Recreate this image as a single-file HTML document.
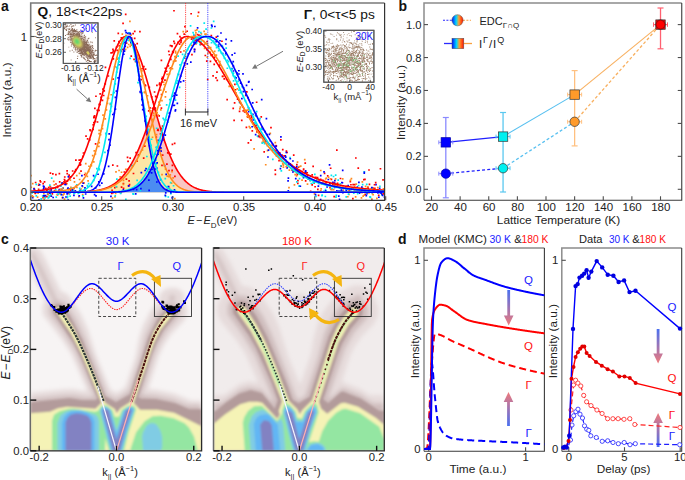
<!DOCTYPE html>
<html><head><meta charset="utf-8"><style>
html,body{margin:0;padding:0;background:#fff;width:685px;height:480px;overflow:hidden}
svg{display:block}
text{font-family:"Liberation Sans", sans-serif}
</style></head><body>
<svg width="685" height="480" viewBox="0 0 685 480">
<defs>
<filter id="b1" x="-20%" y="-20%" width="140%" height="140%"><feGaussianBlur stdDeviation="1"/></filter>
<filter id="b2" x="-20%" y="-20%" width="140%" height="140%"><feGaussianBlur stdDeviation="2"/></filter>
<filter id="b3" x="-30%" y="-30%" width="160%" height="160%"><feGaussianBlur stdDeviation="3"/></filter>
<filter id="b5" x="-30%" y="-30%" width="160%" height="160%"><feGaussianBlur stdDeviation="5"/></filter>
<filter id="b8" x="-40%" y="-40%" width="180%" height="180%"><feGaussianBlur stdDeviation="8"/></filter>
<clipPath id="clipA"><rect x="30.7" y="3" width="354.5" height="197.3"/></clipPath>
<clipPath id="clipCL"><rect x="30.3" y="248" width="171.3" height="202.8"/></clipPath>
<clipPath id="clipCR"><rect x="213.5" y="248" width="170.8" height="202.8"/></clipPath>
<linearGradient id="gDown" x1="0" y1="0" x2="0" y2="1"><stop offset="0" stop-color="#4a70f0"/><stop offset="1" stop-color="#f07a7a"/></linearGradient>
<linearGradient id="gUp" x1="0" y1="1" x2="0" y2="0"><stop offset="0" stop-color="#4a70f0"/><stop offset="1" stop-color="#f07a7a"/></linearGradient>
<linearGradient id="gLeg" x1="0" y1="0" x2="1" y2="0"><stop offset="0" stop-color="#0010ff"/><stop offset="0.38" stop-color="#00d8ff"/><stop offset="0.62" stop-color="#ffa030"/><stop offset="1" stop-color="#ff1000"/></linearGradient>
</defs>
<rect x="0" y="0" width="685" height="480" fill="#fff"/>
<text x="1" y="10.5" font-size="14" text-anchor="start" fill="#111" font-weight="bold">a</text>
<text x="398.5" y="10.5" font-size="14" text-anchor="start" fill="#111" font-weight="bold">b</text>
<text x="1" y="243.5" font-size="14" text-anchor="start" fill="#111" font-weight="bold">c</text>
<text x="398" y="243.5" font-size="14" text-anchor="start" fill="#111" font-weight="bold">d</text>
<g clip-path="url(#clipA)">
<path d="M90.2 192.3 L90.2 191.42 L90.7 191.37 L91.2 191.32 L91.7 191.26 L92.2 191.21 L92.7 191.15 L93.2 191.09 L93.7 191.02 L94.2 190.96 L94.7 190.89 L95.2 190.81 L95.7 190.73 L96.2 190.65 L96.7 190.57 L97.2 190.48 L97.7 190.39 L98.2 190.29 L98.7 190.19 L99.2 190.09 L99.7 189.98 L100.2 189.86 L100.7 189.74 L101.2 189.62 L101.7 189.49 L102.2 189.35 L102.7 189.21 L103.2 189.06 L103.7 188.91 L104.2 188.75 L104.7 188.58 L105.2 188.41 L105.7 188.23 L106.2 188.04 L106.7 187.85 L107.2 187.65 L107.7 187.44 L108.2 187.22 L108.7 187 L109.2 186.76 L109.7 186.52 L110.2 186.27 L110.7 186.01 L111.2 185.73 L111.7 185.45 L112.2 185.16 L112.7 184.86 L113.2 184.55 L113.7 184.23 L114.2 183.9 L114.7 183.55 L115.2 183.2 L115.7 182.83 L116.2 182.45 L116.7 182.06 L117.2 181.65 L117.7 181.24 L118.2 180.81 L118.7 180.36 L119.2 179.9 L119.7 179.43 L120.2 178.95 L120.7 178.45 L121.2 177.93 L121.7 177.4 L122.2 176.85 L122.7 176.29 L123.2 175.72 L123.7 175.12 L124.2 174.51 L124.7 173.89 L125.2 173.25 L125.7 172.59 L126.2 171.91 L126.7 171.21 L127.2 170.5 L127.7 169.77 L128.2 169.03 L128.7 168.26 L129.2 167.48 L129.7 166.67 L130.2 165.85 L130.7 165.01 L131.2 164.16 L131.7 163.28 L132.2 162.38 L132.7 161.47 L133.2 160.53 L133.7 159.58 L134.2 158.61 L134.7 157.61 L135.2 156.6 L135.7 155.57 L136.2 154.52 L136.7 153.45 L137.2 152.36 L137.7 151.25 L138.2 150.13 L138.7 148.98 L139.2 147.82 L139.7 146.63 L140.2 145.43 L140.7 144.21 L141.2 142.97 L141.7 141.72 L142.2 140.45 L142.7 139.16 L143.2 137.85 L143.7 136.52 L144.2 135.18 L144.7 133.83 L145.2 132.45 L145.7 131.07 L146.2 129.67 L146.7 128.25 L147.2 126.82 L147.7 125.37 L148.2 123.92 L148.7 122.45 L149.2 120.97 L149.7 119.48 L150.2 117.98 L150.7 116.46 L151.2 114.94 L151.7 113.41 L152.2 111.88 L152.7 110.33 L153.2 108.78 L153.7 107.22 L154.2 106.5 L154.7 108.3 L155.2 110.09 L155.7 111.88 L156.2 113.65 L156.7 115.41 L157.2 117.16 L157.7 118.9 L158.2 120.63 L158.7 122.34 L159.2 124.03 L159.7 125.71 L160.2 127.37 L160.7 129.01 L161.2 130.64 L161.7 132.24 L162.2 133.83 L162.7 135.39 L163.2 136.93 L163.7 138.45 L164.2 139.95 L164.7 141.43 L165.2 142.88 L165.7 144.31 L166.2 145.71 L166.7 147.09 L167.2 148.45 L167.7 149.78 L168.2 151.08 L168.7 152.36 L169.2 153.62 L169.7 154.85 L170.2 156.05 L170.7 157.23 L171.2 158.38 L171.7 159.5 L172.2 160.61 L172.7 161.68 L173.2 162.73 L173.7 163.75 L174.2 164.75 L174.7 165.73 L175.2 166.67 L175.7 167.6 L176.2 168.5 L176.7 169.37 L177.2 170.22 L177.7 171.05 L178.2 171.86 L178.7 172.64 L179.2 173.39 L179.7 174.13 L180.2 174.84 L180.7 175.54 L181.2 176.21 L181.7 176.85 L182.2 177.48 L182.7 178.09 L183.2 178.68 L183.7 179.25 L184.2 179.8 L184.7 180.33 L185.2 180.84 L185.7 181.33 L186.2 181.81 L186.7 182.27 L187.2 182.72 L187.7 183.14 L188.2 183.55 L188.7 183.95 L189.2 184.33 L189.7 184.7 L190.2 185.05 L190.7 185.39 L191.2 185.71 L191.7 186.03 L192.2 186.33 L192.7 186.61 L193.2 186.89 L193.7 187.15 L194.2 187.41 L194.7 187.65 L195.2 187.88 L195.7 188.1 L196.2 188.31 L196.7 188.52 L197.2 188.71 L197.7 188.9 L198.2 189.07 L198.7 189.24 L199.2 189.4 L199.7 189.56 L200.2 189.7 L200.7 189.84 L201.2 189.98 L201.7 190.1 L202.2 190.22 L202.7 190.34 L203.2 190.45 L203.7 190.55 L204.2 190.65 L204.7 190.74 L205.2 190.83 L205.7 190.91 L206.2 190.99 L206.7 191.07 L207.2 191.14 L207.7 191.21 L208.2 191.27 L208.7 191.33 L209.2 191.39 L209.7 191.45 L210.2 191.5 L210.7 191.55 L211.2 191.59 L211.7 191.64 L212.2 191.68 L212.7 191.72 L213.2 191.75 L213.7 191.79 L214.2 191.82 L214.7 191.85 L215.2 191.88 L215.7 191.91 L216.2 191.93 L216.7 191.95 L217.2 191.98 L217.7 192 L218.2 192.02 L218.7 192.04 L219.2 192.05 L219.7 192.07 L220.2 192.09 L220.7 192.1 L221.2 192.11 L221.7 192.13 L222.2 192.14 L222.7 192.15 L223.2 192.16 L223.7 192.17 L224.2 192.18 L224.7 192.19 L225.2 192.2 L225.7 192.2 L226.2 192.21 L226.7 192.22 L227.2 192.22 L227.7 192.23 L228.2 192.23 L228.7 192.24 L229.2 192.24 L229.7 192.25 L230.2 192.25 L230.7 192.25 L231.2 192.26 L231.7 192.26 L232.2 192.26 L232.7 192.27 L233.2 192.27 L233.7 192.27 L234.2 192.27 L234.7 192.28 L235.2 192.28 L235.7 192.28 L236.2 192.28 L236.7 192.28 L237.2 192.28 L237.7 192.29 L238.2 192.29 L238.7 192.29 L239.2 192.29 L239.7 192.29 L240.2 192.29 L240.7 192.29 L241.2 192.29 L241.7 192.29 L242.2 192.29 L242.7 192.29 L243.2 192.29 L243.7 192.29 L244.2 192.3 L244.7 192.3 L245.2 192.3 L245.7 192.3 L246.2 192.3 L246.7 192.3 L247.2 192.3 L247.7 192.3 L248.2 192.3 L248.7 192.3 L249.2 192.3 L249.7 192.3 L250.2 192.3 L250.7 192.3 L251.2 192.3 L251.7 192.3 L252.2 192.3 L252.7 192.3 L253.2 192.3 L253.7 192.3 L254.2 192.3 L254.7 192.3 L255.2 192.3 L255.7 192.3 L256.2 192.3 L256.7 192.3 L257.2 192.3 L257.7 192.3 L258.2 192.3 L258.7 192.3 L259.2 192.3 L259.7 192.3 L260.2 192.3 L260.7 192.3 L261.2 192.3 L261.7 192.3 L262.2 192.3 L262.7 192.3 L263.2 192.3 L263.7 192.3 L264.2 192.3 L264.7 192.3 L265.2 192.3 L265.7 192.3 L266.2 192.3 L266.7 192.3 L267.2 192.3 L267.7 192.3 L268.2 192.3 L268.7 192.3 L269.2 192.3 L269.7 192.3 L270.2 192.3 L270.7 192.3 L271.2 192.3 L271.7 192.3 L272.2 192.3 L272.7 192.3 L273.2 192.3 L273.7 192.3 L274.2 192.3 L274.7 192.3 L275.2 192.3 L275.7 192.3 L276.2 192.3 L276.7 192.3 L277.2 192.3 L277.7 192.3 L278.2 192.3 L278.7 192.3 L279.2 192.3 L279.7 192.3 L280.2 192.3 L280.7 192.3 L281.2 192.3 L281.7 192.3 L282.2 192.3 L282.7 192.3 L283.2 192.3 L283.7 192.3 L284.2 192.3 L284.7 192.3 L285.2 192.3 L285.7 192.3 L286.2 192.3 L286.7 192.3 L287.2 192.3 L287.7 192.3 L288.2 192.3 L288.7 192.3 L289.2 192.3 L289.7 192.3 L290.2 192.3 L290.7 192.3 L291.2 192.3 L291.7 192.3 L292.2 192.3 L292.7 192.3 L293.2 192.3 L293.7 192.3 L294.2 192.3 L294.7 192.3 L295.2 192.3 L295.7 192.3 L296.2 192.3 L296.7 192.3 L297.2 192.3 L297.7 192.3 L298.2 192.3 L298.7 192.3 L299.2 192.3 L299.7 192.3 L299.7 192.3 Z" fill="#f9c6c4" stroke="none"/>
<path d="M90.2 192.3 L90.2 191.51 L90.7 191.47 L91.2 191.42 L91.7 191.38 L92.2 191.33 L92.7 191.28 L93.2 191.23 L93.7 191.17 L94.2 191.12 L94.7 191.06 L95.2 190.99 L95.7 190.93 L96.2 190.86 L96.7 190.79 L97.2 190.71 L97.7 190.63 L98.2 190.55 L98.7 190.47 L99.2 190.38 L99.7 190.29 L100.2 190.19 L100.7 190.09 L101.2 189.99 L101.7 189.88 L102.2 189.76 L102.7 189.65 L103.2 189.52 L103.7 189.4 L104.2 189.26 L104.7 189.13 L105.2 188.98 L105.7 188.83 L106.2 188.68 L106.7 188.52 L107.2 188.35 L107.7 188.18 L108.2 188 L108.7 187.81 L109.2 187.62 L109.7 187.42 L110.2 187.21 L110.7 187 L111.2 186.77 L111.7 186.54 L112.2 186.3 L112.7 186.06 L113.2 185.8 L113.7 185.54 L114.2 185.26 L114.7 184.98 L115.2 184.69 L115.7 184.39 L116.2 184.07 L116.7 183.75 L117.2 183.42 L117.7 183.08 L118.2 182.72 L118.7 182.36 L119.2 181.98 L119.7 181.6 L120.2 181.2 L120.7 180.79 L121.2 180.36 L121.7 179.93 L122.2 179.48 L122.7 179.02 L123.2 178.54 L123.7 178.05 L124.2 177.55 L124.7 177.04 L125.2 176.51 L125.7 175.97 L126.2 175.41 L126.7 174.83 L127.2 174.25 L127.7 173.64 L128.2 173.03 L128.7 172.39 L129.2 171.75 L129.7 171.08 L130.2 170.4 L130.7 169.7 L131.2 168.99 L131.7 168.26 L132.2 167.51 L132.7 166.75 L133.2 165.97 L133.7 165.18 L134.2 164.36 L134.7 163.53 L135.2 162.68 L135.7 161.82 L136.2 160.94 L136.7 160.04 L137.2 159.12 L137.7 158.18 L138.2 157.23 L138.7 156.26 L139.2 155.27 L139.7 154.27 L140.2 153.25 L140.7 152.21 L141.2 151.15 L141.7 150.07 L142.2 148.98 L142.7 147.87 L143.2 146.75 L143.7 145.61 L144.2 144.45 L144.7 143.27 L145.2 142.08 L145.7 140.87 L146.2 139.65 L146.7 138.41 L147.2 137.16 L147.7 135.89 L148.2 134.6 L148.7 133.31 L149.2 131.99 L149.7 130.67 L150.2 129.33 L150.7 127.98 L151.2 126.61 L151.7 125.24 L152.2 123.85 L152.7 124.06 L153.2 126.24 L153.7 128.39 L154.2 130.51 L154.7 132.59 L155.2 134.64 L155.7 136.66 L156.2 138.63 L156.7 140.57 L157.2 142.47 L157.7 144.34 L158.2 146.16 L158.7 147.93 L159.2 149.67 L159.7 151.37 L160.2 153.02 L160.7 154.63 L161.2 156.19 L161.7 157.71 L162.2 159.19 L162.7 160.63 L163.2 162.02 L163.7 163.37 L164.2 164.67 L164.7 165.94 L165.2 167.16 L165.7 168.34 L166.2 169.48 L166.7 170.58 L167.2 171.63 L167.7 172.65 L168.2 173.63 L168.7 174.58 L169.2 175.48 L169.7 176.35 L170.2 177.18 L170.7 177.98 L171.2 178.75 L171.7 179.48 L172.2 180.18 L172.7 180.85 L173.2 181.49 L173.7 182.1 L174.2 182.68 L174.7 183.23 L175.2 183.76 L175.7 184.26 L176.2 184.74 L176.7 185.19 L177.2 185.62 L177.7 186.03 L178.2 186.42 L178.7 186.79 L179.2 187.13 L179.7 187.46 L180.2 187.77 L180.7 188.06 L181.2 188.34 L181.7 188.6 L182.2 188.85 L182.7 189.08 L183.2 189.29 L183.7 189.5 L184.2 189.69 L184.7 189.87 L185.2 190.04 L185.7 190.2 L186.2 190.35 L186.7 190.49 L187.2 190.62 L187.7 190.74 L188.2 190.86 L188.7 190.96 L189.2 191.06 L189.7 191.16 L190.2 191.24 L190.7 191.32 L191.2 191.4 L191.7 191.47 L192.2 191.53 L192.7 191.59 L193.2 191.65 L193.7 191.7 L194.2 191.75 L194.7 191.79 L195.2 191.83 L195.7 191.87 L196.2 191.91 L196.7 191.94 L197.2 191.97 L197.7 192 L198.2 192.02 L198.7 192.05 L199.2 192.07 L199.7 192.09 L200.2 192.11 L200.7 192.12 L201.2 192.14 L201.7 192.15 L202.2 192.17 L202.7 192.18 L203.2 192.19 L203.7 192.2 L204.2 192.21 L204.7 192.22 L205.2 192.23 L205.7 192.23 L206.2 192.24 L206.7 192.24 L207.2 192.25 L207.7 192.25 L208.2 192.26 L208.7 192.26 L209.2 192.27 L209.7 192.27 L210.2 192.27 L210.7 192.28 L211.2 192.28 L211.7 192.28 L212.2 192.28 L212.7 192.28 L213.2 192.29 L213.7 192.29 L214.2 192.29 L214.7 192.29 L215.2 192.29 L215.7 192.29 L216.2 192.29 L216.7 192.29 L217.2 192.29 L217.7 192.29 L218.2 192.3 L218.7 192.3 L219.2 192.3 L219.7 192.3 L220.2 192.3 L220.7 192.3 L221.2 192.3 L221.7 192.3 L222.2 192.3 L222.7 192.3 L223.2 192.3 L223.7 192.3 L224.2 192.3 L224.7 192.3 L225.2 192.3 L225.7 192.3 L226.2 192.3 L226.7 192.3 L227.2 192.3 L227.7 192.3 L228.2 192.3 L228.7 192.3 L229.2 192.3 L229.7 192.3 L230.2 192.3 L230.7 192.3 L231.2 192.3 L231.7 192.3 L232.2 192.3 L232.7 192.3 L233.2 192.3 L233.7 192.3 L234.2 192.3 L234.7 192.3 L235.2 192.3 L235.7 192.3 L236.2 192.3 L236.7 192.3 L237.2 192.3 L237.7 192.3 L238.2 192.3 L238.7 192.3 L239.2 192.3 L239.7 192.3 L240.2 192.3 L240.7 192.3 L241.2 192.3 L241.7 192.3 L242.2 192.3 L242.7 192.3 L243.2 192.3 L243.7 192.3 L244.2 192.3 L244.7 192.3 L245.2 192.3 L245.7 192.3 L246.2 192.3 L246.7 192.3 L247.2 192.3 L247.7 192.3 L248.2 192.3 L248.7 192.3 L249.2 192.3 L249.7 192.3 L250.2 192.3 L250.7 192.3 L251.2 192.3 L251.7 192.3 L252.2 192.3 L252.7 192.3 L253.2 192.3 L253.7 192.3 L254.2 192.3 L254.7 192.3 L255.2 192.3 L255.7 192.3 L256.2 192.3 L256.7 192.3 L257.2 192.3 L257.7 192.3 L258.2 192.3 L258.7 192.3 L259.2 192.3 L259.7 192.3 L260.2 192.3 L260.7 192.3 L261.2 192.3 L261.7 192.3 L262.2 192.3 L262.7 192.3 L263.2 192.3 L263.7 192.3 L264.2 192.3 L264.7 192.3 L265.2 192.3 L265.7 192.3 L266.2 192.3 L266.7 192.3 L267.2 192.3 L267.7 192.3 L268.2 192.3 L268.7 192.3 L269.2 192.3 L269.7 192.3 L270.2 192.3 L270.7 192.3 L271.2 192.3 L271.7 192.3 L272.2 192.3 L272.7 192.3 L273.2 192.3 L273.7 192.3 L274.2 192.3 L274.7 192.3 L275.2 192.3 L275.7 192.3 L276.2 192.3 L276.7 192.3 L277.2 192.3 L277.7 192.3 L278.2 192.3 L278.7 192.3 L279.2 192.3 L279.7 192.3 L280.2 192.3 L280.7 192.3 L281.2 192.3 L281.7 192.3 L282.2 192.3 L282.7 192.3 L283.2 192.3 L283.7 192.3 L284.2 192.3 L284.7 192.3 L285.2 192.3 L285.7 192.3 L286.2 192.3 L286.7 192.3 L287.2 192.3 L287.7 192.3 L288.2 192.3 L288.7 192.3 L289.2 192.3 L289.7 192.3 L290.2 192.3 L290.7 192.3 L291.2 192.3 L291.7 192.3 L292.2 192.3 L292.7 192.3 L293.2 192.3 L293.7 192.3 L294.2 192.3 L294.7 192.3 L295.2 192.3 L295.7 192.3 L296.2 192.3 L296.7 192.3 L297.2 192.3 L297.7 192.3 L298.2 192.3 L298.7 192.3 L299.2 192.3 L299.7 192.3 L299.7 192.3 Z" fill="#fde6a6" stroke="none"/>
<path d="M90.2 192.3 L90.2 192.3 L90.7 192.3 L91.2 192.3 L91.7 192.3 L92.2 192.3 L92.7 192.3 L93.2 192.3 L93.7 192.3 L94.2 192.29 L94.7 192.29 L95.2 192.29 L95.7 192.29 L96.2 192.29 L96.7 192.29 L97.2 192.29 L97.7 192.29 L98.2 192.29 L98.7 192.29 L99.2 192.28 L99.7 192.28 L100.2 192.28 L100.7 192.28 L101.2 192.28 L101.7 192.27 L102.2 192.27 L102.7 192.27 L103.2 192.26 L103.7 192.26 L104.2 192.25 L104.7 192.25 L105.2 192.24 L105.7 192.24 L106.2 192.23 L106.7 192.22 L107.2 192.22 L107.7 192.21 L108.2 192.2 L108.7 192.19 L109.2 192.18 L109.7 192.17 L110.2 192.15 L110.7 192.14 L111.2 192.13 L111.7 192.11 L112.2 192.09 L112.7 192.07 L113.2 192.05 L113.7 192.03 L114.2 192 L114.7 191.98 L115.2 191.95 L115.7 191.92 L116.2 191.88 L116.7 191.85 L117.2 191.81 L117.7 191.76 L118.2 191.72 L118.7 191.67 L119.2 191.62 L119.7 191.56 L120.2 191.5 L120.7 191.44 L121.2 191.37 L121.7 191.3 L122.2 191.22 L122.7 191.13 L123.2 191.04 L123.7 190.95 L124.2 190.84 L124.7 190.73 L125.2 190.62 L125.7 190.49 L126.2 190.36 L126.7 190.22 L127.2 190.07 L127.7 189.92 L128.2 189.75 L128.7 189.57 L129.2 189.39 L129.7 189.19 L130.2 188.98 L130.7 188.76 L131.2 188.52 L131.7 188.28 L132.2 188.02 L132.7 187.75 L133.2 187.46 L133.7 187.16 L134.2 186.84 L134.7 186.5 L135.2 186.15 L135.7 185.79 L136.2 185.4 L136.7 185 L137.2 184.57 L137.7 184.13 L138.2 183.67 L138.7 183.19 L139.2 182.68 L139.7 182.16 L140.2 181.61 L140.7 181.04 L141.2 180.45 L141.7 179.83 L142.2 179.19 L142.7 178.52 L143.2 177.83 L143.7 177.11 L144.2 176.37 L144.7 175.6 L145.2 174.8 L145.7 173.98 L146.2 173.13 L146.7 172.25 L147.2 171.34 L147.7 170.4 L148.2 169.43 L148.7 168.44 L149.2 167.41 L149.7 166.36 L150.2 165.28 L150.7 164.16 L151.2 163.02 L151.7 161.85 L152.2 160.65 L152.7 159.41 L153.2 158.15 L153.7 158.41 L154.2 160.34 L154.7 162.2 L155.2 163.98 L155.7 165.69 L156.2 167.32 L156.7 168.87 L157.2 170.36 L157.7 171.77 L158.2 173.11 L158.7 174.39 L159.2 175.6 L159.7 176.74 L160.2 177.83 L160.7 178.85 L161.2 179.81 L161.7 180.72 L162.2 181.57 L162.7 182.37 L163.2 183.13 L163.7 183.83 L164.2 184.49 L164.7 185.11 L165.2 185.68 L165.7 186.22 L166.2 186.71 L166.7 187.18 L167.2 187.61 L167.7 188.01 L168.2 188.37 L168.7 188.72 L169.2 189.03 L169.7 189.32 L170.2 189.59 L170.7 189.84 L171.2 190.06 L171.7 190.27 L172.2 190.46 L172.7 190.64 L173.2 190.8 L173.7 190.94 L174.2 191.08 L174.7 191.2 L175.2 191.31 L175.7 191.41 L176.2 191.5 L176.7 191.58 L177.2 191.66 L177.7 191.72 L178.2 191.79 L178.7 191.84 L179.2 191.89 L179.7 191.93 L180.2 191.97 L180.7 192.01 L181.2 192.04 L181.7 192.07 L182.2 192.1 L182.7 192.12 L183.2 192.14 L183.7 192.16 L184.2 192.18 L184.7 192.19 L185.2 192.2 L185.7 192.22 L186.2 192.23 L186.7 192.24 L187.2 192.24 L187.7 192.25 L188.2 192.26 L188.7 192.26 L189.2 192.27 L189.7 192.27 L190.2 192.27 L190.7 192.28 L191.2 192.28 L191.7 192.28 L192.2 192.29 L192.7 192.29 L193.2 192.29 L193.7 192.29 L194.2 192.29 L194.7 192.29 L195.2 192.29 L195.7 192.29 L196.2 192.3 L196.7 192.3 L197.2 192.3 L197.7 192.3 L198.2 192.3 L198.7 192.3 L199.2 192.3 L199.7 192.3 L200.2 192.3 L200.7 192.3 L201.2 192.3 L201.7 192.3 L202.2 192.3 L202.7 192.3 L203.2 192.3 L203.7 192.3 L204.2 192.3 L204.7 192.3 L205.2 192.3 L205.7 192.3 L206.2 192.3 L206.7 192.3 L207.2 192.3 L207.7 192.3 L208.2 192.3 L208.7 192.3 L209.2 192.3 L209.7 192.3 L210.2 192.3 L210.7 192.3 L211.2 192.3 L211.7 192.3 L212.2 192.3 L212.7 192.3 L213.2 192.3 L213.7 192.3 L214.2 192.3 L214.7 192.3 L215.2 192.3 L215.7 192.3 L216.2 192.3 L216.7 192.3 L217.2 192.3 L217.7 192.3 L218.2 192.3 L218.7 192.3 L219.2 192.3 L219.7 192.3 L220.2 192.3 L220.7 192.3 L221.2 192.3 L221.7 192.3 L222.2 192.3 L222.7 192.3 L223.2 192.3 L223.7 192.3 L224.2 192.3 L224.7 192.3 L225.2 192.3 L225.7 192.3 L226.2 192.3 L226.7 192.3 L227.2 192.3 L227.7 192.3 L228.2 192.3 L228.7 192.3 L229.2 192.3 L229.7 192.3 L230.2 192.3 L230.7 192.3 L231.2 192.3 L231.7 192.3 L232.2 192.3 L232.7 192.3 L233.2 192.3 L233.7 192.3 L234.2 192.3 L234.7 192.3 L235.2 192.3 L235.7 192.3 L236.2 192.3 L236.7 192.3 L237.2 192.3 L237.7 192.3 L238.2 192.3 L238.7 192.3 L239.2 192.3 L239.7 192.3 L240.2 192.3 L240.7 192.3 L241.2 192.3 L241.7 192.3 L242.2 192.3 L242.7 192.3 L243.2 192.3 L243.7 192.3 L244.2 192.3 L244.7 192.3 L245.2 192.3 L245.7 192.3 L246.2 192.3 L246.7 192.3 L247.2 192.3 L247.7 192.3 L248.2 192.3 L248.7 192.3 L249.2 192.3 L249.7 192.3 L250.2 192.3 L250.7 192.3 L251.2 192.3 L251.7 192.3 L252.2 192.3 L252.7 192.3 L253.2 192.3 L253.7 192.3 L254.2 192.3 L254.7 192.3 L255.2 192.3 L255.7 192.3 L256.2 192.3 L256.7 192.3 L257.2 192.3 L257.7 192.3 L258.2 192.3 L258.7 192.3 L259.2 192.3 L259.7 192.3 L260.2 192.3 L260.7 192.3 L261.2 192.3 L261.7 192.3 L262.2 192.3 L262.7 192.3 L263.2 192.3 L263.7 192.3 L264.2 192.3 L264.7 192.3 L265.2 192.3 L265.7 192.3 L266.2 192.3 L266.7 192.3 L267.2 192.3 L267.7 192.3 L268.2 192.3 L268.7 192.3 L269.2 192.3 L269.7 192.3 L270.2 192.3 L270.7 192.3 L271.2 192.3 L271.7 192.3 L272.2 192.3 L272.7 192.3 L273.2 192.3 L273.7 192.3 L274.2 192.3 L274.7 192.3 L275.2 192.3 L275.7 192.3 L276.2 192.3 L276.7 192.3 L277.2 192.3 L277.7 192.3 L278.2 192.3 L278.7 192.3 L279.2 192.3 L279.7 192.3 L280.2 192.3 L280.7 192.3 L281.2 192.3 L281.7 192.3 L282.2 192.3 L282.7 192.3 L283.2 192.3 L283.7 192.3 L284.2 192.3 L284.7 192.3 L285.2 192.3 L285.7 192.3 L286.2 192.3 L286.7 192.3 L287.2 192.3 L287.7 192.3 L288.2 192.3 L288.7 192.3 L289.2 192.3 L289.7 192.3 L290.2 192.3 L290.7 192.3 L291.2 192.3 L291.7 192.3 L292.2 192.3 L292.7 192.3 L293.2 192.3 L293.7 192.3 L294.2 192.3 L294.7 192.3 L295.2 192.3 L295.7 192.3 L296.2 192.3 L296.7 192.3 L297.2 192.3 L297.7 192.3 L298.2 192.3 L298.7 192.3 L299.2 192.3 L299.7 192.3 L299.7 192.3 Z" fill="#fde6a6" stroke="none"/>
<path d="M90.2 192.3 L90.2 192.3 L90.7 192.3 L91.2 192.3 L91.7 192.3 L92.2 192.3 L92.7 192.3 L93.2 192.3 L93.7 192.3 L94.2 192.3 L94.7 192.3 L95.2 192.3 L95.7 192.3 L96.2 192.3 L96.7 192.3 L97.2 192.3 L97.7 192.29 L98.2 192.29 L98.7 192.29 L99.2 192.29 L99.7 192.29 L100.2 192.29 L100.7 192.29 L101.2 192.29 L101.7 192.29 L102.2 192.28 L102.7 192.28 L103.2 192.28 L103.7 192.28 L104.2 192.28 L104.7 192.27 L105.2 192.27 L105.7 192.27 L106.2 192.26 L106.7 192.26 L107.2 192.26 L107.7 192.25 L108.2 192.25 L108.7 192.24 L109.2 192.23 L109.7 192.23 L110.2 192.22 L110.7 192.21 L111.2 192.2 L111.7 192.19 L112.2 192.18 L112.7 192.17 L113.2 192.16 L113.7 192.14 L114.2 192.13 L114.7 192.11 L115.2 192.09 L115.7 192.07 L116.2 192.05 L116.7 192.03 L117.2 192 L117.7 191.98 L118.2 191.95 L118.7 191.91 L119.2 191.88 L119.7 191.84 L120.2 191.8 L120.7 191.76 L121.2 191.71 L121.7 191.66 L122.2 191.61 L122.7 191.55 L123.2 191.49 L123.7 191.43 L124.2 191.36 L124.7 191.28 L125.2 191.2 L125.7 191.11 L126.2 191.02 L126.7 190.92 L127.2 190.81 L127.7 190.7 L128.2 190.58 L128.7 190.45 L129.2 190.32 L129.7 190.18 L130.2 190.02 L130.7 189.86 L131.2 189.69 L131.7 189.51 L132.2 189.31 L132.7 189.11 L133.2 188.89 L133.7 188.67 L134.2 188.42 L134.7 188.17 L135.2 187.9 L135.7 187.62 L136.2 187.33 L136.7 187.01 L137.2 186.69 L137.7 186.34 L138.2 185.98 L138.7 185.6 L139.2 185.21 L139.7 184.79 L140.2 184.36 L140.7 183.9 L141.2 183.43 L141.7 182.93 L142.2 182.42 L142.7 181.88 L143.2 181.32 L143.7 180.73 L144.2 180.13 L144.7 179.49 L145.2 178.84 L145.7 178.16 L146.2 177.45 L146.7 176.72 L147.2 175.96 L147.7 175.17 L148.2 174.36 L148.7 173.52 L149.2 172.65 L149.7 171.76 L150.2 170.83 L150.7 169.88 L151.2 168.9 L151.7 167.89 L152.2 166.85 L152.7 165.78 L153.2 165.04 L153.7 166.98 L154.2 168.81 L154.7 170.55 L155.2 172.19 L155.7 173.73 L156.2 175.18 L156.7 176.54 L157.2 177.82 L157.7 179.01 L158.2 180.12 L158.7 181.16 L159.2 182.12 L159.7 183.02 L160.2 183.85 L160.7 184.61 L161.2 185.32 L161.7 185.97 L162.2 186.57 L162.7 187.12 L163.2 187.63 L163.7 188.09 L164.2 188.51 L164.7 188.9 L165.2 189.25 L165.7 189.57 L166.2 189.86 L166.7 190.12 L167.2 190.36 L167.7 190.57 L168.2 190.76 L168.7 190.94 L169.2 191.09 L169.7 191.23 L170.2 191.35 L170.7 191.47 L171.2 191.57 L171.7 191.65 L172.2 191.73 L172.7 191.8 L173.2 191.87 L173.7 191.92 L174.2 191.97 L174.7 192.01 L175.2 192.05 L175.7 192.08 L176.2 192.11 L176.7 192.14 L177.2 192.16 L177.7 192.18 L178.2 192.19 L178.7 192.21 L179.2 192.22 L179.7 192.23 L180.2 192.24 L180.7 192.25 L181.2 192.26 L181.7 192.26 L182.2 192.27 L182.7 192.27 L183.2 192.28 L183.7 192.28 L184.2 192.28 L184.7 192.29 L185.2 192.29 L185.7 192.29 L186.2 192.29 L186.7 192.29 L187.2 192.29 L187.7 192.3 L188.2 192.3 L188.7 192.3 L189.2 192.3 L189.7 192.3 L190.2 192.3 L190.7 192.3 L191.2 192.3 L191.7 192.3 L192.2 192.3 L192.7 192.3 L193.2 192.3 L193.7 192.3 L194.2 192.3 L194.7 192.3 L195.2 192.3 L195.7 192.3 L196.2 192.3 L196.7 192.3 L197.2 192.3 L197.7 192.3 L198.2 192.3 L198.7 192.3 L199.2 192.3 L199.7 192.3 L200.2 192.3 L200.7 192.3 L201.2 192.3 L201.7 192.3 L202.2 192.3 L202.7 192.3 L203.2 192.3 L203.7 192.3 L204.2 192.3 L204.7 192.3 L205.2 192.3 L205.7 192.3 L206.2 192.3 L206.7 192.3 L207.2 192.3 L207.7 192.3 L208.2 192.3 L208.7 192.3 L209.2 192.3 L209.7 192.3 L210.2 192.3 L210.7 192.3 L211.2 192.3 L211.7 192.3 L212.2 192.3 L212.7 192.3 L213.2 192.3 L213.7 192.3 L214.2 192.3 L214.7 192.3 L215.2 192.3 L215.7 192.3 L216.2 192.3 L216.7 192.3 L217.2 192.3 L217.7 192.3 L218.2 192.3 L218.7 192.3 L219.2 192.3 L219.7 192.3 L220.2 192.3 L220.7 192.3 L221.2 192.3 L221.7 192.3 L222.2 192.3 L222.7 192.3 L223.2 192.3 L223.7 192.3 L224.2 192.3 L224.7 192.3 L225.2 192.3 L225.7 192.3 L226.2 192.3 L226.7 192.3 L227.2 192.3 L227.7 192.3 L228.2 192.3 L228.7 192.3 L229.2 192.3 L229.7 192.3 L230.2 192.3 L230.7 192.3 L231.2 192.3 L231.7 192.3 L232.2 192.3 L232.7 192.3 L233.2 192.3 L233.7 192.3 L234.2 192.3 L234.7 192.3 L235.2 192.3 L235.7 192.3 L236.2 192.3 L236.7 192.3 L237.2 192.3 L237.7 192.3 L238.2 192.3 L238.7 192.3 L239.2 192.3 L239.7 192.3 L240.2 192.3 L240.7 192.3 L241.2 192.3 L241.7 192.3 L242.2 192.3 L242.7 192.3 L243.2 192.3 L243.7 192.3 L244.2 192.3 L244.7 192.3 L245.2 192.3 L245.7 192.3 L246.2 192.3 L246.7 192.3 L247.2 192.3 L247.7 192.3 L248.2 192.3 L248.7 192.3 L249.2 192.3 L249.7 192.3 L250.2 192.3 L250.7 192.3 L251.2 192.3 L251.7 192.3 L252.2 192.3 L252.7 192.3 L253.2 192.3 L253.7 192.3 L254.2 192.3 L254.7 192.3 L255.2 192.3 L255.7 192.3 L256.2 192.3 L256.7 192.3 L257.2 192.3 L257.7 192.3 L258.2 192.3 L258.7 192.3 L259.2 192.3 L259.7 192.3 L260.2 192.3 L260.7 192.3 L261.2 192.3 L261.7 192.3 L262.2 192.3 L262.7 192.3 L263.2 192.3 L263.7 192.3 L264.2 192.3 L264.7 192.3 L265.2 192.3 L265.7 192.3 L266.2 192.3 L266.7 192.3 L267.2 192.3 L267.7 192.3 L268.2 192.3 L268.7 192.3 L269.2 192.3 L269.7 192.3 L270.2 192.3 L270.7 192.3 L271.2 192.3 L271.7 192.3 L272.2 192.3 L272.7 192.3 L273.2 192.3 L273.7 192.3 L274.2 192.3 L274.7 192.3 L275.2 192.3 L275.7 192.3 L276.2 192.3 L276.7 192.3 L277.2 192.3 L277.7 192.3 L278.2 192.3 L278.7 192.3 L279.2 192.3 L279.7 192.3 L280.2 192.3 L280.7 192.3 L281.2 192.3 L281.7 192.3 L282.2 192.3 L282.7 192.3 L283.2 192.3 L283.7 192.3 L284.2 192.3 L284.7 192.3 L285.2 192.3 L285.7 192.3 L286.2 192.3 L286.7 192.3 L287.2 192.3 L287.7 192.3 L288.2 192.3 L288.7 192.3 L289.2 192.3 L289.7 192.3 L290.2 192.3 L290.7 192.3 L291.2 192.3 L291.7 192.3 L292.2 192.3 L292.7 192.3 L293.2 192.3 L293.7 192.3 L294.2 192.3 L294.7 192.3 L295.2 192.3 L295.7 192.3 L296.2 192.3 L296.7 192.3 L297.2 192.3 L297.7 192.3 L298.2 192.3 L298.7 192.3 L299.2 192.3 L299.7 192.3 L299.7 192.3 Z" fill="#4b8cf2" stroke="none"/>
<path d="M94.75 143.11h1.7v1.7h-1.7zM96.67 121.16h1.7v1.7h-1.7zM102.79 94.67h1.7v1.7h-1.7zM103.38 89.96h1.7v1.7h-1.7zM120.48 36.88h1.7v1.7h-1.7zM73.14 177.4h1.7v1.7h-1.7zM42.3 182.68h1.7v1.7h-1.7zM35.22 206.71h1.7v1.7h-1.7zM171.57 143.62h1.7v1.7h-1.7zM118.41 44.95h1.7v1.7h-1.7zM51.99 173.1h1.7v1.7h-1.7zM37.78 188.42h1.7v1.7h-1.7zM56.73 185.6h1.7v1.7h-1.7zM96.42 109.45h1.7v1.7h-1.7zM93.03 116.69h1.7v1.7h-1.7zM121.99 48.62h1.7v1.7h-1.7zM101.62 99.5h1.7v1.7h-1.7zM69.48 187.88h1.7v1.7h-1.7zM173.81 142.43h1.7v1.7h-1.7zM131.78 41.54h1.7v1.7h-1.7zM74.87 168.65h1.7v1.7h-1.7zM39.33 180.04h1.7v1.7h-1.7zM140.26 78.79h1.7v1.7h-1.7zM85.19 135.19h1.7v1.7h-1.7zM168.07 151.84h1.7v1.7h-1.7zM59.56 184.77h1.7v1.7h-1.7zM161.14 164.49h1.7v1.7h-1.7zM86.78 137.97h1.7v1.7h-1.7zM39.74 203.5h1.7v1.7h-1.7zM68.27 192.86h1.7v1.7h-1.7zM41.79 204.27h1.7v1.7h-1.7zM139.07 30.83h1.7v1.7h-1.7zM46.26 188.53h1.7v1.7h-1.7zM37.83 184.37h1.7v1.7h-1.7zM144.72 68.19h1.7v1.7h-1.7zM94.03 107.52h1.7v1.7h-1.7zM56.8 186.43h1.7v1.7h-1.7zM122.49 42.6h1.7v1.7h-1.7zM46.04 195.79h1.7v1.7h-1.7zM68.27 174.25h1.7v1.7h-1.7zM169.93 153.3h1.7v1.7h-1.7zM157.46 129.53h1.7v1.7h-1.7zM59.7 202.44h1.7v1.7h-1.7zM122.22 22.49h1.7v1.7h-1.7zM43.7 180.99h1.7v1.7h-1.7zM66.6 180.21h1.7v1.7h-1.7zM141.19 67.92h1.7v1.7h-1.7zM39.79 180.94h1.7v1.7h-1.7zM42.22 196.83h1.7v1.7h-1.7zM116.34 49.48h1.7v1.7h-1.7zM83.05 182.15h1.7v1.7h-1.7zM99.29 93.04h1.7v1.7h-1.7zM112.46 49.95h1.7v1.7h-1.7zM51.5 193.02h1.7v1.7h-1.7zM160.87 127.8h1.7v1.7h-1.7zM56.67 193.84h1.7v1.7h-1.7zM136.37 42.77h1.7v1.7h-1.7zM166.92 151.94h1.7v1.7h-1.7zM157.07 128.53h1.7v1.7h-1.7zM44.21 196.39h1.7v1.7h-1.7zM34.76 181.64h1.7v1.7h-1.7zM131.31 42.25h1.7v1.7h-1.7zM66.41 172.8h1.7v1.7h-1.7zM71.7 188.37h1.7v1.7h-1.7zM54.59 187.37h1.7v1.7h-1.7zM62.27 187.25h1.7v1.7h-1.7zM110.26 51.95h1.7v1.7h-1.7zM69.78 189.44h1.7v1.7h-1.7zM162.17 134.91h1.7v1.7h-1.7zM68.18 176.15h1.7v1.7h-1.7zM93.78 115.08h1.7v1.7h-1.7zM82.62 152.17h1.7v1.7h-1.7zM112.11 48.42h1.7v1.7h-1.7zM158.34 114.98h1.7v1.7h-1.7zM171.32 169.58h1.7v1.7h-1.7zM113.89 65.91h1.7v1.7h-1.7zM49.5 185.82h1.7v1.7h-1.7zM161.13 131.8h1.7v1.7h-1.7zM130.79 37.18h1.7v1.7h-1.7zM121.4 37.87h1.7v1.7h-1.7zM99.07 103.67h1.7v1.7h-1.7zM174.06 175.44h1.7v1.7h-1.7zM40.06 207.83h1.7v1.7h-1.7zM159.68 133.06h1.7v1.7h-1.7zM136.03 55.12h1.7v1.7h-1.7zM161.83 154.34h1.7v1.7h-1.7zM80.17 170.28h1.7v1.7h-1.7zM155.46 136.25h1.7v1.7h-1.7zM89.64 129.72h1.7v1.7h-1.7zM112.21 78.22h1.7v1.7h-1.7zM119.77 50.57h1.7v1.7h-1.7zM117.44 32.53h1.7v1.7h-1.7zM40.78 213.13h1.7v1.7h-1.7zM156.72 146.01h1.7v1.7h-1.7zM134.74 60.87h1.7v1.7h-1.7zM113.39 40.04h1.7v1.7h-1.7zM93.03 121.87h1.7v1.7h-1.7zM137.93 58.06h1.7v1.7h-1.7zM33.47 200.89h1.7v1.7h-1.7zM62.53 190.7h1.7v1.7h-1.7zM130.41 55.18h1.7v1.7h-1.7zM162.62 136.62h1.7v1.7h-1.7zM66.25 170.11h1.7v1.7h-1.7zM127.48 35.68h1.7v1.7h-1.7zM58.52 172.68h1.7v1.7h-1.7zM124.85 13.43h1.7v1.7h-1.7zM93.23 115.66h1.7v1.7h-1.7zM125.71 42.26h1.7v1.7h-1.7zM57.93 204.43h1.7v1.7h-1.7zM161.71 125.21h1.7v1.7h-1.7zM156.79 129.4h1.7v1.7h-1.7zM75.04 159.35h1.7v1.7h-1.7zM48.9 210.38h1.7v1.7h-1.7zM152.21 101.05h1.7v1.7h-1.7zM132.28 32.77h1.7v1.7h-1.7zM53.67 189.76h1.7v1.7h-1.7zM94.49 120.59h1.7v1.7h-1.7zM89.18 129.02h1.7v1.7h-1.7zM119.88 49.17h1.7v1.7h-1.7zM150.82 96.1h1.7v1.7h-1.7zM171.55 164.58h1.7v1.7h-1.7zM33.72 188.75h1.7v1.7h-1.7zM155.71 96.34h1.7v1.7h-1.7zM111.88 51.87h1.7v1.7h-1.7zM73.96 170.64h1.7v1.7h-1.7zM48.85 190.35h1.7v1.7h-1.7zM95.1 95.42h1.7v1.7h-1.7zM63.57 178.64h1.7v1.7h-1.7zM49.58 172.23h1.7v1.7h-1.7zM93.89 116.66h1.7v1.7h-1.7zM120.49 50.17h1.7v1.7h-1.7zM168.13 169.75h1.7v1.7h-1.7zM128.4 32.86h1.7v1.7h-1.7zM55.06 173.79h1.7v1.7h-1.7zM30.71 208.52h1.7v1.7h-1.7zM55.12 183.15h1.7v1.7h-1.7zM68.64 187.97h1.7v1.7h-1.7zM104.61 66.54h1.7v1.7h-1.7zM118.24 41.03h1.7v1.7h-1.7zM143.98 83.94h1.7v1.7h-1.7zM160.55 107.28h1.7v1.7h-1.7zM133.89 30.46h1.7v1.7h-1.7zM47.99 204h1.7v1.7h-1.7zM161.09 127.46h1.7v1.7h-1.7zM83.79 173.88h1.7v1.7h-1.7zM144.68 84.7h1.7v1.7h-1.7zM166.07 163.36h1.7v1.7h-1.7zM58.86 180.97h1.7v1.7h-1.7zM133.83 37.51h1.7v1.7h-1.7zM133.21 58.54h1.7v1.7h-1.7z" fill="#ff0000"/>
<path d="M97.96 145.49h1.7v1.7h-1.7zM49.83 200.45h1.7v1.7h-1.7zM30.72 195.66h1.7v1.7h-1.7zM146.65 94.9h1.7v1.7h-1.7zM129.29 45.55h1.7v1.7h-1.7zM125.04 41.84h1.7v1.7h-1.7zM50.22 195.09h1.7v1.7h-1.7zM160.52 154.15h1.7v1.7h-1.7zM37.68 189.87h1.7v1.7h-1.7zM128.76 39.75h1.7v1.7h-1.7zM78.01 195.82h1.7v1.7h-1.7zM31.85 182.8h1.7v1.7h-1.7zM37.96 183.15h1.7v1.7h-1.7zM42.34 195.78h1.7v1.7h-1.7zM172.28 176.96h1.7v1.7h-1.7zM90.51 164.68h1.7v1.7h-1.7zM48.74 195h1.7v1.7h-1.7zM52.86 180.61h1.7v1.7h-1.7zM130.19 34.27h1.7v1.7h-1.7zM147.43 101.46h1.7v1.7h-1.7zM87.23 180.07h1.7v1.7h-1.7zM98.28 132.76h1.7v1.7h-1.7zM84.91 162.8h1.7v1.7h-1.7zM169.43 174.08h1.7v1.7h-1.7zM170.71 182.21h1.7v1.7h-1.7zM81.8 185.82h1.7v1.7h-1.7zM129.22 39.24h1.7v1.7h-1.7zM63.22 193.02h1.7v1.7h-1.7zM81.83 193.69h1.7v1.7h-1.7zM101.65 124.48h1.7v1.7h-1.7zM33.23 187.59h1.7v1.7h-1.7zM104.4 117.99h1.7v1.7h-1.7zM61.36 196.82h1.7v1.7h-1.7zM141.08 70.12h1.7v1.7h-1.7zM44.03 195.65h1.7v1.7h-1.7zM130.05 40.1h1.7v1.7h-1.7zM34.49 192.4h1.7v1.7h-1.7zM121.5 33.24h1.7v1.7h-1.7zM36.7 196.33h1.7v1.7h-1.7zM70.02 186.61h1.7v1.7h-1.7zM98.21 129.55h1.7v1.7h-1.7zM167.75 175.83h1.7v1.7h-1.7zM53.45 184.02h1.7v1.7h-1.7zM56.59 193.79h1.7v1.7h-1.7zM137.69 58.76h1.7v1.7h-1.7zM68.05 189.06h1.7v1.7h-1.7zM140.9 75.9h1.7v1.7h-1.7zM30.4 186.41h1.7v1.7h-1.7zM34.95 207.6h1.7v1.7h-1.7zM173.93 197.69h1.7v1.7h-1.7zM102.17 114.3h1.7v1.7h-1.7zM143.32 82.66h1.7v1.7h-1.7zM149.78 117.54h1.7v1.7h-1.7zM105.6 109.1h1.7v1.7h-1.7zM98.37 141.76h1.7v1.7h-1.7zM166.42 175.28h1.7v1.7h-1.7zM158.83 147.05h1.7v1.7h-1.7zM155.76 133.87h1.7v1.7h-1.7zM69.5 179.34h1.7v1.7h-1.7zM130.07 41.84h1.7v1.7h-1.7zM131.33 39.36h1.7v1.7h-1.7zM66.12 182.85h1.7v1.7h-1.7zM128.23 37.91h1.7v1.7h-1.7zM157.68 150.38h1.7v1.7h-1.7zM90.1 164.03h1.7v1.7h-1.7zM171.17 170.77h1.7v1.7h-1.7zM110.34 93.9h1.7v1.7h-1.7zM168.64 187.49h1.7v1.7h-1.7zM139.41 75.42h1.7v1.7h-1.7zM159.79 148.45h1.7v1.7h-1.7zM143.59 91.22h1.7v1.7h-1.7zM82.58 182.04h1.7v1.7h-1.7zM135.85 54.26h1.7v1.7h-1.7zM132.12 43h1.7v1.7h-1.7zM160.2 149.97h1.7v1.7h-1.7zM161.17 173.71h1.7v1.7h-1.7zM106.72 97.44h1.7v1.7h-1.7zM43.4 198.41h1.7v1.7h-1.7zM80.36 188.13h1.7v1.7h-1.7zM129.07 20.5h1.7v1.7h-1.7zM107.68 97.4h1.7v1.7h-1.7zM106.62 102.57h1.7v1.7h-1.7zM130.74 44.3h1.7v1.7h-1.7zM88.15 165.39h1.7v1.7h-1.7zM76.07 186.64h1.7v1.7h-1.7zM42.28 195.01h1.7v1.7h-1.7zM74.46 190.34h1.7v1.7h-1.7zM124.76 48.47h1.7v1.7h-1.7zM164.68 168.37h1.7v1.7h-1.7zM99.88 129.81h1.7v1.7h-1.7zM93.48 150.04h1.7v1.7h-1.7zM78.63 172.47h1.7v1.7h-1.7zM63.71 198.28h1.7v1.7h-1.7zM30.27 174.74h1.7v1.7h-1.7zM81.4 181.02h1.7v1.7h-1.7zM91.86 154.7h1.7v1.7h-1.7zM61.11 181.91h1.7v1.7h-1.7zM130.37 43.57h1.7v1.7h-1.7zM52.69 201.03h1.7v1.7h-1.7zM151.37 118.74h1.7v1.7h-1.7zM65.38 204.04h1.7v1.7h-1.7zM149.74 109.91h1.7v1.7h-1.7zM62.14 202.6h1.7v1.7h-1.7zM86.47 175.5h1.7v1.7h-1.7zM126.79 46.55h1.7v1.7h-1.7zM109.46 103.61h1.7v1.7h-1.7zM127.86 43.67h1.7v1.7h-1.7zM75.88 174.84h1.7v1.7h-1.7zM101.64 127.82h1.7v1.7h-1.7zM48.86 185.72h1.7v1.7h-1.7z" fill="#ff8a1e"/>
<path d="M66.71 195.61h1.7v1.7h-1.7zM152.3 165.13h1.7v1.7h-1.7zM56.08 190.97h1.7v1.7h-1.7zM61.8 187.51h1.7v1.7h-1.7zM135.58 55.07h1.7v1.7h-1.7zM60.17 185.14h1.7v1.7h-1.7zM71.88 203.4h1.7v1.7h-1.7zM117.37 57.22h1.7v1.7h-1.7zM31.24 192.09h1.7v1.7h-1.7zM155.49 163h1.7v1.7h-1.7zM146.56 122.37h1.7v1.7h-1.7zM137.14 81.76h1.7v1.7h-1.7zM166.8 185.65h1.7v1.7h-1.7zM152.39 160.91h1.7v1.7h-1.7zM99.73 160.02h1.7v1.7h-1.7zM91.44 190.57h1.7v1.7h-1.7zM81.96 195.11h1.7v1.7h-1.7zM46.17 188.85h1.7v1.7h-1.7zM148 128.76h1.7v1.7h-1.7zM129.33 57.62h1.7v1.7h-1.7zM109.51 110.37h1.7v1.7h-1.7zM127.29 39.56h1.7v1.7h-1.7zM93.44 175.91h1.7v1.7h-1.7zM104.94 132.56h1.7v1.7h-1.7zM65.88 200.66h1.7v1.7h-1.7zM86.53 184.68h1.7v1.7h-1.7zM48.11 196.58h1.7v1.7h-1.7zM63.32 191.13h1.7v1.7h-1.7zM57.35 193.27h1.7v1.7h-1.7zM123.58 36.85h1.7v1.7h-1.7zM167.43 196.17h1.7v1.7h-1.7zM164.43 177.78h1.7v1.7h-1.7zM35.42 183.46h1.7v1.7h-1.7zM150.68 138.4h1.7v1.7h-1.7zM121.81 39.65h1.7v1.7h-1.7zM155.05 159.37h1.7v1.7h-1.7zM157.65 171.48h1.7v1.7h-1.7zM152.93 162.34h1.7v1.7h-1.7zM83.49 189.76h1.7v1.7h-1.7zM169.99 192.77h1.7v1.7h-1.7zM116.66 67.48h1.7v1.7h-1.7zM118.65 61.07h1.7v1.7h-1.7zM113.38 91.68h1.7v1.7h-1.7zM134.67 59.97h1.7v1.7h-1.7zM78.64 191.7h1.7v1.7h-1.7zM128.33 32.6h1.7v1.7h-1.7zM45.43 191.04h1.7v1.7h-1.7zM122.46 38.98h1.7v1.7h-1.7zM109.79 110.5h1.7v1.7h-1.7zM92.89 179.6h1.7v1.7h-1.7zM78.89 190.02h1.7v1.7h-1.7zM173.85 190.05h1.7v1.7h-1.7zM46.77 193.21h1.7v1.7h-1.7zM115.75 66.53h1.7v1.7h-1.7zM40.38 198.03h1.7v1.7h-1.7zM150.15 144.54h1.7v1.7h-1.7zM29.98 195.62h1.7v1.7h-1.7zM169.77 181.87h1.7v1.7h-1.7zM104.07 151.57h1.7v1.7h-1.7zM72.15 189.56h1.7v1.7h-1.7zM33.75 206.85h1.7v1.7h-1.7zM136.21 64.44h1.7v1.7h-1.7zM66.61 196.89h1.7v1.7h-1.7zM66.64 203.88h1.7v1.7h-1.7zM114.41 82.99h1.7v1.7h-1.7zM70.82 187.16h1.7v1.7h-1.7zM58.71 192.6h1.7v1.7h-1.7zM86.81 185.3h1.7v1.7h-1.7zM41.73 190.96h1.7v1.7h-1.7zM29.74 200.93h1.7v1.7h-1.7zM141.36 92.18h1.7v1.7h-1.7zM109.57 102.5h1.7v1.7h-1.7zM77.42 192.57h1.7v1.7h-1.7zM49.01 184.19h1.7v1.7h-1.7zM154.37 153.23h1.7v1.7h-1.7zM60.8 182.99h1.7v1.7h-1.7zM73.14 192.58h1.7v1.7h-1.7zM47.75 190.27h1.7v1.7h-1.7zM81.5 203.16h1.7v1.7h-1.7zM172.68 184.92h1.7v1.7h-1.7zM35.47 195.05h1.7v1.7h-1.7zM145.68 122.6h1.7v1.7h-1.7zM75.94 184.05h1.7v1.7h-1.7zM47.37 196.94h1.7v1.7h-1.7zM29.87 191.28h1.7v1.7h-1.7zM50.86 177.34h1.7v1.7h-1.7zM98.59 168.82h1.7v1.7h-1.7zM145.41 115.52h1.7v1.7h-1.7zM60.14 193.49h1.7v1.7h-1.7zM164.78 195.47h1.7v1.7h-1.7z" fill="#00e8f0"/>
<path d="M44.64 194.77h1.7v1.7h-1.7zM165.5 199.91h1.7v1.7h-1.7zM68.46 191.91h1.7v1.7h-1.7zM124.63 29.78h1.7v1.7h-1.7zM73.08 194.58h1.7v1.7h-1.7zM141.89 108.84h1.7v1.7h-1.7zM46.32 188.65h1.7v1.7h-1.7zM81.06 174.75h1.7v1.7h-1.7zM66.91 187.77h1.7v1.7h-1.7zM50.86 201.83h1.7v1.7h-1.7zM109.09 144.2h1.7v1.7h-1.7zM123.65 50.26h1.7v1.7h-1.7zM46.99 193.14h1.7v1.7h-1.7zM58.79 188.68h1.7v1.7h-1.7zM170.96 210.36h1.7v1.7h-1.7zM92.75 174.74h1.7v1.7h-1.7zM117.24 76.99h1.7v1.7h-1.7zM45.32 199.97h1.7v1.7h-1.7zM114.57 108.21h1.7v1.7h-1.7zM42.88 195.12h1.7v1.7h-1.7zM156 181.16h1.7v1.7h-1.7zM94.78 187h1.7v1.7h-1.7zM60.79 188.71h1.7v1.7h-1.7zM44 200.21h1.7v1.7h-1.7zM147.78 136.28h1.7v1.7h-1.7zM33.21 188.08h1.7v1.7h-1.7zM136.5 56.42h1.7v1.7h-1.7zM42.63 185.21h1.7v1.7h-1.7zM98.81 184.58h1.7v1.7h-1.7zM95.15 195.02h1.7v1.7h-1.7zM99.46 189.14h1.7v1.7h-1.7zM42.9 187.41h1.7v1.7h-1.7zM97.96 180.98h1.7v1.7h-1.7zM165.31 173.44h1.7v1.7h-1.7zM38.79 183.9h1.7v1.7h-1.7zM112.01 113.64h1.7v1.7h-1.7zM31.92 196.68h1.7v1.7h-1.7zM90.5 207.48h1.7v1.7h-1.7zM79.54 208.05h1.7v1.7h-1.7zM67.36 199.23h1.7v1.7h-1.7zM72.98 187.32h1.7v1.7h-1.7zM97.19 173.39h1.7v1.7h-1.7zM66.28 193.03h1.7v1.7h-1.7zM74.46 190.09h1.7v1.7h-1.7zM171.67 196.37h1.7v1.7h-1.7zM164.89 192.01h1.7v1.7h-1.7zM81.1 191.3h1.7v1.7h-1.7zM50.35 189.37h1.7v1.7h-1.7zM58.01 189.47h1.7v1.7h-1.7zM67.51 175.75h1.7v1.7h-1.7zM65.2 205.26h1.7v1.7h-1.7zM71.4 202.01h1.7v1.7h-1.7zM139.58 91.48h1.7v1.7h-1.7zM115.55 90.37h1.7v1.7h-1.7zM165.79 188.81h1.7v1.7h-1.7zM151.15 168.4h1.7v1.7h-1.7zM82.29 205.97h1.7v1.7h-1.7zM108.31 133.11h1.7v1.7h-1.7zM141.3 104.13h1.7v1.7h-1.7zM118 63.92h1.7v1.7h-1.7zM65.01 183.44h1.7v1.7h-1.7zM78.37 194.93h1.7v1.7h-1.7zM67.25 187.29h1.7v1.7h-1.7zM129.53 33.05h1.7v1.7h-1.7zM49.54 191.91h1.7v1.7h-1.7zM108.13 138.79h1.7v1.7h-1.7zM84.32 189.73h1.7v1.7h-1.7zM82.6 197.05h1.7v1.7h-1.7zM90.78 185.59h1.7v1.7h-1.7zM50.39 187.45h1.7v1.7h-1.7zM134.33 44.26h1.7v1.7h-1.7zM61.35 182.24h1.7v1.7h-1.7zM122.96 53.38h1.7v1.7h-1.7zM164.45 194.52h1.7v1.7h-1.7zM124.38 45.56h1.7v1.7h-1.7zM88.1 191.21h1.7v1.7h-1.7zM67.73 209.25h1.7v1.7h-1.7zM154.42 168.16h1.7v1.7h-1.7zM38.13 199.17h1.7v1.7h-1.7zM107.8 165.47h1.7v1.7h-1.7zM43.18 185.95h1.7v1.7h-1.7zM171.33 196.98h1.7v1.7h-1.7zM155.95 167.37h1.7v1.7h-1.7zM39.03 207.31h1.7v1.7h-1.7zM144.25 120.13h1.7v1.7h-1.7zM84.13 187.11h1.7v1.7h-1.7zM114.54 96.61h1.7v1.7h-1.7zM142.87 108.58h1.7v1.7h-1.7zM100.97 182.34h1.7v1.7h-1.7zM170.01 191.8h1.7v1.7h-1.7zM65.14 196.15h1.7v1.7h-1.7zM29.23 201.64h1.7v1.7h-1.7zM173.64 189.01h1.7v1.7h-1.7zM163.75 164.72h1.7v1.7h-1.7zM159.79 178.86h1.7v1.7h-1.7zM93.74 193.7h1.7v1.7h-1.7zM79.28 189.61h1.7v1.7h-1.7zM48.99 192.19h1.7v1.7h-1.7zM167.83 185.84h1.7v1.7h-1.7zM169.49 201.97h1.7v1.7h-1.7z" fill="#0000ff"/>
<path d="M154.51 107.3h1.7v1.7h-1.7zM240.9 119.52h1.7v1.7h-1.7zM168.55 53.89h1.7v1.7h-1.7zM250.08 139.36h1.7v1.7h-1.7zM248.05 115.66h1.7v1.7h-1.7zM211.19 53.98h1.7v1.7h-1.7zM270.12 126.77h1.7v1.7h-1.7zM173.02 40.51h1.7v1.7h-1.7zM173.14 9.91h1.7v1.7h-1.7zM312.29 165.62h1.7v1.7h-1.7zM349.79 188.46h1.7v1.7h-1.7zM199.61 43.73h1.7v1.7h-1.7zM245.98 90.95h1.7v1.7h-1.7zM210.47 34.77h1.7v1.7h-1.7zM151.72 107.39h1.7v1.7h-1.7zM364.33 193.46h1.7v1.7h-1.7zM233.76 102.02h1.7v1.7h-1.7zM242.44 110.11h1.7v1.7h-1.7zM160.55 59.49h1.7v1.7h-1.7zM173.74 42.43h1.7v1.7h-1.7zM323.72 172.48h1.7v1.7h-1.7zM354.99 157.16h1.7v1.7h-1.7zM316.72 176.79h1.7v1.7h-1.7zM309.83 190.58h1.7v1.7h-1.7zM142.83 157.37h1.7v1.7h-1.7zM164.45 67.41h1.7v1.7h-1.7zM363.02 178.7h1.7v1.7h-1.7zM209.59 60.51h1.7v1.7h-1.7zM233.26 119.59h1.7v1.7h-1.7zM215.46 36.22h1.7v1.7h-1.7zM116.53 165.16h1.7v1.7h-1.7zM382.18 179.08h1.7v1.7h-1.7zM245.55 126.52h1.7v1.7h-1.7zM314.9 176.55h1.7v1.7h-1.7zM170.21 67h1.7v1.7h-1.7zM280.37 165.35h1.7v1.7h-1.7zM158.84 82.37h1.7v1.7h-1.7zM364.1 178.46h1.7v1.7h-1.7zM204.47 54.66h1.7v1.7h-1.7zM137.55 154.56h1.7v1.7h-1.7zM127.2 160.51h1.7v1.7h-1.7zM212.24 75.03h1.7v1.7h-1.7zM297.07 179.73h1.7v1.7h-1.7zM372.68 211.05h1.7v1.7h-1.7zM221.08 40.38h1.7v1.7h-1.7zM271.54 149.2h1.7v1.7h-1.7zM352.02 197.81h1.7v1.7h-1.7zM177.13 41.44h1.7v1.7h-1.7zM350.09 183.89h1.7v1.7h-1.7zM330.6 178.57h1.7v1.7h-1.7zM321.98 201.98h1.7v1.7h-1.7zM123.5 171.13h1.7v1.7h-1.7zM180.09 41.51h1.7v1.7h-1.7zM156.07 84.44h1.7v1.7h-1.7zM128.25 179.94h1.7v1.7h-1.7zM379.6 167.91h1.7v1.7h-1.7zM314.26 185.91h1.7v1.7h-1.7zM372.84 187.54h1.7v1.7h-1.7zM253.7 124.72h1.7v1.7h-1.7zM167.48 65.07h1.7v1.7h-1.7zM339.67 177.63h1.7v1.7h-1.7zM274.52 173.47h1.7v1.7h-1.7zM226.32 98.83h1.7v1.7h-1.7zM193.84 48.82h1.7v1.7h-1.7zM256.09 131.04h1.7v1.7h-1.7zM111.96 164.23h1.7v1.7h-1.7zM297.61 166.39h1.7v1.7h-1.7zM272.41 148.82h1.7v1.7h-1.7zM286.21 151.66h1.7v1.7h-1.7zM179.88 51.13h1.7v1.7h-1.7zM220.69 44.94h1.7v1.7h-1.7zM145.87 133.85h1.7v1.7h-1.7zM135.23 151.72h1.7v1.7h-1.7zM232.04 87.41h1.7v1.7h-1.7zM147.88 110.05h1.7v1.7h-1.7zM143.95 145.34h1.7v1.7h-1.7zM257.28 135.6h1.7v1.7h-1.7zM169.54 44.87h1.7v1.7h-1.7zM154.82 95.6h1.7v1.7h-1.7zM304.39 162.2h1.7v1.7h-1.7zM260.41 116.09h1.7v1.7h-1.7zM349.46 180.84h1.7v1.7h-1.7zM322.07 179.51h1.7v1.7h-1.7zM236.72 98.4h1.7v1.7h-1.7zM126.61 168.64h1.7v1.7h-1.7zM304.81 180.06h1.7v1.7h-1.7zM178.7 43.34h1.7v1.7h-1.7zM120.68 186.31h1.7v1.7h-1.7zM216.09 71.28h1.7v1.7h-1.7zM190.28 12.9h1.7v1.7h-1.7zM247.51 141.97h1.7v1.7h-1.7zM136.25 160.39h1.7v1.7h-1.7zM274.47 169.26h1.7v1.7h-1.7zM375.11 189.87h1.7v1.7h-1.7zM194.44 42.5h1.7v1.7h-1.7zM263.34 151.08h1.7v1.7h-1.7zM126.67 156.5h1.7v1.7h-1.7zM206.84 78.67h1.7v1.7h-1.7zM196.63 33.82h1.7v1.7h-1.7zM130.08 164.01h1.7v1.7h-1.7zM129.32 157.3h1.7v1.7h-1.7zM232.37 107.61h1.7v1.7h-1.7zM280.03 138.95h1.7v1.7h-1.7zM230.88 84.79h1.7v1.7h-1.7zM251.44 130.07h1.7v1.7h-1.7zM171.16 45.67h1.7v1.7h-1.7zM122.58 182.66h1.7v1.7h-1.7zM302.8 168.24h1.7v1.7h-1.7zM333.91 185.27h1.7v1.7h-1.7zM174.17 59.74h1.7v1.7h-1.7zM215.14 77.12h1.7v1.7h-1.7zM374.01 187.44h1.7v1.7h-1.7zM132.64 172.63h1.7v1.7h-1.7zM306.37 171.88h1.7v1.7h-1.7zM354.03 183.74h1.7v1.7h-1.7zM317.74 194.53h1.7v1.7h-1.7zM292.86 154.34h1.7v1.7h-1.7zM296.97 182.48h1.7v1.7h-1.7zM176.61 32.87h1.7v1.7h-1.7zM278.2 159.69h1.7v1.7h-1.7zM335.98 149.36h1.7v1.7h-1.7zM110.91 192.52h1.7v1.7h-1.7zM195.12 42.83h1.7v1.7h-1.7zM149.14 106.98h1.7v1.7h-1.7zM261.29 126.18h1.7v1.7h-1.7zM368.62 183.61h1.7v1.7h-1.7zM313.3 182.13h1.7v1.7h-1.7zM372.05 187.34h1.7v1.7h-1.7zM302.74 168.86h1.7v1.7h-1.7zM285.58 150.23h1.7v1.7h-1.7zM296.6 170.18h1.7v1.7h-1.7zM197.73 11.52h1.7v1.7h-1.7zM179.07 35.78h1.7v1.7h-1.7zM296.47 173.7h1.7v1.7h-1.7zM164.12 79.3h1.7v1.7h-1.7zM213.37 63.47h1.7v1.7h-1.7zM367.85 200.55h1.7v1.7h-1.7zM278.85 151.96h1.7v1.7h-1.7zM186.32 30.39h1.7v1.7h-1.7zM184.06 25.69h1.7v1.7h-1.7zM160.98 77.97h1.7v1.7h-1.7zM332.02 183.45h1.7v1.7h-1.7zM366.21 188.79h1.7v1.7h-1.7zM246.98 116.25h1.7v1.7h-1.7zM119.95 191.63h1.7v1.7h-1.7zM175.21 56.52h1.7v1.7h-1.7zM111.24 189.38h1.7v1.7h-1.7zM194.11 39.3h1.7v1.7h-1.7zM234.03 83.49h1.7v1.7h-1.7zM146.26 133.14h1.7v1.7h-1.7zM326.87 175.04h1.7v1.7h-1.7zM122.67 187.38h1.7v1.7h-1.7zM160.73 93.85h1.7v1.7h-1.7zM171.06 45.01h1.7v1.7h-1.7zM329.8 167.39h1.7v1.7h-1.7zM352.13 208.65h1.7v1.7h-1.7zM113.99 186.77h1.7v1.7h-1.7zM356.56 189.45h1.7v1.7h-1.7zM314.55 176.76h1.7v1.7h-1.7zM125.55 178.31h1.7v1.7h-1.7zM333.33 195.77h1.7v1.7h-1.7zM238.7 110.48h1.7v1.7h-1.7zM329.18 186.84h1.7v1.7h-1.7zM206.26 40.64h1.7v1.7h-1.7zM191.1 53.68h1.7v1.7h-1.7zM128.68 183.69h1.7v1.7h-1.7zM127.75 185.11h1.7v1.7h-1.7zM161.34 81.16h1.7v1.7h-1.7zM183.36 33.19h1.7v1.7h-1.7zM245.29 110.18h1.7v1.7h-1.7zM296.36 171.98h1.7v1.7h-1.7zM137.78 153.92h1.7v1.7h-1.7zM365.14 199.66h1.7v1.7h-1.7zM299.14 172.62h1.7v1.7h-1.7zM309.3 179.64h1.7v1.7h-1.7zM336.65 184.5h1.7v1.7h-1.7zM167.92 50.59h1.7v1.7h-1.7zM255.6 124.36h1.7v1.7h-1.7zM281.91 148.87h1.7v1.7h-1.7zM244.95 94.46h1.7v1.7h-1.7zM153.7 91.15h1.7v1.7h-1.7zM358.4 204.38h1.7v1.7h-1.7zM296.01 163.71h1.7v1.7h-1.7zM357.41 167.36h1.7v1.7h-1.7zM255.8 101.39h1.7v1.7h-1.7zM216.44 79.51h1.7v1.7h-1.7zM368.15 169.17h1.7v1.7h-1.7zM112.24 191.8h1.7v1.7h-1.7zM205.93 60.21h1.7v1.7h-1.7zM316.96 188.57h1.7v1.7h-1.7z" fill="#ff0000"/>
<path d="M372.66 188.45h1.7v1.7h-1.7zM383.77 188.74h1.7v1.7h-1.7zM159.82 89.21h1.7v1.7h-1.7zM204.2 33.22h1.7v1.7h-1.7zM353.78 185.65h1.7v1.7h-1.7zM197 15.21h1.7v1.7h-1.7zM274.46 141.78h1.7v1.7h-1.7zM363.21 194.39h1.7v1.7h-1.7zM303.88 158.7h1.7v1.7h-1.7zM271.28 144.83h1.7v1.7h-1.7zM194.59 29.85h1.7v1.7h-1.7zM269.43 132.45h1.7v1.7h-1.7zM367.1 186.01h1.7v1.7h-1.7zM264.89 163.89h1.7v1.7h-1.7zM301.21 179.27h1.7v1.7h-1.7zM372.25 193.91h1.7v1.7h-1.7zM195.08 31.96h1.7v1.7h-1.7zM288.14 186.87h1.7v1.7h-1.7zM148.26 125.59h1.7v1.7h-1.7zM160.03 108.93h1.7v1.7h-1.7zM122.66 179.54h1.7v1.7h-1.7zM363.55 189.46h1.7v1.7h-1.7zM248.38 125.77h1.7v1.7h-1.7zM290.92 168.94h1.7v1.7h-1.7zM361.18 191.76h1.7v1.7h-1.7zM269.36 140.14h1.7v1.7h-1.7zM190.91 44.55h1.7v1.7h-1.7zM228.35 85.51h1.7v1.7h-1.7zM294.29 173.85h1.7v1.7h-1.7zM383.18 190.81h1.7v1.7h-1.7zM206.97 52.58h1.7v1.7h-1.7zM364.76 185.5h1.7v1.7h-1.7zM370.99 198.19h1.7v1.7h-1.7zM135.71 160.1h1.7v1.7h-1.7zM355.41 183.2h1.7v1.7h-1.7zM205.16 33.23h1.7v1.7h-1.7zM199.43 41.5h1.7v1.7h-1.7zM119.32 176.01h1.7v1.7h-1.7zM256.4 126.67h1.7v1.7h-1.7zM164.56 95.95h1.7v1.7h-1.7zM299.9 165.19h1.7v1.7h-1.7zM336.88 182.95h1.7v1.7h-1.7zM362.43 205.02h1.7v1.7h-1.7zM246.25 109.22h1.7v1.7h-1.7zM253.24 147.95h1.7v1.7h-1.7zM313.66 193.07h1.7v1.7h-1.7zM239.24 102.13h1.7v1.7h-1.7zM206.44 56.25h1.7v1.7h-1.7zM324.8 178.17h1.7v1.7h-1.7zM368.4 200h1.7v1.7h-1.7zM114.15 196.11h1.7v1.7h-1.7zM202.81 40.5h1.7v1.7h-1.7zM156.28 112.06h1.7v1.7h-1.7zM183.12 49.93h1.7v1.7h-1.7zM120.66 171.42h1.7v1.7h-1.7zM141.63 149.16h1.7v1.7h-1.7zM168.65 72.93h1.7v1.7h-1.7zM158.83 84.03h1.7v1.7h-1.7zM185.15 31.13h1.7v1.7h-1.7zM166.27 73.57h1.7v1.7h-1.7zM203.79 43.22h1.7v1.7h-1.7zM338.54 205.49h1.7v1.7h-1.7zM119.68 192.06h1.7v1.7h-1.7zM118.22 169.66h1.7v1.7h-1.7zM165.03 91.12h1.7v1.7h-1.7zM315.48 179.82h1.7v1.7h-1.7zM306.64 183.18h1.7v1.7h-1.7zM172.6 60.49h1.7v1.7h-1.7zM182.38 30.76h1.7v1.7h-1.7zM152.54 114.59h1.7v1.7h-1.7zM353.74 189.92h1.7v1.7h-1.7zM246.31 115.72h1.7v1.7h-1.7zM275.16 144.82h1.7v1.7h-1.7zM117.36 179.27h1.7v1.7h-1.7zM319.88 169.66h1.7v1.7h-1.7zM380.18 189.72h1.7v1.7h-1.7zM341.9 185.51h1.7v1.7h-1.7zM147.61 122.55h1.7v1.7h-1.7zM203.28 30.55h1.7v1.7h-1.7zM111.65 197.24h1.7v1.7h-1.7zM213.62 56.92h1.7v1.7h-1.7zM329.87 188.48h1.7v1.7h-1.7zM354.75 195.94h1.7v1.7h-1.7zM342.49 189.28h1.7v1.7h-1.7zM250.18 117.51h1.7v1.7h-1.7zM152.91 112.2h1.7v1.7h-1.7zM339.8 199.49h1.7v1.7h-1.7zM333.92 186.05h1.7v1.7h-1.7zM376.94 186.68h1.7v1.7h-1.7zM349.56 179.52h1.7v1.7h-1.7zM318.61 190.86h1.7v1.7h-1.7zM162.77 81.23h1.7v1.7h-1.7zM153.63 108.58h1.7v1.7h-1.7zM174.04 55.82h1.7v1.7h-1.7zM251.51 117.51h1.7v1.7h-1.7zM262.51 140.04h1.7v1.7h-1.7zM346.93 195.88h1.7v1.7h-1.7zM320.29 187.98h1.7v1.7h-1.7zM115.15 170.97h1.7v1.7h-1.7zM330.98 188.76h1.7v1.7h-1.7zM336.08 183.05h1.7v1.7h-1.7zM158.2 101.25h1.7v1.7h-1.7zM247.96 98.93h1.7v1.7h-1.7zM222.44 75.45h1.7v1.7h-1.7zM280.31 159.93h1.7v1.7h-1.7zM376.04 197.51h1.7v1.7h-1.7zM368.14 192.02h1.7v1.7h-1.7zM329.38 202.52h1.7v1.7h-1.7zM288.51 169.26h1.7v1.7h-1.7zM174.73 50.53h1.7v1.7h-1.7zM124.93 168.59h1.7v1.7h-1.7zM115.72 186.23h1.7v1.7h-1.7zM196.08 28.99h1.7v1.7h-1.7zM200.51 33.1h1.7v1.7h-1.7zM157.41 114.24h1.7v1.7h-1.7zM206.51 42.87h1.7v1.7h-1.7zM332.8 188.74h1.7v1.7h-1.7zM350.58 177.76h1.7v1.7h-1.7zM372.89 191.39h1.7v1.7h-1.7zM370.53 187.77h1.7v1.7h-1.7zM250.54 119.82h1.7v1.7h-1.7zM174.88 52.08h1.7v1.7h-1.7zM194.53 34.22h1.7v1.7h-1.7zM382.61 188.06h1.7v1.7h-1.7zM334.72 177.95h1.7v1.7h-1.7zM329.53 177.89h1.7v1.7h-1.7zM247.88 109.09h1.7v1.7h-1.7zM213.84 50.57h1.7v1.7h-1.7zM360.64 197.03h1.7v1.7h-1.7zM282.58 166.19h1.7v1.7h-1.7zM122.52 183.6h1.7v1.7h-1.7zM293.6 184.11h1.7v1.7h-1.7zM208.39 46.63h1.7v1.7h-1.7zM131.71 164.93h1.7v1.7h-1.7zM151.66 136.38h1.7v1.7h-1.7zM168.86 67.49h1.7v1.7h-1.7zM239.05 107.95h1.7v1.7h-1.7zM114.8 192.67h1.7v1.7h-1.7zM362.3 195.19h1.7v1.7h-1.7zM174.96 60h1.7v1.7h-1.7zM298.62 165.73h1.7v1.7h-1.7zM218.62 64.79h1.7v1.7h-1.7zM262.36 134.91h1.7v1.7h-1.7zM361.49 181.07h1.7v1.7h-1.7zM262.15 135.65h1.7v1.7h-1.7zM348.04 193.46h1.7v1.7h-1.7zM324.38 181.43h1.7v1.7h-1.7zM296.67 161.29h1.7v1.7h-1.7zM266.69 149.7h1.7v1.7h-1.7zM261.48 141.46h1.7v1.7h-1.7z" fill="#ff8a1e"/>
<path d="M363.49 170.88h1.7v1.7h-1.7zM132.13 193h1.7v1.7h-1.7zM271.96 158.53h1.7v1.7h-1.7zM144.98 167.61h1.7v1.7h-1.7zM161.95 134.21h1.7v1.7h-1.7zM234.28 75.84h1.7v1.7h-1.7zM115.96 178.36h1.7v1.7h-1.7zM224.99 51.78h1.7v1.7h-1.7zM250.12 112.54h1.7v1.7h-1.7zM124.98 198.38h1.7v1.7h-1.7zM324.5 195.65h1.7v1.7h-1.7zM279.92 165.12h1.7v1.7h-1.7zM376.1 200.55h1.7v1.7h-1.7zM210.54 27.17h1.7v1.7h-1.7zM266.46 144.9h1.7v1.7h-1.7zM132.73 193.25h1.7v1.7h-1.7zM239.52 91.86h1.7v1.7h-1.7zM232.2 85.92h1.7v1.7h-1.7zM285.8 161.24h1.7v1.7h-1.7zM198.09 30.82h1.7v1.7h-1.7zM333.52 184.52h1.7v1.7h-1.7zM136.27 179.46h1.7v1.7h-1.7zM119.86 192.54h1.7v1.7h-1.7zM334.83 174.28h1.7v1.7h-1.7zM200.12 41.01h1.7v1.7h-1.7zM192.97 33.73h1.7v1.7h-1.7zM322.99 190.53h1.7v1.7h-1.7zM138.61 183.75h1.7v1.7h-1.7zM324.7 188.77h1.7v1.7h-1.7zM174.61 99.2h1.7v1.7h-1.7zM259.16 117.76h1.7v1.7h-1.7zM369.15 196.06h1.7v1.7h-1.7zM155.15 146.6h1.7v1.7h-1.7zM223.61 57.3h1.7v1.7h-1.7zM115.57 185.81h1.7v1.7h-1.7zM376.93 203.57h1.7v1.7h-1.7zM330.52 174.43h1.7v1.7h-1.7zM380.91 194.13h1.7v1.7h-1.7zM315.13 195.55h1.7v1.7h-1.7zM212.82 20.45h1.7v1.7h-1.7zM162.31 117.43h1.7v1.7h-1.7zM163.23 118.7h1.7v1.7h-1.7zM365.88 183.55h1.7v1.7h-1.7zM137.61 184.57h1.7v1.7h-1.7zM254.62 114.77h1.7v1.7h-1.7zM332.68 175.66h1.7v1.7h-1.7zM178.74 86.46h1.7v1.7h-1.7zM231.44 62.61h1.7v1.7h-1.7zM203.41 22.37h1.7v1.7h-1.7zM355.32 199.7h1.7v1.7h-1.7zM298.28 185.37h1.7v1.7h-1.7zM337.35 179.25h1.7v1.7h-1.7zM285.02 162.37h1.7v1.7h-1.7zM221.79 45.85h1.7v1.7h-1.7zM321.36 194.25h1.7v1.7h-1.7zM336.45 190.74h1.7v1.7h-1.7zM138.97 186.88h1.7v1.7h-1.7zM262.97 141.29h1.7v1.7h-1.7zM338.87 186.76h1.7v1.7h-1.7zM130.76 164.48h1.7v1.7h-1.7zM263.71 142.91h1.7v1.7h-1.7zM263.38 137.56h1.7v1.7h-1.7zM238.6 101.52h1.7v1.7h-1.7zM110.23 186.64h1.7v1.7h-1.7zM212.87 40.18h1.7v1.7h-1.7zM347.68 193.24h1.7v1.7h-1.7zM165.14 119.06h1.7v1.7h-1.7zM232.71 80h1.7v1.7h-1.7zM225.35 47.37h1.7v1.7h-1.7zM241.2 85.86h1.7v1.7h-1.7zM298.63 184.88h1.7v1.7h-1.7zM253.83 121.84h1.7v1.7h-1.7zM191.04 38.33h1.7v1.7h-1.7zM350.22 190.84h1.7v1.7h-1.7zM346.6 204.26h1.7v1.7h-1.7zM294.33 170.27h1.7v1.7h-1.7zM275.55 154.99h1.7v1.7h-1.7zM205.23 28.2h1.7v1.7h-1.7zM192.25 31.84h1.7v1.7h-1.7zM215.73 46.75h1.7v1.7h-1.7zM224.53 54.15h1.7v1.7h-1.7zM261.43 142.32h1.7v1.7h-1.7zM179.41 67.44h1.7v1.7h-1.7zM168.9 98.87h1.7v1.7h-1.7zM181.72 53.53h1.7v1.7h-1.7zM139.51 189.43h1.7v1.7h-1.7zM236.4 73.87h1.7v1.7h-1.7zM230.74 62.32h1.7v1.7h-1.7zM345.18 188.95h1.7v1.7h-1.7zM177.24 55.26h1.7v1.7h-1.7zM379.37 192.24h1.7v1.7h-1.7zM331.12 187.65h1.7v1.7h-1.7zM184.95 55.59h1.7v1.7h-1.7zM339.44 183.08h1.7v1.7h-1.7zM134 186.24h1.7v1.7h-1.7zM296 181h1.7v1.7h-1.7zM189.74 25.01h1.7v1.7h-1.7zM289.21 156.8h1.7v1.7h-1.7zM155.81 127.42h1.7v1.7h-1.7zM159.37 139.8h1.7v1.7h-1.7zM114.4 195.02h1.7v1.7h-1.7zM310.42 182.64h1.7v1.7h-1.7zM238.09 89.37h1.7v1.7h-1.7zM321.09 194.85h1.7v1.7h-1.7zM335.1 196.34h1.7v1.7h-1.7zM199.04 43.45h1.7v1.7h-1.7zM146.02 155.67h1.7v1.7h-1.7zM165.82 104.02h1.7v1.7h-1.7zM226.46 67.38h1.7v1.7h-1.7zM255.82 110.81h1.7v1.7h-1.7zM345.39 196.07h1.7v1.7h-1.7zM288.23 162.33h1.7v1.7h-1.7zM313.97 173.54h1.7v1.7h-1.7zM352.93 192.4h1.7v1.7h-1.7zM379.04 185.5h1.7v1.7h-1.7zM213.68 42.73h1.7v1.7h-1.7zM322 182.07h1.7v1.7h-1.7zM217.79 49.72h1.7v1.7h-1.7zM308.29 177.83h1.7v1.7h-1.7zM167.05 121.19h1.7v1.7h-1.7zM221.02 44.76h1.7v1.7h-1.7zM226.68 59.58h1.7v1.7h-1.7zM335.46 194.61h1.7v1.7h-1.7zM176.78 80.11h1.7v1.7h-1.7zM195.85 41.98h1.7v1.7h-1.7zM156.76 153.89h1.7v1.7h-1.7zM335.13 208.13h1.7v1.7h-1.7zM256.66 135.41h1.7v1.7h-1.7zM280.49 169.96h1.7v1.7h-1.7zM361.83 183.87h1.7v1.7h-1.7z" fill="#00e8f0"/>
<path d="M305.04 171.61h1.7v1.7h-1.7zM383.68 196.35h1.7v1.7h-1.7zM162.53 137.81h1.7v1.7h-1.7zM317.53 185.25h1.7v1.7h-1.7zM150.76 171.95h1.7v1.7h-1.7zM319.78 198.7h1.7v1.7h-1.7zM230.53 39.97h1.7v1.7h-1.7zM140.94 206.2h1.7v1.7h-1.7zM251.3 88.66h1.7v1.7h-1.7zM231.31 67.7h1.7v1.7h-1.7zM192.92 39.57h1.7v1.7h-1.7zM318.3 182.66h1.7v1.7h-1.7zM341.05 181.65h1.7v1.7h-1.7zM193.12 35.55h1.7v1.7h-1.7zM258.22 135.44h1.7v1.7h-1.7zM363.42 172.34h1.7v1.7h-1.7zM196.1 36.77h1.7v1.7h-1.7zM135.8 188.74h1.7v1.7h-1.7zM292.06 160.17h1.7v1.7h-1.7zM381.94 209.66h1.7v1.7h-1.7zM345.57 189.5h1.7v1.7h-1.7zM363.43 171.59h1.7v1.7h-1.7zM134.89 193.06h1.7v1.7h-1.7zM148.5 171.31h1.7v1.7h-1.7zM241.03 97.72h1.7v1.7h-1.7zM145.27 202.53h1.7v1.7h-1.7zM248.15 80.64h1.7v1.7h-1.7zM255.48 114.85h1.7v1.7h-1.7zM175.87 94.2h1.7v1.7h-1.7zM286.23 167.12h1.7v1.7h-1.7zM287.54 177.25h1.7v1.7h-1.7zM220.12 32.15h1.7v1.7h-1.7zM238.09 73.14h1.7v1.7h-1.7zM160.16 150.25h1.7v1.7h-1.7zM267.1 156.17h1.7v1.7h-1.7zM177.61 73.59h1.7v1.7h-1.7zM211.26 25.46h1.7v1.7h-1.7zM195.11 36.87h1.7v1.7h-1.7zM232.55 65.27h1.7v1.7h-1.7zM381.19 193.41h1.7v1.7h-1.7zM304.8 170.07h1.7v1.7h-1.7zM267.65 149.29h1.7v1.7h-1.7zM221.78 52.76h1.7v1.7h-1.7zM192.47 39.96h1.7v1.7h-1.7zM189.96 61.2h1.7v1.7h-1.7zM328.71 164.08h1.7v1.7h-1.7zM285.46 151.66h1.7v1.7h-1.7zM258.53 119.63h1.7v1.7h-1.7zM299.48 185.38h1.7v1.7h-1.7zM358.06 181.54h1.7v1.7h-1.7zM182.72 79.99h1.7v1.7h-1.7zM196.76 26.95h1.7v1.7h-1.7zM307.52 178.37h1.7v1.7h-1.7zM236.36 72.17h1.7v1.7h-1.7zM127.88 185.04h1.7v1.7h-1.7zM254.78 133.69h1.7v1.7h-1.7zM356.46 186.16h1.7v1.7h-1.7zM157.45 139.48h1.7v1.7h-1.7zM122.53 189.01h1.7v1.7h-1.7zM366.13 192.84h1.7v1.7h-1.7zM262.26 128.55h1.7v1.7h-1.7zM358.66 192.4h1.7v1.7h-1.7zM327.43 178.63h1.7v1.7h-1.7zM147.87 168.42h1.7v1.7h-1.7zM247.77 81.19h1.7v1.7h-1.7zM245.67 84.54h1.7v1.7h-1.7zM302.78 174.45h1.7v1.7h-1.7zM233.88 52.38h1.7v1.7h-1.7zM287.45 190.06h1.7v1.7h-1.7zM341.86 169.54h1.7v1.7h-1.7zM338.15 190.33h1.7v1.7h-1.7zM151.33 160.07h1.7v1.7h-1.7zM145.34 167.92h1.7v1.7h-1.7zM348.56 189.84h1.7v1.7h-1.7zM173 104.61h1.7v1.7h-1.7zM193.62 48.62h1.7v1.7h-1.7zM314.74 200.43h1.7v1.7h-1.7zM174.45 110.01h1.7v1.7h-1.7zM183.53 57.1h1.7v1.7h-1.7zM378.82 187.41h1.7v1.7h-1.7zM264.2 140.76h1.7v1.7h-1.7zM318.07 179.71h1.7v1.7h-1.7zM298.67 169.47h1.7v1.7h-1.7zM156.86 149.86h1.7v1.7h-1.7zM333.86 186.48h1.7v1.7h-1.7zM173.55 104.38h1.7v1.7h-1.7zM193.65 50.72h1.7v1.7h-1.7zM174.68 108.95h1.7v1.7h-1.7zM199.62 35.17h1.7v1.7h-1.7zM260.87 98.72h1.7v1.7h-1.7zM367.57 188.98h1.7v1.7h-1.7zM265.58 117.86h1.7v1.7h-1.7zM365.45 194.78h1.7v1.7h-1.7zM334.02 179.77h1.7v1.7h-1.7zM371.15 199.75h1.7v1.7h-1.7zM132.59 188.48h1.7v1.7h-1.7zM231.32 53.94h1.7v1.7h-1.7zM232.54 70.16h1.7v1.7h-1.7zM264.35 130.78h1.7v1.7h-1.7zM251.88 101.95h1.7v1.7h-1.7zM375.15 183.74h1.7v1.7h-1.7zM324.83 190.09h1.7v1.7h-1.7zM337.93 195.36h1.7v1.7h-1.7zM163.01 139.06h1.7v1.7h-1.7zM302.65 176.86h1.7v1.7h-1.7zM148.03 179.33h1.7v1.7h-1.7zM140.5 171.71h1.7v1.7h-1.7zM251.28 125.91h1.7v1.7h-1.7zM277.16 152.21h1.7v1.7h-1.7zM252.01 113.58h1.7v1.7h-1.7zM232.39 60.77h1.7v1.7h-1.7zM342.05 191.9h1.7v1.7h-1.7zM148.27 189.61h1.7v1.7h-1.7zM130.1 203.65h1.7v1.7h-1.7zM242.14 73.04h1.7v1.7h-1.7zM242.7 86.93h1.7v1.7h-1.7zM373.07 213.87h1.7v1.7h-1.7zM309.68 175.64h1.7v1.7h-1.7zM340.64 189.79h1.7v1.7h-1.7zM284.46 155.12h1.7v1.7h-1.7zM140.04 187.69h1.7v1.7h-1.7zM275.35 153.01h1.7v1.7h-1.7zM319.87 174.78h1.7v1.7h-1.7zM157.22 153.41h1.7v1.7h-1.7zM224.91 43.16h1.7v1.7h-1.7zM239.8 82.28h1.7v1.7h-1.7zM214.01 25.67h1.7v1.7h-1.7zM193.53 37.94h1.7v1.7h-1.7zM238.42 79.01h1.7v1.7h-1.7zM176.48 102.47h1.7v1.7h-1.7zM287.23 179.96h1.7v1.7h-1.7zM110.09 195.58h1.7v1.7h-1.7zM186.41 63.08h1.7v1.7h-1.7zM247.85 110.89h1.7v1.7h-1.7zM254.67 126.08h1.7v1.7h-1.7zM338.71 198.56h1.7v1.7h-1.7zM323.2 171.05h1.7v1.7h-1.7zM156.32 162h1.7v1.7h-1.7zM210.79 24.3h1.7v1.7h-1.7zM279.56 167.84h1.7v1.7h-1.7zM144.24 169.63h1.7v1.7h-1.7zM225.26 38.52h1.7v1.7h-1.7zM160.8 133.29h1.7v1.7h-1.7zM363.93 190.96h1.7v1.7h-1.7zM280.06 136.03h1.7v1.7h-1.7zM164.44 134.35h1.7v1.7h-1.7zM171.79 95.39h1.7v1.7h-1.7zM247.63 106.92h1.7v1.7h-1.7zM314.67 193.81h1.7v1.7h-1.7zM252.55 119.02h1.7v1.7h-1.7z" fill="#0000ff"/>
<path d="M34.48 192.48h1.7v1.7h-1.7zM271.55 149.25h1.7v1.7h-1.7zM79.11 164.24h1.7v1.7h-1.7zM297.58 170.33h1.7v1.7h-1.7zM82.18 155.62h1.7v1.7h-1.7zM78.36 159.2h1.7v1.7h-1.7zM219.24 63.98h1.7v1.7h-1.7zM381.86 190.4h1.7v1.7h-1.7zM63.02 189.95h1.7v1.7h-1.7zM172.39 51.54h1.7v1.7h-1.7zM100.22 96.6h1.7v1.7h-1.7zM367.3 190.91h1.7v1.7h-1.7zM104.4 83.11h1.7v1.7h-1.7zM223.38 78.12h1.7v1.7h-1.7zM366.82 189.79h1.7v1.7h-1.7zM102.11 88.32h1.7v1.7h-1.7zM325.4 181.7h1.7v1.7h-1.7zM289.62 163.44h1.7v1.7h-1.7zM336.68 182.47h1.7v1.7h-1.7zM311.35 174.05h1.7v1.7h-1.7zM287.78 163.7h1.7v1.7h-1.7zM107.52 75.16h1.7v1.7h-1.7zM44.77 187.41h1.7v1.7h-1.7zM170 58.43h1.7v1.7h-1.7zM258.46 135.3h1.7v1.7h-1.7zM374.83 181.87h1.7v1.7h-1.7zM380.86 189.96h1.7v1.7h-1.7zM92.38 123.99h1.7v1.7h-1.7zM250.33 114.7h1.7v1.7h-1.7zM63.16 180.97h1.7v1.7h-1.7zM98.21 109.51h1.7v1.7h-1.7zM275.61 149.34h1.7v1.7h-1.7zM63.91 176.14h1.7v1.7h-1.7zM259.36 136.48h1.7v1.7h-1.7zM380.2 190.39h1.7v1.7h-1.7zM312.74 179.8h1.7v1.7h-1.7zM187.12 36.7h1.7v1.7h-1.7zM71.82 170.15h1.7v1.7h-1.7zM65.05 182.56h1.7v1.7h-1.7zM98.67 103.77h1.7v1.7h-1.7zM148.48 86.58h1.7v1.7h-1.7zM198.07 34.32h1.7v1.7h-1.7zM206 48.83h1.7v1.7h-1.7zM161.61 76.54h1.7v1.7h-1.7zM246.44 112.61h1.7v1.7h-1.7zM69.69 175.96h1.7v1.7h-1.7zM78.84 162.23h1.7v1.7h-1.7zM373.67 183.92h1.7v1.7h-1.7zM301.09 170.7h1.7v1.7h-1.7zM377.87 194.53h1.7v1.7h-1.7zM153.24 108.25h1.7v1.7h-1.7zM129.88 38.64h1.7v1.7h-1.7zM92.32 128.45h1.7v1.7h-1.7zM335.56 183.99h1.7v1.7h-1.7zM47.8 186.71h1.7v1.7h-1.7zM98.39 103.57h1.7v1.7h-1.7zM319.87 178.53h1.7v1.7h-1.7zM190.71 38.37h1.7v1.7h-1.7zM275.46 144.99h1.7v1.7h-1.7zM171.84 50.77h1.7v1.7h-1.7zM215.14 59.93h1.7v1.7h-1.7zM283.25 154.98h1.7v1.7h-1.7zM194.96 39.43h1.7v1.7h-1.7zM306.59 174.94h1.7v1.7h-1.7zM293.08 170.52h1.7v1.7h-1.7zM234.8 91.96h1.7v1.7h-1.7zM88.81 139.13h1.7v1.7h-1.7zM180.13 37.17h1.7v1.7h-1.7zM79.79 159.09h1.7v1.7h-1.7zM180.36 40.11h1.7v1.7h-1.7zM281.16 154.34h1.7v1.7h-1.7zM305.08 172.35h1.7v1.7h-1.7zM289.64 163.9h1.7v1.7h-1.7zM247.14 113.58h1.7v1.7h-1.7zM346.22 185.48h1.7v1.7h-1.7zM317.45 180.44h1.7v1.7h-1.7zM158.6 83.51h1.7v1.7h-1.7zM165.76 70.39h1.7v1.7h-1.7zM100.2 98.8h1.7v1.7h-1.7zM276.5 155.16h1.7v1.7h-1.7zM160.14 83.68h1.7v1.7h-1.7zM118.06 40.63h1.7v1.7h-1.7zM250.75 116.19h1.7v1.7h-1.7zM360.35 188.02h1.7v1.7h-1.7zM128.06 37.11h1.7v1.7h-1.7zM200.46 43.2h1.7v1.7h-1.7zM135.04 46.62h1.7v1.7h-1.7zM30.22 190.39h1.7v1.7h-1.7zM164.18 71.56h1.7v1.7h-1.7zM352.29 183.82h1.7v1.7h-1.7zM234.68 88.91h1.7v1.7h-1.7zM112.47 58.06h1.7v1.7h-1.7zM243.78 111.16h1.7v1.7h-1.7zM143.02 65.78h1.7v1.7h-1.7zM64.04 179.87h1.7v1.7h-1.7zM161.89 77.27h1.7v1.7h-1.7zM221.63 75.5h1.7v1.7h-1.7zM213.47 56.44h1.7v1.7h-1.7zM333.15 181.83h1.7v1.7h-1.7zM269.2 147.52h1.7v1.7h-1.7zM225.8 78.67h1.7v1.7h-1.7zM320.84 182.72h1.7v1.7h-1.7zM115.68 46.31h1.7v1.7h-1.7zM367.14 187.26h1.7v1.7h-1.7zM271.63 143.16h1.7v1.7h-1.7zM311.32 184.05h1.7v1.7h-1.7zM51.92 187.42h1.7v1.7h-1.7zM382.52 193.1h1.7v1.7h-1.7zM79.81 163.7h1.7v1.7h-1.7zM45.97 189.52h1.7v1.7h-1.7z" fill="#ff0000"/>
<path d="M57.48 190.93h1.7v1.7h-1.7zM347.93 190.11h1.7v1.7h-1.7zM205.33 42.62h1.7v1.7h-1.7zM209.8 46.7h1.7v1.7h-1.7zM327.75 176.27h1.7v1.7h-1.7zM341.43 185.44h1.7v1.7h-1.7zM161.1 99.77h1.7v1.7h-1.7zM74.77 185.79h1.7v1.7h-1.7zM33.47 190.48h1.7v1.7h-1.7zM325.46 177.21h1.7v1.7h-1.7zM366.71 189.65h1.7v1.7h-1.7zM72.77 188.09h1.7v1.7h-1.7zM375.29 191.23h1.7v1.7h-1.7zM37.25 192.38h1.7v1.7h-1.7zM47.56 193.79h1.7v1.7h-1.7zM87.78 170.48h1.7v1.7h-1.7zM139.47 68.37h1.7v1.7h-1.7zM317.62 180.23h1.7v1.7h-1.7zM290.79 164.08h1.7v1.7h-1.7zM302.01 172.89h1.7v1.7h-1.7zM237.39 97.24h1.7v1.7h-1.7zM116.29 58.32h1.7v1.7h-1.7zM171.58 67.9h1.7v1.7h-1.7zM54.73 190.26h1.7v1.7h-1.7zM198.44 38.78h1.7v1.7h-1.7zM278.06 154.09h1.7v1.7h-1.7zM62.24 194.12h1.7v1.7h-1.7zM47.19 192.71h1.7v1.7h-1.7zM136.76 54.53h1.7v1.7h-1.7zM42.99 192.43h1.7v1.7h-1.7zM32.53 195.9h1.7v1.7h-1.7zM366.13 187.76h1.7v1.7h-1.7zM203.72 47.43h1.7v1.7h-1.7zM248.31 115.12h1.7v1.7h-1.7zM215.53 54.21h1.7v1.7h-1.7zM162.95 88.74h1.7v1.7h-1.7zM285.33 165.88h1.7v1.7h-1.7zM210.12 54.43h1.7v1.7h-1.7zM243.42 110.19h1.7v1.7h-1.7zM78.77 178.64h1.7v1.7h-1.7zM117.61 51.54h1.7v1.7h-1.7zM366.02 189.22h1.7v1.7h-1.7zM239.48 106.29h1.7v1.7h-1.7zM141.63 74.9h1.7v1.7h-1.7zM371.56 192.7h1.7v1.7h-1.7zM59.54 188.46h1.7v1.7h-1.7zM142.56 81.7h1.7v1.7h-1.7zM59.28 192.78h1.7v1.7h-1.7zM281.92 163.07h1.7v1.7h-1.7zM305.5 176.06h1.7v1.7h-1.7zM236.45 88.12h1.7v1.7h-1.7zM163.34 88.47h1.7v1.7h-1.7zM319.99 189.91h1.7v1.7h-1.7zM94.61 153.17h1.7v1.7h-1.7zM31.47 195.01h1.7v1.7h-1.7zM268.36 143.21h1.7v1.7h-1.7zM300.53 172.74h1.7v1.7h-1.7zM142.47 80.88h1.7v1.7h-1.7zM366.79 191.56h1.7v1.7h-1.7zM186.25 37.73h1.7v1.7h-1.7zM189.22 36.43h1.7v1.7h-1.7zM322.86 182.44h1.7v1.7h-1.7zM119.62 43.1h1.7v1.7h-1.7zM59.83 189.57h1.7v1.7h-1.7zM341.88 178.06h1.7v1.7h-1.7zM335.44 185.36h1.7v1.7h-1.7zM295.76 174.95h1.7v1.7h-1.7zM380.41 191.97h1.7v1.7h-1.7zM207.71 47.41h1.7v1.7h-1.7zM378.9 190.79h1.7v1.7h-1.7zM374.97 189.82h1.7v1.7h-1.7zM282.54 164.22h1.7v1.7h-1.7zM209.35 51.2h1.7v1.7h-1.7zM249.26 127.04h1.7v1.7h-1.7zM159.05 104.34h1.7v1.7h-1.7zM295.6 171.57h1.7v1.7h-1.7zM92.93 161.07h1.7v1.7h-1.7zM355.05 190.95h1.7v1.7h-1.7zM163.21 83.63h1.7v1.7h-1.7zM213.7 54.43h1.7v1.7h-1.7zM75.46 185h1.7v1.7h-1.7zM99.76 133.9h1.7v1.7h-1.7zM61.28 188.16h1.7v1.7h-1.7zM329.34 185.68h1.7v1.7h-1.7zM143.82 91.69h1.7v1.7h-1.7zM125.19 34.51h1.7v1.7h-1.7zM84.56 172.42h1.7v1.7h-1.7zM219.01 60.68h1.7v1.7h-1.7zM73.64 181.1h1.7v1.7h-1.7zM187.29 36.16h1.7v1.7h-1.7z" fill="#ff8a1e"/>
<path d="M231.48 68.19h1.7v1.7h-1.7zM128.03 31.96h1.7v1.7h-1.7zM260.26 136.01h1.7v1.7h-1.7zM95.99 167.73h1.7v1.7h-1.7zM260.21 127.7h1.7v1.7h-1.7zM371.22 187.51h1.7v1.7h-1.7zM216.63 38.57h1.7v1.7h-1.7zM254.52 122.84h1.7v1.7h-1.7zM136.51 64.54h1.7v1.7h-1.7zM48.72 194.94h1.7v1.7h-1.7zM244.63 100.01h1.7v1.7h-1.7zM329 181.77h1.7v1.7h-1.7zM357.73 184.63h1.7v1.7h-1.7zM71.54 189.61h1.7v1.7h-1.7zM49.92 194.05h1.7v1.7h-1.7zM105.47 133.64h1.7v1.7h-1.7zM346.67 188.07h1.7v1.7h-1.7zM143.7 108.15h1.7v1.7h-1.7zM115.82 71.37h1.7v1.7h-1.7zM215.36 44.52h1.7v1.7h-1.7zM137.58 70.38h1.7v1.7h-1.7zM69.01 192.62h1.7v1.7h-1.7zM41.77 195.15h1.7v1.7h-1.7zM227.71 60.72h1.7v1.7h-1.7zM73.87 192.09h1.7v1.7h-1.7zM141.89 99.78h1.7v1.7h-1.7zM50.48 191.11h1.7v1.7h-1.7zM98.22 167.72h1.7v1.7h-1.7zM260.92 128.21h1.7v1.7h-1.7zM156.55 146.56h1.7v1.7h-1.7zM220.42 51.99h1.7v1.7h-1.7zM54.94 188.77h1.7v1.7h-1.7zM200 31.71h1.7v1.7h-1.7zM69.33 195.18h1.7v1.7h-1.7zM338.22 190.88h1.7v1.7h-1.7zM186.74 48.82h1.7v1.7h-1.7zM141.46 99.58h1.7v1.7h-1.7zM87.76 182.84h1.7v1.7h-1.7zM204.86 35.39h1.7v1.7h-1.7zM61.03 190.9h1.7v1.7h-1.7zM242.56 95.46h1.7v1.7h-1.7zM179.14 64h1.7v1.7h-1.7zM209.1 37.63h1.7v1.7h-1.7zM369.65 196.5h1.7v1.7h-1.7zM200.26 38.92h1.7v1.7h-1.7zM313.63 181.04h1.7v1.7h-1.7zM144.86 118.49h1.7v1.7h-1.7zM281.37 160.64h1.7v1.7h-1.7zM249.72 109.85h1.7v1.7h-1.7zM298.66 177.7h1.7v1.7h-1.7zM371.19 191.72h1.7v1.7h-1.7zM315.93 178.48h1.7v1.7h-1.7zM356.82 192.73h1.7v1.7h-1.7zM237.24 80.52h1.7v1.7h-1.7zM210.69 41.92h1.7v1.7h-1.7zM284.74 159.07h1.7v1.7h-1.7zM110.6 105.66h1.7v1.7h-1.7zM236.08 83.33h1.7v1.7h-1.7zM232.42 74.79h1.7v1.7h-1.7zM365.54 191.69h1.7v1.7h-1.7zM55.39 196.37h1.7v1.7h-1.7zM232.65 72.18h1.7v1.7h-1.7zM381.59 190.32h1.7v1.7h-1.7zM361.66 189.14h1.7v1.7h-1.7zM176.09 82.34h1.7v1.7h-1.7zM78.9 187.53h1.7v1.7h-1.7zM44.16 196.98h1.7v1.7h-1.7zM309.53 179.7h1.7v1.7h-1.7zM110.64 105.62h1.7v1.7h-1.7zM312.32 182.11h1.7v1.7h-1.7z" fill="#00e8f0"/>
<path d="M216.86 35.41h1.7v1.7h-1.7zM347.37 184.73h1.7v1.7h-1.7zM341.56 181.91h1.7v1.7h-1.7zM179.85 80.97h1.7v1.7h-1.7zM138.23 78.29h1.7v1.7h-1.7zM84.8 193.13h1.7v1.7h-1.7zM126.95 32.46h1.7v1.7h-1.7zM295.84 165.76h1.7v1.7h-1.7zM60.65 193.73h1.7v1.7h-1.7zM224.99 52.47h1.7v1.7h-1.7zM326.26 186.15h1.7v1.7h-1.7zM237.99 69.9h1.7v1.7h-1.7zM254.9 112.66h1.7v1.7h-1.7zM102.87 172.98h1.7v1.7h-1.7zM219.1 39.88h1.7v1.7h-1.7zM168.52 112.18h1.7v1.7h-1.7zM179.79 75.36h1.7v1.7h-1.7zM235.26 77.02h1.7v1.7h-1.7zM294.44 169.21h1.7v1.7h-1.7zM71.46 189.04h1.7v1.7h-1.7zM130.01 41.54h1.7v1.7h-1.7zM173.28 94.47h1.7v1.7h-1.7zM304.28 171.38h1.7v1.7h-1.7zM62.01 196.82h1.7v1.7h-1.7zM291.7 169.29h1.7v1.7h-1.7zM193.2 43.15h1.7v1.7h-1.7zM76.35 191.04h1.7v1.7h-1.7zM134.7 55.46h1.7v1.7h-1.7zM54.33 190.99h1.7v1.7h-1.7zM215.33 40.71h1.7v1.7h-1.7zM173.61 97.49h1.7v1.7h-1.7zM139.38 90.86h1.7v1.7h-1.7zM217.77 45.88h1.7v1.7h-1.7zM371.02 186.63h1.7v1.7h-1.7zM245.27 93.74h1.7v1.7h-1.7zM289.29 162.99h1.7v1.7h-1.7zM148.79 145.04h1.7v1.7h-1.7zM291.99 171.17h1.7v1.7h-1.7zM150.84 156.02h1.7v1.7h-1.7zM359.85 191.14h1.7v1.7h-1.7zM247.15 96.78h1.7v1.7h-1.7zM50.54 195.39h1.7v1.7h-1.7zM125.31 31.68h1.7v1.7h-1.7zM333.08 185.4h1.7v1.7h-1.7zM223.43 49.27h1.7v1.7h-1.7zM275.21 145.51h1.7v1.7h-1.7zM381.8 194.65h1.7v1.7h-1.7zM377.99 196.4h1.7v1.7h-1.7zM160.05 147.12h1.7v1.7h-1.7zM82.32 182.4h1.7v1.7h-1.7zM194.23 37.45h1.7v1.7h-1.7zM124.05 41.44h1.7v1.7h-1.7zM295.54 167.28h1.7v1.7h-1.7zM289.43 157.91h1.7v1.7h-1.7zM334.06 182.51h1.7v1.7h-1.7zM193.14 41.21h1.7v1.7h-1.7zM173.75 92.3h1.7v1.7h-1.7zM168.51 115.67h1.7v1.7h-1.7zM81.36 185.1h1.7v1.7h-1.7zM138.19 79.47h1.7v1.7h-1.7zM377.06 191.98h1.7v1.7h-1.7zM107.07 149.77h1.7v1.7h-1.7zM340.44 189.52h1.7v1.7h-1.7zM266.25 133.65h1.7v1.7h-1.7zM296.16 168.37h1.7v1.7h-1.7zM113.38 112.4h1.7v1.7h-1.7zM284.87 156.34h1.7v1.7h-1.7zM129.26 32.38h1.7v1.7h-1.7zM340.7 187.53h1.7v1.7h-1.7zM331.9 181.59h1.7v1.7h-1.7zM136.76 61.47h1.7v1.7h-1.7zM371.94 189.19h1.7v1.7h-1.7zM361.05 186.27h1.7v1.7h-1.7zM135.16 60.32h1.7v1.7h-1.7zM341.89 190.87h1.7v1.7h-1.7zM42.6 188.4h1.7v1.7h-1.7zM137.9 74.61h1.7v1.7h-1.7zM43.11 194.79h1.7v1.7h-1.7zM52.3 196.64h1.7v1.7h-1.7zM242.55 90.7h1.7v1.7h-1.7zM336.03 189.97h1.7v1.7h-1.7zM329.01 183.09h1.7v1.7h-1.7zM183.62 62.34h1.7v1.7h-1.7zM187.41 53.04h1.7v1.7h-1.7zM64.14 183.48h1.7v1.7h-1.7zM380.31 192.32h1.7v1.7h-1.7zM294.89 177.84h1.7v1.7h-1.7zM217.63 44.15h1.7v1.7h-1.7zM268.52 133.49h1.7v1.7h-1.7zM141.06 98.61h1.7v1.7h-1.7z" fill="#0000ff"/>
<path d="M30.7 191.21 L31.2 191.18 L31.7 191.15 L32.2 191.12 L32.7 191.09 L33.2 191.05 L33.7 191.02 L34.2 190.99 L34.7 190.95 L35.2 190.91 L35.7 190.87 L36.2 190.83 L36.7 190.79 L37.2 190.75 L37.7 190.7 L38.2 190.66 L38.7 190.61 L39.2 190.56 L39.7 190.51 L40.2 190.46 L40.7 190.4 L41.2 190.35 L41.7 190.29 L42.2 190.23 L42.7 190.16 L43.2 190.1 L43.7 190.03 L44.2 189.96 L44.7 189.89 L45.2 189.81 L45.7 189.74 L46.2 189.65 L46.7 189.57 L47.2 189.48 L47.7 189.39 L48.2 189.29 L48.7 189.2 L49.2 189.09 L49.7 188.99 L50.2 188.88 L50.7 188.76 L51.2 188.64 L51.7 188.52 L52.2 188.38 L52.7 188.25 L53.2 188.11 L53.7 187.96 L54.2 187.81 L54.7 187.65 L55.2 187.49 L55.7 187.31 L56.2 187.13 L56.7 186.95 L57.2 186.75 L57.7 186.55 L58.2 186.34 L58.7 186.12 L59.2 185.89 L59.7 185.66 L60.2 185.41 L60.7 185.16 L61.2 184.89 L61.7 184.61 L62.2 184.32 L62.7 184.02 L63.2 183.71 L63.7 183.39 L64.2 183.05 L64.7 182.7 L65.2 182.34 L65.7 181.96 L66.2 181.57 L66.7 181.16 L67.2 180.74 L67.7 180.3 L68.2 179.85 L68.7 179.37 L69.2 178.89 L69.7 178.38 L70.2 177.86 L70.7 177.31 L71.2 176.75 L71.7 176.17 L72.2 175.57 L72.7 174.95 L73.2 174.3 L73.7 173.64 L74.2 172.95 L74.7 172.24 L75.2 171.51 L75.7 170.75 L76.2 169.98 L76.7 169.17 L77.2 168.34 L77.7 167.49 L78.2 166.61 L78.7 165.71 L79.2 164.78 L79.7 163.82 L80.2 162.84 L80.7 161.83 L81.2 160.79 L81.7 159.73 L82.2 158.63 L82.7 157.51 L83.2 156.36 L83.7 155.19 L84.2 153.98 L84.7 152.75 L85.2 151.49 L85.7 150.2 L86.2 148.88 L86.7 147.53 L87.2 146.16 L87.7 144.76 L88.2 143.33 L88.7 141.87 L89.2 140.39 L89.7 138.88 L90.2 137.34 L90.7 135.78 L91.2 134.19 L91.7 132.58 L92.2 130.95 L92.7 129.29 L93.2 127.61 L93.7 125.9 L94.2 124.18 L94.7 122.44 L95.2 120.67 L95.7 118.89 L96.2 117.09 L96.7 115.28 L97.2 113.45 L97.7 111.6 L98.2 109.75 L98.7 107.88 L99.2 106 L99.7 104.12 L100.2 102.22 L100.7 100.33 L101.2 98.42 L101.7 96.52 L102.2 94.61 L102.7 92.71 L103.2 90.81 L103.7 88.91 L104.2 87.02 L104.7 85.13 L105.2 83.26 L105.7 81.39 L106.2 79.54 L106.7 77.71 L107.2 75.89 L107.7 74.09 L108.2 72.31 L108.7 70.56 L109.2 68.83 L109.7 67.12 L110.2 65.44 L110.7 63.8 L111.2 62.18 L111.7 60.6 L112.2 59.06 L112.7 57.55 L113.2 56.09 L113.7 54.66 L114.2 53.28 L114.7 51.94 L115.2 50.65 L115.7 49.4 L116.2 48.21 L116.7 47.06 L117.2 45.97 L117.7 44.93 L118.2 43.95 L118.7 43.02 L119.2 42.15 L119.7 41.34 L120.2 40.59 L120.7 39.9 L121.2 39.27 L121.7 38.71 L122.2 38.2 L122.7 37.77 L123.2 37.39 L123.7 37.08 L124.2 36.84 L124.7 36.66 L125.2 36.55 L125.7 36.5 L126.2 36.52 L126.7 36.59 L127.2 36.73 L127.7 36.92 L128.2 37.16 L128.7 37.47 L129.2 37.83 L129.7 38.24 L130.2 38.72 L130.7 39.24 L131.2 39.82 L131.7 40.46 L132.2 41.15 L132.7 41.89 L133.2 42.68 L133.7 43.53 L134.2 44.42 L134.7 45.37 L135.2 46.36 L135.7 47.39 L136.2 48.48 L136.7 49.61 L137.2 50.78 L137.7 51.99 L138.2 53.25 L138.7 54.54 L139.2 55.88 L139.7 57.25 L140.2 58.65 L140.7 60.09 L141.2 61.57 L141.7 63.07 L142.2 64.61 L142.7 66.17 L143.2 67.76 L143.7 69.37 L144.2 71.01 L144.7 72.67 L145.2 74.36 L145.7 76.06 L146.2 77.78 L146.7 79.51 L147.2 81.27 L147.7 83.03 L148.2 84.8 L148.7 86.59 L149.2 88.39 L149.7 90.19 L150.2 91.99 L150.7 93.81 L151.2 95.62 L151.7 97.44 L152.2 99.26 L152.7 101.07 L153.2 102.89 L153.7 104.7 L154.2 106.5 L154.7 108.3 L155.2 110.09 L155.7 111.88 L156.2 113.65 L156.7 115.41 L157.2 117.16 L157.7 118.9 L158.2 120.63 L158.7 122.34 L159.2 124.03 L159.7 125.71 L160.2 127.37 L160.7 129.01 L161.2 130.64 L161.7 132.24 L162.2 133.83 L162.7 135.39 L163.2 136.93 L163.7 138.45 L164.2 139.95 L164.7 141.43 L165.2 142.88 L165.7 144.31 L166.2 145.71 L166.7 147.09 L167.2 148.45 L167.7 149.78 L168.2 151.08 L168.7 152.36 L169.2 153.62 L169.7 154.85 L170.2 156.05 L170.7 157.23 L171.2 158.38 L171.7 159.5 L172.2 160.61 L172.7 161.68 L173.2 162.73 L173.7 163.75 L174.2 164.75 L174.7 165.73 L175.2 166.67 L175.7 167.6 L176.2 168.5 L176.7 169.37 L177.2 170.22 L177.7 171.05 L178.2 171.86 L178.7 172.64 L179.2 173.39 L179.7 174.13 L180.2 174.84 L180.7 175.54 L181.2 176.21 L181.7 176.85 L182.2 177.48 L182.7 178.09 L183.2 178.68 L183.7 179.25 L184.2 179.8 L184.7 180.33 L185.2 180.84 L185.7 181.33 L186.2 181.81 L186.7 182.27 L187.2 182.72 L187.7 183.14 L188.2 183.55 L188.7 183.95 L189.2 184.33 L189.7 184.7 L190.2 185.05 L190.7 185.39 L191.2 185.71 L191.7 186.03 L192.2 186.33 L192.7 186.61 L193.2 186.89 L193.7 187.15 L194.2 187.41 L194.7 187.65 L195.2 187.88 L195.7 188.1 L196.2 188.31 L196.7 188.52 L197.2 188.71 L197.7 188.9 L198.2 189.07 L198.7 189.24 L199.2 189.4 L199.7 189.56 L200.2 189.7 L200.7 189.84 L201.2 189.98 L201.7 190.1 L202.2 190.22 L202.7 190.34 L203.2 190.45 L203.7 190.55 L204.2 190.65 L204.7 190.74 L205.2 190.83 L205.7 190.91 L206.2 190.99 L206.7 191.07 L207.2 191.14 L207.7 191.21 L208.2 191.27 L208.7 191.33 L209.2 191.39 L209.7 191.45 L210.2 191.5 L210.7 191.55 L211.2 191.59 L211.7 191.64 L212.2 191.68 L212.7 191.72 L213.2 191.75 L213.7 191.79 L214.2 191.82 L214.7 191.85 L215.2 191.88 L215.7 191.91 L216.2 191.93 L216.7 191.95 L217.2 191.98 L217.7 192 L218.2 192.02 L218.7 192.04 L219.2 192.05 L219.7 192.07 L220.2 192.09 L220.7 192.1 L221.2 192.11 L221.7 192.13 L222.2 192.14 L222.7 192.15 L223.2 192.16 L223.7 192.17 L224.2 192.18 L224.7 192.19 L225.2 192.2 L225.7 192.2 L226.2 192.21 L226.7 192.22 L227.2 192.22 L227.7 192.23 L228.2 192.23 L228.7 192.24 L229.2 192.24 L229.7 192.25 L230.2 192.25 L230.7 192.25 L231.2 192.26 L231.7 192.26 L232.2 192.26 L232.7 192.27 L233.2 192.27 L233.7 192.27 L234.2 192.27 L234.7 192.28 L235.2 192.28 L235.7 192.28 L236.2 192.28 L236.7 192.28 L237.2 192.28 L237.7 192.29 L238.2 192.29 L238.7 192.29 L239.2 192.29 L239.7 192.29 L240.2 192.29 L240.7 192.29 L241.2 192.29 L241.7 192.29 L242.2 192.29 L242.7 192.29 L243.2 192.29 L243.7 192.29 L244.2 192.3 L244.7 192.3 L245.2 192.3 L245.7 192.3 L246.2 192.3 L246.7 192.3 L247.2 192.3 L247.7 192.3 L248.2 192.3 L248.7 192.3 L249.2 192.3 L249.7 192.3 L250.2 192.3 L250.7 192.3 L251.2 192.3 L251.7 192.3 L252.2 192.3 L252.7 192.3 L253.2 192.3 L253.7 192.3 L254.2 192.3 L254.7 192.3 L255.2 192.3 L255.7 192.3 L256.2 192.3 L256.7 192.3 L257.2 192.3 L257.7 192.3 L258.2 192.3 L258.7 192.3 L259.2 192.3 L259.7 192.3 L260.2 192.3 L260.7 192.3 L261.2 192.3 L261.7 192.3 L262.2 192.3 L262.7 192.3 L263.2 192.3 L263.7 192.3 L264.2 192.3 L264.7 192.3 L265.2 192.3 L265.7 192.3 L266.2 192.3 L266.7 192.3 L267.2 192.3 L267.7 192.3 L268.2 192.3 L268.7 192.3 L269.2 192.3 L269.7 192.3 L270.2 192.3 L270.7 192.3 L271.2 192.3 L271.7 192.3 L272.2 192.3 L272.7 192.3 L273.2 192.3 L273.7 192.3 L274.2 192.3 L274.7 192.3 L275.2 192.3 L275.7 192.3 L276.2 192.3 L276.7 192.3 L277.2 192.3 L277.7 192.3 L278.2 192.3 L278.7 192.3 L279.2 192.3 L279.7 192.3 L280.2 192.3 L280.7 192.3 L281.2 192.3 L281.7 192.3 L282.2 192.3 L282.7 192.3 L283.2 192.3 L283.7 192.3 L284.2 192.3 L284.7 192.3 L285.2 192.3 L285.7 192.3 L286.2 192.3 L286.7 192.3 L287.2 192.3 L287.7 192.3 L288.2 192.3 L288.7 192.3 L289.2 192.3 L289.7 192.3 L290.2 192.3 L290.7 192.3 L291.2 192.3 L291.7 192.3 L292.2 192.3 L292.7 192.3 L293.2 192.3 L293.7 192.3 L294.2 192.3 L294.7 192.3 L295.2 192.3 L295.7 192.3 L296.2 192.3 L296.7 192.3 L297.2 192.3 L297.7 192.3 L298.2 192.3 L298.7 192.3 L299.2 192.3 L299.7 192.3 L300.2 192.3 L300.7 192.3 L301.2 192.3 L301.7 192.3 L302.2 192.3 L302.7 192.3 L303.2 192.3 L303.7 192.3 L304.2 192.3 L304.7 192.3 L305.2 192.3 L305.7 192.3 L306.2 192.3 L306.7 192.3 L307.2 192.3 L307.7 192.3 L308.2 192.3 L308.7 192.3 L309.2 192.3 L309.7 192.3 L310.2 192.3 L310.7 192.3 L311.2 192.3 L311.7 192.3 L312.2 192.3 L312.7 192.3 L313.2 192.3 L313.7 192.3 L314.2 192.3 L314.7 192.3 L315.2 192.3 L315.7 192.3 L316.2 192.3 L316.7 192.3 L317.2 192.3 L317.7 192.3 L318.2 192.3 L318.7 192.3 L319.2 192.3 L319.7 192.3 L320.2 192.3 L320.7 192.3 L321.2 192.3 L321.7 192.3 L322.2 192.3 L322.7 192.3 L323.2 192.3 L323.7 192.3 L324.2 192.3 L324.7 192.3 L325.2 192.3 L325.7 192.3 L326.2 192.3 L326.7 192.3 L327.2 192.3 L327.7 192.3 L328.2 192.3 L328.7 192.3 L329.2 192.3 L329.7 192.3 L330.2 192.3 L330.7 192.3 L331.2 192.3 L331.7 192.3 L332.2 192.3 L332.7 192.3 L333.2 192.3 L333.7 192.3 L334.2 192.3 L334.7 192.3 L335.2 192.3 L335.7 192.3 L336.2 192.3 L336.7 192.3 L337.2 192.3 L337.7 192.3 L338.2 192.3 L338.7 192.3 L339.2 192.3 L339.7 192.3 L340.2 192.3 L340.7 192.3 L341.2 192.3 L341.7 192.3 L342.2 192.3 L342.7 192.3 L343.2 192.3 L343.7 192.3 L344.2 192.3 L344.7 192.3 L345.2 192.3 L345.7 192.3 L346.2 192.3 L346.7 192.3 L347.2 192.3 L347.7 192.3 L348.2 192.3 L348.7 192.3 L349.2 192.3 L349.7 192.3 L350.2 192.3 L350.7 192.3 L351.2 192.3 L351.7 192.3 L352.2 192.3 L352.7 192.3 L353.2 192.3 L353.7 192.3 L354.2 192.3 L354.7 192.3 L355.2 192.3 L355.7 192.3 L356.2 192.3 L356.7 192.3 L357.2 192.3 L357.7 192.3 L358.2 192.3 L358.7 192.3 L359.2 192.3 L359.7 192.3 L360.2 192.3 L360.7 192.3 L361.2 192.3 L361.7 192.3 L362.2 192.3 L362.7 192.3 L363.2 192.3 L363.7 192.3 L364.2 192.3 L364.7 192.3 L365.2 192.3 L365.7 192.3 L366.2 192.3 L366.7 192.3 L367.2 192.3 L367.7 192.3 L368.2 192.3 L368.7 192.3 L369.2 192.3 L369.7 192.3 L370.2 192.3 L370.7 192.3 L371.2 192.3 L371.7 192.3 L372.2 192.3 L372.7 192.3 L373.2 192.3 L373.7 192.3 L374.2 192.3 L374.7 192.3 L375.2 192.3 L375.7 192.3 L376.2 192.3 L376.7 192.3 L377.2 192.3 L377.7 192.3 L378.2 192.3 L378.7 192.3 L379.2 192.3 L379.7 192.3 L380.2 192.3 L380.7 192.3 L381.2 192.3 L381.7 192.3 L382.2 192.3 L382.7 192.3 L383.2 192.3 L383.7 192.3 L384.2 192.3" fill="none" stroke="#ff0000" stroke-width="1.6"/>
<path d="M30.7 192.12 L31.2 192.11 L31.7 192.11 L32.2 192.1 L32.7 192.09 L33.2 192.09 L33.7 192.08 L34.2 192.07 L34.7 192.07 L35.2 192.06 L35.7 192.05 L36.2 192.04 L36.7 192.04 L37.2 192.03 L37.7 192.02 L38.2 192.01 L38.7 192 L39.2 191.99 L39.7 191.98 L40.2 191.97 L40.7 191.96 L41.2 191.95 L41.7 191.94 L42.2 191.93 L42.7 191.91 L43.2 191.9 L43.7 191.89 L44.2 191.88 L44.7 191.86 L45.2 191.85 L45.7 191.83 L46.2 191.82 L46.7 191.8 L47.2 191.78 L47.7 191.77 L48.2 191.75 L48.7 191.73 L49.2 191.71 L49.7 191.69 L50.2 191.67 L50.7 191.65 L51.2 191.63 L51.7 191.6 L52.2 191.58 L52.7 191.55 L53.2 191.52 L53.7 191.5 L54.2 191.47 L54.7 191.44 L55.2 191.4 L55.7 191.37 L56.2 191.34 L56.7 191.3 L57.2 191.26 L57.7 191.22 L58.2 191.18 L58.7 191.13 L59.2 191.08 L59.7 191.03 L60.2 190.98 L60.7 190.93 L61.2 190.87 L61.7 190.81 L62.2 190.74 L62.7 190.68 L63.2 190.6 L63.7 190.53 L64.2 190.45 L64.7 190.36 L65.2 190.27 L65.7 190.18 L66.2 190.08 L66.7 189.97 L67.2 189.86 L67.7 189.74 L68.2 189.62 L68.7 189.49 L69.2 189.35 L69.7 189.2 L70.2 189.04 L70.7 188.87 L71.2 188.7 L71.7 188.51 L72.2 188.31 L72.7 188.1 L73.2 187.88 L73.7 187.65 L74.2 187.4 L74.7 187.14 L75.2 186.86 L75.7 186.57 L76.2 186.26 L76.7 185.93 L77.2 185.59 L77.7 185.23 L78.2 184.84 L78.7 184.44 L79.2 184.01 L79.7 183.57 L80.2 183.1 L80.7 182.6 L81.2 182.08 L81.7 181.53 L82.2 180.95 L82.7 180.35 L83.2 179.71 L83.7 179.05 L84.2 178.35 L84.7 177.62 L85.2 176.86 L85.7 176.06 L86.2 175.23 L86.7 174.36 L87.2 173.45 L87.7 172.5 L88.2 171.51 L88.7 170.49 L89.2 169.42 L89.7 168.3 L90.2 167.15 L90.7 165.95 L91.2 164.7 L91.7 163.41 L92.2 162.08 L92.7 160.7 L93.2 159.27 L93.7 157.79 L94.2 156.27 L94.7 154.7 L95.2 153.08 L95.7 151.41 L96.2 149.7 L96.7 147.94 L97.2 146.14 L97.7 144.28 L98.2 142.38 L98.7 140.44 L99.2 138.45 L99.7 136.42 L100.2 134.35 L100.7 132.24 L101.2 130.09 L101.7 127.9 L102.2 125.67 L102.7 123.42 L103.2 121.13 L103.7 118.81 L104.2 116.46 L104.7 114.08 L105.2 111.69 L105.7 109.27 L106.2 106.84 L106.7 104.4 L107.2 101.94 L107.7 99.48 L108.2 97.01 L108.7 94.54 L109.2 92.07 L109.7 89.61 L110.2 87.16 L110.7 84.73 L111.2 82.31 L111.7 79.91 L112.2 77.54 L112.7 75.19 L113.2 72.89 L113.7 70.61 L114.2 68.38 L114.7 66.2 L115.2 64.06 L115.7 61.98 L116.2 59.96 L116.7 58 L117.2 56.1 L117.7 54.27 L118.2 52.51 L118.7 50.83 L119.2 49.23 L119.7 47.71 L120.2 46.28 L120.7 44.93 L121.2 43.68 L121.7 42.52 L122.2 41.45 L122.7 40.49 L123.2 39.62 L123.7 38.86 L124.2 38.2 L124.7 37.65 L125.2 37.21 L125.7 36.87 L126.2 36.64 L126.7 36.52 L127.2 36.51 L127.7 36.6 L128.2 36.78 L128.7 37.06 L129.2 37.44 L129.7 37.91 L130.2 38.48 L130.7 39.14 L131.2 39.9 L131.7 40.74 L132.2 41.68 L132.7 42.7 L133.2 43.81 L133.7 45 L134.2 46.28 L134.7 47.63 L135.2 49.06 L135.7 50.56 L136.2 52.14 L136.7 53.79 L137.2 55.5 L137.7 57.27 L138.2 59.11 L138.7 61 L139.2 62.95 L139.7 64.95 L140.2 66.99 L140.7 69.08 L141.2 71.21 L141.7 73.38 L142.2 75.58 L142.7 77.81 L143.2 80.07 L143.7 82.36 L144.2 84.66 L144.7 86.98 L145.2 89.32 L145.7 91.67 L146.2 94.02 L146.7 96.39 L147.2 98.75 L147.7 101.11 L148.2 103.47 L148.7 105.82 L149.2 108.16 L149.7 110.48 L150.2 112.8 L150.7 115.1 L151.2 117.37 L151.7 119.63 L152.2 121.86 L152.7 124.06 L153.2 126.24 L153.7 128.39 L154.2 130.51 L154.7 132.59 L155.2 134.64 L155.7 136.66 L156.2 138.63 L156.7 140.57 L157.2 142.47 L157.7 144.34 L158.2 146.16 L158.7 147.93 L159.2 149.67 L159.7 151.37 L160.2 153.02 L160.7 154.63 L161.2 156.19 L161.7 157.71 L162.2 159.19 L162.7 160.63 L163.2 162.02 L163.7 163.37 L164.2 164.67 L164.7 165.94 L165.2 167.16 L165.7 168.34 L166.2 169.48 L166.7 170.58 L167.2 171.63 L167.7 172.65 L168.2 173.63 L168.7 174.58 L169.2 175.48 L169.7 176.35 L170.2 177.18 L170.7 177.98 L171.2 178.75 L171.7 179.48 L172.2 180.18 L172.7 180.85 L173.2 181.49 L173.7 182.1 L174.2 182.68 L174.7 183.23 L175.2 183.76 L175.7 184.26 L176.2 184.74 L176.7 185.19 L177.2 185.62 L177.7 186.03 L178.2 186.42 L178.7 186.79 L179.2 187.13 L179.7 187.46 L180.2 187.77 L180.7 188.06 L181.2 188.34 L181.7 188.6 L182.2 188.85 L182.7 189.08 L183.2 189.29 L183.7 189.5 L184.2 189.69 L184.7 189.87 L185.2 190.04 L185.7 190.2 L186.2 190.35 L186.7 190.49 L187.2 190.62 L187.7 190.74 L188.2 190.86 L188.7 190.96 L189.2 191.06 L189.7 191.16 L190.2 191.24 L190.7 191.32 L191.2 191.4 L191.7 191.47 L192.2 191.53 L192.7 191.59 L193.2 191.65 L193.7 191.7 L194.2 191.75 L194.7 191.79 L195.2 191.83 L195.7 191.87 L196.2 191.91 L196.7 191.94 L197.2 191.97 L197.7 192 L198.2 192.02 L198.7 192.05 L199.2 192.07 L199.7 192.09 L200.2 192.11 L200.7 192.12 L201.2 192.14 L201.7 192.15 L202.2 192.17 L202.7 192.18 L203.2 192.19 L203.7 192.2 L204.2 192.21 L204.7 192.22 L205.2 192.23 L205.7 192.23 L206.2 192.24 L206.7 192.24 L207.2 192.25 L207.7 192.25 L208.2 192.26 L208.7 192.26 L209.2 192.27 L209.7 192.27 L210.2 192.27 L210.7 192.28 L211.2 192.28 L211.7 192.28 L212.2 192.28 L212.7 192.28 L213.2 192.29 L213.7 192.29 L214.2 192.29 L214.7 192.29 L215.2 192.29 L215.7 192.29 L216.2 192.29 L216.7 192.29 L217.2 192.29 L217.7 192.29 L218.2 192.3 L218.7 192.3 L219.2 192.3 L219.7 192.3 L220.2 192.3 L220.7 192.3 L221.2 192.3 L221.7 192.3 L222.2 192.3 L222.7 192.3 L223.2 192.3 L223.7 192.3 L224.2 192.3 L224.7 192.3 L225.2 192.3 L225.7 192.3 L226.2 192.3 L226.7 192.3 L227.2 192.3 L227.7 192.3 L228.2 192.3 L228.7 192.3 L229.2 192.3 L229.7 192.3 L230.2 192.3 L230.7 192.3 L231.2 192.3 L231.7 192.3 L232.2 192.3 L232.7 192.3 L233.2 192.3 L233.7 192.3 L234.2 192.3 L234.7 192.3 L235.2 192.3 L235.7 192.3 L236.2 192.3 L236.7 192.3 L237.2 192.3 L237.7 192.3 L238.2 192.3 L238.7 192.3 L239.2 192.3 L239.7 192.3 L240.2 192.3 L240.7 192.3 L241.2 192.3 L241.7 192.3 L242.2 192.3 L242.7 192.3 L243.2 192.3 L243.7 192.3 L244.2 192.3 L244.7 192.3 L245.2 192.3 L245.7 192.3 L246.2 192.3 L246.7 192.3 L247.2 192.3 L247.7 192.3 L248.2 192.3 L248.7 192.3 L249.2 192.3 L249.7 192.3 L250.2 192.3 L250.7 192.3 L251.2 192.3 L251.7 192.3 L252.2 192.3 L252.7 192.3 L253.2 192.3 L253.7 192.3 L254.2 192.3 L254.7 192.3 L255.2 192.3 L255.7 192.3 L256.2 192.3 L256.7 192.3 L257.2 192.3 L257.7 192.3 L258.2 192.3 L258.7 192.3 L259.2 192.3 L259.7 192.3 L260.2 192.3 L260.7 192.3 L261.2 192.3 L261.7 192.3 L262.2 192.3 L262.7 192.3 L263.2 192.3 L263.7 192.3 L264.2 192.3 L264.7 192.3 L265.2 192.3 L265.7 192.3 L266.2 192.3 L266.7 192.3 L267.2 192.3 L267.7 192.3 L268.2 192.3 L268.7 192.3 L269.2 192.3 L269.7 192.3 L270.2 192.3 L270.7 192.3 L271.2 192.3 L271.7 192.3 L272.2 192.3 L272.7 192.3 L273.2 192.3 L273.7 192.3 L274.2 192.3 L274.7 192.3 L275.2 192.3 L275.7 192.3 L276.2 192.3 L276.7 192.3 L277.2 192.3 L277.7 192.3 L278.2 192.3 L278.7 192.3 L279.2 192.3 L279.7 192.3 L280.2 192.3 L280.7 192.3 L281.2 192.3 L281.7 192.3 L282.2 192.3 L282.7 192.3 L283.2 192.3 L283.7 192.3 L284.2 192.3 L284.7 192.3 L285.2 192.3 L285.7 192.3 L286.2 192.3 L286.7 192.3 L287.2 192.3 L287.7 192.3 L288.2 192.3 L288.7 192.3 L289.2 192.3 L289.7 192.3 L290.2 192.3 L290.7 192.3 L291.2 192.3 L291.7 192.3 L292.2 192.3 L292.7 192.3 L293.2 192.3 L293.7 192.3 L294.2 192.3 L294.7 192.3 L295.2 192.3 L295.7 192.3 L296.2 192.3 L296.7 192.3 L297.2 192.3 L297.7 192.3 L298.2 192.3 L298.7 192.3 L299.2 192.3 L299.7 192.3 L300.2 192.3 L300.7 192.3 L301.2 192.3 L301.7 192.3 L302.2 192.3 L302.7 192.3 L303.2 192.3 L303.7 192.3 L304.2 192.3 L304.7 192.3 L305.2 192.3 L305.7 192.3 L306.2 192.3 L306.7 192.3 L307.2 192.3 L307.7 192.3 L308.2 192.3 L308.7 192.3 L309.2 192.3 L309.7 192.3 L310.2 192.3 L310.7 192.3 L311.2 192.3 L311.7 192.3 L312.2 192.3 L312.7 192.3 L313.2 192.3 L313.7 192.3 L314.2 192.3 L314.7 192.3 L315.2 192.3 L315.7 192.3 L316.2 192.3 L316.7 192.3 L317.2 192.3 L317.7 192.3 L318.2 192.3 L318.7 192.3 L319.2 192.3 L319.7 192.3 L320.2 192.3 L320.7 192.3 L321.2 192.3 L321.7 192.3 L322.2 192.3 L322.7 192.3 L323.2 192.3 L323.7 192.3 L324.2 192.3 L324.7 192.3 L325.2 192.3 L325.7 192.3 L326.2 192.3 L326.7 192.3 L327.2 192.3 L327.7 192.3 L328.2 192.3 L328.7 192.3 L329.2 192.3 L329.7 192.3 L330.2 192.3 L330.7 192.3 L331.2 192.3 L331.7 192.3 L332.2 192.3 L332.7 192.3 L333.2 192.3 L333.7 192.3 L334.2 192.3 L334.7 192.3 L335.2 192.3 L335.7 192.3 L336.2 192.3 L336.7 192.3 L337.2 192.3 L337.7 192.3 L338.2 192.3 L338.7 192.3 L339.2 192.3 L339.7 192.3 L340.2 192.3 L340.7 192.3 L341.2 192.3 L341.7 192.3 L342.2 192.3 L342.7 192.3 L343.2 192.3 L343.7 192.3 L344.2 192.3 L344.7 192.3 L345.2 192.3 L345.7 192.3 L346.2 192.3 L346.7 192.3 L347.2 192.3 L347.7 192.3 L348.2 192.3 L348.7 192.3 L349.2 192.3 L349.7 192.3 L350.2 192.3 L350.7 192.3 L351.2 192.3 L351.7 192.3 L352.2 192.3 L352.7 192.3 L353.2 192.3 L353.7 192.3 L354.2 192.3 L354.7 192.3 L355.2 192.3 L355.7 192.3 L356.2 192.3 L356.7 192.3 L357.2 192.3 L357.7 192.3 L358.2 192.3 L358.7 192.3 L359.2 192.3 L359.7 192.3 L360.2 192.3 L360.7 192.3 L361.2 192.3 L361.7 192.3 L362.2 192.3 L362.7 192.3 L363.2 192.3 L363.7 192.3 L364.2 192.3 L364.7 192.3 L365.2 192.3 L365.7 192.3 L366.2 192.3 L366.7 192.3 L367.2 192.3 L367.7 192.3 L368.2 192.3 L368.7 192.3 L369.2 192.3 L369.7 192.3 L370.2 192.3 L370.7 192.3 L371.2 192.3 L371.7 192.3 L372.2 192.3 L372.7 192.3 L373.2 192.3 L373.7 192.3 L374.2 192.3 L374.7 192.3 L375.2 192.3 L375.7 192.3 L376.2 192.3 L376.7 192.3 L377.2 192.3 L377.7 192.3 L378.2 192.3 L378.7 192.3 L379.2 192.3 L379.7 192.3 L380.2 192.3 L380.7 192.3 L381.2 192.3 L381.7 192.3 L382.2 192.3 L382.7 192.3 L383.2 192.3 L383.7 192.3 L384.2 192.3" fill="none" stroke="#ff8a1e" stroke-width="1.6"/>
<path d="M30.7 192.3 L31.2 192.3 L31.7 192.3 L32.2 192.3 L32.7 192.3 L33.2 192.3 L33.7 192.3 L34.2 192.3 L34.7 192.3 L35.2 192.3 L35.7 192.3 L36.2 192.3 L36.7 192.3 L37.2 192.3 L37.7 192.3 L38.2 192.3 L38.7 192.3 L39.2 192.3 L39.7 192.3 L40.2 192.3 L40.7 192.3 L41.2 192.3 L41.7 192.3 L42.2 192.3 L42.7 192.3 L43.2 192.3 L43.7 192.3 L44.2 192.3 L44.7 192.3 L45.2 192.3 L45.7 192.3 L46.2 192.3 L46.7 192.3 L47.2 192.3 L47.7 192.3 L48.2 192.3 L48.7 192.3 L49.2 192.3 L49.7 192.3 L50.2 192.3 L50.7 192.3 L51.2 192.3 L51.7 192.3 L52.2 192.3 L52.7 192.3 L53.2 192.3 L53.7 192.3 L54.2 192.3 L54.7 192.3 L55.2 192.3 L55.7 192.3 L56.2 192.3 L56.7 192.3 L57.2 192.3 L57.7 192.3 L58.2 192.3 L58.7 192.3 L59.2 192.3 L59.7 192.29 L60.2 192.29 L60.7 192.29 L61.2 192.29 L61.7 192.29 L62.2 192.29 L62.7 192.29 L63.2 192.28 L63.7 192.28 L64.2 192.28 L64.7 192.28 L65.2 192.27 L65.7 192.27 L66.2 192.26 L66.7 192.26 L67.2 192.25 L67.7 192.24 L68.2 192.24 L68.7 192.23 L69.2 192.22 L69.7 192.21 L70.2 192.19 L70.7 192.18 L71.2 192.16 L71.7 192.15 L72.2 192.13 L72.7 192.1 L73.2 192.08 L73.7 192.05 L74.2 192.02 L74.7 191.98 L75.2 191.94 L75.7 191.9 L76.2 191.85 L76.7 191.8 L77.2 191.74 L77.7 191.67 L78.2 191.6 L78.7 191.52 L79.2 191.43 L79.7 191.33 L80.2 191.22 L80.7 191.1 L81.2 190.97 L81.7 190.83 L82.2 190.67 L82.7 190.5 L83.2 190.31 L83.7 190.11 L84.2 189.88 L84.7 189.64 L85.2 189.38 L85.7 189.09 L86.2 188.78 L86.7 188.44 L87.2 188.08 L87.7 187.69 L88.2 187.27 L88.7 186.81 L89.2 186.32 L89.7 185.79 L90.2 185.22 L90.7 184.62 L91.2 183.97 L91.7 183.27 L92.2 182.53 L92.7 181.74 L93.2 180.89 L93.7 180 L94.2 179.05 L94.7 178.03 L95.2 176.96 L95.7 175.83 L96.2 174.64 L96.7 173.37 L97.2 172.05 L97.7 170.65 L98.2 169.18 L98.7 167.64 L99.2 166.02 L99.7 164.33 L100.2 162.56 L100.7 160.72 L101.2 158.8 L101.7 156.81 L102.2 154.73 L102.7 152.58 L103.2 150.35 L103.7 148.05 L104.2 145.67 L104.7 143.22 L105.2 140.7 L105.7 138.11 L106.2 135.45 L106.7 132.73 L107.2 129.95 L107.7 127.11 L108.2 124.21 L108.7 121.27 L109.2 118.28 L109.7 115.25 L110.2 112.18 L110.7 109.09 L111.2 105.97 L111.7 102.84 L112.2 99.69 L112.7 96.54 L113.2 93.4 L113.7 90.26 L114.2 87.14 L114.7 84.05 L115.2 80.98 L115.7 77.96 L116.2 74.99 L116.7 72.07 L117.2 69.22 L117.7 66.44 L118.2 63.74 L118.7 61.13 L119.2 58.62 L119.7 56.2 L120.2 53.9 L120.7 51.71 L121.2 49.65 L121.7 47.72 L122.2 45.93 L122.7 44.28 L123.2 42.77 L123.7 41.42 L124.2 40.23 L124.7 39.19 L125.2 38.32 L125.7 37.62 L126.2 37.08 L126.7 36.72 L127.2 36.53 L127.7 36.51 L128.2 36.67 L128.7 37 L129.2 37.5 L129.7 38.17 L130.2 39 L130.7 40.01 L131.2 41.17 L131.7 42.49 L132.2 43.96 L132.7 45.59 L133.2 47.35 L133.7 49.26 L134.2 51.29 L134.7 53.45 L135.2 55.73 L135.7 58.12 L136.2 60.62 L136.7 63.21 L137.2 65.9 L137.7 68.66 L138.2 71.5 L138.7 74.4 L139.2 77.36 L139.7 80.38 L140.2 83.43 L140.7 86.52 L141.2 89.63 L141.7 92.77 L142.2 95.91 L142.7 99.06 L143.2 102.21 L143.7 105.35 L144.2 108.47 L144.7 111.57 L145.2 114.64 L145.7 117.67 L146.2 120.67 L146.7 123.63 L147.2 126.53 L147.7 129.38 L148.2 132.18 L148.7 134.91 L149.2 137.58 L149.7 140.19 L150.2 142.73 L150.7 145.19 L151.2 147.58 L151.7 149.9 L152.2 152.14 L152.7 154.31 L153.2 156.4 L153.7 158.41 L154.2 160.34 L154.7 162.2 L155.2 163.98 L155.7 165.69 L156.2 167.32 L156.7 168.87 L157.2 170.36 L157.7 171.77 L158.2 173.11 L158.7 174.39 L159.2 175.6 L159.7 176.74 L160.2 177.83 L160.7 178.85 L161.2 179.81 L161.7 180.72 L162.2 181.57 L162.7 182.37 L163.2 183.13 L163.7 183.83 L164.2 184.49 L164.7 185.11 L165.2 185.68 L165.7 186.22 L166.2 186.71 L166.7 187.18 L167.2 187.61 L167.7 188.01 L168.2 188.37 L168.7 188.72 L169.2 189.03 L169.7 189.32 L170.2 189.59 L170.7 189.84 L171.2 190.06 L171.7 190.27 L172.2 190.46 L172.7 190.64 L173.2 190.8 L173.7 190.94 L174.2 191.08 L174.7 191.2 L175.2 191.31 L175.7 191.41 L176.2 191.5 L176.7 191.58 L177.2 191.66 L177.7 191.72 L178.2 191.79 L178.7 191.84 L179.2 191.89 L179.7 191.93 L180.2 191.97 L180.7 192.01 L181.2 192.04 L181.7 192.07 L182.2 192.1 L182.7 192.12 L183.2 192.14 L183.7 192.16 L184.2 192.18 L184.7 192.19 L185.2 192.2 L185.7 192.22 L186.2 192.23 L186.7 192.24 L187.2 192.24 L187.7 192.25 L188.2 192.26 L188.7 192.26 L189.2 192.27 L189.7 192.27 L190.2 192.27 L190.7 192.28 L191.2 192.28 L191.7 192.28 L192.2 192.29 L192.7 192.29 L193.2 192.29 L193.7 192.29 L194.2 192.29 L194.7 192.29 L195.2 192.29 L195.7 192.29 L196.2 192.3 L196.7 192.3 L197.2 192.3 L197.7 192.3 L198.2 192.3 L198.7 192.3 L199.2 192.3 L199.7 192.3 L200.2 192.3 L200.7 192.3 L201.2 192.3 L201.7 192.3 L202.2 192.3 L202.7 192.3 L203.2 192.3 L203.7 192.3 L204.2 192.3 L204.7 192.3 L205.2 192.3 L205.7 192.3 L206.2 192.3 L206.7 192.3 L207.2 192.3 L207.7 192.3 L208.2 192.3 L208.7 192.3 L209.2 192.3 L209.7 192.3 L210.2 192.3 L210.7 192.3 L211.2 192.3 L211.7 192.3 L212.2 192.3 L212.7 192.3 L213.2 192.3 L213.7 192.3 L214.2 192.3 L214.7 192.3 L215.2 192.3 L215.7 192.3 L216.2 192.3 L216.7 192.3 L217.2 192.3 L217.7 192.3 L218.2 192.3 L218.7 192.3 L219.2 192.3 L219.7 192.3 L220.2 192.3 L220.7 192.3 L221.2 192.3 L221.7 192.3 L222.2 192.3 L222.7 192.3 L223.2 192.3 L223.7 192.3 L224.2 192.3 L224.7 192.3 L225.2 192.3 L225.7 192.3 L226.2 192.3 L226.7 192.3 L227.2 192.3 L227.7 192.3 L228.2 192.3 L228.7 192.3 L229.2 192.3 L229.7 192.3 L230.2 192.3 L230.7 192.3 L231.2 192.3 L231.7 192.3 L232.2 192.3 L232.7 192.3 L233.2 192.3 L233.7 192.3 L234.2 192.3 L234.7 192.3 L235.2 192.3 L235.7 192.3 L236.2 192.3 L236.7 192.3 L237.2 192.3 L237.7 192.3 L238.2 192.3 L238.7 192.3 L239.2 192.3 L239.7 192.3 L240.2 192.3 L240.7 192.3 L241.2 192.3 L241.7 192.3 L242.2 192.3 L242.7 192.3 L243.2 192.3 L243.7 192.3 L244.2 192.3 L244.7 192.3 L245.2 192.3 L245.7 192.3 L246.2 192.3 L246.7 192.3 L247.2 192.3 L247.7 192.3 L248.2 192.3 L248.7 192.3 L249.2 192.3 L249.7 192.3 L250.2 192.3 L250.7 192.3 L251.2 192.3 L251.7 192.3 L252.2 192.3 L252.7 192.3 L253.2 192.3 L253.7 192.3 L254.2 192.3 L254.7 192.3 L255.2 192.3 L255.7 192.3 L256.2 192.3 L256.7 192.3 L257.2 192.3 L257.7 192.3 L258.2 192.3 L258.7 192.3 L259.2 192.3 L259.7 192.3 L260.2 192.3 L260.7 192.3 L261.2 192.3 L261.7 192.3 L262.2 192.3 L262.7 192.3 L263.2 192.3 L263.7 192.3 L264.2 192.3 L264.7 192.3 L265.2 192.3 L265.7 192.3 L266.2 192.3 L266.7 192.3 L267.2 192.3 L267.7 192.3 L268.2 192.3 L268.7 192.3 L269.2 192.3 L269.7 192.3 L270.2 192.3 L270.7 192.3 L271.2 192.3 L271.7 192.3 L272.2 192.3 L272.7 192.3 L273.2 192.3 L273.7 192.3 L274.2 192.3 L274.7 192.3 L275.2 192.3 L275.7 192.3 L276.2 192.3 L276.7 192.3 L277.2 192.3 L277.7 192.3 L278.2 192.3 L278.7 192.3 L279.2 192.3 L279.7 192.3 L280.2 192.3 L280.7 192.3 L281.2 192.3 L281.7 192.3 L282.2 192.3 L282.7 192.3 L283.2 192.3 L283.7 192.3 L284.2 192.3 L284.7 192.3 L285.2 192.3 L285.7 192.3 L286.2 192.3 L286.7 192.3 L287.2 192.3 L287.7 192.3 L288.2 192.3 L288.7 192.3 L289.2 192.3 L289.7 192.3 L290.2 192.3 L290.7 192.3 L291.2 192.3 L291.7 192.3 L292.2 192.3 L292.7 192.3 L293.2 192.3 L293.7 192.3 L294.2 192.3 L294.7 192.3 L295.2 192.3 L295.7 192.3 L296.2 192.3 L296.7 192.3 L297.2 192.3 L297.7 192.3 L298.2 192.3 L298.7 192.3 L299.2 192.3 L299.7 192.3 L300.2 192.3 L300.7 192.3 L301.2 192.3 L301.7 192.3 L302.2 192.3 L302.7 192.3 L303.2 192.3 L303.7 192.3 L304.2 192.3 L304.7 192.3 L305.2 192.3 L305.7 192.3 L306.2 192.3 L306.7 192.3 L307.2 192.3 L307.7 192.3 L308.2 192.3 L308.7 192.3 L309.2 192.3 L309.7 192.3 L310.2 192.3 L310.7 192.3 L311.2 192.3 L311.7 192.3 L312.2 192.3 L312.7 192.3 L313.2 192.3 L313.7 192.3 L314.2 192.3 L314.7 192.3 L315.2 192.3 L315.7 192.3 L316.2 192.3 L316.7 192.3 L317.2 192.3 L317.7 192.3 L318.2 192.3 L318.7 192.3 L319.2 192.3 L319.7 192.3 L320.2 192.3 L320.7 192.3 L321.2 192.3 L321.7 192.3 L322.2 192.3 L322.7 192.3 L323.2 192.3 L323.7 192.3 L324.2 192.3 L324.7 192.3 L325.2 192.3 L325.7 192.3 L326.2 192.3 L326.7 192.3 L327.2 192.3 L327.7 192.3 L328.2 192.3 L328.7 192.3 L329.2 192.3 L329.7 192.3 L330.2 192.3 L330.7 192.3 L331.2 192.3 L331.7 192.3 L332.2 192.3 L332.7 192.3 L333.2 192.3 L333.7 192.3 L334.2 192.3 L334.7 192.3 L335.2 192.3 L335.7 192.3 L336.2 192.3 L336.7 192.3 L337.2 192.3 L337.7 192.3 L338.2 192.3 L338.7 192.3 L339.2 192.3 L339.7 192.3 L340.2 192.3 L340.7 192.3 L341.2 192.3 L341.7 192.3 L342.2 192.3 L342.7 192.3 L343.2 192.3 L343.7 192.3 L344.2 192.3 L344.7 192.3 L345.2 192.3 L345.7 192.3 L346.2 192.3 L346.7 192.3 L347.2 192.3 L347.7 192.3 L348.2 192.3 L348.7 192.3 L349.2 192.3 L349.7 192.3 L350.2 192.3 L350.7 192.3 L351.2 192.3 L351.7 192.3 L352.2 192.3 L352.7 192.3 L353.2 192.3 L353.7 192.3 L354.2 192.3 L354.7 192.3 L355.2 192.3 L355.7 192.3 L356.2 192.3 L356.7 192.3 L357.2 192.3 L357.7 192.3 L358.2 192.3 L358.7 192.3 L359.2 192.3 L359.7 192.3 L360.2 192.3 L360.7 192.3 L361.2 192.3 L361.7 192.3 L362.2 192.3 L362.7 192.3 L363.2 192.3 L363.7 192.3 L364.2 192.3 L364.7 192.3 L365.2 192.3 L365.7 192.3 L366.2 192.3 L366.7 192.3 L367.2 192.3 L367.7 192.3 L368.2 192.3 L368.7 192.3 L369.2 192.3 L369.7 192.3 L370.2 192.3 L370.7 192.3 L371.2 192.3 L371.7 192.3 L372.2 192.3 L372.7 192.3 L373.2 192.3 L373.7 192.3 L374.2 192.3 L374.7 192.3 L375.2 192.3 L375.7 192.3 L376.2 192.3 L376.7 192.3 L377.2 192.3 L377.7 192.3 L378.2 192.3 L378.7 192.3 L379.2 192.3 L379.7 192.3 L380.2 192.3 L380.7 192.3 L381.2 192.3 L381.7 192.3 L382.2 192.3 L382.7 192.3 L383.2 192.3 L383.7 192.3 L384.2 192.3" fill="none" stroke="#00e8f0" stroke-width="1.6"/>
<path d="M30.7 192.3 L31.2 192.3 L31.7 192.3 L32.2 192.3 L32.7 192.3 L33.2 192.3 L33.7 192.3 L34.2 192.3 L34.7 192.3 L35.2 192.3 L35.7 192.3 L36.2 192.3 L36.7 192.3 L37.2 192.3 L37.7 192.3 L38.2 192.3 L38.7 192.3 L39.2 192.3 L39.7 192.3 L40.2 192.3 L40.7 192.3 L41.2 192.3 L41.7 192.3 L42.2 192.3 L42.7 192.3 L43.2 192.3 L43.7 192.3 L44.2 192.3 L44.7 192.3 L45.2 192.3 L45.7 192.3 L46.2 192.3 L46.7 192.3 L47.2 192.3 L47.7 192.3 L48.2 192.3 L48.7 192.3 L49.2 192.3 L49.7 192.3 L50.2 192.3 L50.7 192.3 L51.2 192.3 L51.7 192.3 L52.2 192.3 L52.7 192.3 L53.2 192.3 L53.7 192.3 L54.2 192.3 L54.7 192.3 L55.2 192.3 L55.7 192.3 L56.2 192.3 L56.7 192.3 L57.2 192.3 L57.7 192.3 L58.2 192.3 L58.7 192.3 L59.2 192.3 L59.7 192.3 L60.2 192.3 L60.7 192.3 L61.2 192.3 L61.7 192.3 L62.2 192.3 L62.7 192.3 L63.2 192.3 L63.7 192.3 L64.2 192.3 L64.7 192.3 L65.2 192.3 L65.7 192.3 L66.2 192.3 L66.7 192.3 L67.2 192.3 L67.7 192.3 L68.2 192.3 L68.7 192.3 L69.2 192.3 L69.7 192.3 L70.2 192.3 L70.7 192.3 L71.2 192.29 L71.7 192.29 L72.2 192.29 L72.7 192.29 L73.2 192.29 L73.7 192.29 L74.2 192.29 L74.7 192.28 L75.2 192.28 L75.7 192.28 L76.2 192.27 L76.7 192.27 L77.2 192.26 L77.7 192.25 L78.2 192.25 L78.7 192.24 L79.2 192.23 L79.7 192.21 L80.2 192.2 L80.7 192.18 L81.2 192.17 L81.7 192.15 L82.2 192.12 L82.7 192.09 L83.2 192.06 L83.7 192.03 L84.2 191.99 L84.7 191.94 L85.2 191.89 L85.7 191.83 L86.2 191.76 L86.7 191.69 L87.2 191.6 L87.7 191.51 L88.2 191.4 L88.7 191.28 L89.2 191.15 L89.7 191 L90.2 190.83 L90.7 190.65 L91.2 190.44 L91.7 190.22 L92.2 189.96 L92.7 189.69 L93.2 189.38 L93.7 189.04 L94.2 188.67 L94.7 188.26 L95.2 187.82 L95.7 187.33 L96.2 186.8 L96.7 186.22 L97.2 185.59 L97.7 184.9 L98.2 184.16 L98.7 183.36 L99.2 182.49 L99.7 181.55 L100.2 180.54 L100.7 179.46 L101.2 178.3 L101.7 177.06 L102.2 175.73 L102.7 174.32 L103.2 172.81 L103.7 171.21 L104.2 169.52 L104.7 167.72 L105.2 165.83 L105.7 163.83 L106.2 161.73 L106.7 159.52 L107.2 157.2 L107.7 154.78 L108.2 152.26 L108.7 149.63 L109.2 146.89 L109.7 144.06 L110.2 141.12 L110.7 138.09 L111.2 134.97 L111.7 131.76 L112.2 128.47 L112.7 125.1 L113.2 121.66 L113.7 118.16 L114.2 114.61 L114.7 111.01 L115.2 107.37 L115.7 103.7 L116.2 100.02 L116.7 96.33 L117.2 92.64 L117.7 88.97 L118.2 85.33 L118.7 81.73 L119.2 78.18 L119.7 74.7 L120.2 71.29 L120.7 67.98 L121.2 64.77 L121.7 61.68 L122.2 58.72 L122.7 55.89 L123.2 53.22 L123.7 50.72 L124.2 48.39 L124.7 46.24 L125.2 44.29 L125.7 42.54 L126.2 41 L126.7 39.68 L127.2 38.58 L127.7 37.71 L128.2 37.07 L128.7 36.67 L129.2 36.5 L129.7 36.58 L130.2 36.88 L130.7 37.43 L131.2 38.21 L131.7 39.21 L132.2 40.45 L132.7 41.9 L133.2 43.57 L133.7 45.44 L134.2 47.51 L134.7 49.77 L135.2 52.2 L135.7 54.81 L136.2 57.57 L136.7 60.48 L137.2 63.52 L137.7 66.68 L138.2 69.96 L138.7 73.32 L139.2 76.78 L139.7 80.3 L140.2 83.88 L140.7 87.51 L141.2 91.17 L141.7 94.85 L142.2 98.54 L142.7 102.23 L143.2 105.9 L143.7 109.56 L144.2 113.17 L144.7 116.75 L145.2 120.27 L145.7 123.74 L146.2 127.13 L146.7 130.46 L147.2 133.7 L147.7 136.86 L148.2 139.92 L148.7 142.9 L149.2 145.77 L149.7 148.55 L150.2 151.22 L150.7 153.79 L151.2 156.25 L151.7 158.61 L152.2 160.86 L152.7 163 L153.2 165.04 L153.7 166.98 L154.2 168.81 L154.7 170.55 L155.2 172.19 L155.7 173.73 L156.2 175.18 L156.7 176.54 L157.2 177.82 L157.7 179.01 L158.2 180.12 L158.7 181.16 L159.2 182.12 L159.7 183.02 L160.2 183.85 L160.7 184.61 L161.2 185.32 L161.7 185.97 L162.2 186.57 L162.7 187.12 L163.2 187.63 L163.7 188.09 L164.2 188.51 L164.7 188.9 L165.2 189.25 L165.7 189.57 L166.2 189.86 L166.7 190.12 L167.2 190.36 L167.7 190.57 L168.2 190.76 L168.7 190.94 L169.2 191.09 L169.7 191.23 L170.2 191.35 L170.7 191.47 L171.2 191.57 L171.7 191.65 L172.2 191.73 L172.7 191.8 L173.2 191.87 L173.7 191.92 L174.2 191.97 L174.7 192.01 L175.2 192.05 L175.7 192.08 L176.2 192.11 L176.7 192.14 L177.2 192.16 L177.7 192.18 L178.2 192.19 L178.7 192.21 L179.2 192.22 L179.7 192.23 L180.2 192.24 L180.7 192.25 L181.2 192.26 L181.7 192.26 L182.2 192.27 L182.7 192.27 L183.2 192.28 L183.7 192.28 L184.2 192.28 L184.7 192.29 L185.2 192.29 L185.7 192.29 L186.2 192.29 L186.7 192.29 L187.2 192.29 L187.7 192.3 L188.2 192.3 L188.7 192.3 L189.2 192.3 L189.7 192.3 L190.2 192.3 L190.7 192.3 L191.2 192.3 L191.7 192.3 L192.2 192.3 L192.7 192.3 L193.2 192.3 L193.7 192.3 L194.2 192.3 L194.7 192.3 L195.2 192.3 L195.7 192.3 L196.2 192.3 L196.7 192.3 L197.2 192.3 L197.7 192.3 L198.2 192.3 L198.7 192.3 L199.2 192.3 L199.7 192.3 L200.2 192.3 L200.7 192.3 L201.2 192.3 L201.7 192.3 L202.2 192.3 L202.7 192.3 L203.2 192.3 L203.7 192.3 L204.2 192.3 L204.7 192.3 L205.2 192.3 L205.7 192.3 L206.2 192.3 L206.7 192.3 L207.2 192.3 L207.7 192.3 L208.2 192.3 L208.7 192.3 L209.2 192.3 L209.7 192.3 L210.2 192.3 L210.7 192.3 L211.2 192.3 L211.7 192.3 L212.2 192.3 L212.7 192.3 L213.2 192.3 L213.7 192.3 L214.2 192.3 L214.7 192.3 L215.2 192.3 L215.7 192.3 L216.2 192.3 L216.7 192.3 L217.2 192.3 L217.7 192.3 L218.2 192.3 L218.7 192.3 L219.2 192.3 L219.7 192.3 L220.2 192.3 L220.7 192.3 L221.2 192.3 L221.7 192.3 L222.2 192.3 L222.7 192.3 L223.2 192.3 L223.7 192.3 L224.2 192.3 L224.7 192.3 L225.2 192.3 L225.7 192.3 L226.2 192.3 L226.7 192.3 L227.2 192.3 L227.7 192.3 L228.2 192.3 L228.7 192.3 L229.2 192.3 L229.7 192.3 L230.2 192.3 L230.7 192.3 L231.2 192.3 L231.7 192.3 L232.2 192.3 L232.7 192.3 L233.2 192.3 L233.7 192.3 L234.2 192.3 L234.7 192.3 L235.2 192.3 L235.7 192.3 L236.2 192.3 L236.7 192.3 L237.2 192.3 L237.7 192.3 L238.2 192.3 L238.7 192.3 L239.2 192.3 L239.7 192.3 L240.2 192.3 L240.7 192.3 L241.2 192.3 L241.7 192.3 L242.2 192.3 L242.7 192.3 L243.2 192.3 L243.7 192.3 L244.2 192.3 L244.7 192.3 L245.2 192.3 L245.7 192.3 L246.2 192.3 L246.7 192.3 L247.2 192.3 L247.7 192.3 L248.2 192.3 L248.7 192.3 L249.2 192.3 L249.7 192.3 L250.2 192.3 L250.7 192.3 L251.2 192.3 L251.7 192.3 L252.2 192.3 L252.7 192.3 L253.2 192.3 L253.7 192.3 L254.2 192.3 L254.7 192.3 L255.2 192.3 L255.7 192.3 L256.2 192.3 L256.7 192.3 L257.2 192.3 L257.7 192.3 L258.2 192.3 L258.7 192.3 L259.2 192.3 L259.7 192.3 L260.2 192.3 L260.7 192.3 L261.2 192.3 L261.7 192.3 L262.2 192.3 L262.7 192.3 L263.2 192.3 L263.7 192.3 L264.2 192.3 L264.7 192.3 L265.2 192.3 L265.7 192.3 L266.2 192.3 L266.7 192.3 L267.2 192.3 L267.7 192.3 L268.2 192.3 L268.7 192.3 L269.2 192.3 L269.7 192.3 L270.2 192.3 L270.7 192.3 L271.2 192.3 L271.7 192.3 L272.2 192.3 L272.7 192.3 L273.2 192.3 L273.7 192.3 L274.2 192.3 L274.7 192.3 L275.2 192.3 L275.7 192.3 L276.2 192.3 L276.7 192.3 L277.2 192.3 L277.7 192.3 L278.2 192.3 L278.7 192.3 L279.2 192.3 L279.7 192.3 L280.2 192.3 L280.7 192.3 L281.2 192.3 L281.7 192.3 L282.2 192.3 L282.7 192.3 L283.2 192.3 L283.7 192.3 L284.2 192.3 L284.7 192.3 L285.2 192.3 L285.7 192.3 L286.2 192.3 L286.7 192.3 L287.2 192.3 L287.7 192.3 L288.2 192.3 L288.7 192.3 L289.2 192.3 L289.7 192.3 L290.2 192.3 L290.7 192.3 L291.2 192.3 L291.7 192.3 L292.2 192.3 L292.7 192.3 L293.2 192.3 L293.7 192.3 L294.2 192.3 L294.7 192.3 L295.2 192.3 L295.7 192.3 L296.2 192.3 L296.7 192.3 L297.2 192.3 L297.7 192.3 L298.2 192.3 L298.7 192.3 L299.2 192.3 L299.7 192.3 L300.2 192.3 L300.7 192.3 L301.2 192.3 L301.7 192.3 L302.2 192.3 L302.7 192.3 L303.2 192.3 L303.7 192.3 L304.2 192.3 L304.7 192.3 L305.2 192.3 L305.7 192.3 L306.2 192.3 L306.7 192.3 L307.2 192.3 L307.7 192.3 L308.2 192.3 L308.7 192.3 L309.2 192.3 L309.7 192.3 L310.2 192.3 L310.7 192.3 L311.2 192.3 L311.7 192.3 L312.2 192.3 L312.7 192.3 L313.2 192.3 L313.7 192.3 L314.2 192.3 L314.7 192.3 L315.2 192.3 L315.7 192.3 L316.2 192.3 L316.7 192.3 L317.2 192.3 L317.7 192.3 L318.2 192.3 L318.7 192.3 L319.2 192.3 L319.7 192.3 L320.2 192.3 L320.7 192.3 L321.2 192.3 L321.7 192.3 L322.2 192.3 L322.7 192.3 L323.2 192.3 L323.7 192.3 L324.2 192.3 L324.7 192.3 L325.2 192.3 L325.7 192.3 L326.2 192.3 L326.7 192.3 L327.2 192.3 L327.7 192.3 L328.2 192.3 L328.7 192.3 L329.2 192.3 L329.7 192.3 L330.2 192.3 L330.7 192.3 L331.2 192.3 L331.7 192.3 L332.2 192.3 L332.7 192.3 L333.2 192.3 L333.7 192.3 L334.2 192.3 L334.7 192.3 L335.2 192.3 L335.7 192.3 L336.2 192.3 L336.7 192.3 L337.2 192.3 L337.7 192.3 L338.2 192.3 L338.7 192.3 L339.2 192.3 L339.7 192.3 L340.2 192.3 L340.7 192.3 L341.2 192.3 L341.7 192.3 L342.2 192.3 L342.7 192.3 L343.2 192.3 L343.7 192.3 L344.2 192.3 L344.7 192.3 L345.2 192.3 L345.7 192.3 L346.2 192.3 L346.7 192.3 L347.2 192.3 L347.7 192.3 L348.2 192.3 L348.7 192.3 L349.2 192.3 L349.7 192.3 L350.2 192.3 L350.7 192.3 L351.2 192.3 L351.7 192.3 L352.2 192.3 L352.7 192.3 L353.2 192.3 L353.7 192.3 L354.2 192.3 L354.7 192.3 L355.2 192.3 L355.7 192.3 L356.2 192.3 L356.7 192.3 L357.2 192.3 L357.7 192.3 L358.2 192.3 L358.7 192.3 L359.2 192.3 L359.7 192.3 L360.2 192.3 L360.7 192.3 L361.2 192.3 L361.7 192.3 L362.2 192.3 L362.7 192.3 L363.2 192.3 L363.7 192.3 L364.2 192.3 L364.7 192.3 L365.2 192.3 L365.7 192.3 L366.2 192.3 L366.7 192.3 L367.2 192.3 L367.7 192.3 L368.2 192.3 L368.7 192.3 L369.2 192.3 L369.7 192.3 L370.2 192.3 L370.7 192.3 L371.2 192.3 L371.7 192.3 L372.2 192.3 L372.7 192.3 L373.2 192.3 L373.7 192.3 L374.2 192.3 L374.7 192.3 L375.2 192.3 L375.7 192.3 L376.2 192.3 L376.7 192.3 L377.2 192.3 L377.7 192.3 L378.2 192.3 L378.7 192.3 L379.2 192.3 L379.7 192.3 L380.2 192.3 L380.7 192.3 L381.2 192.3 L381.7 192.3 L382.2 192.3 L382.7 192.3 L383.2 192.3 L383.7 192.3 L384.2 192.3" fill="none" stroke="#0000ff" stroke-width="1.6"/>
<path d="M30.7 192.3 L31.2 192.3 L31.7 192.3 L32.2 192.3 L32.7 192.3 L33.2 192.3 L33.7 192.3 L34.2 192.3 L34.7 192.3 L35.2 192.3 L35.7 192.3 L36.2 192.3 L36.7 192.3 L37.2 192.3 L37.7 192.3 L38.2 192.3 L38.7 192.3 L39.2 192.3 L39.7 192.3 L40.2 192.3 L40.7 192.3 L41.2 192.3 L41.7 192.3 L42.2 192.3 L42.7 192.3 L43.2 192.3 L43.7 192.3 L44.2 192.3 L44.7 192.3 L45.2 192.3 L45.7 192.3 L46.2 192.3 L46.7 192.3 L47.2 192.3 L47.7 192.3 L48.2 192.3 L48.7 192.3 L49.2 192.3 L49.7 192.3 L50.2 192.3 L50.7 192.29 L51.2 192.29 L51.7 192.29 L52.2 192.29 L52.7 192.29 L53.2 192.29 L53.7 192.29 L54.2 192.29 L54.7 192.29 L55.2 192.29 L55.7 192.29 L56.2 192.29 L56.7 192.29 L57.2 192.29 L57.7 192.28 L58.2 192.28 L58.7 192.28 L59.2 192.28 L59.7 192.28 L60.2 192.28 L60.7 192.28 L61.2 192.28 L61.7 192.27 L62.2 192.27 L62.7 192.27 L63.2 192.27 L63.7 192.27 L64.2 192.26 L64.7 192.26 L65.2 192.26 L65.7 192.25 L66.2 192.25 L66.7 192.25 L67.2 192.24 L67.7 192.24 L68.2 192.24 L68.7 192.23 L69.2 192.23 L69.7 192.22 L70.2 192.22 L70.7 192.21 L71.2 192.21 L71.7 192.2 L72.2 192.19 L72.7 192.19 L73.2 192.18 L73.7 192.17 L74.2 192.16 L74.7 192.15 L75.2 192.14 L75.7 192.13 L76.2 192.12 L76.7 192.11 L77.2 192.1 L77.7 192.09 L78.2 192.07 L78.7 192.06 L79.2 192.05 L79.7 192.03 L80.2 192.01 L80.7 192 L81.2 191.98 L81.7 191.96 L82.2 191.94 L82.7 191.92 L83.2 191.89 L83.7 191.87 L84.2 191.85 L84.7 191.82 L85.2 191.79 L85.7 191.76 L86.2 191.73 L86.7 191.7 L87.2 191.66 L87.7 191.63 L88.2 191.59 L88.7 191.55 L89.2 191.51 L89.7 191.46 L90.2 191.42 L90.7 191.37 L91.2 191.32 L91.7 191.26 L92.2 191.21 L92.7 191.15 L93.2 191.09 L93.7 191.02 L94.2 190.96 L94.7 190.89 L95.2 190.81 L95.7 190.73 L96.2 190.65 L96.7 190.57 L97.2 190.48 L97.7 190.39 L98.2 190.29 L98.7 190.19 L99.2 190.09 L99.7 189.98 L100.2 189.86 L100.7 189.74 L101.2 189.62 L101.7 189.49 L102.2 189.35 L102.7 189.21 L103.2 189.06 L103.7 188.91 L104.2 188.75 L104.7 188.58 L105.2 188.41 L105.7 188.23 L106.2 188.04 L106.7 187.85 L107.2 187.65 L107.7 187.44 L108.2 187.22 L108.7 187 L109.2 186.76 L109.7 186.52 L110.2 186.27 L110.7 186.01 L111.2 185.73 L111.7 185.45 L112.2 185.16 L112.7 184.86 L113.2 184.55 L113.7 184.23 L114.2 183.9 L114.7 183.55 L115.2 183.2 L115.7 182.83 L116.2 182.45 L116.7 182.06 L117.2 181.65 L117.7 181.24 L118.2 180.81 L118.7 180.36 L119.2 179.9 L119.7 179.43 L120.2 178.95 L120.7 178.45 L121.2 177.93 L121.7 177.4 L122.2 176.85 L122.7 176.29 L123.2 175.72 L123.7 175.12 L124.2 174.51 L124.7 173.89 L125.2 173.25 L125.7 172.59 L126.2 171.91 L126.7 171.21 L127.2 170.5 L127.7 169.77 L128.2 169.03 L128.7 168.26 L129.2 167.48 L129.7 166.67 L130.2 165.85 L130.7 165.01 L131.2 164.16 L131.7 163.28 L132.2 162.38 L132.7 161.47 L133.2 160.53 L133.7 159.58 L134.2 158.61 L134.7 157.61 L135.2 156.6 L135.7 155.57 L136.2 154.52 L136.7 153.45 L137.2 152.36 L137.7 151.25 L138.2 150.13 L138.7 148.98 L139.2 147.82 L139.7 146.63 L140.2 145.43 L140.7 144.21 L141.2 142.97 L141.7 141.72 L142.2 140.45 L142.7 139.16 L143.2 137.85 L143.7 136.52 L144.2 135.18 L144.7 133.83 L145.2 132.45 L145.7 131.07 L146.2 129.67 L146.7 128.25 L147.2 126.82 L147.7 125.37 L148.2 123.92 L148.7 122.45 L149.2 120.97 L149.7 119.48 L150.2 117.98 L150.7 116.46 L151.2 114.94 L151.7 113.41 L152.2 111.88 L152.7 110.33 L153.2 108.78 L153.7 107.22 L154.2 105.66 L154.7 104.09 L155.2 102.52 L155.7 100.95 L156.2 99.38 L156.7 97.8 L157.2 96.23 L157.7 94.65 L158.2 93.08 L158.7 91.51 L159.2 89.95 L159.7 88.39 L160.2 86.83 L160.7 85.28 L161.2 83.74 L161.7 82.2 L162.2 80.68 L162.7 79.17 L163.2 77.66 L163.7 76.17 L164.2 74.7 L164.7 73.23 L165.2 71.79 L165.7 70.35 L166.2 68.94 L166.7 67.55 L167.2 66.17 L167.7 64.81 L168.2 63.48 L168.7 62.16 L169.2 60.88 L169.7 59.61 L170.2 58.37 L170.7 57.15 L171.2 55.97 L171.7 54.81 L172.2 53.68 L172.7 52.57 L173.2 51.5 L173.7 50.46 L174.2 49.45 L174.7 48.48 L175.2 47.54 L175.7 46.63 L176.2 45.76 L176.7 44.92 L177.2 44.12 L177.7 43.36 L178.2 42.63 L178.7 41.94 L179.2 41.29 L179.7 40.68 L180.2 40.11 L180.7 39.59 L181.2 39.1 L181.7 38.65 L182.2 38.24 L182.7 37.88 L183.2 37.56 L183.7 37.28 L184.2 37.04 L184.7 36.85 L185.2 36.69 L185.7 36.59 L186.2 36.52 L186.7 36.5 L187.2 36.51 L187.7 36.53 L188.2 36.57 L188.7 36.63 L189.2 36.7 L189.7 36.79 L190.2 36.9 L190.7 37.02 L191.2 37.16 L191.7 37.32 L192.2 37.49 L192.7 37.67 L193.2 37.87 L193.7 38.09 L194.2 38.33 L194.7 38.58 L195.2 38.84 L195.7 39.12 L196.2 39.42 L196.7 39.73 L197.2 40.05 L197.7 40.39 L198.2 40.75 L198.7 41.12 L199.2 41.5 L199.7 41.9 L200.2 42.32 L200.7 42.74 L201.2 43.18 L201.7 43.64 L202.2 44.1 L202.7 44.59 L203.2 45.08 L203.7 45.59 L204.2 46.11 L204.7 46.64 L205.2 47.18 L205.7 47.74 L206.2 48.31 L206.7 48.89 L207.2 49.48 L207.7 50.08 L208.2 50.7 L208.7 51.32 L209.2 51.96 L209.7 52.61 L210.2 53.26 L210.7 53.93 L211.2 54.6 L211.7 55.29 L212.2 55.98 L212.7 56.68 L213.2 57.4 L213.7 58.12 L214.2 58.84 L214.7 59.58 L215.2 60.33 L215.7 61.08 L216.2 61.84 L216.7 62.6 L217.2 63.37 L217.7 64.15 L218.2 64.94 L218.7 65.73 L219.2 66.53 L219.7 67.33 L220.2 68.14 L220.7 68.95 L221.2 69.77 L221.7 70.59 L222.2 71.42 L222.7 72.25 L223.2 73.09 L223.7 73.93 L224.2 74.77 L224.7 75.62 L225.2 76.46 L225.7 77.32 L226.2 78.17 L226.7 79.03 L227.2 79.89 L227.7 80.75 L228.2 81.61 L228.7 82.47 L229.2 83.34 L229.7 84.2 L230.2 85.07 L230.7 85.94 L231.2 86.81 L231.7 87.68 L232.2 88.55 L232.7 89.42 L233.2 90.28 L233.7 91.15 L234.2 92.02 L234.7 92.89 L235.2 93.75 L235.7 94.62 L236.2 95.48 L236.7 96.35 L237.2 97.21 L237.7 98.07 L238.2 98.92 L238.7 99.78 L239.2 100.63 L239.7 101.48 L240.2 102.33 L240.7 103.18 L241.2 104.02 L241.7 104.86 L242.2 105.7 L242.7 106.54 L243.2 107.37 L243.7 108.2 L244.2 109.02 L244.7 109.84 L245.2 110.66 L245.7 111.48 L246.2 112.29 L246.7 113.09 L247.2 113.9 L247.7 114.7 L248.2 115.49 L248.7 116.28 L249.2 117.07 L249.7 117.85 L250.2 118.63 L250.7 119.4 L251.2 120.17 L251.7 120.93 L252.2 121.69 L252.7 122.44 L253.2 123.19 L253.7 123.94 L254.2 124.68 L254.7 125.41 L255.2 126.14 L255.7 126.87 L256.2 127.59 L256.7 128.3 L257.2 129.01 L257.7 129.72 L258.2 130.41 L258.7 131.11 L259.2 131.8 L259.7 132.48 L260.2 133.16 L260.7 133.83 L261.2 134.5 L261.7 135.16 L262.2 135.82 L262.7 136.47 L263.2 137.11 L263.7 137.75 L264.2 138.39 L264.7 139.02 L265.2 139.64 L265.7 140.26 L266.2 140.87 L266.7 141.48 L267.2 142.08 L267.7 142.68 L268.2 143.27 L268.7 143.85 L269.2 144.43 L269.7 145.01 L270.2 145.58 L270.7 146.14 L271.2 146.7 L271.7 147.25 L272.2 147.8 L272.7 148.34 L273.2 148.88 L273.7 149.41 L274.2 149.94 L274.7 150.46 L275.2 150.97 L275.7 151.49 L276.2 151.99 L276.7 152.49 L277.2 152.99 L277.7 153.48 L278.2 153.96 L278.7 154.44 L279.2 154.92 L279.7 155.39 L280.2 155.85 L280.7 156.31 L281.2 156.77 L281.7 157.22 L282.2 157.66 L282.7 158.1 L283.2 158.54 L283.7 158.97 L284.2 159.39 L284.7 159.81 L285.2 160.23 L285.7 160.64 L286.2 161.05 L286.7 161.45 L287.2 161.85 L287.7 162.24 L288.2 162.63 L288.7 163.02 L289.2 163.4 L289.7 163.77 L290.2 164.15 L290.7 164.51 L291.2 164.88 L291.7 165.23 L292.2 165.59 L292.7 165.94 L293.2 166.29 L293.7 166.63 L294.2 166.97 L294.7 167.3 L295.2 167.63 L295.7 167.96 L296.2 168.28 L296.7 168.6 L297.2 168.91 L297.7 169.22 L298.2 169.53 L298.7 169.83 L299.2 170.13 L299.7 170.43 L300.2 170.72 L300.7 171.01 L301.2 171.29 L301.7 171.57 L302.2 171.85 L302.7 172.13 L303.2 172.4 L303.7 172.66 L304.2 172.93 L304.7 173.19 L305.2 173.45 L305.7 173.7 L306.2 173.95 L306.7 174.2 L307.2 174.45 L307.7 174.69 L308.2 174.93 L308.7 175.16 L309.2 175.4 L309.7 175.63 L310.2 175.85 L310.7 176.08 L311.2 176.3 L311.7 176.52 L312.2 176.73 L312.7 176.94 L313.2 177.15 L313.7 177.36 L314.2 177.57 L314.7 177.77 L315.2 177.97 L315.7 178.16 L316.2 178.36 L316.7 178.55 L317.2 178.74 L317.7 178.92 L318.2 179.11 L318.7 179.29 L319.2 179.47 L319.7 179.65 L320.2 179.82 L320.7 179.99 L321.2 180.16 L321.7 180.33 L322.2 180.5 L322.7 180.66 L323.2 180.82 L323.7 180.98 L324.2 181.14 L324.7 181.29 L325.2 181.45 L325.7 181.6 L326.2 181.74 L326.7 181.89 L327.2 182.04 L327.7 182.18 L328.2 182.32 L328.7 182.46 L329.2 182.6 L329.7 182.73 L330.2 182.86 L330.7 183 L331.2 183.13 L331.7 183.25 L332.2 183.38 L332.7 183.51 L333.2 183.63 L333.7 183.75 L334.2 183.87 L334.7 183.99 L335.2 184.1 L335.7 184.22 L336.2 184.33 L336.7 184.44 L337.2 184.55 L337.7 184.66 L338.2 184.77 L338.7 184.88 L339.2 184.98 L339.7 185.08 L340.2 185.18 L340.7 185.28 L341.2 185.38 L341.7 185.48 L342.2 185.58 L342.7 185.67 L343.2 185.76 L343.7 185.86 L344.2 185.95 L344.7 186.04 L345.2 186.12 L345.7 186.21 L346.2 186.3 L346.7 186.38 L347.2 186.47 L347.7 186.55 L348.2 186.63 L348.7 186.71 L349.2 186.79 L349.7 186.87 L350.2 186.94 L350.7 187.02 L351.2 187.09 L351.7 187.17 L352.2 187.24 L352.7 187.31 L353.2 187.38 L353.7 187.45 L354.2 187.52 L354.7 187.59 L355.2 187.66 L355.7 187.72 L356.2 187.79 L356.7 187.85 L357.2 187.91 L357.7 187.98 L358.2 188.04 L358.7 188.1 L359.2 188.16 L359.7 188.22 L360.2 188.27 L360.7 188.33 L361.2 188.39 L361.7 188.44 L362.2 188.5 L362.7 188.55 L363.2 188.61 L363.7 188.66 L364.2 188.71 L364.7 188.76 L365.2 188.81 L365.7 188.86 L366.2 188.91 L366.7 188.96 L367.2 189.01 L367.7 189.05 L368.2 189.1 L368.7 189.14 L369.2 189.19 L369.7 189.23 L370.2 189.28 L370.7 189.32 L371.2 189.36 L371.7 189.4 L372.2 189.45 L372.7 189.49 L373.2 189.53 L373.7 189.57 L374.2 189.61 L374.7 189.64 L375.2 189.68 L375.7 189.72 L376.2 189.76 L376.7 189.79 L377.2 189.83 L377.7 189.86 L378.2 189.9 L378.7 189.93 L379.2 189.97 L379.7 190 L380.2 190.03 L380.7 190.06 L381.2 190.1 L381.7 190.13 L382.2 190.16 L382.7 190.19 L383.2 190.22 L383.7 190.25 L384.2 190.28" fill="none" stroke="#ff0000" stroke-width="1.6"/>
<path d="M30.7 192.3 L31.2 192.3 L31.7 192.3 L32.2 192.3 L32.7 192.3 L33.2 192.3 L33.7 192.3 L34.2 192.3 L34.7 192.3 L35.2 192.3 L35.7 192.3 L36.2 192.3 L36.7 192.3 L37.2 192.3 L37.7 192.3 L38.2 192.3 L38.7 192.3 L39.2 192.3 L39.7 192.3 L40.2 192.3 L40.7 192.3 L41.2 192.3 L41.7 192.3 L42.2 192.3 L42.7 192.3 L43.2 192.3 L43.7 192.3 L44.2 192.3 L44.7 192.3 L45.2 192.3 L45.7 192.3 L46.2 192.3 L46.7 192.3 L47.2 192.3 L47.7 192.3 L48.2 192.3 L48.7 192.3 L49.2 192.3 L49.7 192.29 L50.2 192.29 L50.7 192.29 L51.2 192.29 L51.7 192.29 L52.2 192.29 L52.7 192.29 L53.2 192.29 L53.7 192.29 L54.2 192.29 L54.7 192.29 L55.2 192.29 L55.7 192.29 L56.2 192.29 L56.7 192.29 L57.2 192.28 L57.7 192.28 L58.2 192.28 L58.7 192.28 L59.2 192.28 L59.7 192.28 L60.2 192.28 L60.7 192.28 L61.2 192.27 L61.7 192.27 L62.2 192.27 L62.7 192.27 L63.2 192.27 L63.7 192.26 L64.2 192.26 L64.7 192.26 L65.2 192.26 L65.7 192.25 L66.2 192.25 L66.7 192.25 L67.2 192.24 L67.7 192.24 L68.2 192.24 L68.7 192.23 L69.2 192.23 L69.7 192.22 L70.2 192.22 L70.7 192.21 L71.2 192.21 L71.7 192.2 L72.2 192.2 L72.7 192.19 L73.2 192.18 L73.7 192.17 L74.2 192.17 L74.7 192.16 L75.2 192.15 L75.7 192.14 L76.2 192.13 L76.7 192.12 L77.2 192.11 L77.7 192.1 L78.2 192.09 L78.7 192.07 L79.2 192.06 L79.7 192.05 L80.2 192.03 L80.7 192.02 L81.2 192 L81.7 191.98 L82.2 191.96 L82.7 191.95 L83.2 191.93 L83.7 191.9 L84.2 191.88 L84.7 191.86 L85.2 191.83 L85.7 191.81 L86.2 191.78 L86.7 191.75 L87.2 191.72 L87.7 191.69 L88.2 191.66 L88.7 191.62 L89.2 191.59 L89.7 191.55 L90.2 191.51 L90.7 191.47 L91.2 191.42 L91.7 191.38 L92.2 191.33 L92.7 191.28 L93.2 191.23 L93.7 191.17 L94.2 191.12 L94.7 191.06 L95.2 190.99 L95.7 190.93 L96.2 190.86 L96.7 190.79 L97.2 190.71 L97.7 190.63 L98.2 190.55 L98.7 190.47 L99.2 190.38 L99.7 190.29 L100.2 190.19 L100.7 190.09 L101.2 189.99 L101.7 189.88 L102.2 189.76 L102.7 189.65 L103.2 189.52 L103.7 189.4 L104.2 189.26 L104.7 189.13 L105.2 188.98 L105.7 188.83 L106.2 188.68 L106.7 188.52 L107.2 188.35 L107.7 188.18 L108.2 188 L108.7 187.81 L109.2 187.62 L109.7 187.42 L110.2 187.21 L110.7 187 L111.2 186.77 L111.7 186.54 L112.2 186.3 L112.7 186.06 L113.2 185.8 L113.7 185.54 L114.2 185.26 L114.7 184.98 L115.2 184.69 L115.7 184.39 L116.2 184.07 L116.7 183.75 L117.2 183.42 L117.7 183.08 L118.2 182.72 L118.7 182.36 L119.2 181.98 L119.7 181.6 L120.2 181.2 L120.7 180.79 L121.2 180.36 L121.7 179.93 L122.2 179.48 L122.7 179.02 L123.2 178.54 L123.7 178.05 L124.2 177.55 L124.7 177.04 L125.2 176.51 L125.7 175.97 L126.2 175.41 L126.7 174.83 L127.2 174.25 L127.7 173.64 L128.2 173.03 L128.7 172.39 L129.2 171.75 L129.7 171.08 L130.2 170.4 L130.7 169.7 L131.2 168.99 L131.7 168.26 L132.2 167.51 L132.7 166.75 L133.2 165.97 L133.7 165.18 L134.2 164.36 L134.7 163.53 L135.2 162.68 L135.7 161.82 L136.2 160.94 L136.7 160.04 L137.2 159.12 L137.7 158.18 L138.2 157.23 L138.7 156.26 L139.2 155.27 L139.7 154.27 L140.2 153.25 L140.7 152.21 L141.2 151.15 L141.7 150.07 L142.2 148.98 L142.7 147.87 L143.2 146.75 L143.7 145.61 L144.2 144.45 L144.7 143.27 L145.2 142.08 L145.7 140.87 L146.2 139.65 L146.7 138.41 L147.2 137.16 L147.7 135.89 L148.2 134.6 L148.7 133.31 L149.2 131.99 L149.7 130.67 L150.2 129.33 L150.7 127.98 L151.2 126.61 L151.7 125.24 L152.2 123.85 L152.7 122.45 L153.2 121.04 L153.7 119.62 L154.2 118.19 L154.7 116.75 L155.2 115.31 L155.7 113.85 L156.2 112.39 L156.7 110.92 L157.2 109.44 L157.7 107.96 L158.2 106.48 L158.7 104.99 L159.2 103.5 L159.7 102 L160.2 100.5 L160.7 99 L161.2 97.5 L161.7 96 L162.2 94.5 L162.7 93.01 L163.2 91.51 L163.7 90.02 L164.2 88.53 L164.7 87.05 L165.2 85.57 L165.7 84.1 L166.2 82.64 L166.7 81.19 L167.2 79.74 L167.7 78.31 L168.2 76.88 L168.7 75.47 L169.2 74.07 L169.7 72.68 L170.2 71.31 L170.7 69.95 L171.2 68.61 L171.7 67.28 L172.2 65.97 L172.7 64.68 L173.2 63.41 L173.7 62.16 L174.2 60.94 L174.7 59.73 L175.2 58.54 L175.7 57.38 L176.2 56.25 L176.7 55.14 L177.2 54.05 L177.7 52.99 L178.2 51.96 L178.7 50.95 L179.2 49.98 L179.7 49.03 L180.2 48.12 L180.7 47.23 L181.2 46.38 L181.7 45.55 L182.2 44.76 L182.7 44.01 L183.2 43.28 L183.7 42.6 L184.2 41.94 L184.7 41.32 L185.2 40.74 L185.7 40.19 L186.2 39.68 L186.7 39.21 L187.2 38.77 L187.7 38.37 L188.2 38.01 L188.7 37.69 L189.2 37.4 L189.7 37.16 L190.2 36.95 L190.7 36.78 L191.2 36.65 L191.7 36.56 L192.2 36.51 L192.7 36.5 L193.2 36.51 L193.7 36.55 L194.2 36.6 L194.7 36.68 L195.2 36.77 L195.7 36.89 L196.2 37.02 L196.7 37.18 L197.2 37.35 L197.7 37.55 L198.2 37.76 L198.7 38 L199.2 38.25 L199.7 38.53 L200.2 38.82 L200.7 39.13 L201.2 39.46 L201.7 39.81 L202.2 40.18 L202.7 40.56 L203.2 40.97 L203.7 41.39 L204.2 41.83 L204.7 42.29 L205.2 42.76 L205.7 43.25 L206.2 43.76 L206.7 44.29 L207.2 44.83 L207.7 45.39 L208.2 45.96 L208.7 46.55 L209.2 47.16 L209.7 47.78 L210.2 48.41 L210.7 49.06 L211.2 49.72 L211.7 50.4 L212.2 51.09 L212.7 51.79 L213.2 52.51 L213.7 53.24 L214.2 53.98 L214.7 54.73 L215.2 55.5 L215.7 56.27 L216.2 57.06 L216.7 57.86 L217.2 58.67 L217.7 59.48 L218.2 60.31 L218.7 61.15 L219.2 61.99 L219.7 62.85 L220.2 63.71 L220.7 64.58 L221.2 65.46 L221.7 66.35 L222.2 67.24 L222.7 68.14 L223.2 69.04 L223.7 69.95 L224.2 70.87 L224.7 71.79 L225.2 72.72 L225.7 73.65 L226.2 74.59 L226.7 75.53 L227.2 76.48 L227.7 77.42 L228.2 78.37 L228.7 79.33 L229.2 80.29 L229.7 81.24 L230.2 82.21 L230.7 83.17 L231.2 84.13 L231.7 85.1 L232.2 86.06 L232.7 87.03 L233.2 88 L233.7 88.96 L234.2 89.93 L234.7 90.9 L235.2 91.86 L235.7 92.83 L236.2 93.79 L236.7 94.76 L237.2 95.72 L237.7 96.68 L238.2 97.63 L238.7 98.59 L239.2 99.54 L239.7 100.49 L240.2 101.44 L240.7 102.38 L241.2 103.33 L241.7 104.26 L242.2 105.2 L242.7 106.13 L243.2 107.06 L243.7 107.98 L244.2 108.9 L244.7 109.81 L245.2 110.72 L245.7 111.63 L246.2 112.53 L246.7 113.43 L247.2 114.32 L247.7 115.21 L248.2 116.09 L248.7 116.96 L249.2 117.83 L249.7 118.7 L250.2 119.56 L250.7 120.41 L251.2 121.26 L251.7 122.1 L252.2 122.94 L252.7 123.77 L253.2 124.59 L253.7 125.41 L254.2 126.22 L254.7 127.03 L255.2 127.83 L255.7 128.62 L256.2 129.41 L256.7 130.19 L257.2 130.96 L257.7 131.73 L258.2 132.49 L258.7 133.24 L259.2 133.99 L259.7 134.73 L260.2 135.46 L260.7 136.19 L261.2 136.91 L261.7 137.63 L262.2 138.33 L262.7 139.03 L263.2 139.73 L263.7 140.41 L264.2 141.09 L264.7 141.77 L265.2 142.43 L265.7 143.09 L266.2 143.75 L266.7 144.39 L267.2 145.03 L267.7 145.67 L268.2 146.29 L268.7 146.91 L269.2 147.52 L269.7 148.13 L270.2 148.73 L270.7 149.32 L271.2 149.91 L271.7 150.49 L272.2 151.06 L272.7 151.63 L273.2 152.19 L273.7 152.75 L274.2 153.29 L274.7 153.84 L275.2 154.37 L275.7 154.9 L276.2 155.42 L276.7 155.94 L277.2 156.45 L277.7 156.95 L278.2 157.45 L278.7 157.94 L279.2 158.43 L279.7 158.91 L280.2 159.39 L280.7 159.85 L281.2 160.32 L281.7 160.77 L282.2 161.22 L282.7 161.67 L283.2 162.11 L283.7 162.55 L284.2 162.97 L284.7 163.4 L285.2 163.82 L285.7 164.23 L286.2 164.64 L286.7 165.04 L287.2 165.43 L287.7 165.83 L288.2 166.21 L288.7 166.59 L289.2 166.97 L289.7 167.34 L290.2 167.71 L290.7 168.07 L291.2 168.43 L291.7 168.78 L292.2 169.13 L292.7 169.47 L293.2 169.81 L293.7 170.14 L294.2 170.47 L294.7 170.79 L295.2 171.11 L295.7 171.43 L296.2 171.74 L296.7 172.05 L297.2 172.35 L297.7 172.65 L298.2 172.94 L298.7 173.23 L299.2 173.52 L299.7 173.8 L300.2 174.08 L300.7 174.35 L301.2 174.62 L301.7 174.89 L302.2 175.15 L302.7 175.41 L303.2 175.67 L303.7 175.92 L304.2 176.17 L304.7 176.41 L305.2 176.65 L305.7 176.89 L306.2 177.12 L306.7 177.35 L307.2 177.58 L307.7 177.81 L308.2 178.03 L308.7 178.24 L309.2 178.46 L309.7 178.67 L310.2 178.88 L310.7 179.08 L311.2 179.29 L311.7 179.49 L312.2 179.68 L312.7 179.88 L313.2 180.07 L313.7 180.26 L314.2 180.44 L314.7 180.62 L315.2 180.8 L315.7 180.98 L316.2 181.15 L316.7 181.33 L317.2 181.5 L317.7 181.66 L318.2 181.83 L318.7 181.99 L319.2 182.15 L319.7 182.31 L320.2 182.46 L320.7 182.61 L321.2 182.76 L321.7 182.91 L322.2 183.06 L322.7 183.2 L323.2 183.34 L323.7 183.48 L324.2 183.62 L324.7 183.75 L325.2 183.89 L325.7 184.02 L326.2 184.15 L326.7 184.27 L327.2 184.4 L327.7 184.52 L328.2 184.64 L328.7 184.76 L329.2 184.88 L329.7 185 L330.2 185.11 L330.7 185.22 L331.2 185.33 L331.7 185.44 L332.2 185.55 L332.7 185.66 L333.2 185.76 L333.7 185.86 L334.2 185.96 L334.7 186.06 L335.2 186.16 L335.7 186.26 L336.2 186.35 L336.7 186.44 L337.2 186.54 L337.7 186.63 L338.2 186.72 L338.7 186.8 L339.2 186.89 L339.7 186.98 L340.2 187.06 L340.7 187.14 L341.2 187.22 L341.7 187.3 L342.2 187.38 L342.7 187.46 L343.2 187.53 L343.7 187.61 L344.2 187.68 L344.7 187.76 L345.2 187.83 L345.7 187.9 L346.2 187.97 L346.7 188.04 L347.2 188.1 L347.7 188.17 L348.2 188.24 L348.7 188.3 L349.2 188.36 L349.7 188.42 L350.2 188.49 L350.7 188.55 L351.2 188.61 L351.7 188.66 L352.2 188.72 L352.7 188.78 L353.2 188.83 L353.7 188.89 L354.2 188.94 L354.7 189 L355.2 189.05 L355.7 189.1 L356.2 189.15 L356.7 189.2 L357.2 189.25 L357.7 189.3 L358.2 189.35 L358.7 189.39 L359.2 189.44 L359.7 189.48 L360.2 189.53 L360.7 189.57 L361.2 189.62 L361.7 189.66 L362.2 189.7 L362.7 189.74 L363.2 189.78 L363.7 189.82 L364.2 189.86 L364.7 189.9 L365.2 189.94 L365.7 189.98 L366.2 190.01 L366.7 190.05 L367.2 190.08 L367.7 190.12 L368.2 190.15 L368.7 190.19 L369.2 190.22 L369.7 190.26 L370.2 190.29 L370.7 190.32 L371.2 190.35 L371.7 190.38 L372.2 190.41 L372.7 190.44 L373.2 190.47 L373.7 190.5 L374.2 190.53 L374.7 190.56 L375.2 190.59 L375.7 190.61 L376.2 190.64 L376.7 190.67 L377.2 190.69 L377.7 190.72 L378.2 190.74 L378.7 190.77 L379.2 190.79 L379.7 190.82 L380.2 190.84 L380.7 190.86 L381.2 190.89 L381.7 190.91 L382.2 190.93 L382.7 190.95 L383.2 190.97 L383.7 191 L384.2 191.02" fill="none" stroke="#ff8a1e" stroke-width="1.6"/>
<path d="M30.7 192.3 L31.2 192.3 L31.7 192.3 L32.2 192.3 L32.7 192.3 L33.2 192.3 L33.7 192.3 L34.2 192.3 L34.7 192.3 L35.2 192.3 L35.7 192.3 L36.2 192.3 L36.7 192.3 L37.2 192.3 L37.7 192.3 L38.2 192.3 L38.7 192.3 L39.2 192.3 L39.7 192.3 L40.2 192.3 L40.7 192.3 L41.2 192.3 L41.7 192.3 L42.2 192.3 L42.7 192.3 L43.2 192.3 L43.7 192.3 L44.2 192.3 L44.7 192.3 L45.2 192.3 L45.7 192.3 L46.2 192.3 L46.7 192.3 L47.2 192.3 L47.7 192.3 L48.2 192.3 L48.7 192.3 L49.2 192.3 L49.7 192.3 L50.2 192.3 L50.7 192.3 L51.2 192.3 L51.7 192.3 L52.2 192.3 L52.7 192.3 L53.2 192.3 L53.7 192.3 L54.2 192.3 L54.7 192.3 L55.2 192.3 L55.7 192.3 L56.2 192.3 L56.7 192.3 L57.2 192.3 L57.7 192.3 L58.2 192.3 L58.7 192.3 L59.2 192.3 L59.7 192.3 L60.2 192.3 L60.7 192.3 L61.2 192.3 L61.7 192.3 L62.2 192.3 L62.7 192.3 L63.2 192.3 L63.7 192.3 L64.2 192.3 L64.7 192.3 L65.2 192.3 L65.7 192.3 L66.2 192.3 L66.7 192.3 L67.2 192.3 L67.7 192.3 L68.2 192.3 L68.7 192.3 L69.2 192.3 L69.7 192.3 L70.2 192.3 L70.7 192.3 L71.2 192.3 L71.7 192.3 L72.2 192.3 L72.7 192.3 L73.2 192.3 L73.7 192.3 L74.2 192.3 L74.7 192.3 L75.2 192.3 L75.7 192.3 L76.2 192.3 L76.7 192.3 L77.2 192.3 L77.7 192.3 L78.2 192.3 L78.7 192.3 L79.2 192.3 L79.7 192.3 L80.2 192.3 L80.7 192.3 L81.2 192.3 L81.7 192.3 L82.2 192.3 L82.7 192.3 L83.2 192.3 L83.7 192.3 L84.2 192.3 L84.7 192.3 L85.2 192.3 L85.7 192.3 L86.2 192.3 L86.7 192.3 L87.2 192.3 L87.7 192.3 L88.2 192.3 L88.7 192.3 L89.2 192.3 L89.7 192.3 L90.2 192.3 L90.7 192.3 L91.2 192.3 L91.7 192.3 L92.2 192.3 L92.7 192.3 L93.2 192.3 L93.7 192.3 L94.2 192.29 L94.7 192.29 L95.2 192.29 L95.7 192.29 L96.2 192.29 L96.7 192.29 L97.2 192.29 L97.7 192.29 L98.2 192.29 L98.7 192.29 L99.2 192.28 L99.7 192.28 L100.2 192.28 L100.7 192.28 L101.2 192.28 L101.7 192.27 L102.2 192.27 L102.7 192.27 L103.2 192.26 L103.7 192.26 L104.2 192.25 L104.7 192.25 L105.2 192.24 L105.7 192.24 L106.2 192.23 L106.7 192.22 L107.2 192.22 L107.7 192.21 L108.2 192.2 L108.7 192.19 L109.2 192.18 L109.7 192.17 L110.2 192.15 L110.7 192.14 L111.2 192.13 L111.7 192.11 L112.2 192.09 L112.7 192.07 L113.2 192.05 L113.7 192.03 L114.2 192 L114.7 191.98 L115.2 191.95 L115.7 191.92 L116.2 191.88 L116.7 191.85 L117.2 191.81 L117.7 191.76 L118.2 191.72 L118.7 191.67 L119.2 191.62 L119.7 191.56 L120.2 191.5 L120.7 191.44 L121.2 191.37 L121.7 191.3 L122.2 191.22 L122.7 191.13 L123.2 191.04 L123.7 190.95 L124.2 190.84 L124.7 190.73 L125.2 190.62 L125.7 190.49 L126.2 190.36 L126.7 190.22 L127.2 190.07 L127.7 189.92 L128.2 189.75 L128.7 189.57 L129.2 189.39 L129.7 189.19 L130.2 188.98 L130.7 188.76 L131.2 188.52 L131.7 188.28 L132.2 188.02 L132.7 187.75 L133.2 187.46 L133.7 187.16 L134.2 186.84 L134.7 186.5 L135.2 186.15 L135.7 185.79 L136.2 185.4 L136.7 185 L137.2 184.57 L137.7 184.13 L138.2 183.67 L138.7 183.19 L139.2 182.68 L139.7 182.16 L140.2 181.61 L140.7 181.04 L141.2 180.45 L141.7 179.83 L142.2 179.19 L142.7 178.52 L143.2 177.83 L143.7 177.11 L144.2 176.37 L144.7 175.6 L145.2 174.8 L145.7 173.98 L146.2 173.13 L146.7 172.25 L147.2 171.34 L147.7 170.4 L148.2 169.43 L148.7 168.44 L149.2 167.41 L149.7 166.36 L150.2 165.28 L150.7 164.16 L151.2 163.02 L151.7 161.85 L152.2 160.65 L152.7 159.41 L153.2 158.15 L153.7 156.86 L154.2 155.55 L154.7 154.2 L155.2 152.82 L155.7 151.42 L156.2 149.99 L156.7 148.53 L157.2 147.05 L157.7 145.54 L158.2 144.01 L158.7 142.45 L159.2 140.87 L159.7 139.26 L160.2 137.63 L160.7 135.98 L161.2 134.31 L161.7 132.62 L162.2 130.92 L162.7 129.19 L163.2 127.45 L163.7 125.69 L164.2 123.92 L164.7 122.14 L165.2 120.34 L165.7 118.54 L166.2 116.72 L166.7 114.9 L167.2 113.07 L167.7 111.23 L168.2 109.39 L168.7 107.55 L169.2 105.71 L169.7 103.86 L170.2 102.02 L170.7 100.18 L171.2 98.35 L171.7 96.52 L172.2 94.7 L172.7 92.89 L173.2 91.09 L173.7 89.3 L174.2 87.53 L174.7 85.77 L175.2 84.02 L175.7 82.29 L176.2 80.59 L176.7 78.9 L177.2 77.23 L177.7 75.59 L178.2 73.97 L178.7 72.37 L179.2 70.8 L179.7 69.26 L180.2 67.75 L180.7 66.27 L181.2 64.81 L181.7 63.39 L182.2 62 L182.7 60.65 L183.2 59.33 L183.7 58.04 L184.2 56.79 L184.7 55.58 L185.2 54.4 L185.7 53.26 L186.2 52.16 L186.7 51.1 L187.2 50.07 L187.7 49.09 L188.2 48.14 L188.7 47.23 L189.2 46.37 L189.7 45.54 L190.2 44.75 L190.7 44 L191.2 43.29 L191.7 42.62 L192.2 41.99 L192.7 41.4 L193.2 40.84 L193.7 40.33 L194.2 39.85 L194.7 39.41 L195.2 39 L195.7 38.63 L196.2 38.29 L196.7 37.99 L197.2 37.71 L197.7 37.47 L198.2 37.26 L198.7 37.08 L199.2 36.93 L199.7 36.81 L200.2 36.7 L200.7 36.63 L201.2 36.57 L201.7 36.53 L202.2 36.51 L202.7 36.5 L203.2 36.5 L203.7 36.52 L204.2 36.57 L204.7 36.65 L205.2 36.74 L205.7 36.87 L206.2 37.02 L206.7 37.19 L207.2 37.39 L207.7 37.61 L208.2 37.86 L208.7 38.13 L209.2 38.43 L209.7 38.75 L210.2 39.09 L210.7 39.46 L211.2 39.85 L211.7 40.27 L212.2 40.7 L212.7 41.16 L213.2 41.65 L213.7 42.15 L214.2 42.68 L214.7 43.22 L215.2 43.79 L215.7 44.38 L216.2 44.99 L216.7 45.62 L217.2 46.27 L217.7 46.94 L218.2 47.63 L218.7 48.33 L219.2 49.06 L219.7 49.8 L220.2 50.56 L220.7 51.33 L221.2 52.12 L221.7 52.93 L222.2 53.75 L222.7 54.59 L223.2 55.44 L223.7 56.31 L224.2 57.19 L224.7 58.09 L225.2 58.99 L225.7 59.91 L226.2 60.84 L226.7 61.78 L227.2 62.74 L227.7 63.7 L228.2 64.67 L228.7 65.65 L229.2 66.65 L229.7 67.65 L230.2 68.65 L230.7 69.67 L231.2 70.69 L231.7 71.72 L232.2 72.76 L232.7 73.8 L233.2 74.85 L233.7 75.9 L234.2 76.96 L234.7 78.02 L235.2 79.08 L235.7 80.15 L236.2 81.22 L236.7 82.3 L237.2 83.37 L237.7 84.45 L238.2 85.53 L238.7 86.61 L239.2 87.69 L239.7 88.77 L240.2 89.85 L240.7 90.93 L241.2 92.01 L241.7 93.08 L242.2 94.16 L242.7 95.24 L243.2 96.31 L243.7 97.38 L244.2 98.45 L244.7 99.51 L245.2 100.57 L245.7 101.63 L246.2 102.69 L246.7 103.74 L247.2 104.78 L247.7 105.82 L248.2 106.86 L248.7 107.89 L249.2 108.92 L249.7 109.94 L250.2 110.96 L250.7 111.97 L251.2 112.97 L251.7 113.97 L252.2 114.96 L252.7 115.95 L253.2 116.93 L253.7 117.9 L254.2 118.86 L254.7 119.82 L255.2 120.77 L255.7 121.72 L256.2 122.66 L256.7 123.59 L257.2 124.51 L257.7 125.42 L258.2 126.33 L258.7 127.23 L259.2 128.12 L259.7 129 L260.2 129.87 L260.7 130.74 L261.2 131.6 L261.7 132.45 L262.2 133.29 L262.7 134.13 L263.2 134.95 L263.7 135.77 L264.2 136.58 L264.7 137.38 L265.2 138.17 L265.7 138.95 L266.2 139.73 L266.7 140.5 L267.2 141.25 L267.7 142 L268.2 142.75 L268.7 143.48 L269.2 144.2 L269.7 144.92 L270.2 145.63 L270.7 146.33 L271.2 147.02 L271.7 147.7 L272.2 148.38 L272.7 149.04 L273.2 149.7 L273.7 150.35 L274.2 150.99 L274.7 151.63 L275.2 152.25 L275.7 152.87 L276.2 153.48 L276.7 154.08 L277.2 154.68 L277.7 155.27 L278.2 155.84 L278.7 156.41 L279.2 156.98 L279.7 157.53 L280.2 158.08 L280.7 158.62 L281.2 159.16 L281.7 159.68 L282.2 160.2 L282.7 160.71 L283.2 161.22 L283.7 161.72 L284.2 162.21 L284.7 162.69 L285.2 163.17 L285.7 163.64 L286.2 164.1 L286.7 164.56 L287.2 165.01 L287.7 165.45 L288.2 165.89 L288.7 166.32 L289.2 166.74 L289.7 167.16 L290.2 167.57 L290.7 167.98 L291.2 168.38 L291.7 168.77 L292.2 169.16 L292.7 169.54 L293.2 169.92 L293.7 170.29 L294.2 170.65 L294.7 171.01 L295.2 171.36 L295.7 171.71 L296.2 172.05 L296.7 172.39 L297.2 172.72 L297.7 173.05 L298.2 173.37 L298.7 173.69 L299.2 174 L299.7 174.31 L300.2 174.61 L300.7 174.91 L301.2 175.2 L301.7 175.49 L302.2 175.78 L302.7 176.06 L303.2 176.33 L303.7 176.6 L304.2 176.87 L304.7 177.13 L305.2 177.39 L305.7 177.64 L306.2 177.89 L306.7 178.13 L307.2 178.38 L307.7 178.61 L308.2 178.85 L308.7 179.08 L309.2 179.3 L309.7 179.52 L310.2 179.74 L310.7 179.96 L311.2 180.17 L311.7 180.38 L312.2 180.58 L312.7 180.78 L313.2 180.98 L313.7 181.18 L314.2 181.37 L314.7 181.56 L315.2 181.74 L315.7 181.92 L316.2 182.1 L316.7 182.28 L317.2 182.45 L317.7 182.62 L318.2 182.79 L318.7 182.96 L319.2 183.12 L319.7 183.28 L320.2 183.43 L320.7 183.59 L321.2 183.74 L321.7 183.89 L322.2 184.03 L322.7 184.18 L323.2 184.32 L323.7 184.46 L324.2 184.59 L324.7 184.73 L325.2 184.86 L325.7 184.99 L326.2 185.12 L326.7 185.24 L327.2 185.37 L327.7 185.49 L328.2 185.61 L328.7 185.72 L329.2 185.84 L329.7 185.95 L330.2 186.06 L330.7 186.17 L331.2 186.28 L331.7 186.38 L332.2 186.49 L332.7 186.59 L333.2 186.69 L333.7 186.79 L334.2 186.88 L334.7 186.98 L335.2 187.07 L335.7 187.16 L336.2 187.25 L336.7 187.34 L337.2 187.43 L337.7 187.52 L338.2 187.6 L338.7 187.68 L339.2 187.76 L339.7 187.84 L340.2 187.92 L340.7 188 L341.2 188.08 L341.7 188.15 L342.2 188.22 L342.7 188.29 L343.2 188.37 L343.7 188.43 L344.2 188.5 L344.7 188.57 L345.2 188.64 L345.7 188.7 L346.2 188.76 L346.7 188.83 L347.2 188.89 L347.7 188.95 L348.2 189.01 L348.7 189.07 L349.2 189.12 L349.7 189.18 L350.2 189.23 L350.7 189.29 L351.2 189.34 L351.7 189.39 L352.2 189.45 L352.7 189.5 L353.2 189.55 L353.7 189.59 L354.2 189.64 L354.7 189.69 L355.2 189.74 L355.7 189.78 L356.2 189.83 L356.7 189.87 L357.2 189.91 L357.7 189.95 L358.2 190 L358.7 190.04 L359.2 190.08 L359.7 190.12 L360.2 190.16 L360.7 190.19 L361.2 190.23 L361.7 190.27 L362.2 190.3 L362.7 190.34 L363.2 190.37 L363.7 190.41 L364.2 190.44 L364.7 190.47 L365.2 190.51 L365.7 190.54 L366.2 190.57 L366.7 190.6 L367.2 190.63 L367.7 190.66 L368.2 190.69 L368.7 190.72 L369.2 190.75 L369.7 190.77 L370.2 190.8 L370.7 190.83 L371.2 190.85 L371.7 190.88 L372.2 190.9 L372.7 190.93 L373.2 190.95 L373.7 190.98 L374.2 191 L374.7 191.02 L375.2 191.05 L375.7 191.07 L376.2 191.09 L376.7 191.11 L377.2 191.13 L377.7 191.15 L378.2 191.18 L378.7 191.2 L379.2 191.21 L379.7 191.23 L380.2 191.25 L380.7 191.27 L381.2 191.29 L381.7 191.31 L382.2 191.33 L382.7 191.34 L383.2 191.36 L383.7 191.38 L384.2 191.39" fill="none" stroke="#00e8f0" stroke-width="1.6"/>
<path d="M30.7 192.3 L31.2 192.3 L31.7 192.3 L32.2 192.3 L32.7 192.3 L33.2 192.3 L33.7 192.3 L34.2 192.3 L34.7 192.3 L35.2 192.3 L35.7 192.3 L36.2 192.3 L36.7 192.3 L37.2 192.3 L37.7 192.3 L38.2 192.3 L38.7 192.3 L39.2 192.3 L39.7 192.3 L40.2 192.3 L40.7 192.3 L41.2 192.3 L41.7 192.3 L42.2 192.3 L42.7 192.3 L43.2 192.3 L43.7 192.3 L44.2 192.3 L44.7 192.3 L45.2 192.3 L45.7 192.3 L46.2 192.3 L46.7 192.3 L47.2 192.3 L47.7 192.3 L48.2 192.3 L48.7 192.3 L49.2 192.3 L49.7 192.3 L50.2 192.3 L50.7 192.3 L51.2 192.3 L51.7 192.3 L52.2 192.3 L52.7 192.3 L53.2 192.3 L53.7 192.3 L54.2 192.3 L54.7 192.3 L55.2 192.3 L55.7 192.3 L56.2 192.3 L56.7 192.3 L57.2 192.3 L57.7 192.3 L58.2 192.3 L58.7 192.3 L59.2 192.3 L59.7 192.3 L60.2 192.3 L60.7 192.3 L61.2 192.3 L61.7 192.3 L62.2 192.3 L62.7 192.3 L63.2 192.3 L63.7 192.3 L64.2 192.3 L64.7 192.3 L65.2 192.3 L65.7 192.3 L66.2 192.3 L66.7 192.3 L67.2 192.3 L67.7 192.3 L68.2 192.3 L68.7 192.3 L69.2 192.3 L69.7 192.3 L70.2 192.3 L70.7 192.3 L71.2 192.3 L71.7 192.3 L72.2 192.3 L72.7 192.3 L73.2 192.3 L73.7 192.3 L74.2 192.3 L74.7 192.3 L75.2 192.3 L75.7 192.3 L76.2 192.3 L76.7 192.3 L77.2 192.3 L77.7 192.3 L78.2 192.3 L78.7 192.3 L79.2 192.3 L79.7 192.3 L80.2 192.3 L80.7 192.3 L81.2 192.3 L81.7 192.3 L82.2 192.3 L82.7 192.3 L83.2 192.3 L83.7 192.3 L84.2 192.3 L84.7 192.3 L85.2 192.3 L85.7 192.3 L86.2 192.3 L86.7 192.3 L87.2 192.3 L87.7 192.3 L88.2 192.3 L88.7 192.3 L89.2 192.3 L89.7 192.3 L90.2 192.3 L90.7 192.3 L91.2 192.3 L91.7 192.3 L92.2 192.3 L92.7 192.3 L93.2 192.3 L93.7 192.3 L94.2 192.3 L94.7 192.3 L95.2 192.3 L95.7 192.3 L96.2 192.3 L96.7 192.3 L97.2 192.3 L97.7 192.29 L98.2 192.29 L98.7 192.29 L99.2 192.29 L99.7 192.29 L100.2 192.29 L100.7 192.29 L101.2 192.29 L101.7 192.29 L102.2 192.28 L102.7 192.28 L103.2 192.28 L103.7 192.28 L104.2 192.28 L104.7 192.27 L105.2 192.27 L105.7 192.27 L106.2 192.26 L106.7 192.26 L107.2 192.26 L107.7 192.25 L108.2 192.25 L108.7 192.24 L109.2 192.23 L109.7 192.23 L110.2 192.22 L110.7 192.21 L111.2 192.2 L111.7 192.19 L112.2 192.18 L112.7 192.17 L113.2 192.16 L113.7 192.14 L114.2 192.13 L114.7 192.11 L115.2 192.09 L115.7 192.07 L116.2 192.05 L116.7 192.03 L117.2 192 L117.7 191.98 L118.2 191.95 L118.7 191.91 L119.2 191.88 L119.7 191.84 L120.2 191.8 L120.7 191.76 L121.2 191.71 L121.7 191.66 L122.2 191.61 L122.7 191.55 L123.2 191.49 L123.7 191.43 L124.2 191.36 L124.7 191.28 L125.2 191.2 L125.7 191.11 L126.2 191.02 L126.7 190.92 L127.2 190.81 L127.7 190.7 L128.2 190.58 L128.7 190.45 L129.2 190.32 L129.7 190.18 L130.2 190.02 L130.7 189.86 L131.2 189.69 L131.7 189.51 L132.2 189.31 L132.7 189.11 L133.2 188.89 L133.7 188.67 L134.2 188.42 L134.7 188.17 L135.2 187.9 L135.7 187.62 L136.2 187.33 L136.7 187.01 L137.2 186.69 L137.7 186.34 L138.2 185.98 L138.7 185.6 L139.2 185.21 L139.7 184.79 L140.2 184.36 L140.7 183.9 L141.2 183.43 L141.7 182.93 L142.2 182.42 L142.7 181.88 L143.2 181.32 L143.7 180.73 L144.2 180.13 L144.7 179.49 L145.2 178.84 L145.7 178.16 L146.2 177.45 L146.7 176.72 L147.2 175.96 L147.7 175.17 L148.2 174.36 L148.7 173.52 L149.2 172.65 L149.7 171.76 L150.2 170.83 L150.7 169.88 L151.2 168.9 L151.7 167.89 L152.2 166.85 L152.7 165.78 L153.2 164.68 L153.7 163.56 L154.2 162.4 L154.7 161.22 L155.2 160.01 L155.7 158.77 L156.2 157.5 L156.7 156.2 L157.2 154.87 L157.7 153.52 L158.2 152.14 L158.7 150.73 L159.2 149.3 L159.7 147.84 L160.2 146.35 L160.7 144.84 L161.2 143.31 L161.7 141.76 L162.2 140.18 L162.7 138.58 L163.2 136.96 L163.7 135.31 L164.2 133.65 L164.7 131.98 L165.2 130.28 L165.7 128.57 L166.2 126.85 L166.7 125.11 L167.2 123.35 L167.7 121.59 L168.2 119.82 L168.7 118.03 L169.2 116.24 L169.7 114.44 L170.2 112.64 L170.7 110.83 L171.2 109.03 L171.7 107.21 L172.2 105.4 L172.7 103.6 L173.2 101.79 L173.7 99.99 L174.2 98.19 L174.7 96.4 L175.2 94.62 L175.7 92.85 L176.2 91.09 L176.7 89.34 L177.2 87.61 L177.7 85.89 L178.2 84.18 L178.7 82.5 L179.2 80.83 L179.7 79.18 L180.2 77.56 L180.7 75.95 L181.2 74.37 L181.7 72.82 L182.2 71.29 L182.7 69.78 L183.2 68.31 L183.7 66.86 L184.2 65.44 L184.7 64.05 L185.2 62.7 L185.7 61.37 L186.2 60.08 L186.7 58.82 L187.2 57.6 L187.7 56.41 L188.2 55.25 L188.7 54.13 L189.2 53.04 L189.7 51.99 L190.2 50.98 L190.7 50 L191.2 49.06 L191.7 48.16 L192.2 47.3 L192.7 46.47 L193.2 45.67 L193.7 44.92 L194.2 44.2 L194.7 43.52 L195.2 42.87 L195.7 42.26 L196.2 41.68 L196.7 41.14 L197.2 40.64 L197.7 40.16 L198.2 39.73 L198.7 39.32 L199.2 38.95 L199.7 38.6 L200.2 38.29 L200.7 38.01 L201.2 37.75 L201.7 37.53 L202.2 37.33 L202.7 37.15 L203.2 37 L203.7 36.88 L204.2 36.77 L204.7 36.68 L205.2 36.62 L205.7 36.57 L206.2 36.53 L206.7 36.51 L207.2 36.5 L207.7 36.5 L208.2 36.51 L208.7 36.54 L209.2 36.6 L209.7 36.69 L210.2 36.8 L210.7 36.94 L211.2 37.1 L211.7 37.3 L212.2 37.51 L212.7 37.75 L213.2 38.02 L213.7 38.31 L214.2 38.63 L214.7 38.97 L215.2 39.34 L215.7 39.73 L216.2 40.14 L216.7 40.58 L217.2 41.04 L217.7 41.53 L218.2 42.04 L218.7 42.57 L219.2 43.12 L219.7 43.7 L220.2 44.29 L220.7 44.91 L221.2 45.55 L221.7 46.21 L222.2 46.89 L222.7 47.59 L223.2 48.31 L223.7 49.04 L224.2 49.8 L224.7 50.57 L225.2 51.36 L225.7 52.17 L226.2 52.99 L226.7 53.83 L227.2 54.69 L227.7 55.56 L228.2 56.44 L228.7 57.34 L229.2 58.25 L229.7 59.18 L230.2 60.12 L230.7 61.07 L231.2 62.03 L231.7 63 L232.2 63.98 L232.7 64.98 L233.2 65.98 L233.7 66.99 L234.2 68.02 L234.7 69.05 L235.2 70.08 L235.7 71.13 L236.2 72.18 L236.7 73.24 L237.2 74.3 L237.7 75.37 L238.2 76.44 L238.7 77.52 L239.2 78.61 L239.7 79.69 L240.2 80.78 L240.7 81.87 L241.2 82.97 L241.7 84.06 L242.2 85.16 L242.7 86.26 L243.2 87.36 L243.7 88.46 L244.2 89.56 L244.7 90.66 L245.2 91.76 L245.7 92.86 L246.2 93.96 L246.7 95.05 L247.2 96.14 L247.7 97.23 L248.2 98.32 L248.7 99.41 L249.2 100.49 L249.7 101.57 L250.2 102.64 L250.7 103.71 L251.2 104.77 L251.7 105.84 L252.2 106.89 L252.7 107.94 L253.2 108.99 L253.7 110.03 L254.2 111.06 L254.7 112.09 L255.2 113.11 L255.7 114.13 L256.2 115.14 L256.7 116.14 L257.2 117.13 L257.7 118.12 L258.2 119.1 L258.7 120.08 L259.2 121.05 L259.7 122.01 L260.2 122.96 L260.7 123.9 L261.2 124.84 L261.7 125.76 L262.2 126.68 L262.7 127.6 L263.2 128.5 L263.7 129.4 L264.2 130.28 L264.7 131.16 L265.2 132.03 L265.7 132.89 L266.2 133.75 L266.7 134.59 L267.2 135.43 L267.7 136.25 L268.2 137.07 L268.7 137.88 L269.2 138.68 L269.7 139.48 L270.2 140.26 L270.7 141.03 L271.2 141.8 L271.7 142.56 L272.2 143.31 L272.7 144.05 L273.2 144.78 L273.7 145.5 L274.2 146.21 L274.7 146.92 L275.2 147.62 L275.7 148.3 L276.2 148.98 L276.7 149.66 L277.2 150.32 L277.7 150.97 L278.2 151.62 L278.7 152.26 L279.2 152.88 L279.7 153.51 L280.2 154.12 L280.7 154.72 L281.2 155.32 L281.7 155.91 L282.2 156.49 L282.7 157.06 L283.2 157.63 L283.7 158.18 L284.2 158.73 L284.7 159.27 L285.2 159.81 L285.7 160.34 L286.2 160.85 L286.7 161.37 L287.2 161.87 L287.7 162.37 L288.2 162.86 L288.7 163.34 L289.2 163.82 L289.7 164.29 L290.2 164.75 L290.7 165.2 L291.2 165.65 L291.7 166.09 L292.2 166.53 L292.7 166.96 L293.2 167.38 L293.7 167.8 L294.2 168.21 L294.7 168.61 L295.2 169.01 L295.7 169.4 L296.2 169.78 L296.7 170.16 L297.2 170.53 L297.7 170.9 L298.2 171.26 L298.7 171.62 L299.2 171.97 L299.7 172.32 L300.2 172.66 L300.7 172.99 L301.2 173.32 L301.7 173.64 L302.2 173.96 L302.7 174.27 L303.2 174.58 L303.7 174.89 L304.2 175.19 L304.7 175.48 L305.2 175.77 L305.7 176.05 L306.2 176.33 L306.7 176.61 L307.2 176.88 L307.7 177.15 L308.2 177.41 L308.7 177.67 L309.2 177.92 L309.7 178.17 L310.2 178.41 L310.7 178.65 L311.2 178.89 L311.7 179.12 L312.2 179.35 L312.7 179.58 L313.2 179.8 L313.7 180.02 L314.2 180.23 L314.7 180.44 L315.2 180.65 L315.7 180.86 L316.2 181.06 L316.7 181.25 L317.2 181.45 L317.7 181.64 L318.2 181.82 L318.7 182.01 L319.2 182.19 L319.7 182.37 L320.2 182.54 L320.7 182.71 L321.2 182.88 L321.7 183.05 L322.2 183.21 L322.7 183.37 L323.2 183.53 L323.7 183.69 L324.2 183.84 L324.7 183.99 L325.2 184.13 L325.7 184.28 L326.2 184.42 L326.7 184.56 L327.2 184.7 L327.7 184.83 L328.2 184.97 L328.7 185.1 L329.2 185.22 L329.7 185.35 L330.2 185.47 L330.7 185.59 L331.2 185.71 L331.7 185.83 L332.2 185.95 L332.7 186.06 L333.2 186.17 L333.7 186.28 L334.2 186.39 L334.7 186.49 L335.2 186.6 L335.7 186.7 L336.2 186.8 L336.7 186.9 L337.2 186.99 L337.7 187.09 L338.2 187.18 L338.7 187.27 L339.2 187.36 L339.7 187.45 L340.2 187.54 L340.7 187.62 L341.2 187.71 L341.7 187.79 L342.2 187.87 L342.7 187.95 L343.2 188.03 L343.7 188.1 L344.2 188.18 L344.7 188.25 L345.2 188.33 L345.7 188.4 L346.2 188.47 L346.7 188.54 L347.2 188.6 L347.7 188.67 L348.2 188.74 L348.7 188.8 L349.2 188.86 L349.7 188.92 L350.2 188.99 L350.7 189.04 L351.2 189.1 L351.7 189.16 L352.2 189.22 L352.7 189.27 L353.2 189.33 L353.7 189.38 L354.2 189.43 L354.7 189.49 L355.2 189.54 L355.7 189.59 L356.2 189.63 L356.7 189.68 L357.2 189.73 L357.7 189.78 L358.2 189.82 L358.7 189.87 L359.2 189.91 L359.7 189.95 L360.2 190 L360.7 190.04 L361.2 190.08 L361.7 190.12 L362.2 190.16 L362.7 190.2 L363.2 190.23 L363.7 190.27 L364.2 190.31 L364.7 190.34 L365.2 190.38 L365.7 190.41 L366.2 190.45 L366.7 190.48 L367.2 190.51 L367.7 190.55 L368.2 190.58 L368.7 190.61 L369.2 190.64 L369.7 190.67 L370.2 190.7 L370.7 190.73 L371.2 190.76 L371.7 190.79 L372.2 190.81 L372.7 190.84 L373.2 190.87 L373.7 190.89 L374.2 190.92 L374.7 190.94 L375.2 190.97 L375.7 190.99 L376.2 191.01 L376.7 191.04 L377.2 191.06 L377.7 191.08 L378.2 191.11 L378.7 191.13 L379.2 191.15 L379.7 191.17 L380.2 191.19 L380.7 191.21 L381.2 191.23 L381.7 191.25 L382.2 191.27 L382.7 191.29 L383.2 191.31 L383.7 191.32 L384.2 191.34" fill="none" stroke="#0000ff" stroke-width="1.6"/>
</g>
<path d="M30.7 200.3 L30.7 3 L384.6 3" fill="none" stroke="#7a7a7a" stroke-width="1.6"/>
<path d="M30.7 200.3 L384.6 200.3 L384.6 3" fill="none" stroke="#333" stroke-width="1.2"/>
<line x1="30.7" y1="200.3" x2="30.7" y2="196.3" stroke="#4d4d4d" stroke-width="1.1" />
<text x="31" y="210.8" font-size="11.4" text-anchor="middle" fill="#222">0.20</text>
<line x1="101.7" y1="200.3" x2="101.7" y2="196.3" stroke="#4d4d4d" stroke-width="1.1" />
<text x="102" y="210.8" font-size="11.4" text-anchor="middle" fill="#222">0.25</text>
<line x1="172.7" y1="200.3" x2="172.7" y2="196.3" stroke="#4d4d4d" stroke-width="1.1" />
<text x="173" y="210.8" font-size="11.4" text-anchor="middle" fill="#222">0.30</text>
<line x1="243.7" y1="200.3" x2="243.7" y2="196.3" stroke="#4d4d4d" stroke-width="1.1" />
<text x="244" y="210.8" font-size="11.4" text-anchor="middle" fill="#222">0.35</text>
<line x1="314.7" y1="200.3" x2="314.7" y2="196.3" stroke="#4d4d4d" stroke-width="1.1" />
<text x="315" y="210.8" font-size="11.4" text-anchor="middle" fill="#222">0.40</text>
<line x1="385.7" y1="200.3" x2="385.7" y2="196.3" stroke="#4d4d4d" stroke-width="1.1" />
<text x="386" y="210.8" font-size="11.4" text-anchor="middle" fill="#222">0.45</text>
<line x1="30.7" y1="192.3" x2="34.7" y2="192.3" stroke="#4d4d4d" stroke-width="1.1" />
<text x="27" y="196.3" font-size="11.4" text-anchor="end" fill="#222">0</text>
<line x1="30.7" y1="36.5" x2="34.7" y2="36.5" stroke="#4d4d4d" stroke-width="1.1" />
<text x="27" y="40.5" font-size="11.4" text-anchor="end" fill="#222">1</text>
<text x="10.5" y="100" font-size="11.5" text-anchor="middle" fill="#222" textLength="75" lengthAdjust="spacingAndGlyphs" transform="rotate(-90 10.5 100)">Intensity (a.u.)</text>
<text x="187.6" y="224.2" font-size="11" fill="#222"><tspan font-style="italic">E</tspan><tspan dx="1">−</tspan><tspan dx="1" font-style="italic">E</tspan><tspan font-size="8" dy="3.5">D</tspan><tspan dy="-3.5">(eV)</tspan></text>
<text x="37.6" y="16" font-size="12.5" fill="#111" textLength="84.7" lengthAdjust="spacingAndGlyphs"><tspan font-weight="bold">Q</tspan>, 18&lt;τ&lt;22ps</text>
<text x="303.8" y="18.6" font-size="12.5" fill="#111" textLength="71" lengthAdjust="spacingAndGlyphs"><tspan font-weight="bold">Γ</tspan>, 0&lt;τ&lt;5 ps</text>
<line x1="185.6" y1="3" x2="185.6" y2="112" stroke="#ff2020" stroke-width="0.8" stroke-dasharray="1.2 1"/>
<line x1="207.8" y1="3" x2="207.8" y2="112" stroke="#2020ff" stroke-width="0.8" stroke-dasharray="1.2 1"/>
<line x1="185.4" y1="112" x2="207.9" y2="112" stroke="#333" stroke-width="1.1" />
<line x1="185.4" y1="108.5" x2="185.4" y2="115.5" stroke="#333" stroke-width="1" />
<line x1="207.9" y1="108.5" x2="207.9" y2="115.5" stroke="#333" stroke-width="1" />
<text x="180" y="127" font-size="11" text-anchor="start" fill="#222">16 meV</text>
<line x1="76.6" y1="89.2" x2="87.48" y2="98.96" stroke="#777" stroke-width="1" />
<path d="M91.2 102.3 L85.74 100.9 L89.21 97.03 Z" fill="#777"/>
<line x1="283" y1="51.25" x2="256.35" y2="66.29" stroke="#777" stroke-width="1" />
<path d="M252 68.75 L255.08 64.03 L257.63 68.56 Z" fill="#777"/>
<rect x="63.3" y="22.9" width="34.7" height="40.5" fill="#fff" stroke="#555" stroke-width="1" />
<ellipse cx="81" cy="44" rx="17" ry="7" transform="rotate(50 81 44)" fill="#b09080" opacity="0.55" filter="url(#b1)"/>
<path d="M76.53 40.35h1v1h-1zM81.88 48.97h1v1h-1zM83.99 43.25h1v1h-1zM70.63 36.55h1v1h-1zM73.91 35.19h1v1h-1zM79.05 38.69h1v1h-1zM88.68 50.42h1v1h-1zM70.54 36.2h1v1h-1zM84.09 54.84h1v1h-1zM87.37 47.71h1v1h-1zM90.85 54.11h1v1h-1zM85.87 43.6h1v1h-1zM75.62 39.63h1v1h-1zM86.18 50.68h1v1h-1zM90.46 55.5h1v1h-1zM65.29 26.72h1v1h-1zM76.87 41.75h1v1h-1zM85.99 48.59h1v1h-1zM87.66 44.79h1v1h-1zM81.12 42.65h1v1h-1zM88.97 55.02h1v1h-1zM83.79 45.25h1v1h-1zM78.28 41.5h1v1h-1zM80.94 44.37h1v1h-1zM74.33 41.57h1v1h-1zM80.54 53.07h1v1h-1zM85.42 50.89h1v1h-1zM78.27 46.31h1v1h-1zM84.71 43.17h1v1h-1zM82.11 32.85h1v1h-1zM86.97 60.06h1v1h-1zM74.74 30.17h1v1h-1zM77.68 35.85h1v1h-1zM83.84 49.35h1v1h-1zM81.96 48.33h1v1h-1zM82.91 49.47h1v1h-1zM72.05 28.66h1v1h-1zM90.81 45.61h1v1h-1zM87.71 59.75h1v1h-1zM81.56 46.67h1v1h-1zM75.63 44.54h1v1h-1zM85.64 51h1v1h-1zM67.77 33.37h1v1h-1zM73.86 38.29h1v1h-1zM78.44 42.45h1v1h-1zM83.05 40.68h1v1h-1zM74.91 37.81h1v1h-1zM79.08 34.38h1v1h-1zM70.78 41.83h1v1h-1zM82.55 41.81h1v1h-1zM89.32 46.35h1v1h-1zM79.13 46.37h1v1h-1zM82.69 43.63h1v1h-1zM77.82 46.7h1v1h-1zM96.73 57.43h1v1h-1zM86.98 44.5h1v1h-1zM87.37 50.09h1v1h-1zM88.82 49.8h1v1h-1zM79.46 35.16h1v1h-1zM75.17 45.02h1v1h-1zM80.34 37.56h1v1h-1zM66.66 33.88h1v1h-1zM72.1 39.63h1v1h-1zM82.12 31.09h1v1h-1zM81.22 52.25h1v1h-1zM82.71 53.41h1v1h-1zM78.97 33.22h1v1h-1zM86.46 47.69h1v1h-1zM87.68 48.27h1v1h-1zM77.89 41.56h1v1h-1zM81.18 44.03h1v1h-1zM73.64 42.55h1v1h-1zM83.15 43.07h1v1h-1zM86.17 44.29h1v1h-1zM80.23 52.21h1v1h-1zM84.13 41.31h1v1h-1zM72.6 31.54h1v1h-1zM76.9 31.29h1v1h-1zM83.95 43.75h1v1h-1zM84.64 48.87h1v1h-1zM74.7 43.01h1v1h-1zM89.35 53.07h1v1h-1zM72.69 38.69h1v1h-1zM91.64 55h1v1h-1zM73.59 43.81h1v1h-1zM94.32 60.38h1v1h-1zM76.96 40.84h1v1h-1zM77.54 40.17h1v1h-1zM84.49 52.98h1v1h-1zM91.55 50.02h1v1h-1zM81.88 48.99h1v1h-1zM76.48 45.61h1v1h-1zM88.63 49.96h1v1h-1zM95.12 49.75h1v1h-1zM65.88 26.12h1v1h-1zM89.75 50.8h1v1h-1zM81.87 47h1v1h-1zM78.87 47.61h1v1h-1zM87.56 52.76h1v1h-1zM75.01 36.38h1v1h-1zM84.23 40.44h1v1h-1zM72.51 31.29h1v1h-1zM76.61 35.23h1v1h-1zM82.99 53.13h1v1h-1zM83.11 47.03h1v1h-1zM76.98 42.25h1v1h-1zM83.31 43.38h1v1h-1zM69.74 32.81h1v1h-1zM67.83 32.23h1v1h-1zM83.55 49.54h1v1h-1zM77.75 45.21h1v1h-1zM77.81 38.36h1v1h-1zM72.83 30.11h1v1h-1zM78.29 31.6h1v1h-1zM88.7 58.03h1v1h-1zM84.64 37.74h1v1h-1zM82.29 47.53h1v1h-1zM86.17 42.06h1v1h-1zM83.7 57.56h1v1h-1zM83.32 38.92h1v1h-1zM86.03 42.29h1v1h-1zM79.46 43.52h1v1h-1zM72.74 40.13h1v1h-1zM81.54 47.96h1v1h-1zM85.72 54.3h1v1h-1zM93.67 58.11h1v1h-1zM88.15 53.46h1v1h-1zM81.34 41.9h1v1h-1zM84.94 44.79h1v1h-1zM67.97 30.77h1v1h-1zM84.36 46.46h1v1h-1zM92.71 47.96h1v1h-1zM92.11 49.51h1v1h-1zM75.45 40.38h1v1h-1zM87.52 53.87h1v1h-1zM78.61 44.07h1v1h-1zM85.88 45.55h1v1h-1zM84.73 52.97h1v1h-1zM86.28 53.02h1v1h-1zM78.18 37.09h1v1h-1zM76.13 42.12h1v1h-1zM83.06 45.13h1v1h-1zM88.88 46.56h1v1h-1zM72.4 30.18h1v1h-1zM76.99 44.46h1v1h-1zM66.78 24.69h1v1h-1zM79.27 48.71h1v1h-1zM86.49 50.67h1v1h-1zM80.32 40.19h1v1h-1zM75.84 34.7h1v1h-1zM80.21 42.28h1v1h-1zM80.19 54.83h1v1h-1zM81.89 49.47h1v1h-1zM87.06 51.32h1v1h-1zM76.36 34.93h1v1h-1zM91.59 57.58h1v1h-1zM64.98 23.1h1v1h-1zM84.41 47.89h1v1h-1zM77.36 36.39h1v1h-1zM87.49 61.79h1v1h-1zM86.72 54.91h1v1h-1zM78.83 48.66h1v1h-1zM79.71 53.31h1v1h-1zM76.38 39.48h1v1h-1zM84.14 44.89h1v1h-1zM83.24 42.32h1v1h-1zM86.28 46.84h1v1h-1zM78.81 33.95h1v1h-1zM67.35 26.05h1v1h-1zM77.07 37.68h1v1h-1zM71.5 30.33h1v1h-1zM72.26 36.07h1v1h-1zM85.38 51.42h1v1h-1zM84.73 43.39h1v1h-1zM81.52 54.16h1v1h-1zM83.3 47.1h1v1h-1zM85.05 50.48h1v1h-1zM86.38 52.25h1v1h-1zM73.28 47.14h1v1h-1zM77.49 47.04h1v1h-1zM73.92 43.83h1v1h-1zM84.69 52.12h1v1h-1zM83.4 50.82h1v1h-1zM77.89 46.28h1v1h-1zM83.29 46.32h1v1h-1zM78.76 48.95h1v1h-1zM87.4 47.13h1v1h-1zM75.66 40.99h1v1h-1zM72.78 38.47h1v1h-1zM82.36 44.4h1v1h-1zM81.95 48.79h1v1h-1zM76.11 30.8h1v1h-1zM81.7 44.85h1v1h-1zM85.22 53.37h1v1h-1zM81.82 30.26h1v1h-1zM74.24 39.7h1v1h-1zM93.52 52.86h1v1h-1zM87.31 49.36h1v1h-1zM83.47 36.7h1v1h-1zM78.63 45.15h1v1h-1zM86.86 49.62h1v1h-1zM78.81 43.48h1v1h-1zM91.31 51.34h1v1h-1zM78.77 47.32h1v1h-1zM80.09 43.07h1v1h-1zM82.53 43.47h1v1h-1zM69.78 35.9h1v1h-1zM74.35 45.09h1v1h-1zM93.08 54.05h1v1h-1zM64 28.15h1v1h-1zM76.73 33.96h1v1h-1zM84.79 46.71h1v1h-1zM73.94 44.67h1v1h-1zM72.68 35.16h1v1h-1zM84.51 48.3h1v1h-1zM90.09 56.43h1v1h-1zM76.34 29.2h1v1h-1zM81.2 55.45h1v1h-1zM79.52 35.53h1v1h-1zM93.47 61.11h1v1h-1zM79.47 50.41h1v1h-1zM82.65 45.93h1v1h-1zM63.52 27.39h1v1h-1zM73.13 44.64h1v1h-1zM90 47.25h1v1h-1zM92.62 58.64h1v1h-1zM88.93 60.88h1v1h-1zM84.38 42.41h1v1h-1zM84.83 51.4h1v1h-1zM76.56 37.44h1v1h-1zM85.78 49.69h1v1h-1zM79.51 44.92h1v1h-1zM86.71 40.19h1v1h-1zM78.64 46.66h1v1h-1zM91.27 51.92h1v1h-1zM76.95 58.09h1v1h-1zM84.65 43.57h1v1h-1zM72.53 35.24h1v1h-1zM78.64 35.99h1v1h-1zM83.21 50.89h1v1h-1zM84.85 53.79h1v1h-1zM76.76 33.24h1v1h-1zM88.1 56.14h1v1h-1zM86.94 43.98h1v1h-1zM70.75 39.48h1v1h-1zM68.38 33.83h1v1h-1zM84.46 48.45h1v1h-1zM78.33 41.09h1v1h-1zM80.86 56.48h1v1h-1zM84.85 43.93h1v1h-1zM87.1 57.92h1v1h-1zM82.05 41.72h1v1h-1zM73.34 31.22h1v1h-1zM83.69 48.81h1v1h-1zM93.98 62.23h1v1h-1zM77.16 43.99h1v1h-1zM90.28 57.99h1v1h-1zM77.95 47.26h1v1h-1zM75.54 41.26h1v1h-1zM86.88 52.77h1v1h-1zM96.19 57.43h1v1h-1zM88.92 46.37h1v1h-1zM75.35 30.93h1v1h-1zM91.79 55.71h1v1h-1zM72.42 29.54h1v1h-1zM89.31 48.53h1v1h-1zM90.58 57.15h1v1h-1zM78.2 42.82h1v1h-1zM88.89 56.01h1v1h-1zM91.2 54.83h1v1h-1zM85.21 46.13h1v1h-1zM66.88 38.61h1v1h-1zM81.45 35.71h1v1h-1zM74.49 43.86h1v1h-1zM77.32 42.4h1v1h-1zM82.44 48.74h1v1h-1zM85.84 53.26h1v1h-1zM90.11 50.1h1v1h-1zM71.52 37.74h1v1h-1zM87.37 49.89h1v1h-1zM79.15 43.19h1v1h-1zM80.61 31.46h1v1h-1zM75.54 40.62h1v1h-1zM80.34 46.02h1v1h-1zM80.5 39.08h1v1h-1zM89.3 52.05h1v1h-1zM85.69 56.15h1v1h-1zM85.38 49.11h1v1h-1zM92.52 56.99h1v1h-1zM90.2 41.62h1v1h-1zM74.18 32.98h1v1h-1zM83.78 52.12h1v1h-1zM76.96 37.21h1v1h-1zM74 37.21h1v1h-1zM87.14 47.13h1v1h-1zM86.79 48.72h1v1h-1zM79.37 36.17h1v1h-1zM72.91 43.14h1v1h-1zM85.28 49.13h1v1h-1zM83.51 45.01h1v1h-1zM64.99 34.95h1v1h-1zM70.68 38.23h1v1h-1zM84.21 47.66h1v1h-1zM90.88 48.23h1v1h-1zM89.84 52.53h1v1h-1zM77.81 32.01h1v1h-1zM70.14 30.15h1v1h-1zM81.11 45.73h1v1h-1zM77.24 55.73h1v1h-1zM65.55 29.2h1v1h-1zM76.65 36.82h1v1h-1zM75.16 30.05h1v1h-1zM81.9 43.53h1v1h-1zM82.95 46.89h1v1h-1zM78.7 46.76h1v1h-1zM69.77 36.63h1v1h-1zM84.33 43.36h1v1h-1zM67.98 37.22h1v1h-1zM81.52 43.14h1v1h-1zM70.54 40.02h1v1h-1zM77.31 38.25h1v1h-1zM70.17 34.48h1v1h-1zM81.93 49.07h1v1h-1zM87.67 47.51h1v1h-1zM87.94 51.45h1v1h-1zM85.85 50.07h1v1h-1zM93.07 57.91h1v1h-1zM77.15 51.51h1v1h-1zM92.63 52.3h1v1h-1zM89.74 55.85h1v1h-1zM80.29 47.38h1v1h-1zM74.1 38.7h1v1h-1zM88.45 49.63h1v1h-1zM82.15 48.27h1v1h-1zM75.42 37.79h1v1h-1zM90.2 48.66h1v1h-1zM82.75 42.47h1v1h-1zM73.36 30.44h1v1h-1zM87.46 53.89h1v1h-1zM80.91 40.81h1v1h-1zM86.73 50.12h1v1h-1zM86.56 56.99h1v1h-1zM94.09 59.69h1v1h-1zM75.81 36.18h1v1h-1zM81.04 46h1v1h-1zM79.19 49.66h1v1h-1zM73.38 51.57h1v1h-1zM82.66 49.64h1v1h-1zM77.53 42.55h1v1h-1zM82.21 42.96h1v1h-1zM76.29 38.58h1v1h-1zM89.47 53.75h1v1h-1zM66.06 29.88h1v1h-1zM75.36 38.52h1v1h-1zM92.06 56.02h1v1h-1zM84.32 54.05h1v1h-1zM81.55 41.61h1v1h-1zM73.55 34.98h1v1h-1zM81.94 53.2h1v1h-1zM71.69 32.58h1v1h-1zM72.84 31.62h1v1h-1zM86.18 43.88h1v1h-1zM77.64 40.4h1v1h-1zM74.4 35.78h1v1h-1zM87.79 49.29h1v1h-1zM85.16 50.59h1v1h-1zM85.1 47.04h1v1h-1zM89.44 51.33h1v1h-1zM71.23 28.86h1v1h-1zM84.86 46.68h1v1h-1zM78.58 38.77h1v1h-1zM94.54 58.37h1v1h-1zM78.73 46.34h1v1h-1zM82.51 44.15h1v1h-1zM79.53 49.79h1v1h-1zM80.5 50.02h1v1h-1zM89.24 54.67h1v1h-1zM67.56 28.29h1v1h-1zM67.82 37.29h1v1h-1zM81.02 44.98h1v1h-1zM76.9 39.66h1v1h-1zM95.6 59.52h1v1h-1zM86.78 49.68h1v1h-1zM73.77 45.13h1v1h-1zM77.08 41.59h1v1h-1zM80.94 39.07h1v1h-1zM74.39 43.37h1v1h-1zM81.17 43.27h1v1h-1zM89.5 56.04h1v1h-1zM83.63 48.73h1v1h-1zM83.93 34.72h1v1h-1zM81.57 32.17h1v1h-1zM88.27 53.3h1v1h-1zM75.29 40.54h1v1h-1zM78.26 45.45h1v1h-1zM87.74 38.22h1v1h-1zM89.04 51.42h1v1h-1zM78.65 38.3h1v1h-1zM70.05 41.86h1v1h-1zM78.84 40.5h1v1h-1zM68.52 29.06h1v1h-1zM81.3 41.67h1v1h-1zM75.13 39.65h1v1h-1zM80.37 47.37h1v1h-1zM89.28 48.13h1v1h-1zM86.52 45.37h1v1h-1zM82.25 44.87h1v1h-1zM77.45 42.52h1v1h-1zM75.56 46.37h1v1h-1zM82.54 56.64h1v1h-1zM71.56 26.08h1v1h-1zM83.86 47.82h1v1h-1zM78.87 41.53h1v1h-1zM77.37 44.53h1v1h-1zM78.69 45.99h1v1h-1zM79.73 46.64h1v1h-1zM77.77 40.92h1v1h-1zM74 28.76h1v1h-1zM82.41 53.11h1v1h-1zM81.35 39.62h1v1h-1zM77.56 41.59h1v1h-1zM84.26 44.03h1v1h-1zM72.42 35.92h1v1h-1zM70.85 45.61h1v1h-1zM89.19 49.93h1v1h-1zM78.53 50.37h1v1h-1zM70.88 29.83h1v1h-1zM84.42 44.37h1v1h-1zM72.37 29.73h1v1h-1zM74.14 46.33h1v1h-1zM84.4 48.44h1v1h-1zM84.4 48.46h1v1h-1zM83.54 48.19h1v1h-1zM85.13 36.17h1v1h-1zM90.33 45.48h1v1h-1zM84.03 44.18h1v1h-1zM79.27 42.84h1v1h-1zM81.81 48.38h1v1h-1zM64.41 25.66h1v1h-1zM71.46 38.73h1v1h-1zM80.28 38.71h1v1h-1zM85.74 51.01h1v1h-1zM80.86 50.38h1v1h-1zM73.58 42.13h1v1h-1zM79.78 40.46h1v1h-1zM88.45 48.72h1v1h-1zM81.22 45.63h1v1h-1zM77.79 40.11h1v1h-1zM83.49 43.13h1v1h-1zM82.41 51.09h1v1h-1zM84.2 46.07h1v1h-1zM76.8 49.54h1v1h-1zM85.98 43.03h1v1h-1zM80.86 38.03h1v1h-1zM76.33 32.77h1v1h-1zM88.37 37.68h1v1h-1zM77.97 39.61h1v1h-1zM91.57 41.71h1v1h-1zM86.37 40.99h1v1h-1zM87.82 44.88h1v1h-1zM83.49 49.04h1v1h-1zM91.37 50.96h1v1h-1zM82.13 49.08h1v1h-1zM85.13 47h1v1h-1zM73.68 29.42h1v1h-1zM80.67 44.47h1v1h-1zM70.78 36.54h1v1h-1zM91.05 51.26h1v1h-1zM84.9 50.55h1v1h-1zM76.24 37.51h1v1h-1zM83.04 48.98h1v1h-1zM85.33 44.09h1v1h-1zM72.1 39.76h1v1h-1zM80.71 48.06h1v1h-1zM79.65 48.98h1v1h-1zM88.74 60.08h1v1h-1zM81.72 41.92h1v1h-1zM78.38 44.95h1v1h-1zM79.79 50.27h1v1h-1zM85.02 41.91h1v1h-1zM73.45 45.39h1v1h-1zM85.66 41.67h1v1h-1zM79.85 44.91h1v1h-1zM72.8 37.87h1v1h-1zM78.27 38.73h1v1h-1zM77.45 41.77h1v1h-1zM89.36 55.63h1v1h-1zM71.46 32.56h1v1h-1zM70.23 33.56h1v1h-1zM89.19 52.28h1v1h-1zM75.83 33.67h1v1h-1zM80.94 43.82h1v1h-1zM87.67 56.26h1v1h-1zM77.14 35.98h1v1h-1zM78.56 42.99h1v1h-1zM80.68 35.91h1v1h-1zM83.43 49.33h1v1h-1zM79.4 46.59h1v1h-1zM71.77 28.03h1v1h-1zM72.09 28.28h1v1h-1zM76.38 43.3h1v1h-1zM79.65 32.37h1v1h-1zM93.53 55.11h1v1h-1zM82.32 52.54h1v1h-1zM84.5 50.21h1v1h-1zM70.84 34.01h1v1h-1zM80.49 49.19h1v1h-1zM79.21 44.22h1v1h-1zM95.14 54.97h1v1h-1zM83.9 44.39h1v1h-1zM94.85 49.71h1v1h-1zM85.44 51.4h1v1h-1zM78.43 44.34h1v1h-1zM72.52 29.51h1v1h-1zM71.72 25.52h1v1h-1zM75.18 30.63h1v1h-1zM68.94 31.49h1v1h-1zM84.01 52.79h1v1h-1zM78.64 46.5h1v1h-1zM78.69 42.49h1v1h-1zM76.79 38.1h1v1h-1zM73.25 33.05h1v1h-1zM65.89 28.77h1v1h-1zM71.93 30.54h1v1h-1zM89.73 52.57h1v1h-1zM88.46 48.87h1v1h-1zM86.29 51.11h1v1h-1zM77.52 47.85h1v1h-1zM82.74 53.54h1v1h-1zM73.74 42.39h1v1h-1zM92.45 53.78h1v1h-1zM81.97 37.78h1v1h-1zM75.66 34.09h1v1h-1zM84.64 42.48h1v1h-1zM68 33.25h1v1h-1zM81.88 44.16h1v1h-1zM76.73 43.11h1v1h-1zM79.62 45.06h1v1h-1zM73.22 35.01h1v1h-1zM78.48 36.54h1v1h-1zM88.68 44.34h1v1h-1zM83.31 46.25h1v1h-1zM96.45 49.92h1v1h-1zM73.19 33.29h1v1h-1zM88.03 50.04h1v1h-1zM87.73 46.58h1v1h-1zM92.19 50.54h1v1h-1zM77.14 39.51h1v1h-1zM75.23 44.53h1v1h-1zM77.67 42.97h1v1h-1zM77.31 45.77h1v1h-1zM73.66 29.91h1v1h-1zM90.03 57.09h1v1h-1zM87.11 55.42h1v1h-1zM79.44 50.93h1v1h-1zM77.79 40.2h1v1h-1zM73.74 34.56h1v1h-1zM83.83 35.3h1v1h-1zM88.35 55.84h1v1h-1zM68.1 34.06h1v1h-1zM74.77 48.94h1v1h-1zM82.88 48.72h1v1h-1zM78.58 46.15h1v1h-1zM86.59 45.65h1v1h-1zM71.04 26.45h1v1h-1zM86.46 54.76h1v1h-1zM77.58 32.38h1v1h-1zM87.05 53.43h1v1h-1zM80.42 40.69h1v1h-1zM93.71 60.85h1v1h-1zM84.69 53.77h1v1h-1zM74.83 41.2h1v1h-1zM92.49 50.12h1v1h-1zM84.23 36.92h1v1h-1zM93.32 52.34h1v1h-1zM88.45 56.55h1v1h-1zM84.09 58.62h1v1h-1zM87.65 41.75h1v1h-1zM75.44 35.07h1v1h-1zM67.86 39.21h1v1h-1zM85.59 47.58h1v1h-1zM88.69 57.72h1v1h-1zM76.12 44.63h1v1h-1zM77.8 35.63h1v1h-1zM86.04 54.58h1v1h-1zM89.78 51.39h1v1h-1zM82.38 48.24h1v1h-1zM92.97 57.25h1v1h-1zM74.62 41.89h1v1h-1zM89.1 50.09h1v1h-1zM79.35 52.52h1v1h-1zM76.28 34.21h1v1h-1zM81.66 52.45h1v1h-1zM76.68 37.11h1v1h-1zM89.67 54.93h1v1h-1zM77.69 33.87h1v1h-1zM81.88 46.4h1v1h-1zM87.96 49h1v1h-1zM76.17 39h1v1h-1zM74.11 29.87h1v1h-1zM73.72 38.78h1v1h-1zM80.96 51.34h1v1h-1zM72.34 42.39h1v1h-1zM81.79 44.69h1v1h-1zM77.4 36.43h1v1h-1zM79.28 45.99h1v1h-1zM79.3 44.09h1v1h-1zM82.42 47.06h1v1h-1zM68.3 39.41h1v1h-1zM69.58 38.81h1v1h-1zM82.08 53.64h1v1h-1zM86.71 50.01h1v1h-1zM73.97 30.11h1v1h-1zM83.24 46.75h1v1h-1zM75.61 38.86h1v1h-1zM72.9 38.74h1v1h-1zM84.55 44.05h1v1h-1zM86.47 46.93h1v1h-1zM79.29 31.02h1v1h-1zM84.42 48.26h1v1h-1zM76.46 33.01h1v1h-1zM92.64 54.46h1v1h-1zM81.92 51.68h1v1h-1zM95.44 60.13h1v1h-1zM82.42 41.35h1v1h-1zM71.44 34.39h1v1h-1zM84.54 52.59h1v1h-1zM74.02 36.76h1v1h-1zM84.47 43.8h1v1h-1zM76.68 34.09h1v1h-1zM84.56 39.43h1v1h-1zM75.88 35.52h1v1h-1zM70.4 23.96h1v1h-1zM70.34 34.46h1v1h-1zM77.29 46.19h1v1h-1zM77.32 43.88h1v1h-1zM81.09 47.44h1v1h-1zM82.85 47.29h1v1h-1zM92.84 56.63h1v1h-1zM81.28 50.2h1v1h-1zM84.69 46.08h1v1h-1zM81.79 47.22h1v1h-1zM73.11 35.31h1v1h-1zM88.89 56.44h1v1h-1zM74.36 30.9h1v1h-1zM80.5 42.26h1v1h-1zM88 55.27h1v1h-1zM79.79 47.28h1v1h-1zM81.23 35.78h1v1h-1zM70.4 39.79h1v1h-1zM83.14 48.62h1v1h-1zM83.2 57.52h1v1h-1zM73.13 30.92h1v1h-1zM90.37 56.12h1v1h-1zM89.51 49.42h1v1h-1zM82.52 40.58h1v1h-1zM72.62 43.64h1v1h-1zM82.3 44.19h1v1h-1zM78.46 43.06h1v1h-1zM81.28 49.44h1v1h-1zM71.22 43.77h1v1h-1zM91.66 52.26h1v1h-1zM75.87 42.44h1v1h-1zM84.56 46.77h1v1h-1zM78.19 41.75h1v1h-1zM77.57 34.85h1v1h-1zM78.87 40.15h1v1h-1zM77.3 42.08h1v1h-1zM90.04 52.93h1v1h-1zM84.92 50.38h1v1h-1zM74.94 36.98h1v1h-1zM73.07 25.17h1v1h-1zM71.36 34.54h1v1h-1zM74.96 47.67h1v1h-1zM65.43 24.5h1v1h-1zM83.55 58.06h1v1h-1zM78.39 39.84h1v1h-1zM77.89 37.01h1v1h-1zM84.14 47.88h1v1h-1zM88.82 54.13h1v1h-1zM89.3 47.52h1v1h-1zM80.74 41.01h1v1h-1zM78.64 36.18h1v1h-1zM84.8 53.26h1v1h-1zM90.56 48.64h1v1h-1zM81.68 44.5h1v1h-1zM69.47 50.44h1v1h-1zM85.16 50.27h1v1h-1zM78.78 42.3h1v1h-1zM78.51 52.96h1v1h-1zM78.17 33.55h1v1h-1zM87.04 39.73h1v1h-1zM83.95 50.72h1v1h-1zM87.6 52.86h1v1h-1zM80.62 38.55h1v1h-1zM71.36 34.07h1v1h-1zM74.92 34.21h1v1h-1zM85.07 52.84h1v1h-1zM89.88 46.13h1v1h-1zM96.55 55.07h1v1h-1zM87.94 48.03h1v1h-1zM88.29 52.67h1v1h-1zM77.99 43.16h1v1h-1zM77.24 48.07h1v1h-1zM82.93 44.37h1v1h-1zM92.09 45.06h1v1h-1zM78.65 39.91h1v1h-1zM75.92 36.41h1v1h-1zM80.91 43.26h1v1h-1zM87.45 53.54h1v1h-1zM74.09 44.72h1v1h-1zM84.29 49.43h1v1h-1zM79.08 33.77h1v1h-1zM93.04 56.39h1v1h-1zM81.17 48.56h1v1h-1zM84.47 41.37h1v1h-1zM90.2 56.3h1v1h-1zM69.71 34.11h1v1h-1zM89.82 56.4h1v1h-1zM90.85 52.83h1v1h-1zM76.76 40.76h1v1h-1zM84.29 52.72h1v1h-1zM71.7 35.94h1v1h-1zM85.43 52.6h1v1h-1zM84.45 45.9h1v1h-1zM78.01 51.09h1v1h-1zM79.18 47.37h1v1h-1zM73.23 25.44h1v1h-1zM89.28 51.08h1v1h-1zM72.97 33.38h1v1h-1zM73.49 42.77h1v1h-1zM90.43 58.09h1v1h-1zM87.02 52.66h1v1h-1zM72.13 41.62h1v1h-1zM80.67 49.2h1v1h-1zM78.95 41.76h1v1h-1zM80.28 39.94h1v1h-1zM90.26 52.74h1v1h-1zM78.78 47.23h1v1h-1zM69.01 28.41h1v1h-1zM80.19 46.16h1v1h-1zM96.58 57.21h1v1h-1zM88.45 44.76h1v1h-1zM68.86 28.99h1v1h-1zM95.76 54.45h1v1h-1zM84.61 50.97h1v1h-1zM76.64 46.67h1v1h-1zM93.8 61.72h1v1h-1zM86.67 48.05h1v1h-1zM76.6 48.99h1v1h-1zM76.45 39.02h1v1h-1zM77.86 40.46h1v1h-1zM82.96 39.3h1v1h-1zM64.13 27.15h1v1h-1zM85.79 46.69h1v1h-1zM73.84 39.33h1v1h-1zM84.3 49.95h1v1h-1zM72.08 41.1h1v1h-1zM75.96 38.8h1v1h-1zM81.12 33.41h1v1h-1zM74 37.02h1v1h-1zM76.65 45.44h1v1h-1zM82.48 47.35h1v1h-1zM80.98 41.02h1v1h-1zM82.32 37.87h1v1h-1zM84.43 42.88h1v1h-1zM84.19 47.03h1v1h-1zM87.5 55.44h1v1h-1zM80.81 45.31h1v1h-1zM66.01 26.18h1v1h-1zM73.62 37.66h1v1h-1zM91.9 46.93h1v1h-1zM81.39 52.8h1v1h-1zM80.39 38.98h1v1h-1zM90.72 61.06h1v1h-1zM80.27 49.1h1v1h-1zM69.18 31.86h1v1h-1zM73.36 29.79h1v1h-1zM92.5 56.34h1v1h-1zM74.36 39.19h1v1h-1zM71.78 42.87h1v1h-1zM79.44 43.09h1v1h-1zM76.28 39.54h1v1h-1zM80.2 43.31h1v1h-1zM92.22 46.32h1v1h-1zM78.23 36.28h1v1h-1zM83.19 49.59h1v1h-1zM80.53 41.69h1v1h-1zM65.34 28.73h1v1h-1zM95.35 61.13h1v1h-1zM75.77 35.88h1v1h-1zM69.52 30.96h1v1h-1zM85.85 60.64h1v1h-1zM83.88 42.37h1v1h-1zM86.44 47.47h1v1h-1zM84.64 51.75h1v1h-1zM79.09 43.15h1v1h-1zM94.57 50.73h1v1h-1zM87.11 51.65h1v1h-1zM78.17 35.7h1v1h-1zM71.04 33.68h1v1h-1zM84.08 43.8h1v1h-1zM69.15 25.55h1v1h-1zM82.63 32.37h1v1h-1zM86.91 53.08h1v1h-1zM82.43 49.48h1v1h-1zM72.61 33.97h1v1h-1zM78.71 35.18h1v1h-1zM74.59 42.5h1v1h-1zM83.07 54.53h1v1h-1zM79.46 50.63h1v1h-1zM87.19 44.14h1v1h-1zM75.13 47.32h1v1h-1zM83.42 46.44h1v1h-1zM90.35 46.23h1v1h-1zM87.56 45.48h1v1h-1zM83.4 51.34h1v1h-1zM81.41 36.33h1v1h-1zM82.55 46.63h1v1h-1zM87.47 58.93h1v1h-1zM84.24 48.39h1v1h-1zM82.85 47.27h1v1h-1zM88.57 59.94h1v1h-1zM94.99 60.58h1v1h-1zM80.11 48.04h1v1h-1zM85.09 59.16h1v1h-1zM78.12 44.19h1v1h-1zM82.47 53.89h1v1h-1zM74.89 24.54h1v1h-1zM88.94 48.82h1v1h-1zM81.2 42.96h1v1h-1zM84.24 45.29h1v1h-1zM88.58 46.79h1v1h-1zM93.75 53.97h1v1h-1zM74.76 41.01h1v1h-1zM82.24 41.77h1v1h-1zM89.79 61h1v1h-1zM82.14 51.72h1v1h-1zM80.21 38.11h1v1h-1zM75.08 43.6h1v1h-1zM81.38 43.81h1v1h-1zM79.28 50.01h1v1h-1zM74.96 31.31h1v1h-1zM76.5 51.63h1v1h-1zM79.67 40.54h1v1h-1zM80.96 54.78h1v1h-1zM72.69 34.27h1v1h-1zM74.49 41.44h1v1h-1zM71.77 49.66h1v1h-1zM72.54 30.5h1v1h-1zM79.37 45.83h1v1h-1zM86.87 48.22h1v1h-1zM77.63 35.58h1v1h-1zM74.16 35.47h1v1h-1zM82.49 45.61h1v1h-1zM83.63 50.25h1v1h-1zM72.81 30.44h1v1h-1zM76.22 37.46h1v1h-1z" fill="#8a6a58"/>
<path d="M95.14 37.36h0.9v0.9h-0.9zM90.98 52.89h0.9v0.9h-0.9zM68.37 46.67h0.9v0.9h-0.9zM92.13 42.38h0.9v0.9h-0.9zM70.68 59.5h0.9v0.9h-0.9zM76.47 46.91h0.9v0.9h-0.9zM69.58 28.51h0.9v0.9h-0.9zM91.06 57.41h0.9v0.9h-0.9zM96.17 26.54h0.9v0.9h-0.9zM91.78 32.11h0.9v0.9h-0.9zM79.22 43.97h0.9v0.9h-0.9zM75.24 50.29h0.9v0.9h-0.9zM77.64 47.01h0.9v0.9h-0.9zM63.66 42.7h0.9v0.9h-0.9zM85.97 28.06h0.9v0.9h-0.9z" fill="#a08878"/>
<ellipse cx="77.5" cy="42" rx="6.5" ry="4" transform="rotate(55 77.5 42)" fill="#d8d060" filter="url(#b1)"/>
<ellipse cx="77" cy="41.5" rx="3.2" ry="2.3" transform="rotate(55 77 41.5)" fill="#58d870" filter="url(#b1)"/>
<ellipse cx="88" cy="53" rx="2" ry="1.2" transform="rotate(50 88 53)" fill="#d8d060"/>
<rect x="63.3" y="22.9" width="34.7" height="40.5" fill="none" stroke="#555" stroke-width="1" />
<line x1="63.3" y1="24.6" x2="66" y2="24.6" stroke="#444" stroke-width="0.8" />
<text x="61.8" y="27.7" font-size="8.5" text-anchor="end" fill="#222">0.30</text>
<line x1="63.3" y1="38.7" x2="66" y2="38.7" stroke="#444" stroke-width="0.8" />
<text x="61.8" y="41.8" font-size="8.5" text-anchor="end" fill="#222">0.28</text>
<line x1="63.3" y1="52.3" x2="66" y2="52.3" stroke="#444" stroke-width="0.8" />
<text x="61.8" y="55.4" font-size="8.5" text-anchor="end" fill="#222">0.26</text>
<line x1="75.7" y1="63.4" x2="75.7" y2="61" stroke="#444" stroke-width="0.8" />
<line x1="94.7" y1="63.4" x2="94.7" y2="61" stroke="#444" stroke-width="0.8" />
<text x="70.6" y="70.6" font-size="8.5" text-anchor="middle" fill="#222">-0.16</text>
<text x="94" y="70.6" font-size="8.5" text-anchor="middle" fill="#222">-0.12</text>
<text x="96.8" y="31.5" font-size="10" text-anchor="end" fill="#2020ff" textLength="17" lengthAdjust="spacingAndGlyphs">30K</text>
<text x="67.2" y="82" font-size="10.5" fill="#222">k<tspan font-size="6.5" dy="2">||</tspan><tspan dy="-2"> (Å</tspan><tspan font-size="7" dy="-5">−1</tspan><tspan dy="5">)</tspan></text>
<text x="0" y="0" font-size="9" fill="#222" transform="translate(42.2 58.5) rotate(-90)"><tspan font-style="italic">E</tspan>-<tspan font-style="italic">E</tspan><tspan font-size="6.5" dy="2.2">D</tspan><tspan dy="-2.2">(eV)</tspan></text>
<rect x="323.8" y="30.3" width="50.1" height="51.9" fill="#fff" stroke="#555" stroke-width="1" />
<path d="M363.2 58.89h0.9v0.9h-0.9zM356.5 58.86h0.9v0.9h-0.9zM362.82 76.16h0.9v0.9h-0.9zM339.41 59.32h0.9v0.9h-0.9zM334.89 61h0.9v0.9h-0.9zM371.66 58.45h0.9v0.9h-0.9zM352.06 68.61h0.9v0.9h-0.9zM346.66 48.07h0.9v0.9h-0.9zM332.83 63.51h0.9v0.9h-0.9zM357.75 58.41h0.9v0.9h-0.9zM340.38 64.54h0.9v0.9h-0.9zM366.89 52.92h0.9v0.9h-0.9zM361.54 77.93h0.9v0.9h-0.9zM363.38 57.69h0.9v0.9h-0.9zM338.91 48.75h0.9v0.9h-0.9zM356.75 38.08h0.9v0.9h-0.9zM357.19 63.22h0.9v0.9h-0.9zM353.95 64.88h0.9v0.9h-0.9zM362.56 71.41h0.9v0.9h-0.9zM339.31 76.02h0.9v0.9h-0.9zM365.91 66.05h0.9v0.9h-0.9zM333.18 48.46h0.9v0.9h-0.9zM352.52 67.12h0.9v0.9h-0.9zM351.85 47.79h0.9v0.9h-0.9zM346.99 56.85h0.9v0.9h-0.9zM335.2 48.13h0.9v0.9h-0.9zM352.27 45.4h0.9v0.9h-0.9zM347.65 70.71h0.9v0.9h-0.9zM335.29 58.89h0.9v0.9h-0.9zM351.13 60.37h0.9v0.9h-0.9zM336.86 44.14h0.9v0.9h-0.9zM358.45 63.06h0.9v0.9h-0.9zM361.27 43.31h0.9v0.9h-0.9zM354.79 50.89h0.9v0.9h-0.9zM353.51 63.56h0.9v0.9h-0.9zM334.17 59.38h0.9v0.9h-0.9zM332.91 62.28h0.9v0.9h-0.9zM361.62 58.01h0.9v0.9h-0.9zM345.89 76.69h0.9v0.9h-0.9zM343.05 72.53h0.9v0.9h-0.9zM350.25 57.52h0.9v0.9h-0.9zM325.84 64.38h0.9v0.9h-0.9zM338.29 59.91h0.9v0.9h-0.9zM341.95 48.14h0.9v0.9h-0.9zM344.37 57.58h0.9v0.9h-0.9zM370.9 58.71h0.9v0.9h-0.9zM326.34 58.75h0.9v0.9h-0.9zM339.38 70.65h0.9v0.9h-0.9zM348.03 62.72h0.9v0.9h-0.9zM359.47 43.23h0.9v0.9h-0.9zM366.04 68.39h0.9v0.9h-0.9zM335.42 68.96h0.9v0.9h-0.9zM341.26 48.49h0.9v0.9h-0.9zM341.18 55.16h0.9v0.9h-0.9zM344.23 58.75h0.9v0.9h-0.9zM338.29 65.73h0.9v0.9h-0.9zM366.92 68.34h0.9v0.9h-0.9zM351.69 55.55h0.9v0.9h-0.9zM346.85 50.25h0.9v0.9h-0.9zM342.07 58.31h0.9v0.9h-0.9zM326.63 71.8h0.9v0.9h-0.9zM355.82 66.39h0.9v0.9h-0.9zM341.79 41.69h0.9v0.9h-0.9zM338.46 45.4h0.9v0.9h-0.9zM324.13 75.08h0.9v0.9h-0.9zM337.06 69.51h0.9v0.9h-0.9zM352.51 74.07h0.9v0.9h-0.9zM337.44 69.9h0.9v0.9h-0.9zM340.09 39.56h0.9v0.9h-0.9zM343.66 68.03h0.9v0.9h-0.9zM355.96 60.86h0.9v0.9h-0.9zM340.36 57.35h0.9v0.9h-0.9zM332.54 45.89h0.9v0.9h-0.9zM342.81 44.23h0.9v0.9h-0.9zM326.26 43.89h0.9v0.9h-0.9zM348.08 58.58h0.9v0.9h-0.9zM340.91 68.35h0.9v0.9h-0.9zM346.45 65.08h0.9v0.9h-0.9zM359.91 69.58h0.9v0.9h-0.9zM363.62 60.67h0.9v0.9h-0.9zM327.83 55.86h0.9v0.9h-0.9zM344.94 61.99h0.9v0.9h-0.9zM360.58 65.72h0.9v0.9h-0.9zM348.67 60.85h0.9v0.9h-0.9zM342.83 63.38h0.9v0.9h-0.9zM342.63 55.3h0.9v0.9h-0.9zM347.41 66.4h0.9v0.9h-0.9zM361.78 62.01h0.9v0.9h-0.9zM340.96 57.03h0.9v0.9h-0.9zM359.98 54.86h0.9v0.9h-0.9zM336.97 76.58h0.9v0.9h-0.9zM355.11 80.19h0.9v0.9h-0.9zM354.8 57.64h0.9v0.9h-0.9zM343.78 58.33h0.9v0.9h-0.9zM359.56 63.89h0.9v0.9h-0.9zM345.64 72.56h0.9v0.9h-0.9zM360.72 49.34h0.9v0.9h-0.9zM336.23 58.81h0.9v0.9h-0.9zM348.79 78.4h0.9v0.9h-0.9zM338.5 51.08h0.9v0.9h-0.9zM328.61 42.06h0.9v0.9h-0.9zM370.2 69.83h0.9v0.9h-0.9zM336.39 56.18h0.9v0.9h-0.9zM343.78 70.28h0.9v0.9h-0.9zM369.1 63.49h0.9v0.9h-0.9zM347.67 55.35h0.9v0.9h-0.9zM330.04 65.01h0.9v0.9h-0.9zM339.66 75.32h0.9v0.9h-0.9zM357.66 78.31h0.9v0.9h-0.9zM332.58 46.97h0.9v0.9h-0.9zM348.05 50.17h0.9v0.9h-0.9zM328.94 65.35h0.9v0.9h-0.9zM356.88 78.91h0.9v0.9h-0.9zM331.72 65.51h0.9v0.9h-0.9zM351.81 77.3h0.9v0.9h-0.9zM338.35 62.76h0.9v0.9h-0.9zM347.23 72.02h0.9v0.9h-0.9zM328.22 66.86h0.9v0.9h-0.9zM352.05 61.57h0.9v0.9h-0.9zM359.01 60.02h0.9v0.9h-0.9zM340.07 56.47h0.9v0.9h-0.9zM363.78 56.13h0.9v0.9h-0.9zM344.92 56.63h0.9v0.9h-0.9zM358.22 66.16h0.9v0.9h-0.9zM350.35 57.46h0.9v0.9h-0.9zM357.06 55.31h0.9v0.9h-0.9zM335.65 45.62h0.9v0.9h-0.9zM330.98 77.29h0.9v0.9h-0.9zM329.24 60.1h0.9v0.9h-0.9zM361.04 46.88h0.9v0.9h-0.9zM353.11 53.55h0.9v0.9h-0.9zM361.32 66.11h0.9v0.9h-0.9zM339.02 49.13h0.9v0.9h-0.9zM369.4 77.63h0.9v0.9h-0.9zM358.73 37.63h0.9v0.9h-0.9zM341.28 59.86h0.9v0.9h-0.9zM366.12 64.2h0.9v0.9h-0.9zM366.79 67.31h0.9v0.9h-0.9zM338.21 53.97h0.9v0.9h-0.9zM369.78 60.94h0.9v0.9h-0.9zM348.66 60.06h0.9v0.9h-0.9zM325.24 71.51h0.9v0.9h-0.9zM347.07 66.02h0.9v0.9h-0.9zM348.43 63.37h0.9v0.9h-0.9zM356.28 50.45h0.9v0.9h-0.9zM354.12 40.42h0.9v0.9h-0.9zM356.1 55.92h0.9v0.9h-0.9zM372.14 52.44h0.9v0.9h-0.9zM337.31 59.33h0.9v0.9h-0.9zM361.5 44.8h0.9v0.9h-0.9zM369.83 56.78h0.9v0.9h-0.9zM332.55 60.91h0.9v0.9h-0.9zM330.69 56.94h0.9v0.9h-0.9zM358.15 55.82h0.9v0.9h-0.9zM362.85 56.84h0.9v0.9h-0.9zM341.88 60.87h0.9v0.9h-0.9zM340.15 51.29h0.9v0.9h-0.9zM366.76 65.25h0.9v0.9h-0.9zM355.35 67.39h0.9v0.9h-0.9zM369.32 46.56h0.9v0.9h-0.9zM357.3 54.45h0.9v0.9h-0.9zM355.41 52.56h0.9v0.9h-0.9zM324.45 58.28h0.9v0.9h-0.9zM342.15 69.27h0.9v0.9h-0.9zM355.44 43.26h0.9v0.9h-0.9zM341.23 69.77h0.9v0.9h-0.9zM363.89 60.68h0.9v0.9h-0.9zM353.61 52.03h0.9v0.9h-0.9zM341.65 67.4h0.9v0.9h-0.9zM372.11 54.55h0.9v0.9h-0.9zM330.54 71.25h0.9v0.9h-0.9zM361.87 64.41h0.9v0.9h-0.9zM334.57 66.56h0.9v0.9h-0.9zM366 49.59h0.9v0.9h-0.9zM335.45 57.17h0.9v0.9h-0.9zM342.23 56.81h0.9v0.9h-0.9zM355.49 67.15h0.9v0.9h-0.9zM350.3 47.16h0.9v0.9h-0.9zM330.33 66.53h0.9v0.9h-0.9zM333.27 70.87h0.9v0.9h-0.9zM334.83 62.09h0.9v0.9h-0.9zM336.3 38.3h0.9v0.9h-0.9zM368.24 36.17h0.9v0.9h-0.9zM338.17 65.34h0.9v0.9h-0.9zM349.01 47.32h0.9v0.9h-0.9zM325.26 36.9h0.9v0.9h-0.9zM366.51 52.61h0.9v0.9h-0.9zM353.82 77.7h0.9v0.9h-0.9zM349.88 69.38h0.9v0.9h-0.9zM340.31 63.76h0.9v0.9h-0.9zM352.65 60.57h0.9v0.9h-0.9zM337.29 47.42h0.9v0.9h-0.9zM366.75 56.26h0.9v0.9h-0.9zM337.41 67.62h0.9v0.9h-0.9zM361.83 47.65h0.9v0.9h-0.9zM332.99 76.47h0.9v0.9h-0.9zM336.69 59.51h0.9v0.9h-0.9zM341.13 80.49h0.9v0.9h-0.9zM324.2 71.5h0.9v0.9h-0.9zM328.04 56.07h0.9v0.9h-0.9zM326.5 49.84h0.9v0.9h-0.9zM330.72 53.85h0.9v0.9h-0.9zM347.63 70.61h0.9v0.9h-0.9zM345.01 59.7h0.9v0.9h-0.9zM329.66 63.92h0.9v0.9h-0.9zM361.83 61.31h0.9v0.9h-0.9zM362.22 60.74h0.9v0.9h-0.9zM356.22 74.5h0.9v0.9h-0.9zM347.47 71.42h0.9v0.9h-0.9zM334.51 46.84h0.9v0.9h-0.9zM336.77 55.43h0.9v0.9h-0.9zM350.96 67.22h0.9v0.9h-0.9zM337.83 70.75h0.9v0.9h-0.9zM365.04 79.25h0.9v0.9h-0.9zM362.5 72.07h0.9v0.9h-0.9zM364.77 75.52h0.9v0.9h-0.9zM368.61 57.77h0.9v0.9h-0.9zM355.19 68.36h0.9v0.9h-0.9zM358.48 58.42h0.9v0.9h-0.9zM365.62 70.42h0.9v0.9h-0.9zM328.46 38.36h0.9v0.9h-0.9zM342.48 70.08h0.9v0.9h-0.9zM357.09 56.34h0.9v0.9h-0.9zM354.14 58.23h0.9v0.9h-0.9zM335.73 72.93h0.9v0.9h-0.9zM350.44 42.81h0.9v0.9h-0.9zM353.2 42.68h0.9v0.9h-0.9zM352.87 53.53h0.9v0.9h-0.9zM343.25 65.62h0.9v0.9h-0.9zM351.94 57.25h0.9v0.9h-0.9zM361.6 72.89h0.9v0.9h-0.9zM334.55 51.4h0.9v0.9h-0.9zM341.16 67.2h0.9v0.9h-0.9zM357.13 74.54h0.9v0.9h-0.9zM332.28 55.38h0.9v0.9h-0.9zM361.91 69.83h0.9v0.9h-0.9zM328.87 53.38h0.9v0.9h-0.9zM362.56 52.11h0.9v0.9h-0.9zM331.74 71.56h0.9v0.9h-0.9zM343.19 50.84h0.9v0.9h-0.9zM358.51 46.02h0.9v0.9h-0.9zM347.54 57.63h0.9v0.9h-0.9zM337.01 53.33h0.9v0.9h-0.9zM342.43 59.76h0.9v0.9h-0.9zM329.86 68.03h0.9v0.9h-0.9zM334.76 56.51h0.9v0.9h-0.9zM350.53 62.08h0.9v0.9h-0.9zM343.91 41.05h0.9v0.9h-0.9zM353.11 50.63h0.9v0.9h-0.9zM326.84 78.71h0.9v0.9h-0.9zM326.31 70.04h0.9v0.9h-0.9zM370.08 48.45h0.9v0.9h-0.9zM331.44 59.76h0.9v0.9h-0.9zM338.6 64.72h0.9v0.9h-0.9zM350.41 56.88h0.9v0.9h-0.9zM343.23 59.77h0.9v0.9h-0.9zM362.82 57.07h0.9v0.9h-0.9zM337.97 77.74h0.9v0.9h-0.9zM343.04 64.04h0.9v0.9h-0.9zM348.11 69.69h0.9v0.9h-0.9zM356.84 39.38h0.9v0.9h-0.9zM358.34 52.91h0.9v0.9h-0.9zM336.16 64.28h0.9v0.9h-0.9zM354.52 51.66h0.9v0.9h-0.9zM345.3 73.92h0.9v0.9h-0.9zM350.1 54.21h0.9v0.9h-0.9zM362.63 59.82h0.9v0.9h-0.9zM365.79 70.7h0.9v0.9h-0.9zM333.06 65.73h0.9v0.9h-0.9zM345.83 69.05h0.9v0.9h-0.9zM332.09 46.92h0.9v0.9h-0.9zM349.59 78.6h0.9v0.9h-0.9zM343.21 63.01h0.9v0.9h-0.9zM342.81 63.18h0.9v0.9h-0.9zM350.07 69.03h0.9v0.9h-0.9zM326.84 74h0.9v0.9h-0.9zM353.57 49.78h0.9v0.9h-0.9zM371.78 66.93h0.9v0.9h-0.9zM349.14 59.51h0.9v0.9h-0.9zM361.45 65.23h0.9v0.9h-0.9zM359.12 64.89h0.9v0.9h-0.9zM346.81 66.65h0.9v0.9h-0.9zM356.56 69.52h0.9v0.9h-0.9zM346.01 74.52h0.9v0.9h-0.9zM345.77 66.16h0.9v0.9h-0.9zM337.47 49.96h0.9v0.9h-0.9zM354.47 61.24h0.9v0.9h-0.9zM346.56 59.46h0.9v0.9h-0.9zM341.3 51.19h0.9v0.9h-0.9zM349.19 66.93h0.9v0.9h-0.9zM363.86 67.61h0.9v0.9h-0.9zM342.47 58.14h0.9v0.9h-0.9zM334.96 57.75h0.9v0.9h-0.9zM352.84 54.15h0.9v0.9h-0.9zM329.84 54.52h0.9v0.9h-0.9zM328.46 54.82h0.9v0.9h-0.9zM347.51 60.3h0.9v0.9h-0.9zM344.31 64.7h0.9v0.9h-0.9zM364.14 64.65h0.9v0.9h-0.9zM336.9 53.88h0.9v0.9h-0.9zM351.33 42.55h0.9v0.9h-0.9zM363.68 71.46h0.9v0.9h-0.9zM328.64 55.84h0.9v0.9h-0.9zM342.99 74.26h0.9v0.9h-0.9zM362.59 66.13h0.9v0.9h-0.9zM338.63 57.19h0.9v0.9h-0.9zM359.38 75.22h0.9v0.9h-0.9zM338.51 48.9h0.9v0.9h-0.9zM333.33 72.34h0.9v0.9h-0.9zM353.58 68.13h0.9v0.9h-0.9zM359.96 68.76h0.9v0.9h-0.9zM328.42 68.8h0.9v0.9h-0.9zM339.27 52.21h0.9v0.9h-0.9zM369.84 68.12h0.9v0.9h-0.9zM339.06 34.61h0.9v0.9h-0.9zM362.78 59.5h0.9v0.9h-0.9zM349.21 67.3h0.9v0.9h-0.9zM325.03 62.15h0.9v0.9h-0.9zM345.76 68.66h0.9v0.9h-0.9zM350.25 58.05h0.9v0.9h-0.9zM328.34 70.84h0.9v0.9h-0.9zM339 48.4h0.9v0.9h-0.9zM361.97 70.87h0.9v0.9h-0.9zM348.2 72.59h0.9v0.9h-0.9zM371.18 57.14h0.9v0.9h-0.9zM349.24 64.81h0.9v0.9h-0.9zM337.48 68.76h0.9v0.9h-0.9zM345.35 52.84h0.9v0.9h-0.9zM360.31 49.59h0.9v0.9h-0.9zM359.34 61.38h0.9v0.9h-0.9zM336.22 68.34h0.9v0.9h-0.9zM333.28 55.24h0.9v0.9h-0.9zM353.62 61.53h0.9v0.9h-0.9zM356.76 60.46h0.9v0.9h-0.9zM346.29 57.93h0.9v0.9h-0.9zM328.07 57.64h0.9v0.9h-0.9zM342.78 38.5h0.9v0.9h-0.9zM339.91 67.71h0.9v0.9h-0.9zM349.18 53.28h0.9v0.9h-0.9zM335.38 54.3h0.9v0.9h-0.9zM335.93 58.35h0.9v0.9h-0.9zM345.89 71.02h0.9v0.9h-0.9zM367.02 42.41h0.9v0.9h-0.9zM335.23 62.13h0.9v0.9h-0.9zM340.1 72.21h0.9v0.9h-0.9zM339.16 53.98h0.9v0.9h-0.9zM362.12 67.64h0.9v0.9h-0.9zM330.21 67h0.9v0.9h-0.9zM335.83 70.9h0.9v0.9h-0.9zM334.59 65.8h0.9v0.9h-0.9zM325.67 63.27h0.9v0.9h-0.9zM352.88 73.15h0.9v0.9h-0.9zM356.11 50.09h0.9v0.9h-0.9zM343.65 64.5h0.9v0.9h-0.9zM329.72 71.5h0.9v0.9h-0.9zM353.84 58.11h0.9v0.9h-0.9zM342.42 55.52h0.9v0.9h-0.9zM368.15 74.19h0.9v0.9h-0.9zM329.22 60.37h0.9v0.9h-0.9zM368.51 57.69h0.9v0.9h-0.9zM365.95 54.49h0.9v0.9h-0.9zM364.93 73.04h0.9v0.9h-0.9zM340.61 51.47h0.9v0.9h-0.9zM345.18 75.04h0.9v0.9h-0.9zM331.38 65.65h0.9v0.9h-0.9zM343.8 63.33h0.9v0.9h-0.9zM361.78 61.96h0.9v0.9h-0.9zM359.09 79.02h0.9v0.9h-0.9zM360.62 55.15h0.9v0.9h-0.9zM362.49 52.6h0.9v0.9h-0.9zM363.87 57.54h0.9v0.9h-0.9zM368.53 43.97h0.9v0.9h-0.9zM360.84 70.77h0.9v0.9h-0.9zM355.99 80h0.9v0.9h-0.9zM338.06 54.51h0.9v0.9h-0.9zM349.64 54.99h0.9v0.9h-0.9zM350.57 55.93h0.9v0.9h-0.9zM345.2 59.92h0.9v0.9h-0.9zM330.93 52.87h0.9v0.9h-0.9zM332.63 78.49h0.9v0.9h-0.9zM344.77 52.28h0.9v0.9h-0.9zM344.48 74.8h0.9v0.9h-0.9zM354.84 64.48h0.9v0.9h-0.9zM351.18 60.67h0.9v0.9h-0.9zM343.93 45.47h0.9v0.9h-0.9zM366.15 59.36h0.9v0.9h-0.9zM330.6 43.19h0.9v0.9h-0.9zM358.16 71.32h0.9v0.9h-0.9zM347.17 61.26h0.9v0.9h-0.9zM337.61 69.01h0.9v0.9h-0.9zM354.6 71.62h0.9v0.9h-0.9zM338.11 66.96h0.9v0.9h-0.9zM352.75 77.31h0.9v0.9h-0.9zM345.41 51.73h0.9v0.9h-0.9zM332.18 61.37h0.9v0.9h-0.9zM355.92 45.84h0.9v0.9h-0.9zM362.01 54.55h0.9v0.9h-0.9zM333.03 63.58h0.9v0.9h-0.9zM366.83 40.82h0.9v0.9h-0.9zM364.08 60.79h0.9v0.9h-0.9zM356.77 71.21h0.9v0.9h-0.9zM348.45 32.89h0.9v0.9h-0.9zM355.14 69.32h0.9v0.9h-0.9zM341.67 63.44h0.9v0.9h-0.9zM357.73 62.65h0.9v0.9h-0.9zM335.34 54.03h0.9v0.9h-0.9zM341.72 76.1h0.9v0.9h-0.9zM328.58 64.27h0.9v0.9h-0.9zM354.69 46.25h0.9v0.9h-0.9zM338.37 33.24h0.9v0.9h-0.9zM366.24 63.26h0.9v0.9h-0.9zM325.53 71.77h0.9v0.9h-0.9zM362.33 74.4h0.9v0.9h-0.9zM333.99 56.71h0.9v0.9h-0.9zM363.65 49.94h0.9v0.9h-0.9zM362.39 51.03h0.9v0.9h-0.9zM357.85 72.29h0.9v0.9h-0.9zM345.37 81.11h0.9v0.9h-0.9zM351.25 52.71h0.9v0.9h-0.9zM353.65 58.51h0.9v0.9h-0.9zM348.24 60.21h0.9v0.9h-0.9zM325.21 70.67h0.9v0.9h-0.9zM360.42 63.12h0.9v0.9h-0.9zM340.25 35.12h0.9v0.9h-0.9zM343.19 68.53h0.9v0.9h-0.9zM325.96 52.11h0.9v0.9h-0.9zM328.23 63.69h0.9v0.9h-0.9zM334.81 71.65h0.9v0.9h-0.9zM351.97 63.65h0.9v0.9h-0.9zM344.89 61.93h0.9v0.9h-0.9zM324.57 48.9h0.9v0.9h-0.9zM360.97 56.33h0.9v0.9h-0.9zM346.95 68.67h0.9v0.9h-0.9zM364.68 61.43h0.9v0.9h-0.9zM347.01 57.18h0.9v0.9h-0.9zM340.27 61.42h0.9v0.9h-0.9zM324.09 69.86h0.9v0.9h-0.9zM368.22 53.76h0.9v0.9h-0.9zM357.63 54.42h0.9v0.9h-0.9zM340.95 74.95h0.9v0.9h-0.9zM333.27 57.3h0.9v0.9h-0.9zM331.7 68.7h0.9v0.9h-0.9zM341.42 46.4h0.9v0.9h-0.9zM357.23 69.04h0.9v0.9h-0.9zM332.53 71.38h0.9v0.9h-0.9zM336.24 62.81h0.9v0.9h-0.9zM340.6 37.26h0.9v0.9h-0.9zM369.51 56.51h0.9v0.9h-0.9zM349.24 64.11h0.9v0.9h-0.9zM344.38 78.64h0.9v0.9h-0.9zM343.1 58.49h0.9v0.9h-0.9zM333.63 64.8h0.9v0.9h-0.9zM324.46 72.37h0.9v0.9h-0.9zM367.85 61.36h0.9v0.9h-0.9zM344.48 63.15h0.9v0.9h-0.9zM368.17 69.85h0.9v0.9h-0.9zM352.53 49.29h0.9v0.9h-0.9zM328.71 64.22h0.9v0.9h-0.9zM359.93 48.54h0.9v0.9h-0.9zM359.18 75.97h0.9v0.9h-0.9zM336.05 48.2h0.9v0.9h-0.9zM344.02 66.9h0.9v0.9h-0.9zM328.42 47.74h0.9v0.9h-0.9zM358.06 53.96h0.9v0.9h-0.9zM346.67 62.89h0.9v0.9h-0.9zM345.94 53.5h0.9v0.9h-0.9zM356.37 70.03h0.9v0.9h-0.9zM365.1 40.4h0.9v0.9h-0.9zM326.91 76.44h0.9v0.9h-0.9zM327.4 64.99h0.9v0.9h-0.9zM356.84 66.68h0.9v0.9h-0.9zM348.26 63.28h0.9v0.9h-0.9zM343.58 62.49h0.9v0.9h-0.9zM363.93 54.36h0.9v0.9h-0.9zM338.43 67.55h0.9v0.9h-0.9zM349.51 73.19h0.9v0.9h-0.9zM348.78 64.94h0.9v0.9h-0.9zM356.14 65.37h0.9v0.9h-0.9zM344.78 55.14h0.9v0.9h-0.9zM356.01 69.47h0.9v0.9h-0.9zM351.8 74.03h0.9v0.9h-0.9zM331.9 63.73h0.9v0.9h-0.9zM335 60.04h0.9v0.9h-0.9zM336.36 39.28h0.9v0.9h-0.9zM330.27 54.32h0.9v0.9h-0.9zM362.11 52.82h0.9v0.9h-0.9zM348.92 69.52h0.9v0.9h-0.9zM333.07 75.04h0.9v0.9h-0.9zM365.76 57.16h0.9v0.9h-0.9zM339.69 77.02h0.9v0.9h-0.9zM340.96 73.87h0.9v0.9h-0.9zM327.44 71.97h0.9v0.9h-0.9zM333.19 53.05h0.9v0.9h-0.9zM335.94 46.12h0.9v0.9h-0.9zM338.62 64.14h0.9v0.9h-0.9zM344.8 67.92h0.9v0.9h-0.9zM345.01 45.62h0.9v0.9h-0.9zM358.58 58.37h0.9v0.9h-0.9zM342.39 74.02h0.9v0.9h-0.9zM331.19 50.69h0.9v0.9h-0.9zM328.43 62.88h0.9v0.9h-0.9zM361.34 69.93h0.9v0.9h-0.9zM348.84 68.35h0.9v0.9h-0.9zM335.15 61.37h0.9v0.9h-0.9zM334.45 51.74h0.9v0.9h-0.9zM326.18 41.61h0.9v0.9h-0.9zM336.11 53.99h0.9v0.9h-0.9zM346.38 76.5h0.9v0.9h-0.9zM324.79 70.96h0.9v0.9h-0.9zM352.98 59.88h0.9v0.9h-0.9zM363.66 58.56h0.9v0.9h-0.9zM361.43 56.75h0.9v0.9h-0.9zM352.6 73.43h0.9v0.9h-0.9zM335.84 70.37h0.9v0.9h-0.9zM368.84 55.33h0.9v0.9h-0.9zM364.67 63.18h0.9v0.9h-0.9zM346.02 43.77h0.9v0.9h-0.9zM368.15 66.18h0.9v0.9h-0.9zM352.83 69.83h0.9v0.9h-0.9zM337.5 71.67h0.9v0.9h-0.9zM333.76 58.58h0.9v0.9h-0.9zM352.13 58.41h0.9v0.9h-0.9zM357.64 44.26h0.9v0.9h-0.9zM362 49.47h0.9v0.9h-0.9zM341.4 52.44h0.9v0.9h-0.9zM330 65.38h0.9v0.9h-0.9zM362.78 66h0.9v0.9h-0.9zM333.88 61.75h0.9v0.9h-0.9zM358.86 53.11h0.9v0.9h-0.9zM328.17 62.33h0.9v0.9h-0.9zM332.21 46.75h0.9v0.9h-0.9zM352.95 54.77h0.9v0.9h-0.9zM363.66 58.11h0.9v0.9h-0.9zM342.32 69.21h0.9v0.9h-0.9zM366.22 56.46h0.9v0.9h-0.9zM343.99 70.27h0.9v0.9h-0.9zM362.01 61.93h0.9v0.9h-0.9zM356.85 66.75h0.9v0.9h-0.9zM352.67 75.61h0.9v0.9h-0.9zM335.03 61.02h0.9v0.9h-0.9zM346.85 34.41h0.9v0.9h-0.9zM347.38 65.79h0.9v0.9h-0.9zM327.64 73.72h0.9v0.9h-0.9zM333.02 73.27h0.9v0.9h-0.9zM355.71 58.12h0.9v0.9h-0.9zM334.87 68.41h0.9v0.9h-0.9zM352.84 69.66h0.9v0.9h-0.9zM345.61 73.32h0.9v0.9h-0.9zM367.09 58.76h0.9v0.9h-0.9zM329.42 61.96h0.9v0.9h-0.9zM358.13 76.02h0.9v0.9h-0.9zM369.53 57.75h0.9v0.9h-0.9zM349.48 71.63h0.9v0.9h-0.9zM346.33 69.59h0.9v0.9h-0.9zM348.94 50.71h0.9v0.9h-0.9zM344.09 60.47h0.9v0.9h-0.9zM344.84 71.63h0.9v0.9h-0.9zM346.61 79.55h0.9v0.9h-0.9zM351.2 70.61h0.9v0.9h-0.9zM364.62 74.54h0.9v0.9h-0.9zM347.98 49.95h0.9v0.9h-0.9zM328.9 77.68h0.9v0.9h-0.9zM346.92 63.18h0.9v0.9h-0.9zM351.75 72.34h0.9v0.9h-0.9zM357.99 76.15h0.9v0.9h-0.9zM338.48 56.77h0.9v0.9h-0.9zM343.85 70.29h0.9v0.9h-0.9zM358.81 50.53h0.9v0.9h-0.9zM331.06 73.68h0.9v0.9h-0.9zM370.11 55.38h0.9v0.9h-0.9zM350.69 70.79h0.9v0.9h-0.9zM332.15 67.79h0.9v0.9h-0.9zM346.01 57.29h0.9v0.9h-0.9zM356.28 46.09h0.9v0.9h-0.9zM340.63 56.33h0.9v0.9h-0.9zM356.92 49.17h0.9v0.9h-0.9zM339.74 52.69h0.9v0.9h-0.9zM359.54 67.11h0.9v0.9h-0.9zM345.95 69.11h0.9v0.9h-0.9zM361.52 59.12h0.9v0.9h-0.9zM371.76 48.74h0.9v0.9h-0.9zM370.22 80.93h0.9v0.9h-0.9zM351.48 53.25h0.9v0.9h-0.9zM338.97 56.31h0.9v0.9h-0.9zM338.15 56.67h0.9v0.9h-0.9zM353.56 68.51h0.9v0.9h-0.9zM354.41 46.71h0.9v0.9h-0.9zM334.68 58.23h0.9v0.9h-0.9zM336.91 32.23h0.9v0.9h-0.9zM329.8 65.23h0.9v0.9h-0.9zM325.18 51.84h0.9v0.9h-0.9zM337.31 45.18h0.9v0.9h-0.9zM351.41 57.88h0.9v0.9h-0.9zM354.76 59.96h0.9v0.9h-0.9zM370.7 73.7h0.9v0.9h-0.9zM331.15 61.73h0.9v0.9h-0.9zM365.13 76.64h0.9v0.9h-0.9zM337.3 60.55h0.9v0.9h-0.9zM350.48 64.89h0.9v0.9h-0.9zM356.94 79.56h0.9v0.9h-0.9zM355.62 67.21h0.9v0.9h-0.9zM352.32 70.77h0.9v0.9h-0.9zM347.33 66.92h0.9v0.9h-0.9zM354.81 62.21h0.9v0.9h-0.9zM335.4 52.93h0.9v0.9h-0.9zM345.01 71.98h0.9v0.9h-0.9zM343.16 64.76h0.9v0.9h-0.9zM344.65 64.69h0.9v0.9h-0.9zM342.29 63.56h0.9v0.9h-0.9zM348.61 67.15h0.9v0.9h-0.9zM334.8 61.81h0.9v0.9h-0.9zM360.25 58.28h0.9v0.9h-0.9zM348.61 75.54h0.9v0.9h-0.9zM356.22 49.94h0.9v0.9h-0.9zM337.33 76.17h0.9v0.9h-0.9zM366.63 60.33h0.9v0.9h-0.9zM354.95 47.26h0.9v0.9h-0.9zM334.46 57.92h0.9v0.9h-0.9zM331.09 55.88h0.9v0.9h-0.9zM333.43 71.58h0.9v0.9h-0.9zM343.25 50.6h0.9v0.9h-0.9zM346.89 60.87h0.9v0.9h-0.9zM360.47 51.38h0.9v0.9h-0.9zM332.61 69.16h0.9v0.9h-0.9zM361.55 39.37h0.9v0.9h-0.9zM348.59 62.13h0.9v0.9h-0.9zM356.67 72.23h0.9v0.9h-0.9zM345.16 56.21h0.9v0.9h-0.9zM349.51 63.6h0.9v0.9h-0.9zM334.73 70.33h0.9v0.9h-0.9zM344.64 48.2h0.9v0.9h-0.9zM351.34 48.22h0.9v0.9h-0.9zM346.92 70.48h0.9v0.9h-0.9zM337.45 58.65h0.9v0.9h-0.9zM332.82 51.29h0.9v0.9h-0.9zM345.74 49.66h0.9v0.9h-0.9zM343.78 55.12h0.9v0.9h-0.9zM367.61 59.28h0.9v0.9h-0.9zM355.12 68.09h0.9v0.9h-0.9zM349.83 54.78h0.9v0.9h-0.9zM358.55 64.46h0.9v0.9h-0.9zM330.35 57.13h0.9v0.9h-0.9zM352.43 53.1h0.9v0.9h-0.9zM347.35 41.57h0.9v0.9h-0.9zM342.47 56.95h0.9v0.9h-0.9zM337.61 45.81h0.9v0.9h-0.9zM366.47 66.51h0.9v0.9h-0.9zM342.84 52.23h0.9v0.9h-0.9zM357.47 46h0.9v0.9h-0.9zM346.84 63.87h0.9v0.9h-0.9zM348.24 49.67h0.9v0.9h-0.9zM336.23 59.13h0.9v0.9h-0.9zM340.01 60.26h0.9v0.9h-0.9zM328.85 72.22h0.9v0.9h-0.9zM359.57 39.01h0.9v0.9h-0.9zM372.08 70.5h0.9v0.9h-0.9zM345.03 66.69h0.9v0.9h-0.9zM327.9 50.12h0.9v0.9h-0.9zM360.42 66.75h0.9v0.9h-0.9zM338.3 64.93h0.9v0.9h-0.9zM371.24 54.67h0.9v0.9h-0.9zM346.69 54.81h0.9v0.9h-0.9zM338.01 52.7h0.9v0.9h-0.9zM367.27 60.57h0.9v0.9h-0.9zM340.62 47.95h0.9v0.9h-0.9zM346.34 65.51h0.9v0.9h-0.9zM333.32 56.65h0.9v0.9h-0.9zM345.18 68.94h0.9v0.9h-0.9zM336.4 59.66h0.9v0.9h-0.9zM371.03 48.92h0.9v0.9h-0.9zM351.3 50.74h0.9v0.9h-0.9zM344.52 59.75h0.9v0.9h-0.9zM352.66 51.89h0.9v0.9h-0.9zM340.87 64.97h0.9v0.9h-0.9zM369.45 52.86h0.9v0.9h-0.9zM340.57 55.51h0.9v0.9h-0.9zM360.23 61.57h0.9v0.9h-0.9zM347.51 41.69h0.9v0.9h-0.9zM355.94 51.73h0.9v0.9h-0.9zM350.78 52.91h0.9v0.9h-0.9zM359.25 62.5h0.9v0.9h-0.9zM353.36 67.18h0.9v0.9h-0.9zM342.84 71.98h0.9v0.9h-0.9zM351.31 72.87h0.9v0.9h-0.9zM327.71 66.19h0.9v0.9h-0.9zM345.87 57.41h0.9v0.9h-0.9zM343.21 70.22h0.9v0.9h-0.9zM343.89 63.65h0.9v0.9h-0.9zM358.76 47.45h0.9v0.9h-0.9zM342.02 67.2h0.9v0.9h-0.9zM354.07 63.15h0.9v0.9h-0.9zM357.72 36.07h0.9v0.9h-0.9zM357.62 37.07h0.9v0.9h-0.9zM358.45 35.08h0.9v0.9h-0.9zM346.83 48.81h0.9v0.9h-0.9zM350.37 59.44h0.9v0.9h-0.9zM357.16 65.84h0.9v0.9h-0.9zM357.75 59.99h0.9v0.9h-0.9zM354.69 65.09h0.9v0.9h-0.9zM339.82 72.42h0.9v0.9h-0.9zM343.98 71.06h0.9v0.9h-0.9zM357.35 70.87h0.9v0.9h-0.9zM336.21 59.31h0.9v0.9h-0.9zM363.99 60.49h0.9v0.9h-0.9zM349.48 35.04h0.9v0.9h-0.9zM344.46 41.66h0.9v0.9h-0.9zM338.4 53.86h0.9v0.9h-0.9zM328.64 55.99h0.9v0.9h-0.9zM351.85 77.4h0.9v0.9h-0.9zM344.19 62.25h0.9v0.9h-0.9zM338.25 67.37h0.9v0.9h-0.9zM327.09 49.05h0.9v0.9h-0.9zM342.26 68.7h0.9v0.9h-0.9zM341.79 55.44h0.9v0.9h-0.9zM334.97 65.35h0.9v0.9h-0.9zM364.67 63.86h0.9v0.9h-0.9zM371.79 61.49h0.9v0.9h-0.9zM331.4 47.61h0.9v0.9h-0.9zM339.06 60.86h0.9v0.9h-0.9zM349.52 51.77h0.9v0.9h-0.9zM362.89 56.6h0.9v0.9h-0.9zM360.09 68.66h0.9v0.9h-0.9zM343.81 62.98h0.9v0.9h-0.9zM360.44 63.69h0.9v0.9h-0.9zM368.2 80.22h0.9v0.9h-0.9zM342.28 76.5h0.9v0.9h-0.9zM329.65 74.99h0.9v0.9h-0.9zM348.87 62.7h0.9v0.9h-0.9zM359.57 67.04h0.9v0.9h-0.9zM340.11 70.6h0.9v0.9h-0.9zM371.38 67.39h0.9v0.9h-0.9zM354.04 73.14h0.9v0.9h-0.9zM328.73 48.88h0.9v0.9h-0.9zM333.94 53.17h0.9v0.9h-0.9zM346.51 47.85h0.9v0.9h-0.9zM350.14 54.6h0.9v0.9h-0.9zM342.36 68.47h0.9v0.9h-0.9zM337.85 66.42h0.9v0.9h-0.9zM356.77 62.45h0.9v0.9h-0.9zM346.83 60.85h0.9v0.9h-0.9zM346.08 75.69h0.9v0.9h-0.9zM335.65 80.18h0.9v0.9h-0.9zM333.44 58.77h0.9v0.9h-0.9zM327.29 61.01h0.9v0.9h-0.9zM363.93 71.19h0.9v0.9h-0.9zM346.34 47.35h0.9v0.9h-0.9zM339.68 68.47h0.9v0.9h-0.9zM327.8 53.48h0.9v0.9h-0.9zM340.53 47.25h0.9v0.9h-0.9zM334.53 71.05h0.9v0.9h-0.9zM329.6 58.52h0.9v0.9h-0.9zM352.44 46.55h0.9v0.9h-0.9zM345.98 50.68h0.9v0.9h-0.9zM346.58 57.29h0.9v0.9h-0.9zM342.4 53.46h0.9v0.9h-0.9zM335.96 50.37h0.9v0.9h-0.9zM353.05 77.02h0.9v0.9h-0.9zM343.81 71.76h0.9v0.9h-0.9zM349.99 79.83h0.9v0.9h-0.9zM350.87 57.23h0.9v0.9h-0.9zM326.5 60.2h0.9v0.9h-0.9zM363.66 53.57h0.9v0.9h-0.9zM344.87 73.41h0.9v0.9h-0.9zM328.57 56.1h0.9v0.9h-0.9zM344.41 71.5h0.9v0.9h-0.9zM357.05 76.72h0.9v0.9h-0.9zM348.26 52.13h0.9v0.9h-0.9zM353.75 58.07h0.9v0.9h-0.9zM355.52 50.81h0.9v0.9h-0.9zM351.08 68.36h0.9v0.9h-0.9zM348.18 77.83h0.9v0.9h-0.9zM372.19 53.19h0.9v0.9h-0.9zM330.98 66.6h0.9v0.9h-0.9zM352.71 64.39h0.9v0.9h-0.9zM357.32 64.39h0.9v0.9h-0.9zM334.77 65.57h0.9v0.9h-0.9zM342.03 70.08h0.9v0.9h-0.9zM328.43 71.34h0.9v0.9h-0.9zM347.71 66.98h0.9v0.9h-0.9zM342.68 65.01h0.9v0.9h-0.9zM342.36 56.98h0.9v0.9h-0.9zM360.02 66.33h0.9v0.9h-0.9zM336.93 61.33h0.9v0.9h-0.9zM352.06 58.3h0.9v0.9h-0.9zM367.3 71.86h0.9v0.9h-0.9zM356.93 61.1h0.9v0.9h-0.9zM343.48 48.93h0.9v0.9h-0.9zM332.31 68.82h0.9v0.9h-0.9zM358.58 46.55h0.9v0.9h-0.9zM333.52 55.03h0.9v0.9h-0.9zM355.87 57.43h0.9v0.9h-0.9zM353.2 59.37h0.9v0.9h-0.9zM340.99 70.57h0.9v0.9h-0.9zM350.78 73.75h0.9v0.9h-0.9zM347.16 73.07h0.9v0.9h-0.9zM363.75 68.73h0.9v0.9h-0.9zM358.75 57.99h0.9v0.9h-0.9zM357.33 52.63h0.9v0.9h-0.9zM356.52 54.93h0.9v0.9h-0.9zM341.47 66.52h0.9v0.9h-0.9zM334.26 63.74h0.9v0.9h-0.9zM333.53 46.72h0.9v0.9h-0.9zM356.14 72.11h0.9v0.9h-0.9zM358.58 52.64h0.9v0.9h-0.9zM349.34 60.38h0.9v0.9h-0.9zM347.09 53.39h0.9v0.9h-0.9zM334.32 49.34h0.9v0.9h-0.9zM341.6 75.42h0.9v0.9h-0.9zM351.12 72.55h0.9v0.9h-0.9zM337.82 54.26h0.9v0.9h-0.9zM339.61 62.77h0.9v0.9h-0.9zM351.77 59.79h0.9v0.9h-0.9zM334.04 71.56h0.9v0.9h-0.9zM356.59 67.13h0.9v0.9h-0.9zM340.24 70.05h0.9v0.9h-0.9zM334.48 60.74h0.9v0.9h-0.9zM366.11 65.69h0.9v0.9h-0.9zM338.75 54.51h0.9v0.9h-0.9zM354.63 42.64h0.9v0.9h-0.9zM363.18 48.69h0.9v0.9h-0.9zM333.22 46.34h0.9v0.9h-0.9zM358.79 73.79h0.9v0.9h-0.9zM343.59 74.63h0.9v0.9h-0.9zM350.5 42.8h0.9v0.9h-0.9zM360.31 64.43h0.9v0.9h-0.9zM371.14 63.2h0.9v0.9h-0.9zM328.6 78.38h0.9v0.9h-0.9zM329.49 78.78h0.9v0.9h-0.9zM343.67 66.99h0.9v0.9h-0.9zM349.5 64.29h0.9v0.9h-0.9zM359.22 57.21h0.9v0.9h-0.9zM325.52 44.71h0.9v0.9h-0.9zM359.54 63.12h0.9v0.9h-0.9zM340.39 53.85h0.9v0.9h-0.9zM356.98 47.49h0.9v0.9h-0.9zM341.41 49.73h0.9v0.9h-0.9zM332.25 63.31h0.9v0.9h-0.9zM331.71 71.45h0.9v0.9h-0.9zM346.07 63.77h0.9v0.9h-0.9zM350.95 57.66h0.9v0.9h-0.9zM358.87 64.61h0.9v0.9h-0.9zM338.36 77.98h0.9v0.9h-0.9zM369.06 71.07h0.9v0.9h-0.9zM353.06 72.28h0.9v0.9h-0.9zM337.27 70.25h0.9v0.9h-0.9zM341.48 53.37h0.9v0.9h-0.9zM338.2 52h0.9v0.9h-0.9zM344.86 57.65h0.9v0.9h-0.9zM324.77 66.18h0.9v0.9h-0.9zM332.7 70.91h0.9v0.9h-0.9zM362.24 38.54h0.9v0.9h-0.9zM354.6 54.98h0.9v0.9h-0.9zM346.26 66.71h0.9v0.9h-0.9zM369.42 69.59h0.9v0.9h-0.9zM345.84 58.94h0.9v0.9h-0.9zM355.25 73.1h0.9v0.9h-0.9zM348.24 71.71h0.9v0.9h-0.9zM364.99 57.91h0.9v0.9h-0.9zM369.05 62.95h0.9v0.9h-0.9zM358.48 69.93h0.9v0.9h-0.9zM335.69 65.21h0.9v0.9h-0.9zM350.66 70.73h0.9v0.9h-0.9zM351.96 52.77h0.9v0.9h-0.9zM351.33 57.02h0.9v0.9h-0.9zM348.41 53.76h0.9v0.9h-0.9zM364.87 77.8h0.9v0.9h-0.9zM352.45 45.68h0.9v0.9h-0.9zM345.72 64.56h0.9v0.9h-0.9zM350.78 53.28h0.9v0.9h-0.9zM340.82 72.3h0.9v0.9h-0.9zM354.18 70.5h0.9v0.9h-0.9zM329.19 48.33h0.9v0.9h-0.9zM338.72 50.48h0.9v0.9h-0.9zM329.34 52.71h0.9v0.9h-0.9zM340.59 56.66h0.9v0.9h-0.9zM372.3 70.69h0.9v0.9h-0.9zM353.62 47.37h0.9v0.9h-0.9zM368.93 61.87h0.9v0.9h-0.9zM336.19 53.85h0.9v0.9h-0.9zM348.22 69.33h0.9v0.9h-0.9zM339.53 57.78h0.9v0.9h-0.9zM352.05 80.5h0.9v0.9h-0.9zM324.17 69.22h0.9v0.9h-0.9zM326.32 50.34h0.9v0.9h-0.9zM338.82 52.51h0.9v0.9h-0.9zM344.48 55.92h0.9v0.9h-0.9zM360.16 74.38h0.9v0.9h-0.9zM352.39 67.35h0.9v0.9h-0.9zM344.36 76.35h0.9v0.9h-0.9zM354.2 80.73h0.9v0.9h-0.9zM330.82 63.23h0.9v0.9h-0.9zM352.51 44.2h0.9v0.9h-0.9zM362.07 75.15h0.9v0.9h-0.9zM355.74 39.12h0.9v0.9h-0.9zM342.5 67.13h0.9v0.9h-0.9zM352.6 73.53h0.9v0.9h-0.9zM346.35 65.28h0.9v0.9h-0.9zM363.98 56.4h0.9v0.9h-0.9zM354.16 55.81h0.9v0.9h-0.9zM358.07 63.89h0.9v0.9h-0.9zM366.77 66.64h0.9v0.9h-0.9zM343.41 73.75h0.9v0.9h-0.9zM343.02 49.75h0.9v0.9h-0.9zM340.39 74.45h0.9v0.9h-0.9zM341.58 72.9h0.9v0.9h-0.9zM338.28 54.33h0.9v0.9h-0.9zM342.79 53.21h0.9v0.9h-0.9zM361.69 69.67h0.9v0.9h-0.9zM335.42 75.37h0.9v0.9h-0.9zM354.6 53.6h0.9v0.9h-0.9zM356.58 62.77h0.9v0.9h-0.9zM356.47 67.22h0.9v0.9h-0.9zM354.9 67.46h0.9v0.9h-0.9zM324.23 63.69h0.9v0.9h-0.9zM344.85 55.19h0.9v0.9h-0.9zM354.12 52.06h0.9v0.9h-0.9zM362.17 61.5h0.9v0.9h-0.9zM350.37 59.09h0.9v0.9h-0.9zM334.04 53.47h0.9v0.9h-0.9zM361.79 40.91h0.9v0.9h-0.9zM366.41 70.25h0.9v0.9h-0.9zM348.55 61.25h0.9v0.9h-0.9zM335.91 67.16h0.9v0.9h-0.9zM331.63 67.09h0.9v0.9h-0.9zM361.37 53.11h0.9v0.9h-0.9zM360.67 36.6h0.9v0.9h-0.9zM366.13 63.02h0.9v0.9h-0.9zM338.2 67.96h0.9v0.9h-0.9zM328.42 50.16h0.9v0.9h-0.9zM341.04 49.85h0.9v0.9h-0.9zM351.03 35.49h0.9v0.9h-0.9zM356.77 39.93h0.9v0.9h-0.9zM351.03 42.99h0.9v0.9h-0.9zM352.78 63.59h0.9v0.9h-0.9zM360.38 76.2h0.9v0.9h-0.9zM349.28 77.61h0.9v0.9h-0.9zM360.76 65.65h0.9v0.9h-0.9zM337 75.69h0.9v0.9h-0.9zM366.21 69.55h0.9v0.9h-0.9zM352.56 70.63h0.9v0.9h-0.9zM326.69 66.64h0.9v0.9h-0.9zM358.01 79.33h0.9v0.9h-0.9zM338.52 65.44h0.9v0.9h-0.9zM361.78 55.56h0.9v0.9h-0.9zM351.24 79.75h0.9v0.9h-0.9zM360.44 54.5h0.9v0.9h-0.9zM329.49 68.05h0.9v0.9h-0.9zM350.19 59.75h0.9v0.9h-0.9zM363.18 50.12h0.9v0.9h-0.9zM340.12 64.58h0.9v0.9h-0.9zM362.83 49.04h0.9v0.9h-0.9zM338.41 56.79h0.9v0.9h-0.9zM371.16 56.44h0.9v0.9h-0.9zM368.24 76.58h0.9v0.9h-0.9zM342.07 48.49h0.9v0.9h-0.9zM356.72 52.71h0.9v0.9h-0.9zM348.46 69.94h0.9v0.9h-0.9zM346.2 59.97h0.9v0.9h-0.9zM345.68 63.94h0.9v0.9h-0.9zM370.53 60.28h0.9v0.9h-0.9zM345.55 52.58h0.9v0.9h-0.9zM338.75 63.56h0.9v0.9h-0.9zM365.76 63.53h0.9v0.9h-0.9zM350.99 57.28h0.9v0.9h-0.9zM329.05 40.58h0.9v0.9h-0.9zM332.82 50.36h0.9v0.9h-0.9zM348.17 54.53h0.9v0.9h-0.9zM357.41 46.54h0.9v0.9h-0.9zM325.46 73.69h0.9v0.9h-0.9zM329.71 70.33h0.9v0.9h-0.9zM332.39 57.08h0.9v0.9h-0.9zM345.07 67.3h0.9v0.9h-0.9zM367.07 74.06h0.9v0.9h-0.9zM360.4 62.85h0.9v0.9h-0.9zM334.57 70.97h0.9v0.9h-0.9zM327.18 49.68h0.9v0.9h-0.9zM350.01 42.15h0.9v0.9h-0.9zM324.62 57.81h0.9v0.9h-0.9zM357.87 55.52h0.9v0.9h-0.9zM369.71 48.74h0.9v0.9h-0.9zM367.6 50.62h0.9v0.9h-0.9zM340.95 55.51h0.9v0.9h-0.9zM363.95 58.06h0.9v0.9h-0.9zM343.65 60.27h0.9v0.9h-0.9zM339.86 80.12h0.9v0.9h-0.9zM340.92 76.29h0.9v0.9h-0.9zM359.56 57.73h0.9v0.9h-0.9zM343.32 66.38h0.9v0.9h-0.9zM348.43 46.65h0.9v0.9h-0.9zM337.12 47.9h0.9v0.9h-0.9zM371.95 43.04h0.9v0.9h-0.9zM367.75 54.26h0.9v0.9h-0.9zM335.99 48.64h0.9v0.9h-0.9zM366.37 78.14h0.9v0.9h-0.9zM353.54 62.02h0.9v0.9h-0.9zM362.89 78h0.9v0.9h-0.9zM350.07 59.31h0.9v0.9h-0.9zM361.9 79.87h0.9v0.9h-0.9zM336.29 66.84h0.9v0.9h-0.9zM331.13 61.22h0.9v0.9h-0.9zM349.73 73.08h0.9v0.9h-0.9zM350.27 70.97h0.9v0.9h-0.9zM346.58 57.05h0.9v0.9h-0.9zM359.44 67.4h0.9v0.9h-0.9zM325.03 74.28h0.9v0.9h-0.9zM329.47 39.21h0.9v0.9h-0.9zM337.27 64.1h0.9v0.9h-0.9zM359.98 70.32h0.9v0.9h-0.9zM360.17 61.72h0.9v0.9h-0.9zM335.36 49.34h0.9v0.9h-0.9zM343.3 67.17h0.9v0.9h-0.9zM362.23 73.16h0.9v0.9h-0.9zM360.21 68.1h0.9v0.9h-0.9zM351.21 54.32h0.9v0.9h-0.9zM331.72 72.19h0.9v0.9h-0.9zM342.12 69.27h0.9v0.9h-0.9zM343.2 71.78h0.9v0.9h-0.9zM339.02 67.85h0.9v0.9h-0.9zM350.8 58.99h0.9v0.9h-0.9zM353.04 68.9h0.9v0.9h-0.9zM332.36 58.45h0.9v0.9h-0.9zM352.76 56.77h0.9v0.9h-0.9zM330.78 59.38h0.9v0.9h-0.9zM335.59 55.18h0.9v0.9h-0.9zM326.47 49.91h0.9v0.9h-0.9zM361.37 60.81h0.9v0.9h-0.9zM361.1 49.47h0.9v0.9h-0.9zM334.18 66.59h0.9v0.9h-0.9zM337.14 68.91h0.9v0.9h-0.9zM329.53 49.37h0.9v0.9h-0.9zM324.22 45.3h0.9v0.9h-0.9zM352.05 51.15h0.9v0.9h-0.9zM348.68 44.6h0.9v0.9h-0.9zM354.2 55.15h0.9v0.9h-0.9zM346.79 59.01h0.9v0.9h-0.9zM343.33 74.86h0.9v0.9h-0.9zM359.83 46.82h0.9v0.9h-0.9zM344.5 71.07h0.9v0.9h-0.9zM347.5 71.63h0.9v0.9h-0.9zM358.13 70.22h0.9v0.9h-0.9zM363.75 78.43h0.9v0.9h-0.9zM346.17 67.49h0.9v0.9h-0.9zM349.67 63.16h0.9v0.9h-0.9zM362.94 53.4h0.9v0.9h-0.9zM328.54 50.56h0.9v0.9h-0.9zM338.7 65.21h0.9v0.9h-0.9zM332.46 61.6h0.9v0.9h-0.9zM348.81 62.19h0.9v0.9h-0.9zM372.79 73.27h0.9v0.9h-0.9zM330.17 64.69h0.9v0.9h-0.9zM335.3 62h0.9v0.9h-0.9zM327.63 79.81h0.9v0.9h-0.9zM335.2 71.07h0.9v0.9h-0.9zM355.3 60.38h0.9v0.9h-0.9zM341.82 53.08h0.9v0.9h-0.9zM354.94 52.93h0.9v0.9h-0.9zM341.37 66.8h0.9v0.9h-0.9zM355.78 62.37h0.9v0.9h-0.9zM351.15 55.14h0.9v0.9h-0.9zM331.78 65.89h0.9v0.9h-0.9zM343.84 73.97h0.9v0.9h-0.9zM332.95 52.96h0.9v0.9h-0.9zM329.46 65.09h0.9v0.9h-0.9zM337.33 52.66h0.9v0.9h-0.9zM334.71 48.39h0.9v0.9h-0.9zM342.19 68.45h0.9v0.9h-0.9zM341.54 54.57h0.9v0.9h-0.9zM343.06 66.65h0.9v0.9h-0.9zM340.38 57.53h0.9v0.9h-0.9zM351.04 63.59h0.9v0.9h-0.9zM324.99 60.04h0.9v0.9h-0.9zM345.69 66.46h0.9v0.9h-0.9zM333.11 45.42h0.9v0.9h-0.9zM334.09 64.02h0.9v0.9h-0.9zM328.83 53.65h0.9v0.9h-0.9zM361.56 60.18h0.9v0.9h-0.9zM344.03 45.04h0.9v0.9h-0.9zM349.74 52.57h0.9v0.9h-0.9zM352.67 44.29h0.9v0.9h-0.9zM346.32 60.7h0.9v0.9h-0.9zM345.63 66.07h0.9v0.9h-0.9zM345.87 71.53h0.9v0.9h-0.9zM325.83 61.78h0.9v0.9h-0.9zM357.78 60.43h0.9v0.9h-0.9zM331.47 46.32h0.9v0.9h-0.9zM358.06 65.26h0.9v0.9h-0.9zM368.34 69.16h0.9v0.9h-0.9zM364.06 60.18h0.9v0.9h-0.9zM325.71 65.69h0.9v0.9h-0.9zM329.36 57.63h0.9v0.9h-0.9zM369.67 58.01h0.9v0.9h-0.9zM343.29 77.25h0.9v0.9h-0.9zM344.18 52.83h0.9v0.9h-0.9zM357.15 64.68h0.9v0.9h-0.9zM362.95 58.16h0.9v0.9h-0.9zM337.17 47.21h0.9v0.9h-0.9zM339.59 65.09h0.9v0.9h-0.9zM343.51 55.59h0.9v0.9h-0.9zM340.76 62.34h0.9v0.9h-0.9zM336.49 45.72h0.9v0.9h-0.9zM352.83 59.57h0.9v0.9h-0.9zM350.39 64.67h0.9v0.9h-0.9zM342.94 75.4h0.9v0.9h-0.9zM351.61 59.62h0.9v0.9h-0.9zM336.83 58.16h0.9v0.9h-0.9zM334.36 62.63h0.9v0.9h-0.9zM327.44 61.76h0.9v0.9h-0.9zM346.49 40.56h0.9v0.9h-0.9zM329.67 73.37h0.9v0.9h-0.9zM372.41 62.49h0.9v0.9h-0.9zM330.77 65.89h0.9v0.9h-0.9zM328.51 60.05h0.9v0.9h-0.9zM352.04 58.3h0.9v0.9h-0.9zM350.32 77.1h0.9v0.9h-0.9zM339.48 55.73h0.9v0.9h-0.9zM358.17 76.24h0.9v0.9h-0.9zM352.62 54.7h0.9v0.9h-0.9zM356.51 41.54h0.9v0.9h-0.9zM343.99 46.4h0.9v0.9h-0.9zM345.58 56.64h0.9v0.9h-0.9zM327.11 49.71h0.9v0.9h-0.9zM342.01 57.96h0.9v0.9h-0.9zM359.13 51.55h0.9v0.9h-0.9zM370.23 55.33h0.9v0.9h-0.9zM356.52 67.38h0.9v0.9h-0.9zM354.63 76.76h0.9v0.9h-0.9zM357.54 62.3h0.9v0.9h-0.9zM334.68 50.87h0.9v0.9h-0.9zM355.97 43.81h0.9v0.9h-0.9zM353.9 57.84h0.9v0.9h-0.9zM350.84 42.49h0.9v0.9h-0.9zM332.51 60.15h0.9v0.9h-0.9zM359.63 51.91h0.9v0.9h-0.9zM353.3 72.77h0.9v0.9h-0.9zM358.18 55.39h0.9v0.9h-0.9zM351.55 57.43h0.9v0.9h-0.9zM367.55 54.93h0.9v0.9h-0.9zM341.83 60.27h0.9v0.9h-0.9zM346.38 67.82h0.9v0.9h-0.9zM345.51 61.27h0.9v0.9h-0.9zM332.14 59.09h0.9v0.9h-0.9zM327.31 52.16h0.9v0.9h-0.9zM351.53 55.38h0.9v0.9h-0.9zM338.52 44.97h0.9v0.9h-0.9zM346.68 77.98h0.9v0.9h-0.9zM340.62 54.77h0.9v0.9h-0.9zM348.25 65.86h0.9v0.9h-0.9zM364.6 77.69h0.9v0.9h-0.9zM335.37 63.4h0.9v0.9h-0.9zM336.52 72.95h0.9v0.9h-0.9zM339.5 47.61h0.9v0.9h-0.9zM336.46 51.88h0.9v0.9h-0.9zM325.27 58.26h0.9v0.9h-0.9zM371.29 60.8h0.9v0.9h-0.9zM336.31 71.08h0.9v0.9h-0.9zM326.89 68.22h0.9v0.9h-0.9zM371.96 49.38h0.9v0.9h-0.9zM330.72 57.84h0.9v0.9h-0.9zM352.91 53.99h0.9v0.9h-0.9zM331.23 58.61h0.9v0.9h-0.9zM341.23 54.85h0.9v0.9h-0.9zM340.44 59.22h0.9v0.9h-0.9zM363.56 61.63h0.9v0.9h-0.9zM334.77 49.73h0.9v0.9h-0.9zM355.29 61.83h0.9v0.9h-0.9zM353.09 64.43h0.9v0.9h-0.9zM328.13 63.83h0.9v0.9h-0.9zM371.88 54h0.9v0.9h-0.9zM336.51 54.74h0.9v0.9h-0.9zM342.67 72.92h0.9v0.9h-0.9zM340.14 67.05h0.9v0.9h-0.9zM354.33 64.33h0.9v0.9h-0.9zM359.93 64.46h0.9v0.9h-0.9zM354.28 78.31h0.9v0.9h-0.9zM352.62 60.79h0.9v0.9h-0.9zM358.79 52.25h0.9v0.9h-0.9zM335.22 69.32h0.9v0.9h-0.9zM351.15 60.66h0.9v0.9h-0.9z" fill="#9a7a62"/>
<path d="M351.76 43.58h0.9v0.9h-0.9zM364.97 63.51h0.9v0.9h-0.9zM343.82 58.27h0.9v0.9h-0.9zM338.73 65.36h0.9v0.9h-0.9zM328.52 38.76h0.9v0.9h-0.9zM333.62 36.01h0.9v0.9h-0.9zM324.69 35.58h0.9v0.9h-0.9zM332.85 62.36h0.9v0.9h-0.9zM343.79 69.21h0.9v0.9h-0.9zM365.2 53.28h0.9v0.9h-0.9zM365.65 32.26h0.9v0.9h-0.9zM336.3 79.68h0.9v0.9h-0.9zM345.84 64.77h0.9v0.9h-0.9zM338.01 79.34h0.9v0.9h-0.9zM335.94 63.89h0.9v0.9h-0.9zM366.41 57.2h0.9v0.9h-0.9zM348.73 61.48h0.9v0.9h-0.9zM328.94 67.83h0.9v0.9h-0.9zM330.66 60.92h0.9v0.9h-0.9zM358.39 45.26h0.9v0.9h-0.9zM326.26 62.06h0.9v0.9h-0.9zM361.58 52.44h0.9v0.9h-0.9zM327.64 39.57h0.9v0.9h-0.9zM324.51 49.77h0.9v0.9h-0.9zM348.76 58.63h0.9v0.9h-0.9zM352.44 70.04h0.9v0.9h-0.9zM338.42 72.14h0.9v0.9h-0.9zM343.26 57.17h0.9v0.9h-0.9zM336.85 54.01h0.9v0.9h-0.9zM355.96 47.08h0.9v0.9h-0.9zM342.37 71.78h0.9v0.9h-0.9zM372.03 60.92h0.9v0.9h-0.9zM354.34 45.34h0.9v0.9h-0.9zM329.95 75.65h0.9v0.9h-0.9zM338.76 73.57h0.9v0.9h-0.9zM359.46 52.36h0.9v0.9h-0.9zM354.06 52.13h0.9v0.9h-0.9zM357.26 46.39h0.9v0.9h-0.9zM340.72 36.35h0.9v0.9h-0.9zM346.36 71.89h0.9v0.9h-0.9zM341.22 63.64h0.9v0.9h-0.9zM348.72 39.33h0.9v0.9h-0.9zM341.54 78.91h0.9v0.9h-0.9zM364.81 42.12h0.9v0.9h-0.9zM327.07 42.39h0.9v0.9h-0.9zM341.42 64.86h0.9v0.9h-0.9zM359.11 52.12h0.9v0.9h-0.9zM343.99 64.31h0.9v0.9h-0.9zM357.65 50.17h0.9v0.9h-0.9zM339.9 72.31h0.9v0.9h-0.9zM324.54 67.77h0.9v0.9h-0.9zM354.72 34.34h0.9v0.9h-0.9zM342.92 35.63h0.9v0.9h-0.9zM347.67 57.68h0.9v0.9h-0.9zM336.3 56.34h0.9v0.9h-0.9zM370.02 34.91h0.9v0.9h-0.9zM335.51 50.61h0.9v0.9h-0.9zM330.99 48.29h0.9v0.9h-0.9zM350.3 60.26h0.9v0.9h-0.9zM366.87 57.09h0.9v0.9h-0.9zM341.03 72.16h0.9v0.9h-0.9zM365.43 78.71h0.9v0.9h-0.9zM344.55 53.12h0.9v0.9h-0.9zM325.71 65.66h0.9v0.9h-0.9zM342.58 40.14h0.9v0.9h-0.9zM341.59 44.79h0.9v0.9h-0.9zM325.37 55.58h0.9v0.9h-0.9zM346 51.05h0.9v0.9h-0.9zM343.82 34.15h0.9v0.9h-0.9zM343.15 53.15h0.9v0.9h-0.9zM363.34 68.49h0.9v0.9h-0.9zM361.7 54.6h0.9v0.9h-0.9zM326.14 52.88h0.9v0.9h-0.9zM359.8 66.6h0.9v0.9h-0.9zM352.84 48.02h0.9v0.9h-0.9zM358.02 65.6h0.9v0.9h-0.9zM341.21 69.13h0.9v0.9h-0.9zM346.53 37.43h0.9v0.9h-0.9zM329.37 54.54h0.9v0.9h-0.9zM351.36 66.17h0.9v0.9h-0.9zM333.65 75.08h0.9v0.9h-0.9zM348.86 50.63h0.9v0.9h-0.9zM358.56 47.47h0.9v0.9h-0.9zM342.62 64.79h0.9v0.9h-0.9zM328.44 52.8h0.9v0.9h-0.9zM362.5 60.49h0.9v0.9h-0.9zM354.06 31h0.9v0.9h-0.9zM357.99 54.76h0.9v0.9h-0.9zM348.77 57.02h0.9v0.9h-0.9zM332.7 50.81h0.9v0.9h-0.9zM359.16 36.01h0.9v0.9h-0.9zM332.24 42.83h0.9v0.9h-0.9zM343.16 32.01h0.9v0.9h-0.9zM327.33 53.9h0.9v0.9h-0.9zM349.74 56.84h0.9v0.9h-0.9zM359.21 69.06h0.9v0.9h-0.9zM349.29 56.88h0.9v0.9h-0.9zM354.12 48.32h0.9v0.9h-0.9zM369.93 43.87h0.9v0.9h-0.9zM358.4 46.3h0.9v0.9h-0.9zM336.67 54.27h0.9v0.9h-0.9zM367.06 60.51h0.9v0.9h-0.9zM336.12 34.7h0.9v0.9h-0.9zM350.57 70.63h0.9v0.9h-0.9zM347.79 61.97h0.9v0.9h-0.9zM358.54 52.03h0.9v0.9h-0.9zM329.88 33.39h0.9v0.9h-0.9zM372.03 52.38h0.9v0.9h-0.9zM340.01 75.55h0.9v0.9h-0.9zM348.6 40.05h0.9v0.9h-0.9zM331.69 65.16h0.9v0.9h-0.9zM333.97 60.05h0.9v0.9h-0.9zM337.87 79.16h0.9v0.9h-0.9zM330.74 33.8h0.9v0.9h-0.9zM334.39 53.42h0.9v0.9h-0.9zM345.22 46.37h0.9v0.9h-0.9zM354.65 78.64h0.9v0.9h-0.9zM338.87 70.04h0.9v0.9h-0.9zM347.66 46.44h0.9v0.9h-0.9zM327.95 72.52h0.9v0.9h-0.9zM343.85 44.95h0.9v0.9h-0.9zM327.05 60.17h0.9v0.9h-0.9zM336.53 62.89h0.9v0.9h-0.9zM353.21 76.55h0.9v0.9h-0.9zM336.56 46.78h0.9v0.9h-0.9zM353.82 42.41h0.9v0.9h-0.9zM361.8 81.12h0.9v0.9h-0.9zM348.93 73.89h0.9v0.9h-0.9zM350.98 31.49h0.9v0.9h-0.9zM355.84 62.91h0.9v0.9h-0.9zM361.79 60.77h0.9v0.9h-0.9zM372.01 76.3h0.9v0.9h-0.9zM338.82 70.06h0.9v0.9h-0.9zM368.67 73.51h0.9v0.9h-0.9zM332.32 34.42h0.9v0.9h-0.9zM360.48 69.47h0.9v0.9h-0.9zM332.22 60.33h0.9v0.9h-0.9zM362.73 38.7h0.9v0.9h-0.9zM338.73 64.7h0.9v0.9h-0.9zM340.24 44.6h0.9v0.9h-0.9zM346.78 61.73h0.9v0.9h-0.9zM364.32 71.68h0.9v0.9h-0.9zM368.85 57.65h0.9v0.9h-0.9zM348.57 73.8h0.9v0.9h-0.9zM333.28 51.17h0.9v0.9h-0.9zM337.88 58.52h0.9v0.9h-0.9zM340.38 48.74h0.9v0.9h-0.9zM326.89 48.62h0.9v0.9h-0.9zM343.67 47.24h0.9v0.9h-0.9zM369.26 69.72h0.9v0.9h-0.9zM360.64 57.94h0.9v0.9h-0.9zM362.38 37.1h0.9v0.9h-0.9zM330.54 73.97h0.9v0.9h-0.9zM332.21 78.37h0.9v0.9h-0.9zM365.21 73.26h0.9v0.9h-0.9zM349.16 42.31h0.9v0.9h-0.9zM356 39.18h0.9v0.9h-0.9zM335.2 57.74h0.9v0.9h-0.9zM345.45 45.76h0.9v0.9h-0.9zM356.56 40.75h0.9v0.9h-0.9zM346.04 47.21h0.9v0.9h-0.9zM328.42 44.59h0.9v0.9h-0.9zM363.08 66.13h0.9v0.9h-0.9zM348.98 71.54h0.9v0.9h-0.9zM346.95 77.77h0.9v0.9h-0.9zM364.98 37.52h0.9v0.9h-0.9zM334.77 53.7h0.9v0.9h-0.9zM362.46 61.69h0.9v0.9h-0.9zM348.83 67h0.9v0.9h-0.9zM353.14 55.06h0.9v0.9h-0.9zM346.7 49.49h0.9v0.9h-0.9zM324.01 76.55h0.9v0.9h-0.9zM328.34 76.54h0.9v0.9h-0.9zM366.98 31.43h0.9v0.9h-0.9zM360.64 34.41h0.9v0.9h-0.9zM352.69 53.66h0.9v0.9h-0.9zM363 49.04h0.9v0.9h-0.9zM372.01 44.16h0.9v0.9h-0.9zM327.15 78.33h0.9v0.9h-0.9zM352.2 44.11h0.9v0.9h-0.9zM347.89 66.95h0.9v0.9h-0.9zM333.19 77.97h0.9v0.9h-0.9zM346.24 75.55h0.9v0.9h-0.9zM338.25 40.63h0.9v0.9h-0.9zM357.69 70.52h0.9v0.9h-0.9zM340.57 34.08h0.9v0.9h-0.9zM353.1 31.06h0.9v0.9h-0.9zM368.52 50.67h0.9v0.9h-0.9zM324.08 35.12h0.9v0.9h-0.9zM325.1 65.35h0.9v0.9h-0.9zM350.59 73.31h0.9v0.9h-0.9z" fill="#a08a78"/>
<path d="M356.48 56.57h0.9v0.9h-0.9zM340.48 70.57h0.9v0.9h-0.9zM339 65.32h0.9v0.9h-0.9zM347.9 59.83h0.9v0.9h-0.9zM363.51 55.05h0.9v0.9h-0.9zM346.56 60.66h0.9v0.9h-0.9zM338.91 63.92h0.9v0.9h-0.9zM346.91 52.79h0.9v0.9h-0.9zM353.09 60.07h0.9v0.9h-0.9zM345.39 63.77h0.9v0.9h-0.9zM335.21 61.77h0.9v0.9h-0.9zM353.03 66.77h0.9v0.9h-0.9zM342.82 80.83h0.9v0.9h-0.9zM351.49 67.2h0.9v0.9h-0.9zM356.55 68.61h0.9v0.9h-0.9zM363.39 67.73h0.9v0.9h-0.9zM342.78 64.61h0.9v0.9h-0.9zM337.28 65.12h0.9v0.9h-0.9zM358.58 61.58h0.9v0.9h-0.9zM337.35 66.14h0.9v0.9h-0.9zM337.9 66.09h0.9v0.9h-0.9zM347.67 64.61h0.9v0.9h-0.9zM368.66 67.53h0.9v0.9h-0.9zM355.79 59.01h0.9v0.9h-0.9zM345.9 61.41h0.9v0.9h-0.9zM340.11 59.16h0.9v0.9h-0.9zM340.79 67.85h0.9v0.9h-0.9zM358.27 62.14h0.9v0.9h-0.9zM358.35 66.27h0.9v0.9h-0.9zM363.54 64.21h0.9v0.9h-0.9zM338.55 55.73h0.9v0.9h-0.9zM344.46 55.74h0.9v0.9h-0.9zM340.27 58.88h0.9v0.9h-0.9zM346.55 65.36h0.9v0.9h-0.9zM342.15 66.31h0.9v0.9h-0.9zM334.92 61.4h0.9v0.9h-0.9zM354.66 62.49h0.9v0.9h-0.9zM354.82 59.21h0.9v0.9h-0.9zM352.25 60.71h0.9v0.9h-0.9zM349.06 57.79h0.9v0.9h-0.9zM348.33 59.44h0.9v0.9h-0.9zM353.92 69.63h0.9v0.9h-0.9zM348.38 60.48h0.9v0.9h-0.9zM354.16 66.34h0.9v0.9h-0.9zM342.12 70.17h0.9v0.9h-0.9zM347.93 64.89h0.9v0.9h-0.9zM347.19 57.44h0.9v0.9h-0.9zM357.02 61.04h0.9v0.9h-0.9zM341.5 63.15h0.9v0.9h-0.9zM353.36 59.74h0.9v0.9h-0.9zM362.28 62.08h0.9v0.9h-0.9zM349.03 70.47h0.9v0.9h-0.9zM348.24 65.59h0.9v0.9h-0.9zM350.32 70.55h0.9v0.9h-0.9zM350.92 70.66h0.9v0.9h-0.9zM345.9 77.23h0.9v0.9h-0.9zM338.69 64.69h0.9v0.9h-0.9zM350.58 57.11h0.9v0.9h-0.9zM338.81 57.74h0.9v0.9h-0.9zM338.11 63.87h0.9v0.9h-0.9zM347.29 73.65h0.9v0.9h-0.9zM330.69 67.85h0.9v0.9h-0.9zM332.95 60.69h0.9v0.9h-0.9zM358.71 73.61h0.9v0.9h-0.9zM344.74 75.91h0.9v0.9h-0.9zM341.44 55.44h0.9v0.9h-0.9zM330.53 67.18h0.9v0.9h-0.9zM350 70.87h0.9v0.9h-0.9zM356.02 61.42h0.9v0.9h-0.9zM352.36 63.75h0.9v0.9h-0.9zM345.89 54.21h0.9v0.9h-0.9zM344.6 65.03h0.9v0.9h-0.9zM340.31 61.09h0.9v0.9h-0.9zM354.41 56.86h0.9v0.9h-0.9zM341.21 73.49h0.9v0.9h-0.9zM348.83 55.86h0.9v0.9h-0.9zM356.48 68.38h0.9v0.9h-0.9zM347.65 57.25h0.9v0.9h-0.9zM339.42 56.37h0.9v0.9h-0.9zM355.45 75.65h0.9v0.9h-0.9zM348.55 50.54h0.9v0.9h-0.9zM355.69 68.37h0.9v0.9h-0.9zM362.07 73.85h0.9v0.9h-0.9zM352.51 59.05h0.9v0.9h-0.9zM353.39 67.05h0.9v0.9h-0.9zM346.64 62.79h0.9v0.9h-0.9zM361.61 65.33h0.9v0.9h-0.9zM352.92 69.62h0.9v0.9h-0.9zM332.95 59.63h0.9v0.9h-0.9zM353.06 69.29h0.9v0.9h-0.9z" fill="#70c070"/>
<rect x="323.8" y="30.3" width="50.1" height="51.9" fill="none" stroke="#555" stroke-width="1" />
<line x1="323.8" y1="31" x2="326.5" y2="31" stroke="#444" stroke-width="0.8" />
<text x="322" y="34.1" font-size="8.5" text-anchor="end" fill="#222">0.40</text>
<line x1="323.8" y1="48.8" x2="326.5" y2="48.8" stroke="#444" stroke-width="0.8" />
<text x="322" y="51.9" font-size="8.5" text-anchor="end" fill="#222">0.35</text>
<line x1="323.8" y1="66.7" x2="326.5" y2="66.7" stroke="#444" stroke-width="0.8" />
<text x="322" y="69.8" font-size="8.5" text-anchor="end" fill="#222">0.30</text>
<line x1="328.5" y1="82.2" x2="328.5" y2="79.8" stroke="#444" stroke-width="0.8" />
<text x="328.5" y="90" font-size="8.5" text-anchor="middle" fill="#222">-40</text>
<line x1="349.7" y1="82.2" x2="349.7" y2="79.8" stroke="#444" stroke-width="0.8" />
<text x="349.7" y="90" font-size="8.5" text-anchor="middle" fill="#222">0</text>
<line x1="370.3" y1="82.2" x2="370.3" y2="79.8" stroke="#444" stroke-width="0.8" />
<text x="370.3" y="90" font-size="8.5" text-anchor="middle" fill="#222">40</text>
<text x="373" y="39.5" font-size="10" text-anchor="end" fill="#2020ff" textLength="17.5" lengthAdjust="spacingAndGlyphs">30K</text>
<text x="333.5" y="99.5" font-size="9.5" fill="#222">k<tspan font-size="6" dy="2">||</tspan><tspan dy="-2"> (mÅ</tspan><tspan font-size="6.5" dy="-4.5">−1</tspan><tspan dy="4.5">)</tspan></text>
<text x="0" y="0" font-size="9.5" fill="#222" transform="translate(302.6 72) rotate(-90)"><tspan font-style="italic">E</tspan>-<tspan font-style="italic">E</tspan><tspan font-size="6.5" dy="2.2">D</tspan><tspan dy="-2.2"> (eV)</tspan></text>
<path d="M424 200.25 L424 3 L681.75 3" fill="none" stroke="#8c8c8c" stroke-width="1.5"/>
<path d="M424 200.25 L681.75 200.25 L681.75 3" fill="none" stroke="#3a3a3a" stroke-width="1.1"/>
<line x1="431.5" y1="200.25" x2="431.5" y2="196.25" stroke="#4d4d4d" stroke-width="1.1" />
<text x="431.8" y="210.5" font-size="11.5" text-anchor="middle" fill="#222">20</text>
<line x1="460.13" y1="200.25" x2="460.13" y2="196.25" stroke="#4d4d4d" stroke-width="1.1" />
<text x="460.43" y="210.5" font-size="11.5" text-anchor="middle" fill="#222">40</text>
<line x1="488.75" y1="200.25" x2="488.75" y2="196.25" stroke="#4d4d4d" stroke-width="1.1" />
<text x="489.05" y="210.5" font-size="11.5" text-anchor="middle" fill="#222">60</text>
<line x1="517.38" y1="200.25" x2="517.38" y2="196.25" stroke="#4d4d4d" stroke-width="1.1" />
<text x="517.68" y="210.5" font-size="11.5" text-anchor="middle" fill="#222">80</text>
<line x1="546" y1="200.25" x2="546" y2="196.25" stroke="#4d4d4d" stroke-width="1.1" />
<text x="546.3" y="210.5" font-size="11.5" text-anchor="middle" fill="#222">100</text>
<line x1="574.63" y1="200.25" x2="574.63" y2="196.25" stroke="#4d4d4d" stroke-width="1.1" />
<text x="574.93" y="210.5" font-size="11.5" text-anchor="middle" fill="#222">120</text>
<line x1="603.26" y1="200.25" x2="603.26" y2="196.25" stroke="#4d4d4d" stroke-width="1.1" />
<text x="603.56" y="210.5" font-size="11.5" text-anchor="middle" fill="#222">140</text>
<line x1="631.88" y1="200.25" x2="631.88" y2="196.25" stroke="#4d4d4d" stroke-width="1.1" />
<text x="632.18" y="210.5" font-size="11.5" text-anchor="middle" fill="#222">160</text>
<line x1="660.51" y1="200.25" x2="660.51" y2="196.25" stroke="#4d4d4d" stroke-width="1.1" />
<text x="660.81" y="210.5" font-size="11.5" text-anchor="middle" fill="#222">180</text>
<line x1="424" y1="189.3" x2="428" y2="189.3" stroke="#4d4d4d" stroke-width="1.1" />
<line x1="681.75" y1="189.3" x2="677.75" y2="189.3" stroke="#4d4d4d" stroke-width="1.1" />
<text x="421.5" y="193.3" font-size="11.2" text-anchor="end" fill="#222">0.0</text>
<line x1="424" y1="156.36" x2="428" y2="156.36" stroke="#4d4d4d" stroke-width="1.1" />
<line x1="681.75" y1="156.36" x2="677.75" y2="156.36" stroke="#4d4d4d" stroke-width="1.1" />
<text x="421.5" y="160.36" font-size="11.2" text-anchor="end" fill="#222">0.2</text>
<line x1="424" y1="123.42" x2="428" y2="123.42" stroke="#4d4d4d" stroke-width="1.1" />
<line x1="681.75" y1="123.42" x2="677.75" y2="123.42" stroke="#4d4d4d" stroke-width="1.1" />
<text x="421.5" y="127.42" font-size="11.2" text-anchor="end" fill="#222">0.4</text>
<line x1="424" y1="90.48" x2="428" y2="90.48" stroke="#4d4d4d" stroke-width="1.1" />
<line x1="681.75" y1="90.48" x2="677.75" y2="90.48" stroke="#4d4d4d" stroke-width="1.1" />
<text x="421.5" y="94.48" font-size="11.2" text-anchor="end" fill="#222">0.6</text>
<line x1="424" y1="57.54" x2="428" y2="57.54" stroke="#4d4d4d" stroke-width="1.1" />
<line x1="681.75" y1="57.54" x2="677.75" y2="57.54" stroke="#4d4d4d" stroke-width="1.1" />
<text x="421.5" y="61.54" font-size="11.2" text-anchor="end" fill="#222">0.8</text>
<line x1="424" y1="24.6" x2="428" y2="24.6" stroke="#4d4d4d" stroke-width="1.1" />
<line x1="681.75" y1="24.6" x2="677.75" y2="24.6" stroke="#4d4d4d" stroke-width="1.1" />
<text x="421.5" y="28.6" font-size="11.2" text-anchor="end" fill="#222">1.0</text>
<text x="405.3" y="102.5" font-size="11.5" text-anchor="middle" fill="#222" textLength="75" lengthAdjust="spacingAndGlyphs" transform="rotate(-90 405.3 102.5)">Intensity (a.u.)</text>
<text x="496.8" y="223.5" font-size="11" text-anchor="start" fill="#222" textLength="123.4" lengthAdjust="spacingAndGlyphs">Lattice Temperature (K)</text>
<line x1="445.81" y1="117.5" x2="445.81" y2="197.8" stroke="#8a8aff" stroke-width="1.3" />
<line x1="442.81" y1="117.5" x2="448.81" y2="117.5" stroke="#8a8aff" stroke-width="1.2" />
<line x1="442.81" y1="197.8" x2="448.81" y2="197.8" stroke="#8a8aff" stroke-width="1.2" />
<line x1="503.06" y1="112.5" x2="503.06" y2="192" stroke="#5ac8f0" stroke-width="1.3" />
<line x1="500.06" y1="112.5" x2="506.06" y2="112.5" stroke="#5ac8f0" stroke-width="1.2" />
<line x1="500.06" y1="192" x2="506.06" y2="192" stroke="#5ac8f0" stroke-width="1.2" />
<line x1="574.63" y1="70.6" x2="574.63" y2="145.9" stroke="#ffc080" stroke-width="1.3" />
<line x1="571.63" y1="70.6" x2="577.63" y2="70.6" stroke="#ffc080" stroke-width="1.2" />
<line x1="571.63" y1="145.9" x2="577.63" y2="145.9" stroke="#ffc080" stroke-width="1.2" />
<line x1="660.51" y1="8" x2="660.51" y2="48.8" stroke="#ff6070" stroke-width="1.3" />
<line x1="657.51" y1="8" x2="663.51" y2="8" stroke="#ff6070" stroke-width="1.2" />
<line x1="657.51" y1="48.8" x2="663.51" y2="48.8" stroke="#ff6070" stroke-width="1.2" />
<line x1="445.81" y1="142.36" x2="503.06" y2="136.6" stroke="#2020ff" stroke-width="1.1" />
<line x1="445.81" y1="173.65" x2="503.06" y2="168.22" stroke="#2020ff" stroke-width="1.3" stroke-dasharray="3 2.2"/>
<line x1="503.06" y1="136.6" x2="574.63" y2="94.6" stroke="#58c0f0" stroke-width="1.1" />
<line x1="503.06" y1="168.22" x2="574.63" y2="121.77" stroke="#58c0f0" stroke-width="1.3" stroke-dasharray="3 2.2"/>
<line x1="574.63" y1="94.6" x2="660.51" y2="24.6" stroke="#f8b060" stroke-width="1.1" />
<line x1="574.63" y1="121.77" x2="660.51" y2="24.6" stroke="#f8b060" stroke-width="1.3" stroke-dasharray="3 2.2"/>
<line x1="438.81" y1="142.36" x2="452.81" y2="142.36" stroke="#8a8aff" stroke-width="1" />
<line x1="438.81" y1="140.36" x2="438.81" y2="144.36" stroke="#8a8aff" stroke-width="1" />
<line x1="452.81" y1="140.36" x2="452.81" y2="144.36" stroke="#8a8aff" stroke-width="1" />
<line x1="438.81" y1="173.65" x2="452.81" y2="173.65" stroke="#8a8aff" stroke-width="1" />
<line x1="438.81" y1="171.65" x2="438.81" y2="175.65" stroke="#8a8aff" stroke-width="1" />
<line x1="452.81" y1="171.65" x2="452.81" y2="175.65" stroke="#8a8aff" stroke-width="1" />
<line x1="496.06" y1="136.6" x2="510.06" y2="136.6" stroke="#5ac8f0" stroke-width="1" />
<line x1="496.06" y1="134.6" x2="496.06" y2="138.6" stroke="#5ac8f0" stroke-width="1" />
<line x1="510.06" y1="134.6" x2="510.06" y2="138.6" stroke="#5ac8f0" stroke-width="1" />
<line x1="496.06" y1="168.22" x2="510.06" y2="168.22" stroke="#5ac8f0" stroke-width="1" />
<line x1="496.06" y1="166.22" x2="496.06" y2="170.22" stroke="#5ac8f0" stroke-width="1" />
<line x1="510.06" y1="166.22" x2="510.06" y2="170.22" stroke="#5ac8f0" stroke-width="1" />
<line x1="567.63" y1="94.6" x2="581.63" y2="94.6" stroke="#ffc080" stroke-width="1" />
<line x1="567.63" y1="92.6" x2="567.63" y2="96.6" stroke="#ffc080" stroke-width="1" />
<line x1="581.63" y1="92.6" x2="581.63" y2="96.6" stroke="#ffc080" stroke-width="1" />
<line x1="567.63" y1="121.77" x2="581.63" y2="121.77" stroke="#ffc080" stroke-width="1" />
<line x1="567.63" y1="119.77" x2="567.63" y2="123.77" stroke="#ffc080" stroke-width="1" />
<line x1="581.63" y1="119.77" x2="581.63" y2="123.77" stroke="#ffc080" stroke-width="1" />
<line x1="653.51" y1="24.6" x2="667.51" y2="24.6" stroke="#ff6070" stroke-width="1" />
<line x1="653.51" y1="22.6" x2="653.51" y2="26.6" stroke="#ff6070" stroke-width="1" />
<line x1="667.51" y1="22.6" x2="667.51" y2="26.6" stroke="#ff6070" stroke-width="1" />
<line x1="653.51" y1="24.6" x2="667.51" y2="24.6" stroke="#ff6070" stroke-width="1" />
<line x1="653.51" y1="22.6" x2="653.51" y2="26.6" stroke="#ff6070" stroke-width="1" />
<line x1="667.51" y1="22.6" x2="667.51" y2="26.6" stroke="#ff6070" stroke-width="1" />
<rect x="441.11" y="137.66" width="9.4" height="9.4" fill="#0000ff" stroke="#0000aa" stroke-width="0.7" />
<circle cx="445.81" cy="173.65" r="4.7" fill="#0000ff" stroke="#0000aa" stroke-width="0.7"/>
<rect x="498.37" y="131.9" width="9.4" height="9.4" fill="#00f0f0" stroke="#333" stroke-width="0.7" />
<circle cx="503.06" cy="168.22" r="4.7" fill="#00f0f0" stroke="#333" stroke-width="0.7"/>
<rect x="569.93" y="89.9" width="9.4" height="9.4" fill="#ff9a2a" stroke="#333" stroke-width="0.7" />
<circle cx="574.63" cy="121.77" r="4.7" fill="#ff9a2a" stroke="#333" stroke-width="0.7"/>
<rect x="655.81" y="19.9" width="9.4" height="9.4" fill="#ff0000" stroke="#333" stroke-width="0.7" />
<circle cx="660.51" cy="24.6" r="4.7" fill="#ff0000" stroke="#333" stroke-width="0.7"/>
<circle cx="660.51" cy="24.6" r="4.3" fill="#ff0000" stroke="#880000" stroke-width="0.6"/>
<line x1="443" y1="20.25" x2="452" y2="20.25" stroke="#2a2aff" stroke-width="1.1" stroke-dasharray="2 1.4"/>
<line x1="463" y1="20.25" x2="471" y2="20.25" stroke="#f8a040" stroke-width="1.1" stroke-dasharray="2 1.4"/>
<circle cx="457.5" cy="20.25" r="5.6" fill="url(#gLeg)" stroke="#555" stroke-width="0.5"/>
<line x1="444" y1="43.5" x2="452" y2="43.5" stroke="#2a2aff" stroke-width="1.3" />
<line x1="463.5" y1="43.5" x2="472" y2="43.5" stroke="#f8a040" stroke-width="1.3" />
<rect x="452" y="38.3" width="11.8" height="10.4" fill="url(#gLeg)" stroke="#555" stroke-width="0.5"/>
<text x="479.5" y="24.5" font-size="11" fill="#222">EDC<tspan font-size="8" dy="3">Γ∩Q</tspan></text>
<text x="479" y="47.5" font-size="11.5" fill="#222" letter-spacing="0.9">I<tspan font-size="9" dy="-4.5">Γ</tspan><tspan dy="4.5">/I</tspan><tspan font-size="9" dy="-4.5">Q</tspan></text>
<g clip-path="url(#clipCL)">
<rect x="30.3" y="248" width="171.3" height="202.8" fill="#f7f4f4"/>
<g filter="url(#b2)">
<path d="M30.6 248.2 30.6 270.8 45.0 300.2 42.5 306.8 43.0 314.8 61.5 338.8 71.5 354.2 87.0 390.2 85.0 391.2 73.5 389.2 65.5 389.2 30.6 392.8 30.6 450.8 201.6 450.8 201.6 400.8 191.1 400.8 174.6 393.8 155.6 389.8 148.1 389.2 158.6 356.2 164.1 344.8 170.6 334.8 183.6 321.2 187.1 315.2 187.1 308.8 184.1 302.2 184.6 295.8 183.6 293.2 180.1 289.8 175.1 287.8 167.1 288.2 161.6 291.8 159.6 295.2 159.1 301.2 150.6 310.8 143.1 325.2 139.1 338.2 135.6 356.8 125.5 386.8 120.5 390.8 115.5 392.8 110.0 389.2 96.0 355.2 88.0 329.8 81.0 314.2 68.5 295.2 64.0 292.2 61.0 291.8 44.5 257.2 39.0 248.2Z" fill="#e6dbdb" fill-rule="evenodd" />
<path d="M171.1 295.2 168.6 298.2 170.1 300.2 173.1 300.8 175.1 299.2 175.1 296.8 173.1 295.2ZM30.6 248.2 30.6 255.8 36.0 264.8 53.5 301.2 50.0 305.2 49.0 308.2 50.0 314.8 62.0 330.2 75.0 351.2 94.5 396.8 85.0 397.2 73.5 395.2 65.5 395.2 30.6 398.8 30.6 450.8 201.6 450.8 201.6 405.2 187.6 405.2 172.6 399.2 155.6 395.8 141.6 394.8 154.1 355.2 158.6 344.8 166.1 331.8 180.1 315.2 180.6 310.2 178.1 305.2 174.1 302.8 168.1 302.8 165.1 304.2 155.6 315.2 146.1 334.8 140.1 357.8 129.1 390.8 118.0 398.2 115.5 398.8 107.0 394.2 85.0 338.2 76.5 320.2 66.0 303.8 61.5 300.8 57.0 300.2 40.5 265.2Z" fill="#cfbdbd" fill-rule="evenodd" />
</g>
<g filter="url(#b1)">
<path d="M53.5 306.8 53.0 312.2 73.5 342.8 81.5 358.8 97.5 398.2 95.5 400.2 82.0 400.2 69.5 398.2 30.6 402.2 30.6 450.8 201.6 450.8 201.6 409.2 189.1 409.2 175.1 403.2 156.1 399.2 141.6 398.8 138.1 397.2 151.6 354.8 156.6 342.2 163.6 329.8 176.6 314.2 176.6 309.8 174.6 307.2 172.6 306.2 168.1 306.8 157.6 319.2 148.6 337.2 130.1 394.2 116.0 402.2 105.0 396.2 82.0 339.2 70.0 316.2 61.5 304.8 57.0 304.2Z" fill="#b39b9b" fill-rule="evenodd" />
<path d="M56.0 308.8 56.0 311.2 71.5 334.2 82.5 355.8 101.5 402.8 95.5 408.8 67.0 406.8 58.0 408.2 50.0 411.8 30.6 413.2 30.6 450.8 201.6 450.8 201.6 426.2 174.1 412.8 157.1 409.8 140.1 409.8 133.6 402.8 153.6 343.2 160.1 330.2 173.6 313.2 173.6 310.8 172.1 309.2 170.1 309.2 163.1 316.8 153.6 332.2 130.1 402.2 120.5 408.2 116.5 413.2 115.0 409.2 105.0 402.8 91.0 366.2 73.5 328.2 61.5 309.2 59.5 307.2 57.5 307.2Z" fill="#f5f3b6" fill-rule="evenodd" />
<path d="M130.6 448.8 130.6 450.8 197.6 450.8 194.1 436.8 189.1 427.8 184.6 423.2 173.6 418.2 160.6 415.8 152.6 416.2 144.6 421.2 136.1 432.2ZM136.1 409.2 133.6 405.8 128.1 405.8 122.0 409.8 119.0 416.8 114.5 416.8 112.5 410.2 107.0 405.8 104.5 405.2 101.5 405.8 98.0 410.8 95.0 411.8 74.5 408.8 69.0 408.8 59.5 411.2 54.0 414.8 52.0 420.8 52.0 450.8 105.0 450.8 105.5 438.2 109.0 450.8 124.0 450.8 128.6 432.2Z" fill="#94e6a2" fill-rule="evenodd" />
<path d="M150.1 423.2 146.6 425.8 143.1 432.2 142.1 436.8 143.1 450.8 161.1 450.8 162.1 446.8 162.1 437.2 160.6 431.2 156.6 424.8 154.1 423.2ZM60.5 415.2 57.5 423.2 57.5 450.8 99.0 450.8 99.0 420.8 97.5 416.8 95.5 414.8 81.5 410.2 71.0 410.2 65.5 411.8ZM102.5 406.8 101.0 407.8 100.0 411.2 110.5 450.8 122.5 450.8 127.0 432.2 134.6 409.8 133.1 407.2 128.6 406.8 123.0 410.8 116.5 430.2 111.0 410.2 106.5 406.8Z" fill="#80cce4" fill-rule="evenodd" />
<path d="M67.5 413.2 64.0 417.2 62.0 423.8 62.0 450.8 94.5 450.8 94.5 421.2 92.5 416.8 87.5 412.8 79.5 410.8 71.5 411.2ZM102.5 407.8 101.0 410.8 111.5 450.8 121.0 450.8 133.6 409.2 132.6 407.8 129.6 407.2 124.5 410.2 116.5 434.2 110.0 410.2 107.0 407.8Z" fill="#62b6f4" fill-rule="evenodd" />
<path d="M70.5 414.8 67.5 417.8 65.5 422.2 65.5 450.8 91.5 450.8 91.5 422.8 90.0 418.8 87.5 415.8 81.5 413.8 76.0 413.2ZM102.5 409.8 113.0 450.8 120.0 450.8 125.5 428.8 132.1 409.8 128.6 409.2 126.0 410.2 116.5 439.8 108.5 410.2 106.0 409.2Z" fill="#8282c2" fill-rule="evenodd" />
</g>
</g>
<g clip-path="url(#clipCR)">
<rect x="213.5" y="248" width="170.8" height="202.8" fill="#f1ecec"/>
<g filter="url(#b2)">
<path d="M289.2 299.8 290.8 303.2 298.8 306.2 305.8 305.2 309.2 303.2 310.8 300.2 309.2 296.8 301.2 293.8 294.2 294.8 290.8 296.8ZM213.8 248.2 213.8 271.2 224.2 292.2 218.2 303.2 217.2 309.2 217.8 314.8 221.2 321.8 235.8 339.2 245.2 353.2 257.8 381.8 256.8 382.8 249.2 381.2 240.2 383.8 223.8 395.2 213.8 395.2 213.8 450.8 384.2 450.8 384.2 395.2 369.8 395.2 359.8 388.8 341.8 381.8 350.2 355.2 354.2 347.2 361.8 336.2 373.2 324.8 377.8 316.2 378.2 309.8 377.2 304.8 370.2 290.2 362.8 285.8 355.8 285.2 351.8 286.2 339.8 292.2 327.8 305.2 321.8 314.2 318.2 322.2 313.8 337.8 310.8 354.8 300.2 385.2 288.2 356.8 279.2 327.8 274.2 315.8 269.8 308.2 258.2 292.2 250.2 287.2 241.8 285.8 230.2 262.2 221.8 248.2Z" fill="#e6dbdb" fill-rule="evenodd" />
<path d="M213.8 248.8 213.8 256.2 218.2 263.2 234.8 297.2 229.8 301.8 227.8 305.8 227.8 314.2 241.2 332.8 254.8 354.8 273.2 399.2 272.8 402.8 261.8 389.8 249.2 387.2 240.2 389.8 221.2 403.2 213.8 403.2 213.8 450.8 384.2 450.8 384.2 403.2 372.8 403.2 360.8 395.2 343.2 388.2 341.8 388.2 329.8 398.8 327.8 399.2 344.8 348.8 354.2 332.2 365.8 319.8 367.8 316.2 367.8 307.8 366.2 304.2 361.8 299.8 361.8 296.8 359.2 294.8 356.8 294.8 353.8 297.8 346.2 299.8 333.8 313.8 324.2 333.8 318.2 357.2 305.2 396.2 298.8 399.8 296.2 397.8 271.2 333.2 262.8 315.8 250.8 298.8 244.2 295.8 237.8 295.8 222.8 263.8Z" fill="#cfbdbd" fill-rule="evenodd" />
</g>
<g filter="url(#b1)">
<path d="M234.8 304.2 232.8 308.8 233.2 313.2 248.8 335.2 256.2 348.2 271.8 383.2 277.8 400.2 274.8 408.8 261.8 393.2 250.8 390.2 239.2 393.8 225.8 402.8 216.2 410.8 213.8 410.8 213.8 450.8 384.2 450.8 384.2 410.8 379.2 410.8 360.8 398.8 343.2 391.8 340.8 392.2 328.2 403.2 323.2 399.2 337.2 355.8 342.2 343.2 350.8 328.8 362.2 315.2 362.8 310.2 359.2 304.8 355.8 303.2 352.2 303.2 348.8 304.8 338.2 317.2 328.8 336.2 309.8 396.8 298.8 403.2 293.2 400.2 291.8 398.2 287.8 386.2 267.2 336.8 256.2 315.8 246.8 302.8 243.2 301.2 239.8 301.2Z" fill="#b39b9b" fill-rule="evenodd" />
<path d="M238.2 307.2 237.2 309.8 238.2 312.8 250.8 330.8 263.8 355.2 282.2 401.2 278.8 410.8 279.8 414.8 277.2 418.8 262.2 402.8 257.2 401.8 249.2 401.8 240.2 404.2 225.2 414.2 213.8 423.8 213.8 450.8 384.2 450.8 384.2 424.8 375.8 417.8 358.2 406.8 344.8 402.8 340.8 403.2 327.2 413.8 321.2 408.8 318.8 401.8 338.2 342.8 348.8 324.2 357.8 314.2 358.2 311.2 356.2 308.2 353.2 307.8 349.8 310.2 342.8 318.8 337.2 327.8 331.2 341.2 312.2 400.2 302.2 410.2 299.8 414.2 297.2 409.2 288.8 400.8 274.8 364.2 265.2 342.2 256.8 325.8 245.2 307.8 242.2 305.8Z" fill="#f5f3b6" fill-rule="evenodd" />
<path d="M240.8 309.2 241.2 311.8 252.2 327.8 263.2 348.2 285.8 403.2 283.8 405.2 281.8 411.8 282.2 413.2 277.2 420.8 261.8 405.8 254.2 406.2 248.2 410.8 244.2 417.2 242.8 422.8 244.8 450.8 384.2 450.8 384.2 439.2 379.2 426.8 360.2 413.2 345.8 408.8 342.2 409.2 336.2 412.8 328.2 420.8 322.2 431.2 318.8 441.8 313.8 441.2 308.8 442.2 318.8 412.2 317.2 405.2 315.2 403.2 333.8 347.2 339.8 333.2 346.2 322.8 355.2 312.2 354.2 310.8 344.8 321.2 335.8 337.2 313.8 403.8 311.2 404.8 304.8 411.2 301.8 418.8 297.2 417.8 295.8 411.8 289.8 404.8 287.2 403.8 277.8 377.8 263.2 344.2 248.8 318.2 241.8 308.8Z" fill="#94e6a2" fill-rule="evenodd" />
<path d="M255.8 412.2 251.8 416.2 248.8 425.2 250.8 450.8 285.2 450.8 283.2 425.2 281.8 419.8 280.2 419.2 276.8 422.2 270.2 414.8 264.2 410.2 261.8 409.8ZM285.2 406.8 283.2 412.2 293.2 450.8 305.2 450.8 305.8 449.2 306.2 450.8 325.8 450.8 324.8 447.2 321.8 444.2 317.2 442.8 310.2 444.2 306.8 448.8 305.8 448.8 311.2 428.2 317.2 411.8 316.2 407.2 313.8 405.8 310.8 406.8 305.8 412.2 302.2 420.8 296.8 420.2 294.8 412.8 291.2 407.8 287.2 405.8Z" fill="#80cce4" fill-rule="evenodd" />
<path d="M307.8 449.2 307.8 450.8 324.2 450.8 323.2 447.2 318.2 444.2 312.2 444.8 310.2 445.8ZM259.8 415.2 256.2 418.2 253.8 423.8 255.8 450.8 280.2 450.8 277.8 424.8 268.8 415.2 266.8 414.2ZM287.2 407.2 284.8 409.2 284.8 413.8 294.2 450.2 304.2 450.8 309.2 431.2 315.8 413.2 315.8 408.8 312.8 407.2 307.8 410.8 302.8 422.8 301.2 421.8 296.2 422.2 293.2 411.8 291.2 408.8Z" fill="#62b6f4" fill-rule="evenodd" />
<path d="M264.8 420.2 263.2 420.8 260.2 424.8 262.2 450.8 273.8 450.8 271.8 425.2 269.2 421.2ZM288.2 410.2 285.8 412.2 295.8 450.8 302.8 450.8 314.2 411.8 312.2 410.2 308.2 412.2 299.2 439.8 292.2 412.8Z" fill="#8282c2" fill-rule="evenodd" />
</g>
</g>
<g clip-path="url(#clipCL)">
<path d="M103.5 401 L102.54 398.51 L101.27 395.18 L99.75 391.21 L98.06 386.81 L96.27 382.19 L94.45 377.54 L92.67 373.08 L91 369 L89.39 365.16 L87.74 361.3 L86.07 357.47 L84.41 353.69 L82.75 350.01 L81.12 346.48 L79.53 343.13 L78 340 L76.5 337.08 L75.02 334.34 L73.55 331.75 L72.12 329.31 L70.74 327.03 L69.42 324.88 L68.17 322.88 L67 321 L65.89 319.25 L64.8 317.63 L63.77 316.15 L62.81 314.81 L61.94 313.62 L61.16 312.59 L60.51 311.71 L60 311" fill="none" stroke="#2c3636" stroke-width="2.2" stroke-dasharray="2.4 0.9"/>
<path d="M131.5 402 L132.36 399.43 L133.5 395.98 L134.87 391.87 L136.39 387.31 L137.98 382.53 L139.58 377.74 L141.11 373.16 L142.5 369 L143.79 365.1 L145.05 361.19 L146.29 357.3 L147.51 353.5 L148.72 349.82 L149.92 346.31 L151.11 343.02 L152.3 340 L153.48 337.26 L154.65 334.77 L155.8 332.48 L156.95 330.38 L158.09 328.41 L159.23 326.55 L160.36 324.76 L161.5 323 L162.7 321.26 L163.98 319.57 L165.29 317.95 L166.57 316.44 L167.79 315.06 L168.89 313.84 L169.81 312.81 L170.5 312" fill="none" stroke="#4a1010" stroke-width="2" stroke-dasharray="3 0.8"/>
<line x1="116.5" y1="451" x2="97.6" y2="386" stroke="#f4f4ff" stroke-width="1.2" />
<line x1="116.5" y1="451" x2="138.2" y2="380" stroke="#ffb0b0" stroke-width="1.2" />
<path d="M59.82 312.06h2.2v2.2h-2.2zM59.95 310.48h2.2v2.2h-2.2zM59.89 308.09h2.2v2.2h-2.2zM61.73 311.64h2.2v2.2h-2.2zM59.53 312.2h2.2v2.2h-2.2zM61.33 309.03h2.2v2.2h-2.2zM63.03 311.67h2.2v2.2h-2.2zM57.45 308.99h2.2v2.2h-2.2zM61.39 308.58h2.2v2.2h-2.2zM60.57 312.28h2.2v2.2h-2.2zM62.53 307.84h2.2v2.2h-2.2zM59.15 311.03h2.2v2.2h-2.2zM63.89 310.84h2.2v2.2h-2.2zM61.91 311.65h2.2v2.2h-2.2zM63.53 308.42h2.2v2.2h-2.2zM62.67 307.61h2.2v2.2h-2.2zM49.92 304.01h2.2v2.2h-2.2zM56.74 309.11h2.2v2.2h-2.2zM63.06 308.33h2.2v2.2h-2.2zM63.79 308.62h2.2v2.2h-2.2zM60.06 311.71h2.2v2.2h-2.2zM60.86 310.13h2.2v2.2h-2.2zM62.95 310.98h2.2v2.2h-2.2zM63 310.58h2.2v2.2h-2.2zM57.89 310.04h2.2v2.2h-2.2zM58.52 310.87h2.2v2.2h-2.2zM59.4 305.53h2.2v2.2h-2.2zM57.12 308.61h2.2v2.2h-2.2zM63.47 307.52h2.2v2.2h-2.2zM62.42 309.73h2.2v2.2h-2.2zM66.11 309.7h2.2v2.2h-2.2zM54.71 308.95h2.2v2.2h-2.2zM64.21 307.04h2.2v2.2h-2.2zM60.53 311.84h2.2v2.2h-2.2zM59.14 310.33h2.2v2.2h-2.2zM62.72 305.16h2.2v2.2h-2.2zM62.88 310.24h2.2v2.2h-2.2zM58.15 309.78h2.2v2.2h-2.2zM64.21 309.68h2.2v2.2h-2.2zM60.12 310.35h2.2v2.2h-2.2zM57.51 311.18h2.2v2.2h-2.2zM53.03 305.94h2.2v2.2h-2.2zM58.13 311.02h2.2v2.2h-2.2zM65.17 310.67h2.2v2.2h-2.2zM61.45 312h2.2v2.2h-2.2zM64.74 308.35h2.2v2.2h-2.2zM61.49 309.46h2.2v2.2h-2.2zM64.01 310.35h2.2v2.2h-2.2zM65.31 310.53h2.2v2.2h-2.2zM68.21 306.87h2.2v2.2h-2.2zM66.77 309.04h2.2v2.2h-2.2zM58.33 308.94h2.2v2.2h-2.2zM59.8 308.31h2.2v2.2h-2.2zM63.67 309.62h2.2v2.2h-2.2zM50.9 304.86h2.2v2.2h-2.2zM62.62 310.52h2.2v2.2h-2.2zM57.89 312.19h2.2v2.2h-2.2zM67.3 305.72h2.2v2.2h-2.2zM58.69 308.32h2.2v2.2h-2.2zM58.62 311.3h2.2v2.2h-2.2zM60.79 308.86h2.2v2.2h-2.2zM61.28 308.9h2.2v2.2h-2.2zM63.94 311.53h2.2v2.2h-2.2zM69.53 305.62h2.2v2.2h-2.2zM65.86 306.27h2.2v2.2h-2.2zM59.91 311.61h2.2v2.2h-2.2zM67.38 303.76h2.2v2.2h-2.2zM64.36 309.51h2.2v2.2h-2.2zM66.53 307.47h2.2v2.2h-2.2zM60.61 311.03h2.2v2.2h-2.2zM55.41 310.43h2.2v2.2h-2.2zM59.63 306.5h2.2v2.2h-2.2zM57.96 311.25h2.2v2.2h-2.2zM54.12 308.92h2.2v2.2h-2.2zM61.44 310.03h2.2v2.2h-2.2zM66.19 309.77h2.2v2.2h-2.2zM55.93 309.95h2.2v2.2h-2.2zM62.47 310.75h2.2v2.2h-2.2zM57.6 308.69h2.2v2.2h-2.2zM60.75 310.49h2.2v2.2h-2.2zM65.5 308.65h2.2v2.2h-2.2zM61.55 306.02h2.2v2.2h-2.2zM61.37 311.63h2.2v2.2h-2.2zM60.85 308.13h2.2v2.2h-2.2zM60.87 311.02h2.2v2.2h-2.2zM65.18 309.18h2.2v2.2h-2.2zM53.49 308.7h2.2v2.2h-2.2zM61.32 310.7h2.2v2.2h-2.2zM63.88 309.75h2.2v2.2h-2.2zM56.42 310.03h2.2v2.2h-2.2z" fill="#000"/>
<path d="M169.62 308.1h2.2v2.2h-2.2zM172.21 312.25h2.2v2.2h-2.2zM167.42 310.27h2.2v2.2h-2.2zM172.35 310.62h2.2v2.2h-2.2zM172 309.39h2.2v2.2h-2.2zM167.55 310.76h2.2v2.2h-2.2zM170.41 305.8h2.2v2.2h-2.2zM162.95 306.24h2.2v2.2h-2.2zM169.18 312.17h2.2v2.2h-2.2zM178.01 308.94h2.2v2.2h-2.2zM179.36 306.27h2.2v2.2h-2.2zM171.8 311h2.2v2.2h-2.2zM167.64 311.75h2.2v2.2h-2.2zM169.27 311.88h2.2v2.2h-2.2zM161.98 301.28h2.2v2.2h-2.2zM169.73 307.33h2.2v2.2h-2.2zM166.37 310.36h2.2v2.2h-2.2zM183.06 300.24h2.2v2.2h-2.2zM164.42 308.1h2.2v2.2h-2.2zM172.29 310.29h2.2v2.2h-2.2zM175.56 310.13h2.2v2.2h-2.2zM163.99 308.05h2.2v2.2h-2.2zM175.36 309.63h2.2v2.2h-2.2zM162.57 307.83h2.2v2.2h-2.2zM175.99 304.23h2.2v2.2h-2.2zM172.65 311.35h2.2v2.2h-2.2zM165.44 308.05h2.2v2.2h-2.2zM170.59 311.09h2.2v2.2h-2.2zM172.72 310.82h2.2v2.2h-2.2zM165.79 308.51h2.2v2.2h-2.2zM165.77 308.9h2.2v2.2h-2.2zM161.15 305.33h2.2v2.2h-2.2zM172.2 307.82h2.2v2.2h-2.2zM170.69 309.59h2.2v2.2h-2.2zM168.8 310.14h2.2v2.2h-2.2zM167.7 307.39h2.2v2.2h-2.2zM174.38 310.12h2.2v2.2h-2.2zM183.72 301.75h2.2v2.2h-2.2zM172.88 311.28h2.2v2.2h-2.2zM169.51 305.58h2.2v2.2h-2.2zM176.43 306.1h2.2v2.2h-2.2zM168.8 311.09h2.2v2.2h-2.2zM173.53 307.92h2.2v2.2h-2.2zM161.38 300.87h2.2v2.2h-2.2zM170.12 312.28h2.2v2.2h-2.2zM171.78 310.17h2.2v2.2h-2.2zM165.5 304.56h2.2v2.2h-2.2zM171.72 311.38h2.2v2.2h-2.2zM174.37 309.22h2.2v2.2h-2.2zM169.64 308.5h2.2v2.2h-2.2zM169.85 310.59h2.2v2.2h-2.2zM168.32 310.47h2.2v2.2h-2.2zM161.74 306.54h2.2v2.2h-2.2zM171.4 311.45h2.2v2.2h-2.2zM167.54 310.78h2.2v2.2h-2.2zM177.27 309.51h2.2v2.2h-2.2zM168.37 310.46h2.2v2.2h-2.2zM170.12 308.8h2.2v2.2h-2.2zM169.9 312.39h2.2v2.2h-2.2zM177.78 306.35h2.2v2.2h-2.2zM174.54 309.37h2.2v2.2h-2.2zM173.08 308.72h2.2v2.2h-2.2zM171.65 311.24h2.2v2.2h-2.2zM167.33 305.8h2.2v2.2h-2.2zM172.67 306.56h2.2v2.2h-2.2zM172.61 311.06h2.2v2.2h-2.2zM170.41 311.2h2.2v2.2h-2.2zM171.96 306.32h2.2v2.2h-2.2zM165.77 308.51h2.2v2.2h-2.2zM175.6 305.17h2.2v2.2h-2.2zM177.61 303.16h2.2v2.2h-2.2zM173.48 306.24h2.2v2.2h-2.2zM176.85 309.21h2.2v2.2h-2.2zM165.84 304.85h2.2v2.2h-2.2zM172.98 306.5h2.2v2.2h-2.2zM171.57 310.32h2.2v2.2h-2.2zM170.85 311.19h2.2v2.2h-2.2zM175.89 306.41h2.2v2.2h-2.2zM171.67 307.05h2.2v2.2h-2.2zM167.09 311.04h2.2v2.2h-2.2zM171.21 310.49h2.2v2.2h-2.2zM172.99 311.87h2.2v2.2h-2.2zM166.62 306.11h2.2v2.2h-2.2zM173.57 311.45h2.2v2.2h-2.2zM167.85 309.68h2.2v2.2h-2.2zM175.32 310.61h2.2v2.2h-2.2zM172.24 311.83h2.2v2.2h-2.2zM172.87 311.86h2.2v2.2h-2.2zM173.46 311.45h2.2v2.2h-2.2zM173.72 309.87h2.2v2.2h-2.2z" fill="#000"/>
<path d="M72 305.13 L72.5 304.55 L73 303.97 L73.5 303.38 L74 302.79 L74.5 302.19 L75 301.58 L75.5 300.97 L76 300.36 L76.5 299.75 L77 299.14 L77.5 298.53 L78 297.93 L78.5 297.34 L79 296.75 L79.5 296.17 L80 295.6 L80.5 295.04 L81 294.49 L81.5 293.96 L82 293.45 L82.5 292.95 L83 292.47 L83.5 292.01 L84 291.57 L84.5 291.15 L85 290.76 L85.5 290.4 L86 290.06 L86.5 289.75 L87 289.47 L87.5 289.22 L88 289 L88.5 288.82 L89 288.67 L89.5 288.56 L90 288.49 L90.5 288.46 L91 288.47 L91.5 288.52 L92 288.62 L92.5 288.76 L93 288.94 L93.5 289.16 L94 289.42 L94.5 289.71 L95 290.04 L95.5 290.4 L96 290.79 L96.5 291.2 L97 291.65 L97.5 292.12 L98 292.61 L98.5 293.12 L99 293.65 L99.5 294.2 L100 294.76 L100.5 295.34 L101 295.92 L101.5 296.52 L102 297.12 L102.5 297.73 L103 298.35 L103.5 298.96 L104 299.58 L104.5 300.19 L105 300.81 L105.5 301.41 L106 302.01 L106.5 302.6 L107 303.18 L107.5 303.74 L108 304.29 L108.5 304.83 L109 305.34 L109.5 305.84 L110 306.31 L110.5 306.76 L111 307.19 L111.5 307.59 L112 307.95 L112.5 308.29 L113 308.59 L113.5 308.86 L114 309.1 L114.5 309.29 L115 309.45 L115.5 309.56 L116 309.63 L116.5 309.65 L117 309.63 L117.5 309.56 L118 309.45 L118.5 309.29 L119 309.1 L119.5 308.86 L120 308.59 L120.5 308.29 L121 307.95 L121.5 307.59 L122 307.19 L122.5 306.76 L123 306.31 L123.5 305.84 L124 305.34 L124.5 304.83 L125 304.29 L125.5 303.74 L126 303.18 L126.5 302.6 L127 302.01 L127.5 301.41 L128 300.81 L128.5 300.19 L129 299.58 L129.5 298.96 L130 298.35 L130.5 297.73 L131 297.12 L131.5 296.52 L132 295.92 L132.5 295.34 L133 294.76 L133.5 294.2 L134 293.65 L134.5 293.12 L135 292.61 L135.5 292.12 L136 291.65 L136.5 291.2 L137 290.79 L137.5 290.4 L138 290.04 L138.5 289.71 L139 289.42 L139.5 289.16 L140 288.94 L140.5 288.76 L141 288.62 L141.5 288.52 L142 288.47 L142.5 288.46 L143 288.49 L143.5 288.56 L144 288.67 L144.5 288.82 L145 289 L145.5 289.22 L146 289.47 L146.5 289.75 L147 290.06 L147.5 290.4 L148 290.76 L148.5 291.15 L149 291.57 L149.5 292.01 L150 292.47 L150.5 292.95 L151 293.45 L151.5 293.96 L152 294.49 L152.5 295.04 L153 295.6 L153.5 296.17 L154 296.75 L154.5 297.34 L155 297.93 L155.5 298.53 L156 299.14 L156.5 299.75 L157 300.36 L157.5 300.97 L158 301.58 L158.5 302.19 L159 302.79 L159.5 303.38 L160 303.97 L160.5 304.55 L161 305.13" fill="none" stroke="#ff1a1a" stroke-width="1.1" stroke-dasharray="1.4 1"/>
<path d="M30 258.8 L30.5 260.3 L31 261.79 L31.5 263.26 L32 264.71 L32.5 266.15 L33 267.57 L33.5 268.98 L34 270.37 L34.5 271.74 L35 273.09 L35.5 274.43 L36 275.75 L36.5 277.04 L37 278.32 L37.5 279.58 L38 280.83 L38.5 282.05 L39 283.25 L39.5 284.43 L40 285.59 L40.5 286.73 L41 287.85 L41.5 288.95 L42 290.03 L42.5 291.08 L43 292.12 L43.5 293.13 L44 294.11 L44.5 295.08 L45 296.02 L45.5 296.94 L46 297.83 L46.5 298.7 L47 299.55 L47.5 300.37 L48 301.16 L48.5 301.94 L49 302.68 L49.5 303.4 L50 304.09 L50.5 304.76 L51 305.4 L51.5 306.01 L52 306.6 L52.5 307.16 L53 307.69 L53.5 308.19 L54 308.67 L54.5 309.11 L55 309.53 L55.5 309.92 L56 310.28 L56.5 310.61 L57 310.91 L57.5 311.17 L58 311.41 L58.5 311.62 L59 311.8 L59.5 311.94 L60 312.05 L60.5 312.13 L61 312.18 L61.5 312.2 L62 312.18 L62.5 312.11 L63 312 L63.5 311.85 L64 311.66 L64.5 311.43 L65 311.16 L65.5 310.86 L66 310.52 L66.5 310.15 L67 309.75 L67.5 309.33 L68 308.87 L68.5 308.39 L69 307.88 L69.5 307.35 L70 306.79 L70.5 306.22 L71 305.63 L71.5 305.02 L72 304.39 L72.5 303.75 L73 303.1 L73.5 302.44 L74 301.76 L74.5 301.08 L75 300.39 L75.5 299.7 L76 299 L76.5 298.3 L77 297.6 L77.5 296.9 L78 296.2 L78.5 295.51 L79 294.82 L79.5 294.14 L80 293.46 L80.5 292.8 L81 292.15 L81.5 291.51 L82 290.88 L82.5 290.27 L83 289.68 L83.5 289.11 L84 288.55 L84.5 288.02 L85 287.51 L85.5 287.03 L86 286.57 L86.5 286.15 L87 285.75 L87.5 285.38 L88 285.04 L88.5 284.74 L89 284.47 L89.5 284.24 L90 284.05 L90.5 283.9 L91 283.79 L91.5 283.72 L92 283.7 L92.5 283.72 L93 283.79 L93.5 283.89 L94 284.03 L94.5 284.21 L95 284.42 L95.5 284.67 L96 284.95 L96.5 285.26 L97 285.59 L97.5 285.96 L98 286.34 L98.5 286.75 L99 287.18 L99.5 287.63 L100 288.09 L100.5 288.57 L101 289.06 L101.5 289.57 L102 290.08 L102.5 290.61 L103 291.14 L103.5 291.67 L104 292.21 L104.5 292.74 L105 293.28 L105.5 293.81 L106 294.34 L106.5 294.87 L107 295.38 L107.5 295.89 L108 296.38 L108.5 296.86 L109 297.32 L109.5 297.77 L110 298.2 L110.5 298.61 L111 298.99 L111.5 299.36 L112 299.69 L112.5 300 L113 300.28 L113.5 300.53 L114 300.74 L114.5 300.92 L115 301.06 L115.5 301.16 L116 301.23 L116.5 301.25 L117 301.23 L117.5 301.16 L118 301.06 L118.5 300.92 L119 300.74 L119.5 300.53 L120 300.28 L120.5 300 L121 299.69 L121.5 299.36 L122 298.99 L122.5 298.61 L123 298.2 L123.5 297.77 L124 297.32 L124.5 296.86 L125 296.38 L125.5 295.89 L126 295.38 L126.5 294.87 L127 294.34 L127.5 293.81 L128 293.28 L128.5 292.74 L129 292.21 L129.5 291.67 L130 291.14 L130.5 290.61 L131 290.08 L131.5 289.57 L132 289.06 L132.5 288.57 L133 288.09 L133.5 287.63 L134 287.18 L134.5 286.75 L135 286.34 L135.5 285.96 L136 285.59 L136.5 285.26 L137 284.95 L137.5 284.67 L138 284.42 L138.5 284.21 L139 284.03 L139.5 283.89 L140 283.79 L140.5 283.72 L141 283.7 L141.5 283.72 L142 283.79 L142.5 283.9 L143 284.05 L143.5 284.24 L144 284.47 L144.5 284.74 L145 285.04 L145.5 285.38 L146 285.75 L146.5 286.15 L147 286.57 L147.5 287.03 L148 287.51 L148.5 288.02 L149 288.55 L149.5 289.11 L150 289.68 L150.5 290.27 L151 290.88 L151.5 291.51 L152 292.15 L152.5 292.8 L153 293.46 L153.5 294.14 L154 294.82 L154.5 295.51 L155 296.2 L155.5 296.9 L156 297.6 L156.5 298.3 L157 299 L157.5 299.7 L158 300.39 L158.5 301.08 L159 301.76 L159.5 302.44 L160 303.1 L160.5 303.75 L161 304.39 L161.5 305.02 L162 305.63 L162.5 306.22 L163 306.79 L163.5 307.35 L164 307.88 L164.5 308.39 L165 308.87 L165.5 309.33 L166 309.75 L166.5 310.15 L167 310.52 L167.5 310.86 L168 311.16 L168.5 311.43 L169 311.66 L169.5 311.85 L170 312 L170.5 312.11 L171 312.18 L171.5 312.2 L172 312.18 L172.5 312.13 L173 312.05 L173.5 311.94 L174 311.8 L174.5 311.62 L175 311.41 L175.5 311.17 L176 310.91 L176.5 310.61 L177 310.28 L177.5 309.92 L178 309.53 L178.5 309.11 L179 308.67 L179.5 308.19 L180 307.69 L180.5 307.16 L181 306.6 L181.5 306.01 L182 305.4 L182.5 304.76 L183 304.09 L183.5 303.4 L184 302.68 L184.5 301.94 L185 301.16 L185.5 300.37 L186 299.55 L186.5 298.7 L187 297.83 L187.5 296.94 L188 296.02 L188.5 295.08 L189 294.11 L189.5 293.13 L190 292.12 L190.5 291.08 L191 290.03 L191.5 288.95 L192 287.85 L192.5 286.73 L193 285.59 L193.5 284.43 L194 283.25 L194.5 282.05 L195 280.83 L195.5 279.58 L196 278.32 L196.5 277.04 L197 275.75 L197.5 274.43 L198 273.09 L198.5 271.74 L199 270.37 L199.5 268.98 L200 267.57 L200.5 266.15 L201 264.71 L201.5 263.26 L202 261.79" fill="none" stroke="#0000ff" stroke-width="1.5"/>
</g>
<rect x="98.75" y="278.3" width="37.05" height="38.2" fill="none" stroke="#333" stroke-width="0.9" stroke-dasharray="3 2"/>
<rect x="154.4" y="278.3" width="37.1" height="38.2" fill="none" stroke="#333" stroke-width="0.9" />
<text x="120.6" y="270" font-size="11" text-anchor="middle" fill="#2020ff">Γ</text>
<text x="176.9" y="270" font-size="11" text-anchor="middle" fill="#2020ff">Q</text>
<path d="M132 275.5 Q146 266 156 280" fill="none" stroke="#f5b510" stroke-width="3.2"/>
<path d="M151 279 L161 287 L160.5 275 Z" fill="#f5b510"/>
<g clip-path="url(#clipCR)">
<path d="M286.5 401 L285.54 398.51 L284.27 395.18 L282.75 391.21 L281.06 386.81 L279.27 382.19 L277.45 377.54 L275.67 373.08 L274 369 L272.39 365.16 L270.74 361.3 L269.07 357.47 L267.41 353.69 L265.75 350.01 L264.12 346.48 L262.53 343.13 L261 340 L259.5 337.08 L258.02 334.34 L256.55 331.75 L255.12 329.31 L253.74 327.03 L252.42 324.88 L251.17 322.88 L250 321 L248.89 319.25 L247.8 317.63 L246.77 316.15 L245.81 314.81 L244.94 313.62 L244.16 312.59 L243.51 311.71 L243 311" fill="none" stroke="#2c3636" stroke-width="1.6" stroke-dasharray="1.6 1.6"/>
<path d="M261 340 L260.12 338.47 L258.93 336.38 L257.5 333.87 L255.94 331.12 L254.32 328.3 L252.73 325.56 L251.26 323.07 L250 321 L248.89 319.25 L247.8 317.63 L246.77 316.15 L245.81 314.81 L244.94 313.62 L244.16 312.59 L243.51 311.71 L243 311" fill="none" stroke="#2c3636" stroke-width="2" stroke-dasharray="2.5 0.8"/>
<path d="M314.5 402 L315.36 399.43 L316.5 395.98 L317.87 391.87 L319.39 387.31 L320.98 382.53 L322.58 377.74 L324.11 373.16 L325.5 369 L326.79 365.1 L328.05 361.19 L329.29 357.3 L330.51 353.5 L331.72 349.82 L332.92 346.31 L334.11 343.02 L335.3 340 L336.48 337.26 L337.65 334.77 L338.8 332.48 L339.95 330.38 L341.09 328.41 L342.23 326.55 L343.36 324.76 L344.5 323 L345.7 321.26 L346.97 319.57 L348.29 317.95 L349.57 316.44 L350.79 315.06 L351.89 313.84 L352.81 312.81 L353.5 312" fill="none" stroke="#4a1010" stroke-width="1.5" stroke-dasharray="1.8 3"/>
<path d="M328 360 L328.55 358.44 L329.27 356.34 L330.12 353.83 L331.08 351.06 L332.1 348.16 L333.17 345.26 L334.25 342.49 L335.3 340 L336.36 337.69 L337.47 335.4 L338.62 333.14 L339.79 330.94 L340.98 328.8 L342.17 326.76 L343.35 324.82 L344.5 323 L345.7 321.26 L346.97 319.57 L348.29 317.95 L349.57 316.44 L350.79 315.06 L351.89 313.84 L352.81 312.81 L353.5 312" fill="none" stroke="#4a1010" stroke-width="2" stroke-dasharray="3 0.8"/>
<line x1="299.3" y1="451" x2="279.5" y2="384.5" stroke="#f4f4ff" stroke-width="1.2" />
<line x1="299.3" y1="451" x2="323.3" y2="373.4" stroke="#ffb0b0" stroke-width="1.2" />
<path d="M251.48 304.88h1.5v1.5h-1.5zM243.66 302.89h1.5v1.5h-1.5zM239.12 306.2h1.5v1.5h-1.5zM250.77 306.89h1.5v1.5h-1.5zM225.31 284.1h1.5v1.5h-1.5zM251.15 304.92h1.5v1.5h-1.5zM251.96 305.06h1.5v1.5h-1.5zM227.77 291.03h1.5v1.5h-1.5zM249.16 307.56h1.5v1.5h-1.5zM255.78 298.81h1.5v1.5h-1.5zM251.16 307.26h1.5v1.5h-1.5zM239.95 305.54h1.5v1.5h-1.5zM239.74 310.8h1.5v1.5h-1.5zM240.39 308.27h1.5v1.5h-1.5zM259.1 293.59h1.5v1.5h-1.5zM247.41 296.44h1.5v1.5h-1.5zM236.08 309.1h1.5v1.5h-1.5zM235.58 308.76h1.5v1.5h-1.5zM240.73 302.19h1.5v1.5h-1.5zM241.99 307.17h1.5v1.5h-1.5zM241.17 310.52h1.5v1.5h-1.5zM257.69 293.97h1.5v1.5h-1.5zM253.91 305.22h1.5v1.5h-1.5zM243.81 310h1.5v1.5h-1.5zM248.04 304.08h1.5v1.5h-1.5zM252.29 295.69h1.5v1.5h-1.5zM249.47 309.86h1.5v1.5h-1.5zM226.13 289.35h1.5v1.5h-1.5zM234.06 291.79h1.5v1.5h-1.5zM227.87 295.47h1.5v1.5h-1.5zM240.17 308.58h1.5v1.5h-1.5zM250.32 306.25h1.5v1.5h-1.5zM243.05 312.49h1.5v1.5h-1.5zM225.45 281.58h1.5v1.5h-1.5zM252.28 307.93h1.5v1.5h-1.5zM240.56 308.58h1.5v1.5h-1.5zM231.58 294.6h1.5v1.5h-1.5zM227.06 293.88h1.5v1.5h-1.5zM234.22 302.24h1.5v1.5h-1.5zM254.1 299.45h1.5v1.5h-1.5zM249.28 300.1h1.5v1.5h-1.5zM259.45 300h1.5v1.5h-1.5zM257.34 293.49h1.5v1.5h-1.5zM243.42 304.66h1.5v1.5h-1.5zM255.15 289.27h1.5v1.5h-1.5z" fill="#000"/>
<path d="M308.28 298.47h1.5v1.5h-1.5zM298.86 307.52h1.5v1.5h-1.5zM304.57 301.32h1.5v1.5h-1.5zM309.05 293.86h1.5v1.5h-1.5zM291.86 303.59h1.5v1.5h-1.5zM284.96 296.63h1.5v1.5h-1.5zM293.44 301.89h1.5v1.5h-1.5zM301.16 304.86h1.5v1.5h-1.5zM306.54 300.59h1.5v1.5h-1.5zM306.97 298.23h1.5v1.5h-1.5zM301.24 305.15h1.5v1.5h-1.5zM296.8 306.1h1.5v1.5h-1.5zM313.92 290.63h1.5v1.5h-1.5zM302.69 303.1h1.5v1.5h-1.5zM309.05 291.54h1.5v1.5h-1.5zM295.56 302.38h1.5v1.5h-1.5zM308.62 301.1h1.5v1.5h-1.5zM312.12 292.54h1.5v1.5h-1.5zM308.41 299.99h1.5v1.5h-1.5zM301.36 304.29h1.5v1.5h-1.5zM289.93 300.61h1.5v1.5h-1.5zM297.5 303.21h1.5v1.5h-1.5zM306.02 303.02h1.5v1.5h-1.5zM296.4 304.51h1.5v1.5h-1.5zM286.72 294.57h1.5v1.5h-1.5zM304.03 300.57h1.5v1.5h-1.5zM302 305.96h1.5v1.5h-1.5zM283.2 293.99h1.5v1.5h-1.5zM298.41 305.64h1.5v1.5h-1.5zM284.01 294.01h1.5v1.5h-1.5zM293.69 303.57h1.5v1.5h-1.5zM308.89 294.93h1.5v1.5h-1.5zM311.37 292.59h1.5v1.5h-1.5zM291.08 302.98h1.5v1.5h-1.5zM301.13 306.72h1.5v1.5h-1.5zM317.25 288.39h1.5v1.5h-1.5zM309.59 294.38h1.5v1.5h-1.5zM305.06 304.36h1.5v1.5h-1.5zM289.23 289.83h1.5v1.5h-1.5zM282.96 293.95h1.5v1.5h-1.5zM305.68 302.02h1.5v1.5h-1.5zM301.99 305.26h1.5v1.5h-1.5zM309.09 293.18h1.5v1.5h-1.5zM288.12 294.41h1.5v1.5h-1.5zM286.26 293.73h1.5v1.5h-1.5zM310.93 296.48h1.5v1.5h-1.5zM283.15 295.1h1.5v1.5h-1.5zM293.17 300.02h1.5v1.5h-1.5zM296.13 295.96h1.5v1.5h-1.5zM307.28 295.84h1.5v1.5h-1.5zM304.2 301.85h1.5v1.5h-1.5zM285.82 297.06h1.5v1.5h-1.5zM303.26 296.4h1.5v1.5h-1.5zM286.49 290.46h1.5v1.5h-1.5zM294.4 305.52h1.5v1.5h-1.5zM297.24 303.52h1.5v1.5h-1.5zM294.19 301.96h1.5v1.5h-1.5zM311.99 296.64h1.5v1.5h-1.5zM315.88 291.67h1.5v1.5h-1.5zM304.5 301.42h1.5v1.5h-1.5zM297.49 300.76h1.5v1.5h-1.5zM307.93 298.11h1.5v1.5h-1.5zM310.54 298.38h1.5v1.5h-1.5zM301.09 301.9h1.5v1.5h-1.5zM307.84 301.53h1.5v1.5h-1.5zM291.64 298.72h1.5v1.5h-1.5zM285.28 290.29h1.5v1.5h-1.5zM313.11 296.28h1.5v1.5h-1.5zM303.61 300.22h1.5v1.5h-1.5zM295.51 297.41h1.5v1.5h-1.5zM288.61 299.66h1.5v1.5h-1.5zM289.67 301.14h1.5v1.5h-1.5zM313.06 292.18h1.5v1.5h-1.5zM306.79 303h1.5v1.5h-1.5zM315.43 293.49h1.5v1.5h-1.5z" fill="#000"/>
<path d="M336.16 297.65h1.5v1.5h-1.5zM359.03 303h1.5v1.5h-1.5zM356.73 307.32h1.5v1.5h-1.5zM360.21 303.59h1.5v1.5h-1.5zM336.41 297.54h1.5v1.5h-1.5zM343.66 296.74h1.5v1.5h-1.5zM353.02 304.44h1.5v1.5h-1.5zM347.72 309.33h1.5v1.5h-1.5zM358.61 305.95h1.5v1.5h-1.5zM342.46 296.57h1.5v1.5h-1.5zM341.8 302.08h1.5v1.5h-1.5zM337.31 297.3h1.5v1.5h-1.5zM351.47 312.3h1.5v1.5h-1.5zM340.61 299.65h1.5v1.5h-1.5zM349.71 308.91h1.5v1.5h-1.5zM351.09 293.59h1.5v1.5h-1.5zM342.87 302.81h1.5v1.5h-1.5zM340.98 301.81h1.5v1.5h-1.5zM339.35 294.11h1.5v1.5h-1.5zM342.58 305.45h1.5v1.5h-1.5zM366.38 292.43h1.5v1.5h-1.5zM337.54 297.14h1.5v1.5h-1.5zM362.78 293.29h1.5v1.5h-1.5zM352.77 312.09h1.5v1.5h-1.5zM349.21 307.54h1.5v1.5h-1.5zM335 296.27h1.5v1.5h-1.5zM365.25 291.43h1.5v1.5h-1.5zM346.87 308.34h1.5v1.5h-1.5zM335.77 297.14h1.5v1.5h-1.5zM338.32 299.89h1.5v1.5h-1.5zM352.39 305.43h1.5v1.5h-1.5zM337.28 279.31h1.5v1.5h-1.5zM359.24 301.09h1.5v1.5h-1.5zM340.92 296.79h1.5v1.5h-1.5zM351.02 305.3h1.5v1.5h-1.5zM362.5 305.48h1.5v1.5h-1.5zM366.91 298.5h1.5v1.5h-1.5zM353.98 303.77h1.5v1.5h-1.5zM358.41 306.86h1.5v1.5h-1.5zM340.42 302.37h1.5v1.5h-1.5zM355.7 310.25h1.5v1.5h-1.5zM335.8 295.17h1.5v1.5h-1.5zM333.34 287.24h1.5v1.5h-1.5zM343.15 303.93h1.5v1.5h-1.5zM341.12 301.76h1.5v1.5h-1.5zM348.69 300.89h1.5v1.5h-1.5zM356.62 301.37h1.5v1.5h-1.5zM354.5 307.22h1.5v1.5h-1.5zM355.73 305.89h1.5v1.5h-1.5zM351.77 309.74h1.5v1.5h-1.5zM355.27 301.76h1.5v1.5h-1.5zM335.68 291.51h1.5v1.5h-1.5zM338.89 298.09h1.5v1.5h-1.5zM352.6 302h1.5v1.5h-1.5zM343.06 299.12h1.5v1.5h-1.5z" fill="#000"/>
<path d="M328.71 289.87h1.5v1.5h-1.5zM301.81 279.1h1.5v1.5h-1.5zM245.11 268.21h1.5v1.5h-1.5zM292.57 274.99h1.5v1.5h-1.5zM268.05 269.44h1.5v1.5h-1.5zM364.11 287.31h1.5v1.5h-1.5zM311.9 290.07h1.5v1.5h-1.5zM369.19 283.38h1.5v1.5h-1.5zM270.63 268.22h1.5v1.5h-1.5zM336.35 278.54h1.5v1.5h-1.5z" fill="#000"/>
<path d="M255 304.14 L255.5 303.49 L256 302.84 L256.5 302.17 L257 301.49 L257.5 300.81 L258 300.12 L258.5 299.42 L259 298.72 L259.5 298.02 L260 297.32 L260.5 296.62 L261 295.92 L261.5 295.23 L262 294.55 L262.5 293.87 L263 293.2 L263.5 292.54 L264 291.89 L264.5 291.26 L265 290.64 L265.5 290.03 L266 289.45 L266.5 288.88 L267 288.34 L267.5 287.82 L268 287.32 L268.5 286.85 L269 286.4 L269.5 285.98 L270 285.6 L270.5 285.24 L271 284.92 L271.5 284.63 L272 284.38 L272.5 284.16 L273 283.99 L273.5 283.85 L274 283.76 L274.5 283.71 L275 283.7 L275.5 283.74 L276 283.82 L276.5 283.94 L277 284.1 L277.5 284.29 L278 284.52 L278.5 284.78 L279 285.07 L279.5 285.39 L280 285.74 L280.5 286.11 L281 286.5 L281.5 286.92 L282 287.36 L282.5 287.81 L283 288.28 L283.5 288.77 L284 289.27 L284.5 289.77 L285 290.29 L285.5 290.82 L286 291.35 L286.5 291.88 L287 292.42 L287.5 292.96 L288 293.49 L288.5 294.03 L289 294.55 L289.5 295.07 L290 295.58 L290.5 296.08 L291 296.57 L291.5 297.05 L292 297.5 L292.5 297.94 L293 298.37 L293.5 298.77 L294 299.14 L294.5 299.49 L295 299.82 L295.5 300.11 L296 300.38 L296.5 300.61 L297 300.82 L297.5 300.98 L298 301.11 L298.5 301.2 L299 301.24 L299.5 301.25 L300 301.21 L300.5 301.13 L301 301.01 L301.5 300.85 L302 300.66 L302.5 300.43 L303 300.17 L303.5 299.88 L304 299.56 L304.5 299.21 L305 298.84 L305.5 298.45 L306 298.03 L306.5 297.59 L307 297.14 L307.5 296.67 L308 296.18 L308.5 295.68 L309 295.18 L309.5 294.66 L310 294.13 L310.5 293.6 L311 293.07 L311.5 292.53 L312 291.99 L312.5 291.46 L313 290.92 L313.5 290.4 L314 289.88 L314.5 289.37 L315 288.87 L315.5 288.38 L316 287.9 L316.5 287.45 L317 287.01 L317.5 286.58 L318 286.18 L318.5 285.81 L319 285.46 L319.5 285.13 L320 284.84 L320.5 284.57 L321 284.34 L321.5 284.13 L322 283.97 L322.5 283.84 L323 283.75 L323.5 283.71 L324 283.7 L324.5 283.74 L325 283.83 L325.5 283.96 L326 284.12 L326.5 284.33 L327 284.58 L327.5 284.86 L328 285.17 L328.5 285.52 L329 285.9 L329.5 286.31 L330 286.75 L330.5 287.22 L331 287.71 L331.5 288.23 L332 288.77 L332.5 289.33 L333 289.91 L333.5 290.51 L334 291.13 L334.5 291.76 L335 292.41 L335.5 293.06 L336 293.73 L336.5 294.41 L337 295.09 L337.5 295.78 L338 296.48 L338.5 297.18 L339 297.88 L339.5 298.58 L340 299.28 L340.5 299.98 L341 300.67 L341.5 301.35 L342 302.03 L342.5 302.7 L343 303.36 L343.5 304.01 L344 304.64" fill="none" stroke="#2a3aff" stroke-width="1.1" stroke-dasharray="1.4 1"/>
<path d="M213 259.43 L213.5 260.88 L214 262.31 L214.5 263.74 L215 265.15 L215.5 266.54 L216 267.93 L216.5 269.29 L217 270.65 L217.5 271.99 L218 273.31 L218.5 274.62 L219 275.91 L219.5 277.18 L220 278.44 L220.5 279.68 L221 280.91 L221.5 282.11 L222 283.3 L222.5 284.47 L223 285.62 L223.5 286.75 L224 287.86 L224.5 288.96 L225 290.03 L225.5 291.08 L226 292.11 L226.5 293.12 L227 294.1 L227.5 295.07 L228 296.01 L228.5 296.93 L229 297.82 L229.5 298.7 L230 299.54 L230.5 300.37 L231 301.17 L231.5 301.94 L232 302.69 L232.5 303.42 L233 304.12 L233.5 304.79 L234 305.43 L234.5 306.05 L235 306.64 L235.5 307.21 L236 307.74 L236.5 308.25 L237 308.73 L237.5 309.17 L238 309.59 L238.5 309.98 L239 310.34 L239.5 310.67 L240 310.97 L240.5 311.23 L241 311.47 L241.5 311.67 L242 311.84 L242.5 311.98 L243 312.09 L243.5 312.16 L244 312.19 L244.5 312.2 L245 312.16 L245.5 312.1 L246 312 L246.5 311.86 L247 311.7 L247.5 311.5 L248 311.27 L248.5 311.02 L249 310.74 L249.5 310.44 L250 310.11 L250.5 309.76 L251 309.38 L251.5 308.99 L252 308.57 L252.5 308.14 L253 307.69 L253.5 307.23 L254 306.75 L254.5 306.26 L255 305.75 L255.5 305.23 L256 304.71 L256.5 304.17 L257 303.63 L257.5 303.08 L258 302.53 L258.5 301.98 L259 301.42 L259.5 300.86 L260 300.3 L260.5 299.74 L261 299.18 L261.5 298.63 L262 298.08 L262.5 297.53 L263 297 L263.5 296.47 L264 295.95 L264.5 295.44 L265 294.95 L265.5 294.47 L266 294 L266.5 293.55 L267 293.11 L267.5 292.69 L268 292.29 L268.5 291.92 L269 291.56 L269.5 291.23 L270 290.92 L270.5 290.63 L271 290.37 L271.5 290.14 L272 289.94 L272.5 289.77 L273 289.63 L273.5 289.52 L274 289.45 L274.5 289.41 L275 289.4 L275.5 289.44 L276 289.52 L276.5 289.64 L277 289.8 L277.5 289.99 L278 290.22 L278.5 290.48 L279 290.77 L279.5 291.09 L280 291.44 L280.5 291.81 L281 292.21 L281.5 292.63 L282 293.07 L282.5 293.52 L283 293.99 L283.5 294.48 L284 294.98 L284.5 295.49 L285 296.01 L285.5 296.54 L286 297.07 L286.5 297.61 L287 298.15 L287.5 298.68 L288 299.22 L288.5 299.76 L289 300.28 L289.5 300.8 L290 301.32 L290.5 301.82 L291 302.31 L291.5 302.78 L292 303.24 L292.5 303.69 L293 304.11 L293.5 304.51 L294 304.89 L294.5 305.24 L295 305.56 L295.5 305.86 L296 306.13 L296.5 306.36 L297 306.56 L297.5 306.73 L298 306.86 L298.5 306.94 L299 306.99 L299.5 307 L300 306.96 L300.5 306.88 L301 306.76 L301.5 306.6 L302 306.41 L302.5 306.18 L303 305.92 L303.5 305.63 L304 305.31 L304.5 304.96 L305 304.59 L305.5 304.19 L306 303.77 L306.5 303.33 L307 302.88 L307.5 302.41 L308 301.92 L308.5 301.42 L309 300.91 L309.5 300.39 L310 299.86 L310.5 299.33 L311 298.79 L311.5 298.25 L312 297.72 L312.5 297.18 L313 296.64 L313.5 296.12 L314 295.6 L314.5 295.08 L315 294.58 L315.5 294.09 L316 293.62 L316.5 293.16 L317 292.71 L317.5 292.29 L318 291.89 L318.5 291.51 L319 291.16 L319.5 290.84 L320 290.54 L320.5 290.27 L321 290.04 L321.5 289.84 L322 289.67 L322.5 289.54 L323 289.46 L323.5 289.41 L324 289.4 L324.5 289.44 L325 289.5 L325.5 289.6 L326 289.74 L326.5 289.9 L327 290.1 L327.5 290.33 L328 290.58 L328.5 290.86 L329 291.16 L329.5 291.49 L330 291.84 L330.5 292.22 L331 292.61 L331.5 293.03 L332 293.46 L332.5 293.91 L333 294.37 L333.5 294.85 L334 295.34 L334.5 295.85 L335 296.37 L335.5 296.89 L336 297.43 L336.5 297.97 L337 298.52 L337.5 299.07 L338 299.62 L338.5 300.18 L339 300.74 L339.5 301.3 L340 301.86 L340.5 302.42 L341 302.97 L341.5 303.52 L342 304.07 L342.5 304.6 L343 305.13 L343.5 305.65 L344 306.16 L344.5 306.65 L345 307.13 L345.5 307.6 L346 308.05 L346.5 308.49 L347 308.91 L347.5 309.31 L348 309.68 L348.5 310.04 L349 310.37 L349.5 310.68 L350 310.97 L350.5 311.23 L351 311.46 L351.5 311.66 L352 311.83 L352.5 311.97 L353 312.08 L353.5 312.15 L354 312.19 L354.5 312.2 L355 312.17 L355.5 312.1 L356 312 L356.5 311.87 L357 311.71 L357.5 311.51 L358 311.28 L358.5 311.02 L359 310.73 L359.5 310.41 L360 310.06 L360.5 309.67 L361 309.26 L361.5 308.82 L362 308.35 L362.5 307.85 L363 307.32 L363.5 306.76 L364 306.17 L364.5 305.56 L365 304.92 L365.5 304.25 L366 303.56 L366.5 302.84 L367 302.1 L367.5 301.33 L368 300.53 L368.5 299.71 L369 298.87 L369.5 298 L370 297.11 L370.5 296.19 L371 295.26 L371.5 294.3 L372 293.31 L372.5 292.31 L373 291.28 L373.5 290.24 L374 289.17 L374.5 288.08 L375 286.98 L375.5 285.85 L376 284.7 L376.5 283.54 L377 282.35 L377.5 281.15 L378 279.93 L378.5 278.69 L379 277.44 L379.5 276.17 L380 274.88 L380.5 273.57 L381 272.25 L381.5 270.92 L382 269.57 L382.5 268.2 L383 266.82 L383.5 265.43 L384 264.02 L384.5 262.6 L385 261.17" fill="none" stroke="#ff0000" stroke-width="1.5"/>
</g>
<rect x="279.2" y="278.3" width="37.5" height="38.2" fill="none" stroke="#333" stroke-width="0.9" stroke-dasharray="3 2"/>
<rect x="334.4" y="278.3" width="36.85" height="38.2" fill="none" stroke="#333" stroke-width="0.9" />
<text x="304.6" y="270" font-size="11" text-anchor="middle" fill="#ff2020">Γ</text>
<text x="360.8" y="270" font-size="11" text-anchor="middle" fill="#ff2020">Q</text>
<path d="M313 275.5 Q327 266 337 280" fill="none" stroke="#f5b510" stroke-width="3.2"/>
<path d="M332 279 L342 287 L341.5 275 Z" fill="#f5b510"/>
<path d="M339 319.5 Q325 328 314 313" fill="none" stroke="#f5b510" stroke-width="3.2"/>
<path d="M309 308 L310 320 L319 313 Z" fill="#f5b510"/>
<path d="M30.3 450.8 L30.3 248 L201.6 248" fill="none" stroke="#6a6a6a" stroke-width="1.5"/>
<path d="M30.3 450.8 L201.6 450.8 L201.6 248" fill="none" stroke="#2a2a2a" stroke-width="1.3"/>
<line x1="39.15" y1="450.8" x2="39.15" y2="445.8" stroke="#111" stroke-width="1.4" />
<text x="39.15" y="461.4" font-size="11.3" text-anchor="middle" fill="#222">-0.2</text>
<line x1="116.45" y1="450.8" x2="116.45" y2="445.8" stroke="#111" stroke-width="1.4" />
<text x="116.45" y="461.4" font-size="11.3" text-anchor="middle" fill="#222">0.0</text>
<line x1="193.75" y1="450.8" x2="193.75" y2="445.8" stroke="#111" stroke-width="1.4" />
<text x="193.75" y="461.4" font-size="11.3" text-anchor="middle" fill="#222">0.2</text>
<line x1="30.3" y1="450.8" x2="36.3" y2="450.8" stroke="#111" stroke-width="1.4" />
<line x1="30.3" y1="400.1" x2="36.3" y2="400.1" stroke="#111" stroke-width="1.4" />
<line x1="30.3" y1="349.4" x2="36.3" y2="349.4" stroke="#111" stroke-width="1.4" />
<line x1="30.3" y1="298.7" x2="36.3" y2="298.7" stroke="#111" stroke-width="1.4" />
<line x1="30.3" y1="248" x2="36.3" y2="248" stroke="#111" stroke-width="1.4" />
<text x="102.15" y="476" font-size="11" fill="#222">k<tspan font-size="7.5" dy="2.5">||</tspan><tspan dy="-2.5"> (Å</tspan><tspan font-size="7.5" dy="-5">−1</tspan><tspan dy="5">)</tspan></text>
<path d="M213.5 450.8 L213.5 248 L384.3 248" fill="none" stroke="#6a6a6a" stroke-width="1.5"/>
<path d="M213.5 450.8 L384.3 450.8 L384.3 248" fill="none" stroke="#2a2a2a" stroke-width="1.3"/>
<line x1="222.05" y1="450.8" x2="222.05" y2="445.8" stroke="#111" stroke-width="1.4" />
<text x="222.05" y="461.4" font-size="11.3" text-anchor="middle" fill="#222">-0.2</text>
<line x1="299.35" y1="450.8" x2="299.35" y2="445.8" stroke="#111" stroke-width="1.4" />
<text x="299.35" y="461.4" font-size="11.3" text-anchor="middle" fill="#222">0.0</text>
<line x1="376.65" y1="450.8" x2="376.65" y2="445.8" stroke="#111" stroke-width="1.4" />
<text x="376.65" y="461.4" font-size="11.3" text-anchor="middle" fill="#222">0.2</text>
<line x1="213.5" y1="450.8" x2="219.5" y2="450.8" stroke="#111" stroke-width="1.4" />
<line x1="213.5" y1="400.1" x2="219.5" y2="400.1" stroke="#111" stroke-width="1.4" />
<line x1="213.5" y1="349.4" x2="219.5" y2="349.4" stroke="#111" stroke-width="1.4" />
<line x1="213.5" y1="298.7" x2="219.5" y2="298.7" stroke="#111" stroke-width="1.4" />
<line x1="213.5" y1="248" x2="219.5" y2="248" stroke="#111" stroke-width="1.4" />
<text x="285.05" y="476" font-size="11" fill="#222">k<tspan font-size="7.5" dy="2.5">||</tspan><tspan dy="-2.5"> (Å</tspan><tspan font-size="7.5" dy="-5">−1</tspan><tspan dy="5">)</tspan></text>
<text x="29" y="454.8" font-size="11.3" text-anchor="end" fill="#222">0.0</text>
<text x="29" y="404.1" font-size="11.3" text-anchor="end" fill="#222">0.1</text>
<text x="29" y="353.4" font-size="11.3" text-anchor="end" fill="#222">0.2</text>
<text x="29" y="302.7" font-size="11.3" text-anchor="end" fill="#222">0.3</text>
<text x="29" y="252" font-size="11.3" text-anchor="end" fill="#222">0.4</text>
<text x="0" y="0" font-size="12" fill="#222" transform="translate(9.6 379.5) rotate(-90)"><tspan font-style="italic">E</tspan><tspan dx="1">−</tspan><tspan dx="1" font-style="italic">E</tspan><tspan font-size="8" dy="3.5">D</tspan><tspan dy="-3.5">(eV)</tspan></text>
<text x="117.6" y="245" font-size="11.5" text-anchor="middle" fill="#2020ff">30 K</text>
<text x="297" y="245" font-size="11.5" text-anchor="middle" fill="#ff1010">180 K</text>
<path d="M424 451.2 L424 248 L544.4 248" fill="none" stroke="#8c8c8c" stroke-width="1.5"/>
<path d="M424 451.2 L544.4 451.2 L544.4 248" fill="none" stroke="#3a3a3a" stroke-width="1.1"/>
<path d="M561.8 451.2 L561.8 248 L681.7 248" fill="none" stroke="#8c8c8c" stroke-width="1.5"/>
<path d="M561.8 451.2 L681.7 451.2 L681.7 248" fill="none" stroke="#3a3a3a" stroke-width="1.1"/>
<line x1="424" y1="260.3" x2="428" y2="260.3" stroke="#4d4d4d" stroke-width="1.1" />
<text x="420.5" y="264.3" font-size="11.3" text-anchor="end" fill="#222">1</text>
<line x1="424" y1="449" x2="428" y2="449" stroke="#4d4d4d" stroke-width="1.1" />
<text x="420.5" y="453" font-size="11.3" text-anchor="end" fill="#222">0</text>
<line x1="428.75" y1="451.2" x2="428.75" y2="447.2" stroke="#4d4d4d" stroke-width="1.1" />
<text x="428.75" y="461.4" font-size="11.3" text-anchor="middle" fill="#222">0</text>
<line x1="525.6" y1="451.2" x2="525.6" y2="447.2" stroke="#4d4d4d" stroke-width="1.1" />
<text x="525.6" y="461.4" font-size="11.3" text-anchor="middle" fill="#222">1</text>
<line x1="561.8" y1="260.3" x2="565.8" y2="260.3" stroke="#4d4d4d" stroke-width="1.1" />
<text x="558.3" y="264.3" font-size="11.3" text-anchor="end" fill="#222">1</text>
<line x1="561.8" y1="448.5" x2="565.8" y2="448.5" stroke="#4d4d4d" stroke-width="1.1" />
<text x="558.3" y="452.5" font-size="11.3" text-anchor="end" fill="#222">0</text>
<line x1="568.8" y1="451.2" x2="568.8" y2="447.2" stroke="#4d4d4d" stroke-width="1.1" />
<text x="568.8" y="461.4" font-size="11.3" text-anchor="middle" fill="#222">0</text>
<line x1="624.5" y1="451.2" x2="624.5" y2="447.2" stroke="#4d4d4d" stroke-width="1.1" />
<text x="624.5" y="461.4" font-size="11.3" text-anchor="middle" fill="#222">5</text>
<line x1="680.2" y1="451.2" x2="680.2" y2="447.2" stroke="#4d4d4d" stroke-width="1.1" />
<text x="680.2" y="461.4" font-size="11.3" text-anchor="middle" fill="#222">10</text>
<text x="419" y="341.2" font-size="11.5" text-anchor="middle" fill="#222" textLength="74" lengthAdjust="spacingAndGlyphs" transform="rotate(-90 419 341.2)">Intensity (a.u.)</text>
<text x="556.8" y="341.2" font-size="11.5" text-anchor="middle" fill="#222" textLength="74" lengthAdjust="spacingAndGlyphs" transform="rotate(-90 556.8 341.2)">Intensity (a.u.)</text>
<text x="449.4" y="473" font-size="11" text-anchor="start" fill="#222" textLength="57" lengthAdjust="spacingAndGlyphs">Time (a.u.)</text>
<text x="596.8" y="473" font-size="11" text-anchor="start" fill="#222" textLength="53.6" lengthAdjust="spacingAndGlyphs">Delay (ps)</text>
<text x="418.6" y="243.1" font-size="11.3" text-anchor="start" fill="#222" textLength="68.3" lengthAdjust="spacingAndGlyphs">Model (KMC)</text>
<text x="489.5" y="243.1" font-size="11.3" text-anchor="start" fill="#2020ff" textLength="21.5" lengthAdjust="spacingAndGlyphs">30 K</text>
<text x="514.3" y="243.1" font-size="11.3" text-anchor="start" fill="#222">&amp;</text>
<text x="521.5" y="243.1" font-size="11.3" text-anchor="start" fill="#ff1010" textLength="27" lengthAdjust="spacingAndGlyphs">180 K</text>
<text x="579" y="243.1" font-size="11.3" text-anchor="start" fill="#222" textLength="23.5" lengthAdjust="spacingAndGlyphs">Data</text>
<text x="609" y="243.1" font-size="11.3" text-anchor="start" fill="#2020ff" textLength="20.5" lengthAdjust="spacingAndGlyphs">30 K</text>
<text x="632.3" y="243.1" font-size="11.3" text-anchor="start" fill="#222">&amp;</text>
<text x="639.6" y="243.1" font-size="11.3" text-anchor="start" fill="#ff1010" textLength="26.4" lengthAdjust="spacingAndGlyphs">180 K</text>
<clipPath id="clipDL"><rect x="424" y="248" width="120.4" height="203.2"/></clipPath>
<g clip-path="url(#clipDL)">
<path d="M424 449 L424.3 448.99 L424.6 448.95 L424.9 448.9 L425.2 448.82 L425.5 448.73 L425.8 448.62 L426.1 448.49 L426.4 448.34 L426.7 448.18 L427 448 L427.3 447.08 L427.6 444.81 L427.9 441.34 L428.2 436.85 L428.5 431.5 L428.8 425.45 L429.1 418.88 L429.4 411.95 L429.7 404.82 L430 397.67 L430.3 390.65 L430.6 383.93 L430.9 377.69 L431.2 372.08 L431.5 367.28 L431.8 363.36 L432.1 359.54 L432.4 355.61 L432.7 351.7 L433 347.91 L433.3 344.36 L433.6 341.15 L433.9 338.39 L434.2 336.2 L434.5 334.68 L434.8 333.95 L435.1 333.9 L435.4 333.91 L435.7 333.93 L436 333.95 L436.3 333.98 L436.6 334.02 L436.9 334.06 L437.2 334.11 L437.5 334.17 L437.8 334.23 L438.1 334.3 L438.4 334.38 L438.7 334.46 L439 334.54 L439.3 334.63 L439.6 334.73 L439.9 334.83 L440.2 334.93 L440.5 335.05 L440.8 335.16 L441.1 335.28 L441.4 335.4 L441.7 335.53 L442 335.66 L442.3 335.79 L442.6 335.93 L442.9 336.07 L443.2 336.21 L443.5 336.36 L443.8 336.51 L444.1 336.66 L444.4 336.81 L444.7 336.97 L445 337.13 L445.3 337.29 L445.6 337.45 L445.9 337.61 L446.2 337.77 L446.5 337.94 L446.8 338.1 L447.1 338.27 L447.4 338.43 L447.7 338.6 L448 338.77 L448.3 338.93 L448.6 339.1 L448.9 339.27 L449.2 339.43 L449.5 339.6 L449.8 339.76 L450.1 339.93 L450.4 340.09 L450.7 340.25 L451 340.41 L451.3 340.56 L451.6 340.72 L451.9 340.87 L452.2 341.02 L452.5 341.17 L452.8 341.32 L453.1 341.46 L453.4 341.6 L453.7 341.74 L454 341.87 L454.3 342 L454.6 342.13 L454.9 342.26 L455.2 342.38 L455.5 342.51 L455.8 342.64 L456.1 342.77 L456.4 342.9 L456.7 343.02 L457 343.15 L457.3 343.28 L457.6 343.41 L457.9 343.54 L458.2 343.67 L458.5 343.8 L458.8 343.92 L459.1 344.05 L459.4 344.18 L459.7 344.31 L460 344.44 L460.3 344.57 L460.6 344.7 L460.9 344.83 L461.2 344.96 L461.5 345.09 L461.8 345.22 L462.1 345.35 L462.4 345.48 L462.7 345.61 L463 345.74 L463.3 345.87 L463.6 346 L463.9 346.13 L464.2 346.26 L464.5 346.39 L464.8 346.52 L465.1 346.65 L465.4 346.78 L465.7 346.92 L466 347.05 L466.3 347.18 L466.6 347.31 L466.9 347.44 L467.2 347.58 L467.5 347.71 L467.8 347.84 L468.1 347.97 L468.4 348.11 L468.7 348.24 L469 348.37 L469.3 348.51 L469.6 348.64 L469.9 348.78 L470.2 348.91 L470.5 349.04 L470.8 349.18 L471.1 349.32 L471.4 349.45 L471.7 349.59 L472 349.73 L472.3 349.86 L472.6 350 L472.9 350.14 L473.2 350.28 L473.5 350.42 L473.8 350.56 L474.1 350.7 L474.4 350.84 L474.7 350.98 L475 351.12 L475.3 351.27 L475.6 351.41 L475.9 351.55 L476.2 351.69 L476.5 351.83 L476.8 351.98 L477.1 352.12 L477.4 352.26 L477.7 352.4 L478 352.55 L478.3 352.69 L478.6 352.83 L478.9 352.97 L479.2 353.12 L479.5 353.26 L479.8 353.4 L480.1 353.54 L480.4 353.68 L480.7 353.82 L481 353.96 L481.3 354.11 L481.6 354.25 L481.9 354.39 L482.2 354.52 L482.5 354.66 L482.8 354.8 L483.1 354.94 L483.4 355.08 L483.7 355.21 L484 355.35 L484.3 355.48 L484.6 355.62 L484.9 355.75 L485.2 355.89 L485.5 356.02 L485.8 356.15 L486.1 356.28 L486.4 356.41 L486.7 356.54 L487 356.67 L487.3 356.8 L487.6 356.93 L487.9 357.06 L488.2 357.19 L488.5 357.32 L488.8 357.45 L489.1 357.58 L489.4 357.71 L489.7 357.84 L490 357.97 L490.3 358.09 L490.6 358.22 L490.9 358.35 L491.2 358.48 L491.5 358.61 L491.8 358.74 L492.1 358.86 L492.4 358.99 L492.7 359.12 L493 359.24 L493.3 359.37 L493.6 359.49 L493.9 359.62 L494.2 359.74 L494.5 359.87 L494.8 359.99 L495.1 360.12 L495.4 360.24 L495.7 360.36 L496 360.48 L496.3 360.6 L496.6 360.72 L496.9 360.84 L497.2 360.96 L497.5 361.08 L497.8 361.2 L498.1 361.31 L498.4 361.43 L498.7 361.55 L499 361.66 L499.3 361.77 L499.6 361.89 L499.9 362 L500.2 362.11 L500.5 362.22 L500.8 362.33 L501.1 362.44 L501.4 362.55 L501.7 362.65 L502 362.76 L502.3 362.86 L502.6 362.97 L502.9 363.07 L503.2 363.17 L503.5 363.27 L503.8 363.37 L504.1 363.47 L504.4 363.57 L504.7 363.67 L505 363.77 L505.3 363.87 L505.6 363.96 L505.9 364.06 L506.2 364.16 L506.5 364.25 L506.8 364.35 L507.1 364.44 L507.4 364.54 L507.7 364.63 L508 364.72 L508.3 364.82 L508.6 364.91 L508.9 365 L509.2 365.09 L509.5 365.18 L509.8 365.27 L510.1 365.36 L510.4 365.45 L510.7 365.54 L511 365.63 L511.3 365.71 L511.6 365.8 L511.9 365.89 L512.2 365.97 L512.5 366.06 L512.8 366.15 L513.1 366.23 L513.4 366.32 L513.7 366.4 L514 366.48 L514.3 366.57 L514.6 366.65 L514.9 366.73 L515.2 366.82 L515.5 366.9 L515.8 366.98 L516.1 367.06 L516.4 367.14 L516.7 367.22 L517 367.3 L517.3 367.38 L517.6 367.46 L517.9 367.54 L518.2 367.62 L518.5 367.7 L518.8 367.77 L519.1 367.85 L519.4 367.93 L519.7 368.01 L520 368.08 L520.3 368.16 L520.6 368.24 L520.9 368.31 L521.2 368.39 L521.5 368.47 L521.8 368.54 L522.1 368.62 L522.4 368.7 L522.7 368.77 L523 368.85 L523.3 368.92 L523.6 369 L523.9 369.07 L524.2 369.15 L524.5 369.22 L524.8 369.3 L525.1 369.37 L525.4 369.44 L525.7 369.52 L526 369.59 L526.3 369.66 L526.6 369.74 L526.9 369.81 L527.2 369.88 L527.5 369.95 L527.8 370.03 L528.1 370.1 L528.4 370.17 L528.7 370.24 L529 370.31 L529.3 370.38 L529.6 370.45 L529.9 370.52 L530.2 370.59 L530.5 370.66 L530.8 370.73 L531.1 370.8 L531.4 370.87 L531.7 370.94 L532 371.01 L532.3 371.08 L532.6 371.15 L532.9 371.22 L533.2 371.28 L533.5 371.35 L533.8 371.42 L534.1 371.48 L534.4 371.55 L534.7 371.62 L535 371.68 L535.3 371.75 L535.6 371.81 L535.9 371.88 L536.2 371.94 L536.5 372.01 L536.8 372.07 L537.1 372.14 L537.4 372.2 L537.7 372.26 L538 372.33 L538.3 372.39 L538.6 372.45 L538.9 372.51 L539.2 372.57 L539.5 372.64 L539.8 372.7 L540.1 372.76 L540.4 372.82 L540.7 372.88 L541 372.94 L541.3 373 L541.6 373.06 L541.9 373.11 L542.2 373.17 L542.5 373.23 L542.8 373.29 L543.1 373.35 L543.4 373.4 L543.7 373.46 L544 373.52 L544.3 373.57 L544.6 373.63 L544.9 373.68" fill="none" stroke="#ff0000" stroke-width="2" stroke-dasharray="7 4"/>
<path d="M424 449 L424.3 449 L424.6 448.98 L424.9 448.96 L425.2 448.93 L425.5 448.9 L425.8 448.85 L426.1 448.79 L426.4 448.73 L426.7 448.65 L427 448.57 L427.3 448.48 L427.6 448.37 L427.9 448.26 L428.2 448.13 L428.5 448 L428.8 445.78 L429.1 439.97 L429.4 431.39 L429.7 420.89 L430 409.28 L430.3 397.41 L430.6 386.11 L430.9 376.21 L431.2 368.55 L431.5 363.95 L431.8 363.07 L432.1 364.06 L432.4 366.06 L432.7 368.9 L433 372.37 L433.3 376.29 L433.6 380.46 L433.9 384.71 L434.2 388.83 L434.5 392.64 L434.8 395.94 L435.1 398.76 L435.4 401.66 L435.7 404.61 L436 407.56 L436.3 410.44 L436.6 413.18 L436.9 415.73 L437.2 418.02 L437.5 419.99 L437.8 421.57 L438.1 422.7 L438.4 423.56 L438.7 424.39 L439 425.18 L439.3 425.93 L439.6 426.65 L439.9 427.34 L440.2 427.99 L440.5 428.61 L440.8 429.2 L441.1 429.76 L441.4 430.29 L441.7 430.79 L442 431.26 L442.3 431.71 L442.6 432.13 L442.9 432.53 L443.2 432.91 L443.5 433.26 L443.8 433.59 L444.1 433.91 L444.4 434.2 L444.7 434.47 L445 434.73 L445.3 434.97 L445.6 435.19 L445.9 435.4 L446.2 435.6 L446.5 435.79 L446.8 435.97 L447.1 436.15 L447.4 436.32 L447.7 436.49 L448 436.65 L448.3 436.81 L448.6 436.96 L448.9 437.11 L449.2 437.25 L449.5 437.38 L449.8 437.51 L450.1 437.64 L450.4 437.76 L450.7 437.87 L451 437.98 L451.3 438.08 L451.6 438.18 L451.9 438.27 L452.2 438.36 L452.5 438.44 L452.8 438.52 L453.1 438.58 L453.4 438.65 L453.7 438.7 L454 438.75 L454.3 438.8 L454.6 438.84 L454.9 438.88 L455.2 438.92 L455.5 438.96 L455.8 439 L456.1 439.04 L456.4 439.08 L456.7 439.11 L457 439.15 L457.3 439.19 L457.6 439.22 L457.9 439.26 L458.2 439.29 L458.5 439.32 L458.8 439.36 L459.1 439.39 L459.4 439.42 L459.7 439.45 L460 439.48 L460.3 439.51 L460.6 439.54 L460.9 439.57 L461.2 439.6 L461.5 439.63 L461.8 439.66 L462.1 439.68 L462.4 439.71 L462.7 439.74 L463 439.76 L463.3 439.79 L463.6 439.81 L463.9 439.84 L464.2 439.86 L464.5 439.88 L464.8 439.91 L465.1 439.93 L465.4 439.95 L465.7 439.97 L466 440 L466.3 440.02 L466.6 440.04 L466.9 440.06 L467.2 440.08 L467.5 440.1 L467.8 440.12 L468.1 440.14 L468.4 440.16 L468.7 440.18 L469 440.19 L469.3 440.21 L469.6 440.23 L469.9 440.25 L470.2 440.27 L470.5 440.28 L470.8 440.3 L471.1 440.32 L471.4 440.33 L471.7 440.35 L472 440.37 L472.3 440.38 L472.6 440.4 L472.9 440.41 L473.2 440.43 L473.5 440.44 L473.8 440.46 L474.1 440.47 L474.4 440.49 L474.7 440.5 L475 440.52 L475.3 440.53 L475.6 440.55 L475.9 440.56 L476.2 440.58 L476.5 440.59 L476.8 440.61 L477.1 440.62 L477.4 440.63 L477.7 440.65 L478 440.66 L478.3 440.68 L478.6 440.69 L478.9 440.71 L479.2 440.72 L479.5 440.73 L479.8 440.75 L480.1 440.76 L480.4 440.78 L480.7 440.79 L481 440.81 L481.3 440.82 L481.6 440.83 L481.9 440.85 L482.2 440.86 L482.5 440.88 L482.8 440.89 L483.1 440.91 L483.4 440.93 L483.7 440.94 L484 440.96 L484.3 440.97 L484.6 440.99 L484.9 441 L485.2 441.02 L485.5 441.04 L485.8 441.05 L486.1 441.07 L486.4 441.09 L486.7 441.11 L487 441.12 L487.3 441.14 L487.6 441.16 L487.9 441.17 L488.2 441.19 L488.5 441.21 L488.8 441.22 L489.1 441.24 L489.4 441.26 L489.7 441.27 L490 441.29 L490.3 441.31 L490.6 441.32 L490.9 441.34 L491.2 441.35 L491.5 441.37 L491.8 441.39 L492.1 441.4 L492.4 441.42 L492.7 441.43 L493 441.45 L493.3 441.46 L493.6 441.48 L493.9 441.49 L494.2 441.51 L494.5 441.52 L494.8 441.54 L495.1 441.55 L495.4 441.57 L495.7 441.58 L496 441.59 L496.3 441.61 L496.6 441.62 L496.9 441.64 L497.2 441.65 L497.5 441.67 L497.8 441.68 L498.1 441.69 L498.4 441.71 L498.7 441.72 L499 441.74 L499.3 441.75 L499.6 441.76 L499.9 441.78 L500.2 441.79 L500.5 441.8 L500.8 441.82 L501.1 441.83 L501.4 441.85 L501.7 441.86 L502 441.87 L502.3 441.89 L502.6 441.9 L502.9 441.91 L503.2 441.93 L503.5 441.94 L503.8 441.96 L504.1 441.97 L504.4 441.98 L504.7 442 L505 442.01 L505.3 442.02 L505.6 442.04 L505.9 442.05 L506.2 442.07 L506.5 442.08 L506.8 442.09 L507.1 442.11 L507.4 442.12 L507.7 442.13 L508 442.15 L508.3 442.16 L508.6 442.18 L508.9 442.19 L509.2 442.2 L509.5 442.22 L509.8 442.23 L510.1 442.25 L510.4 442.26 L510.7 442.28 L511 442.29 L511.3 442.3 L511.6 442.32 L511.9 442.33 L512.2 442.35 L512.5 442.36 L512.8 442.38 L513.1 442.39 L513.4 442.41 L513.7 442.42 L514 442.44 L514.3 442.45 L514.6 442.47 L514.9 442.48 L515.2 442.5 L515.5 442.52 L515.8 442.53 L516.1 442.55 L516.4 442.56 L516.7 442.58 L517 442.6 L517.3 442.61 L517.6 442.63 L517.9 442.64 L518.2 442.66 L518.5 442.68 L518.8 442.69 L519.1 442.71 L519.4 442.73 L519.7 442.75 L520 442.76 L520.3 442.78 L520.6 442.8 L520.9 442.81 L521.2 442.83 L521.5 442.85 L521.8 442.87 L522.1 442.88 L522.4 442.9 L522.7 442.92 L523 442.94 L523.3 442.96 L523.6 442.97 L523.9 442.99 L524.2 443.01 L524.5 443.03 L524.8 443.05 L525.1 443.07 L525.4 443.08 L525.7 443.1 L526 443.12 L526.3 443.14 L526.6 443.16 L526.9 443.18 L527.2 443.19 L527.5 443.21 L527.8 443.23 L528.1 443.25 L528.4 443.27 L528.7 443.29 L529 443.31 L529.3 443.33 L529.6 443.35 L529.9 443.37 L530.2 443.39 L530.5 443.4 L530.8 443.42 L531.1 443.44 L531.4 443.46 L531.7 443.48 L532 443.5 L532.3 443.52 L532.6 443.54 L532.9 443.56 L533.2 443.58 L533.5 443.6 L533.8 443.62 L534.1 443.64 L534.4 443.66 L534.7 443.68 L535 443.7 L535.3 443.72 L535.6 443.74 L535.9 443.76 L536.2 443.78 L536.5 443.8 L536.8 443.82 L537.1 443.84 L537.4 443.86 L537.7 443.89 L538 443.91 L538.3 443.93 L538.6 443.95 L538.9 443.97 L539.2 443.99 L539.5 444.01 L539.8 444.03 L540.1 444.05 L540.4 444.07 L540.7 444.09 L541 444.12 L541.3 444.14 L541.6 444.16 L541.9 444.18 L542.2 444.2 L542.5 444.22 L542.8 444.24 L543.1 444.26 L543.4 444.29 L543.7 444.31 L544 444.33 L544.3 444.35 L544.6 444.37 L544.9 444.39" fill="none" stroke="#0000ff" stroke-width="2" stroke-dasharray="7 4"/>
<path d="M424 449 L424.3 449 L424.6 449 L424.9 449 L425.2 449 L425.5 449 L425.8 449 L426.1 449 L426.4 449 L426.7 449 L427 449 L427.3 449 L427.6 449 L427.9 449 L428.2 449 L428.5 449 L428.8 449 L429.1 449 L429.4 449 L429.7 449 L430 449 L430.3 441.41 L430.6 421.96 L430.9 395.61 L431.2 367.3 L431.5 342 L431.8 324.68 L432.1 319.36 L432.4 317.58 L432.7 316.03 L433 314.68 L433.3 313.51 L433.6 312.5 L433.9 311.64 L434.2 310.9 L434.5 310.27 L434.8 309.72 L435.1 309.24 L435.4 308.81 L435.7 308.4 L436 308.01 L436.3 307.62 L436.6 307.25 L436.9 306.89 L437.2 306.56 L437.5 306.24 L437.8 305.94 L438.1 305.67 L438.4 305.43 L438.7 305.22 L439 305.04 L439.3 304.89 L439.6 304.79 L439.9 304.72 L440.2 304.7 L440.5 304.7 L440.8 304.72 L441.1 304.74 L441.4 304.77 L441.7 304.8 L442 304.84 L442.3 304.89 L442.6 304.94 L442.9 305 L443.2 305.06 L443.5 305.13 L443.8 305.2 L444.1 305.27 L444.4 305.35 L444.7 305.43 L445 305.51 L445.3 305.59 L445.6 305.67 L445.9 305.76 L446.2 305.86 L446.5 305.98 L446.8 306.11 L447.1 306.25 L447.4 306.41 L447.7 306.58 L448 306.76 L448.3 306.95 L448.6 307.15 L448.9 307.35 L449.2 307.57 L449.5 307.79 L449.8 308.01 L450.1 308.24 L450.4 308.47 L450.7 308.71 L451 308.94 L451.3 309.18 L451.6 309.41 L451.9 309.65 L452.2 309.88 L452.5 310.11 L452.8 310.33 L453.1 310.55 L453.4 310.76 L453.7 310.97 L454 311.17 L454.3 311.37 L454.6 311.57 L454.9 311.77 L455.2 311.98 L455.5 312.2 L455.8 312.41 L456.1 312.63 L456.4 312.85 L456.7 313.07 L457 313.29 L457.3 313.52 L457.6 313.74 L457.9 313.97 L458.2 314.19 L458.5 314.42 L458.8 314.64 L459.1 314.87 L459.4 315.09 L459.7 315.32 L460 315.54 L460.3 315.76 L460.6 315.98 L460.9 316.2 L461.2 316.41 L461.5 316.63 L461.8 316.84 L462.1 317.05 L462.4 317.25 L462.7 317.45 L463 317.65 L463.3 317.84 L463.6 318.03 L463.9 318.21 L464.2 318.39 L464.5 318.57 L464.8 318.73 L465.1 318.9 L465.4 319.05 L465.7 319.2 L466 319.35 L466.3 319.49 L466.6 319.62 L466.9 319.74 L467.2 319.86 L467.5 319.97 L467.8 320.07 L468.1 320.17 L468.4 320.26 L468.7 320.36 L469 320.45 L469.3 320.55 L469.6 320.64 L469.9 320.72 L470.2 320.81 L470.5 320.9 L470.8 320.98 L471.1 321.06 L471.4 321.14 L471.7 321.22 L472 321.3 L472.3 321.38 L472.6 321.45 L472.9 321.52 L473.2 321.6 L473.5 321.67 L473.8 321.74 L474.1 321.81 L474.4 321.87 L474.7 321.94 L475 322.01 L475.3 322.07 L475.6 322.14 L475.9 322.2 L476.2 322.26 L476.5 322.32 L476.8 322.38 L477.1 322.44 L477.4 322.5 L477.7 322.56 L478 322.62 L478.3 322.68 L478.6 322.73 L478.9 322.79 L479.2 322.84 L479.5 322.9 L479.8 322.96 L480.1 323.01 L480.4 323.06 L480.7 323.12 L481 323.17 L481.3 323.23 L481.6 323.28 L481.9 323.33 L482.2 323.39 L482.5 323.44 L482.8 323.5 L483.1 323.55 L483.4 323.6 L483.7 323.66 L484 323.71 L484.3 323.77 L484.6 323.82 L484.9 323.88 L485.2 323.93 L485.5 323.99 L485.8 324.05 L486.1 324.1 L486.4 324.16 L486.7 324.22 L487 324.28 L487.3 324.34 L487.6 324.39 L487.9 324.45 L488.2 324.51 L488.5 324.57 L488.8 324.62 L489.1 324.68 L489.4 324.74 L489.7 324.79 L490 324.85 L490.3 324.91 L490.6 324.96 L490.9 325.02 L491.2 325.07 L491.5 325.13 L491.8 325.19 L492.1 325.24 L492.4 325.3 L492.7 325.35 L493 325.41 L493.3 325.46 L493.6 325.52 L493.9 325.57 L494.2 325.62 L494.5 325.68 L494.8 325.73 L495.1 325.79 L495.4 325.84 L495.7 325.89 L496 325.95 L496.3 326 L496.6 326.05 L496.9 326.11 L497.2 326.16 L497.5 326.21 L497.8 326.26 L498.1 326.32 L498.4 326.37 L498.7 326.42 L499 326.47 L499.3 326.52 L499.6 326.58 L499.9 326.63 L500.2 326.68 L500.5 326.73 L500.8 326.78 L501.1 326.83 L501.4 326.88 L501.7 326.94 L502 326.99 L502.3 327.04 L502.6 327.09 L502.9 327.14 L503.2 327.19 L503.5 327.24 L503.8 327.29 L504.1 327.34 L504.4 327.39 L504.7 327.44 L505 327.49 L505.3 327.54 L505.6 327.59 L505.9 327.64 L506.2 327.69 L506.5 327.74 L506.8 327.78 L507.1 327.83 L507.4 327.88 L507.7 327.93 L508 327.98 L508.3 328.03 L508.6 328.08 L508.9 328.13 L509.2 328.17 L509.5 328.22 L509.8 328.27 L510.1 328.32 L510.4 328.37 L510.7 328.41 L511 328.46 L511.3 328.51 L511.6 328.56 L511.9 328.61 L512.2 328.65 L512.5 328.7 L512.8 328.75 L513.1 328.8 L513.4 328.84 L513.7 328.89 L514 328.94 L514.3 328.98 L514.6 329.03 L514.9 329.08 L515.2 329.13 L515.5 329.17 L515.8 329.22 L516.1 329.27 L516.4 329.31 L516.7 329.36 L517 329.41 L517.3 329.45 L517.6 329.5 L517.9 329.55 L518.2 329.59 L518.5 329.64 L518.8 329.68 L519.1 329.73 L519.4 329.78 L519.7 329.82 L520 329.87 L520.3 329.91 L520.6 329.96 L520.9 330.01 L521.2 330.05 L521.5 330.1 L521.8 330.14 L522.1 330.19 L522.4 330.23 L522.7 330.28 L523 330.32 L523.3 330.37 L523.6 330.41 L523.9 330.46 L524.2 330.5 L524.5 330.55 L524.8 330.59 L525.1 330.64 L525.4 330.68 L525.7 330.73 L526 330.77 L526.3 330.82 L526.6 330.86 L526.9 330.9 L527.2 330.95 L527.5 330.99 L527.8 331.04 L528.1 331.08 L528.4 331.12 L528.7 331.17 L529 331.21 L529.3 331.25 L529.6 331.3 L529.9 331.34 L530.2 331.38 L530.5 331.43 L530.8 331.47 L531.1 331.51 L531.4 331.55 L531.7 331.6 L532 331.64 L532.3 331.68 L532.6 331.72 L532.9 331.77 L533.2 331.81 L533.5 331.85 L533.8 331.89 L534.1 331.93 L534.4 331.98 L534.7 332.02 L535 332.06 L535.3 332.1 L535.6 332.14 L535.9 332.18 L536.2 332.23 L536.5 332.27 L536.8 332.31 L537.1 332.35 L537.4 332.39 L537.7 332.43 L538 332.47 L538.3 332.51 L538.6 332.55 L538.9 332.59 L539.2 332.63 L539.5 332.68 L539.8 332.72 L540.1 332.76 L540.4 332.8 L540.7 332.84 L541 332.88 L541.3 332.92 L541.6 332.96 L541.9 333 L542.2 333.03 L542.5 333.07 L542.8 333.11 L543.1 333.15 L543.4 333.19 L543.7 333.23 L544 333.27 L544.3 333.31 L544.6 333.35 L544.9 333.39" fill="none" stroke="#ff0000" stroke-width="2"/>
<path d="M424 449 L424.3 449 L424.6 449 L424.9 449 L425.2 449 L425.5 449 L425.8 449 L426.1 449 L426.4 449 L426.7 449 L427 449 L427.3 449 L427.6 449 L427.9 449 L428.2 449 L428.5 449 L428.8 449 L429.1 449 L429.4 449 L429.7 449 L430 449 L430.3 445.92 L430.6 437.48 L430.9 424.87 L431.2 409.28 L431.5 391.91 L431.8 373.94 L432.1 356.58 L432.4 341 L432.7 328.41 L433 320 L433.3 314.49 L433.6 309.71 L433.9 305.56 L434.2 301.91 L434.5 298.63 L434.8 295.6 L435.1 292.73 L435.4 290 L435.7 287.43 L436 285.01 L436.3 282.75 L436.6 280.67 L436.9 278.76 L437.2 277.03 L437.5 275.5 L437.8 274.08 L438.1 272.69 L438.4 271.35 L438.7 270.07 L439 268.85 L439.3 267.71 L439.6 266.65 L439.9 265.68 L440.2 264.82 L440.5 264.06 L440.8 263.43 L441.1 262.94 L441.4 262.55 L441.7 262.18 L442 261.82 L442.3 261.47 L442.6 261.14 L442.9 260.82 L443.2 260.51 L443.5 260.23 L443.8 259.95 L444.1 259.7 L444.4 259.46 L444.7 259.24 L445 259.03 L445.3 258.85 L445.6 258.69 L445.9 258.55 L446.2 258.44 L446.5 258.34 L446.8 258.27 L447.1 258.22 L447.4 258.2 L447.7 258.2 L448 258.22 L448.3 258.25 L448.6 258.3 L448.9 258.36 L449.2 258.43 L449.5 258.51 L449.8 258.61 L450.1 258.71 L450.4 258.82 L450.7 258.94 L451 259.07 L451.3 259.2 L451.6 259.34 L451.9 259.49 L452.2 259.64 L452.5 259.79 L452.8 259.95 L453.1 260.11 L453.4 260.27 L453.7 260.43 L454 260.58 L454.3 260.74 L454.6 260.9 L454.9 261.05 L455.2 261.21 L455.5 261.38 L455.8 261.57 L456.1 261.76 L456.4 261.95 L456.7 262.16 L457 262.37 L457.3 262.6 L457.6 262.82 L457.9 263.06 L458.2 263.3 L458.5 263.54 L458.8 263.79 L459.1 264.04 L459.4 264.29 L459.7 264.55 L460 264.81 L460.3 265.07 L460.6 265.33 L460.9 265.59 L461.2 265.86 L461.5 266.12 L461.8 266.38 L462.1 266.64 L462.4 266.89 L462.7 267.15 L463 267.4 L463.3 267.64 L463.6 267.88 L463.9 268.12 L464.2 268.36 L464.5 268.59 L464.8 268.84 L465.1 269.08 L465.4 269.33 L465.7 269.58 L466 269.83 L466.3 270.09 L466.6 270.34 L466.9 270.6 L467.2 270.85 L467.5 271.11 L467.8 271.36 L468.1 271.61 L468.4 271.87 L468.7 272.11 L469 272.36 L469.3 272.6 L469.6 272.84 L469.9 273.08 L470.2 273.31 L470.5 273.53 L470.8 273.75 L471.1 273.97 L471.4 274.17 L471.7 274.37 L472 274.57 L472.3 274.75 L472.6 274.93 L472.9 275.09 L473.2 275.25 L473.5 275.41 L473.8 275.56 L474.1 275.7 L474.4 275.84 L474.7 275.98 L475 276.12 L475.3 276.26 L475.6 276.39 L475.9 276.52 L476.2 276.64 L476.5 276.77 L476.8 276.89 L477.1 277.01 L477.4 277.12 L477.7 277.24 L478 277.35 L478.3 277.46 L478.6 277.57 L478.9 277.68 L479.2 277.79 L479.5 277.9 L479.8 278 L480.1 278.1 L480.4 278.21 L480.7 278.31 L481 278.41 L481.3 278.51 L481.6 278.62 L481.9 278.72 L482.2 278.82 L482.5 278.92 L482.8 279.02 L483.1 279.12 L483.4 279.22 L483.7 279.32 L484 279.43 L484.3 279.53 L484.6 279.63 L484.9 279.74 L485.2 279.85 L485.5 279.95 L485.8 280.06 L486.1 280.17 L486.4 280.28 L486.7 280.39 L487 280.51 L487.3 280.62 L487.6 280.73 L487.9 280.84 L488.2 280.95 L488.5 281.06 L488.8 281.18 L489.1 281.29 L489.4 281.4 L489.7 281.51 L490 281.63 L490.3 281.74 L490.6 281.85 L490.9 281.96 L491.2 282.07 L491.5 282.19 L491.8 282.3 L492.1 282.41 L492.4 282.52 L492.7 282.63 L493 282.74 L493.3 282.85 L493.6 282.97 L493.9 283.08 L494.2 283.19 L494.5 283.3 L494.8 283.4 L495.1 283.51 L495.4 283.62 L495.7 283.73 L496 283.84 L496.3 283.95 L496.6 284.05 L496.9 284.16 L497.2 284.26 L497.5 284.37 L497.8 284.47 L498.1 284.58 L498.4 284.68 L498.7 284.79 L499 284.89 L499.3 284.99 L499.6 285.09 L499.9 285.19 L500.2 285.29 L500.5 285.39 L500.8 285.48 L501.1 285.58 L501.4 285.68 L501.7 285.77 L502 285.87 L502.3 285.96 L502.6 286.05 L502.9 286.14 L503.2 286.23 L503.5 286.32 L503.8 286.41 L504.1 286.5 L504.4 286.59 L504.7 286.67 L505 286.76 L505.3 286.84 L505.6 286.93 L505.9 287.01 L506.2 287.09 L506.5 287.18 L506.8 287.26 L507.1 287.34 L507.4 287.42 L507.7 287.5 L508 287.58 L508.3 287.66 L508.6 287.74 L508.9 287.82 L509.2 287.9 L509.5 287.98 L509.8 288.05 L510.1 288.13 L510.4 288.21 L510.7 288.28 L511 288.36 L511.3 288.43 L511.6 288.51 L511.9 288.58 L512.2 288.66 L512.5 288.73 L512.8 288.8 L513.1 288.88 L513.4 288.95 L513.7 289.02 L514 289.09 L514.3 289.16 L514.6 289.24 L514.9 289.31 L515.2 289.38 L515.5 289.45 L515.8 289.52 L516.1 289.59 L516.4 289.66 L516.7 289.73 L517 289.8 L517.3 289.86 L517.6 289.93 L517.9 290 L518.2 290.07 L518.5 290.14 L518.8 290.2 L519.1 290.27 L519.4 290.34 L519.7 290.41 L520 290.47 L520.3 290.54 L520.6 290.6 L520.9 290.67 L521.2 290.74 L521.5 290.8 L521.8 290.87 L522.1 290.93 L522.4 291 L522.7 291.07 L523 291.13 L523.3 291.2 L523.6 291.26 L523.9 291.33 L524.2 291.39 L524.5 291.45 L524.8 291.52 L525.1 291.58 L525.4 291.65 L525.7 291.71 L526 291.77 L526.3 291.84 L526.6 291.9 L526.9 291.96 L527.2 292.03 L527.5 292.09 L527.8 292.15 L528.1 292.22 L528.4 292.28 L528.7 292.34 L529 292.4 L529.3 292.46 L529.6 292.52 L529.9 292.59 L530.2 292.65 L530.5 292.71 L530.8 292.77 L531.1 292.83 L531.4 292.89 L531.7 292.95 L532 293.01 L532.3 293.07 L532.6 293.13 L532.9 293.19 L533.2 293.25 L533.5 293.31 L533.8 293.37 L534.1 293.42 L534.4 293.48 L534.7 293.54 L535 293.6 L535.3 293.66 L535.6 293.71 L535.9 293.77 L536.2 293.83 L536.5 293.89 L536.8 293.94 L537.1 294 L537.4 294.05 L537.7 294.11 L538 294.17 L538.3 294.22 L538.6 294.28 L538.9 294.33 L539.2 294.39 L539.5 294.44 L539.8 294.5 L540.1 294.55 L540.4 294.6 L540.7 294.66 L541 294.71 L541.3 294.76 L541.6 294.82 L541.9 294.87 L542.2 294.92 L542.5 294.98 L542.8 295.03 L543.1 295.08 L543.4 295.13 L543.7 295.18 L544 295.23 L544.3 295.28 L544.6 295.33 L544.9 295.38" fill="none" stroke="#0000ff" stroke-width="2"/>
</g>
<text x="528.4" y="284" font-size="11.5" text-anchor="middle" fill="#2020ff">Q</text>
<text x="528.6" y="349.5" font-size="11.5" text-anchor="middle" fill="#ff1010">Q</text>
<text x="528.6" y="389" font-size="11.5" text-anchor="middle" fill="#ff1010">Γ</text>
<text x="528.6" y="437" font-size="11.5" text-anchor="middle" fill="#2020ff">Γ</text>
<g fill="url(#gDown)"><path d="M507.3 290 L507.3 315.5 L503.9 315.5 L508.7 325.5 L513.5 315.5 L510.1 315.5 L510.1 290 Z" /></g>
<g fill="url(#gUp)"><path d="M507.1 426 L507.1 402 L503.7 402 L508.5 392 L513.3 402 L509.9 402 L509.9 426 Z" /></g>
<g fill="url(#gDown)"><path d="M656.7 329 L656.7 353.6 L653.3 353.6 L658.1 363.6 L662.9 353.6 L659.5 353.6 L659.5 329 Z" /></g>
<g fill="url(#gUp)"><path d="M656.7 447 L656.7 423 L653.3 423 L658.1 413 L662.9 423 L659.5 423 L659.5 447 Z" /></g>
<path d="M562 448.5 L566 447.5 L569 440 L571 410 L573.5 385 L575.6 380.2 L577.9 383.1 L580.8 386 L583.7 395.4 L586.6 401.8 L591 405.6 L596.9 410 L602.1 413.5 L607.6 418.7 L612.9 418.7 L618.1 418.7 L624 419.3 L629.8 418.7 L634.8 424.5 L680 427.5" fill="none" stroke="#ff2020" stroke-width="1.2" stroke-dasharray="5 3"/>
<path d="M562 448.5 L565 448 L568 447 L570.5 440 L572 425 L573.7 415.8 L575.8 411.7 L578 409.2 L580 414.2 L582.5 418 L584.5 425.8 L586.7 429.2 L588.8 430.3 L590.8 435.8 L596.3 437.5 L602.2 441.3 L607.7 440.8 L613 442.5 L618.3 443.7 L624.2 442.5 L630 444.7 L635.3 443.7 L679.7 444.7" fill="none" stroke="#2020ff" stroke-width="1.2" stroke-dasharray="5 3"/>
<circle cx="571" cy="410" r="2.1" fill="#fff" stroke="#ff2020" stroke-width="0.8"/>
<circle cx="573.5" cy="385" r="2.1" fill="#fff" stroke="#ff2020" stroke-width="0.8"/>
<circle cx="575.6" cy="380.2" r="2.1" fill="#fff" stroke="#ff2020" stroke-width="0.8"/>
<circle cx="577.9" cy="383.1" r="2.1" fill="#fff" stroke="#ff2020" stroke-width="0.8"/>
<circle cx="580.8" cy="386" r="2.1" fill="#fff" stroke="#ff2020" stroke-width="0.8"/>
<circle cx="583.7" cy="395.4" r="2.1" fill="#fff" stroke="#ff2020" stroke-width="0.8"/>
<circle cx="586.6" cy="401.8" r="2.1" fill="#fff" stroke="#ff2020" stroke-width="0.8"/>
<circle cx="591" cy="405.6" r="2.1" fill="#fff" stroke="#ff2020" stroke-width="0.8"/>
<circle cx="596.9" cy="410" r="2.1" fill="#fff" stroke="#ff2020" stroke-width="0.8"/>
<circle cx="602.1" cy="413.5" r="2.1" fill="#fff" stroke="#ff2020" stroke-width="0.8"/>
<circle cx="607.6" cy="418.7" r="2.1" fill="#fff" stroke="#ff2020" stroke-width="0.8"/>
<circle cx="612.9" cy="418.7" r="2.1" fill="#fff" stroke="#ff2020" stroke-width="0.8"/>
<circle cx="618.1" cy="418.7" r="2.1" fill="#fff" stroke="#ff2020" stroke-width="0.8"/>
<circle cx="624" cy="419.3" r="2.1" fill="#fff" stroke="#ff2020" stroke-width="0.8"/>
<circle cx="629.8" cy="418.7" r="2.1" fill="#fff" stroke="#ff2020" stroke-width="0.8"/>
<circle cx="634.8" cy="424.5" r="2.1" fill="#fff" stroke="#ff2020" stroke-width="0.8"/>
<circle cx="680" cy="427.5" r="2.1" fill="#fff" stroke="#ff2020" stroke-width="0.8"/>
<circle cx="570.5" cy="440" r="2.1" fill="#fff" stroke="#2020ff" stroke-width="0.8"/>
<circle cx="572" cy="425" r="2.1" fill="#fff" stroke="#2020ff" stroke-width="0.8"/>
<circle cx="573.7" cy="415.8" r="2.1" fill="#fff" stroke="#2020ff" stroke-width="0.8"/>
<circle cx="575.8" cy="411.7" r="2.1" fill="#fff" stroke="#2020ff" stroke-width="0.8"/>
<circle cx="578" cy="409.2" r="2.1" fill="#fff" stroke="#2020ff" stroke-width="0.8"/>
<circle cx="580" cy="414.2" r="2.1" fill="#fff" stroke="#2020ff" stroke-width="0.8"/>
<circle cx="582.5" cy="418" r="2.1" fill="#fff" stroke="#2020ff" stroke-width="0.8"/>
<circle cx="584.5" cy="425.8" r="2.1" fill="#fff" stroke="#2020ff" stroke-width="0.8"/>
<circle cx="586.7" cy="429.2" r="2.1" fill="#fff" stroke="#2020ff" stroke-width="0.8"/>
<circle cx="588.8" cy="430.3" r="2.1" fill="#fff" stroke="#2020ff" stroke-width="0.8"/>
<circle cx="590.8" cy="435.8" r="2.1" fill="#fff" stroke="#2020ff" stroke-width="0.8"/>
<circle cx="596.3" cy="437.5" r="2.1" fill="#fff" stroke="#2020ff" stroke-width="0.8"/>
<circle cx="602.2" cy="441.3" r="2.1" fill="#fff" stroke="#2020ff" stroke-width="0.8"/>
<circle cx="607.7" cy="440.8" r="2.1" fill="#fff" stroke="#2020ff" stroke-width="0.8"/>
<circle cx="613" cy="442.5" r="2.1" fill="#fff" stroke="#2020ff" stroke-width="0.8"/>
<circle cx="618.3" cy="443.7" r="2.1" fill="#fff" stroke="#2020ff" stroke-width="0.8"/>
<circle cx="624.2" cy="442.5" r="2.1" fill="#fff" stroke="#2020ff" stroke-width="0.8"/>
<circle cx="630" cy="444.7" r="2.1" fill="#fff" stroke="#2020ff" stroke-width="0.8"/>
<circle cx="635.3" cy="443.7" r="2.1" fill="#fff" stroke="#2020ff" stroke-width="0.8"/>
<circle cx="679.7" cy="444.7" r="2.1" fill="#fff" stroke="#2020ff" stroke-width="0.8"/>
<path d="M562 448.5 L564 448 L566 447 L568.5 441 L570 420 L571.5 378.8 L573.5 367 L575.6 356.9 L577.9 352.2 L580.2 348.7 L582.3 346.4 L584.3 346.4 L586.6 353.1 L589.6 356 L596 361.9 L601.8 365.7 L607.6 369.2 L612.9 371.5 L619.3 376.4 L624.5 376.4 L629.8 377.9 L635.6 383.1 L680 393.9" fill="none" stroke="#ff0000" stroke-width="1.4"/>
<path d="M562 447.8 L563.3 447.5 L565 446.7 L566.7 447.5 L569.2 435.8 L573 328.9 L575.6 286.1 L577.7 284.1 L579.5 277.6 L582.1 275.7 L584.2 273.6 L586.6 270.3 L588.6 277.8 L591.3 271.6 L596.7 261.1 L602.2 267.4 L607.7 274.7 L613.4 275.7 L618.6 282 L624.1 280.4 L629.5 292.1 L635.5 290.8 L680 328.6" fill="none" stroke="#0000ff" stroke-width="1.4"/>
<circle cx="564" cy="448" r="2.0" fill="#e00000"/>
<circle cx="566" cy="447" r="2.0" fill="#e00000"/>
<circle cx="568.5" cy="441" r="2.0" fill="#e00000"/>
<circle cx="570" cy="420" r="2.0" fill="#e00000"/>
<circle cx="571.5" cy="378.8" r="2.0" fill="#e00000"/>
<circle cx="573.5" cy="367" r="2.0" fill="#e00000"/>
<circle cx="575.6" cy="356.9" r="2.0" fill="#e00000"/>
<circle cx="577.9" cy="352.2" r="2.0" fill="#e00000"/>
<circle cx="580.2" cy="348.7" r="2.0" fill="#e00000"/>
<circle cx="582.3" cy="346.4" r="2.0" fill="#e00000"/>
<circle cx="584.3" cy="346.4" r="2.0" fill="#e00000"/>
<circle cx="586.6" cy="353.1" r="2.0" fill="#e00000"/>
<circle cx="589.6" cy="356" r="2.0" fill="#e00000"/>
<circle cx="596" cy="361.9" r="2.0" fill="#e00000"/>
<circle cx="601.8" cy="365.7" r="2.0" fill="#e00000"/>
<circle cx="607.6" cy="369.2" r="2.0" fill="#e00000"/>
<circle cx="612.9" cy="371.5" r="2.0" fill="#e00000"/>
<circle cx="619.3" cy="376.4" r="2.0" fill="#e00000"/>
<circle cx="624.5" cy="376.4" r="2.0" fill="#e00000"/>
<circle cx="629.8" cy="377.9" r="2.0" fill="#e00000"/>
<circle cx="635.6" cy="383.1" r="2.0" fill="#e00000"/>
<circle cx="680" cy="393.9" r="2.0" fill="#e00000"/>
<circle cx="563.3" cy="447.5" r="2.2" fill="#0000e0"/>
<circle cx="565" cy="446.7" r="2.2" fill="#0000e0"/>
<circle cx="566.7" cy="447.5" r="2.2" fill="#0000e0"/>
<circle cx="569.2" cy="435.8" r="2.2" fill="#0000e0"/>
<circle cx="573" cy="328.9" r="2.2" fill="#0000e0"/>
<circle cx="575.6" cy="286.1" r="2.2" fill="#0000e0"/>
<circle cx="577.7" cy="284.1" r="2.2" fill="#0000e0"/>
<circle cx="579.5" cy="277.6" r="2.2" fill="#0000e0"/>
<circle cx="582.1" cy="275.7" r="2.2" fill="#0000e0"/>
<circle cx="584.2" cy="273.6" r="2.2" fill="#0000e0"/>
<circle cx="586.6" cy="270.3" r="2.2" fill="#0000e0"/>
<circle cx="588.6" cy="277.8" r="2.2" fill="#0000e0"/>
<circle cx="591.3" cy="271.6" r="2.2" fill="#0000e0"/>
<circle cx="596.7" cy="261.1" r="2.2" fill="#0000e0"/>
<circle cx="602.2" cy="267.4" r="2.2" fill="#0000e0"/>
<circle cx="607.7" cy="274.7" r="2.2" fill="#0000e0"/>
<circle cx="613.4" cy="275.7" r="2.2" fill="#0000e0"/>
<circle cx="618.6" cy="282" r="2.2" fill="#0000e0"/>
<circle cx="624.1" cy="280.4" r="2.2" fill="#0000e0"/>
<circle cx="629.5" cy="292.1" r="2.2" fill="#0000e0"/>
<circle cx="635.5" cy="290.8" r="2.2" fill="#0000e0"/>
<circle cx="680" cy="328.6" r="2.2" fill="#0000e0"/>
<text x="672" y="310.5" font-size="11.5" text-anchor="middle" fill="#2020ff">Q</text>
<text x="672" y="381.5" font-size="11.5" text-anchor="middle" fill="#ff1010">Q</text>
<text x="672" y="418.6" font-size="11.5" text-anchor="middle" fill="#ff1010">Γ</text>
<text x="672" y="439.6" font-size="11.5" text-anchor="middle" fill="#2020ff">Γ</text>
</svg>
</body></html>
